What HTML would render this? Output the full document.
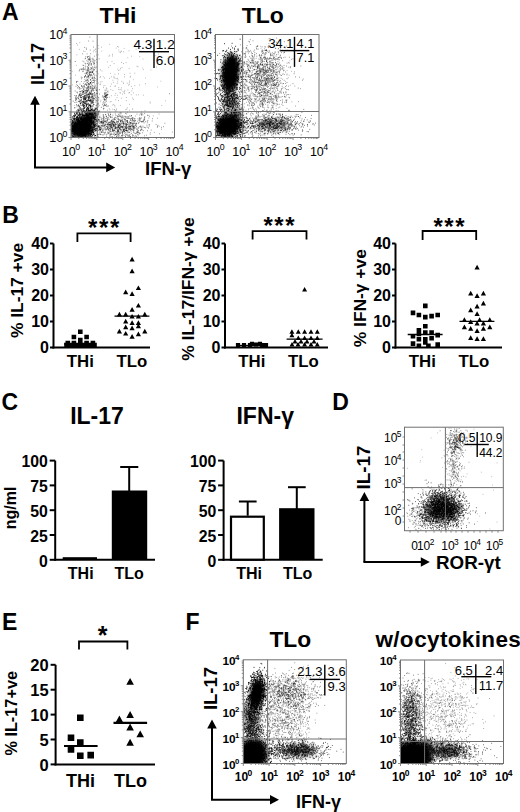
<!DOCTYPE html>
<html><head><meta charset="utf-8"><style>
html,body{margin:0;padding:0;background:#fff;width:520px;height:812px;overflow:hidden}
svg{display:block}
text{font-family:"Liberation Sans",sans-serif;fill:#000}
</style></head><body>
<svg width="520" height="812" viewBox="0 0 520 812">
<defs><filter id="b2_2" x="-50%" y="-50%" width="200%" height="200%"><feGaussianBlur stdDeviation="2.2"/></filter><filter id="b2_5" x="-50%" y="-50%" width="200%" height="200%"><feGaussianBlur stdDeviation="2.5"/></filter><filter id="b3" x="-50%" y="-50%" width="200%" height="200%"><feGaussianBlur stdDeviation="3"/></filter><filter id="b3_5" x="-50%" y="-50%" width="200%" height="200%"><feGaussianBlur stdDeviation="3.5"/></filter></defs>
<text x="2" y="20.3" font-size="23" font-weight="bold" text-anchor="start" >A</text>
<text x="2.3" y="222.8" font-size="23" font-weight="bold" text-anchor="start" >B</text>
<text x="1.5" y="409.8" font-size="23" font-weight="bold" text-anchor="start" >C</text>
<text x="332.2" y="409.6" font-size="23" font-weight="bold" text-anchor="start" >D</text>
<text x="2" y="629.6" font-size="23" font-weight="bold" text-anchor="start" >E</text>
<text x="185.5" y="629.6" font-size="23" font-weight="bold" text-anchor="start" >F</text>
<text x="118" y="23.2" font-size="23" font-weight="bold" text-anchor="middle" transform="translate(118 23.2) scale(1 0.93) translate(-118 -23.2)">THi</text>
<text x="262.8" y="23.2" font-size="23" font-weight="bold" text-anchor="middle" transform="translate(262.8 23.2) scale(1 0.93) translate(-262.8 -23.2)">TLo</text>
<clipPath id="c1"><rect x="71" y="34.5" width="103.5" height="103.0"/></clipPath><g clip-path="url(#c1)">
<ellipse cx="81" cy="129" rx="12" ry="10" fill="#000" opacity="1" filter="url(#b2_2)"/>
<ellipse cx="87" cy="121" rx="12" ry="6.5" fill="#000" opacity="0.9" filter="url(#b2_5)" transform="rotate(-45 87 121)"/>
<path d="M133.3 79.7h0m-23.6-24.5h0m11.9 43h0m38.7-55.9h0m-30.8 67.9h0m15.9-32.1h0m-9.3-28.9h0m-16.1 20.7h0m-16.8 6.8h0m-4.7 6.3h0m58-16h0m-6.3 36.1h0m-26.1-54.7h0m-7 35.2h0m41.2-29.5h0m9.6-12.8h0m-7 39.9h0m8.8 12.7h0m-7.9 11.6h0m-6-49.9h0m-25.2 20.7h0m-22.9 29.8h0m11.1-56.1h0m-2.7-1.9h0m-6.8 60.6h0m9.2-61.7h0m-11.1 44.5h0m-2.6 9.3h0m23-43h0m-24.5 28h0m39.8-26.8h0m-33.4-14.6h0m0.7 29h0m-12.1-27.8h0m52.6 24.3h0m16.9-11.5h0m-24.6-7h0m-3.4 5.2h0m-23.4 54.4h0m-18.7-19.7h0m22.2 1.4h0m21-41.7h0m-25.9 55.9h0m53-57.2h0m-24.7 20h0m-26.3 28h0m-10.1-8.8h0m-5.1-37.7h0m-3-2.8h0m70.6 45.2h0m-3.9 7.2h0m-64.6-0.6h0m20.3-49.2h0m32.8-4.6h0m-31.1 44.9h0m20.6 3.9h0m13.9-8.2h0m-60.1-10h0m25.9 5.3h0m19.6-14.1h0" stroke="#000" stroke-width="1.0" stroke-linecap="round" opacity="0.3" fill="none"/>
<path d="M126.1 62.6h0m1.1 20.6h0m-21 22h0m3.7 4.7h0m11.5-47.5h0m4.4 47.2h0m11.2-43.4h0m-28.3 1.1h0m24 30.7h0m-19.8-7.6h0m16.6 2.1h0m-3.2 8.1h0m-45.9-9h0m40.9 21.1h0m-11-26.3h0m14.6 3.9h0m4.6 14h0m-28.8-2.6h0m21.8-7.6h0m-9.2-11.7h0m-7.2 12.9h0m18.5-20.7h0m25.5-25.6h0m-35 46.4h0m5.2 10.2h0m0.3-12.6h0m-9.8-3.4h0m8-0.1h0m-20 9.1h0m5.2 4.8h0m-11.9-23.1h0m31.9 11.8h0m-9.1-17.9h0m6.2-22.7h0m-10.9 14h0m-9.9 16.5h0m26 15.5h0m-13.5 11.8h0m-4.8-17h0m23.8-1.4h0m-16.8-4.4h0m-29.4-17.8h0m27.3 11.5h0m4.5-1.9h0m-23.5 31.7h0m20.9-4.5h0m-20.7-25h0m-5.2 16.1h0m45.9-10.9h0m-37.8 13.1h0m29.8 10.3h0m-12.9-32.9h0m5.2-24.3h0m-4.3 26.1h0m0.9 21.8h0m7.8-48h0m9 36.9h0m-3.2-5.9h0m-11.8-36.3h0m-5.1 9.5h0m16.3 29.2h0m-13.5 0.6h0m-3.2-24.4h0m6.5 12.4h0m-10.9 36.4h0m-17.6-38.8h0m5.5 28.8h0m32.4-10.2h0m-23-4.5h0m29.9-12.3h0m10.6 10.5h0m-25.3 36.1h0m-6.2-42.1h0m6.2 12h0m-8.5-12.9h0m-0.3 18.9h0m13.4-3.9h0m7.6 27.6h0m-10.5-38.1h0m3.3 43.2h0m-15.8-27.2h0m11.3-29h0m-0.2-15.7h0m10.8 42.1h0m-27.7 14.7h0m-3.5-24.9h0m31.4-28.3h0m-2.4-5.4h0m-10.6 49.8h0m11.6-27.4h0m20.1 28.9h0m-47.6-6.5h0m-2.5-18.2h0m15.8 16h0m3-5.7h0m10.1 5.3h0m-26.9-22h0m7.4 7.4h0m28.6-11.6h0m-8.9 1.8h0m-33 29h0m21.9-17.7h0m3.3 8h0m12 11.5h0m6.4-14.4h0m-39.2-15.2h0m5.8 22.8h0m32.3 2.2h0m-7.3-8.4h0m-10 3.5h0m0.7-22.3h0m-16.7 44.6h0m19-18.6h0m-22.3-11.9h0m-6 7.5h0m31.2 18.6h0m-14.4-2.7h0m5.9-34.6h0m10.7 10.6h0m-31.3-26.2h0m19.6 27.1h0m9.7 50.6h0m-17.3-30.8h0m-2.8-39.9h0m1.7-5.7h0m-4.4 21.8h0m9.5-14.4h0m-3 38h0m-7.2-5.5h0m8.6-41.7h0m27 67.9h0m-3.2-27.4h0m-6.1-17.7h0m-29.5 6.9h0m-10.1 22.8h0m38.6-22.5h0m-5.8-0.8h0m-7.3-5h0m8.5-1.7h0m8.7 15.9h0m-9.6-29.3h0m-43.6 44h0m23.5-19.9h0m10.2 16.8h0m4.1-35.3h0m-17.5 7.5h0m1-29.4h0m-17.9 52.7h0m34.2-4.7h0m-6.4-11.2h0m-18-32.1h0m-16.7 32.5h0m19.2-32.7h0m-7.3 42.6h0m-7.9 7.3h0m7-23.9h0m-12-2.5h0m8 33.8h0m2.4-18.5h0m5.9 13.4h0m-15-49h0m15 4h0m-15.3-15.4h0m8 33.3h0m-7.7 30.1h0m-1.6-45.5h0m1 4h0m18.2 39.2h0m-19.4-43.1h0m-2.4 23.5h0m14.5 7.1h0m-3.6-41h0m-4.5 56h0m1.2-13.9h0m9.2 4.7h0m-4.2-31.9h0m7.3-4.1h0m1.8 21.3h0m-15.1-33.8h0m4.6 12.4h0m-6.4-16.8h0m-3.2 60.4h0m22.1-14.7h0m-16.6-48h0m12.9 27.3h0m1.1 3.5h0m-8.8-21.9h0m4.6 19.4h0m-17.5 0.3h0m24.6-16.3h0" stroke="#000" stroke-width="1.0" stroke-linecap="round" opacity="0.35" fill="none"/>
<path d="M129.5 126.2h0m11.8-11h0m16.2 3h0m-7.8 6.3h0m-10.2-9.5h0m-17.4 4h0m-14-5.8h0m10.1 16.4h0m-20-2.9h0m43-12.5h0m7.5 14.1h0m-8.7 5.2h0m-4.6-17.5h0m-2.3 5.7h0m-14.7 8.6h0m-21.1-0.6h0m0.4-9.3h0m2.8 1.8h0m11.2 5.7h0m12 1.3h0m-15.1-14.5h0m2.1 11.2h0m19.4 8.7h0m-24.9-1.6h0m45.1-0.4h0m-50.2-4.8h0m0.2 6.7h0m6-12.4h0m12.6-7.9h0m8.1 11.7h0m-21.2-11.5h0m-6 5.5h0m53.4-4h0m-25.6 8.6h0m-5 9.4h0m-3.2-13.8h0m39.7-6.1h0m-15.2 13.1h0m-7.9-2.7h0m-12.9-6.6h0m11.5 3.3h0m3 8.9h0m-2-4.8h0m-33.9-2.6h0m22.3-3.4h0m-3.6 2.3h0m14.1 7.3h0m7.6-1h0m-42.5 5h0m44.9-15.6h0m10.1 15.1h0m-46.4-18.4h0m-7 18.2h0m-0.9-1.2h0m23.6-7.8h0m-8.4 5.1h0m43.6-2h0m-34.4-2.4h0m5.9 0.9h0m-13.6 4.6h0" stroke="#000" stroke-width="1.0" stroke-linecap="round" opacity="0.4" fill="none"/>
<path d="M89.0 83.2h0m-0.6-13.8h0m-0.3 19.6h0m3.6-21.2h0m3.3 31.6h0m-5.9-36.7h0m4 17.8h0m-2.5-0.8h0m-2.5 6.7h0m0.6-45.4h0m1.1 43.5h0m0.8-1.5h0m-1.6-24.5h0m3 28.5h0m-5.6-2.6h0m3.8-34.3h0m1.8 11h0m-2.1-24h0m4.7 32.8h0m-3.3-0.9h0m-5.8 6.7h0m-0.6 3.6h0m8.4-8.9h0m-9.5 18.3h0m1.2-15.3h0m5.1 1.5h0m-6.8 8.5h0m3.1-9.9h0m8.4 13.6h0m-6.4-16.5h0m6.5 4.5h0m-11.3-7.7h0m5.6 5.6h0m-0.3-9h0m-0.5-7.5h0m2.7 8.6h0m-4.9 15.2h0m0.2-2.5h0m6.1 0.8h0m-5 1h0m-0.9-9.5h0m1.7-2.1h0m-3-1h0m11 0.1h0m-2.8-3.2h0m-4.5 10h0m-3.4 1.5h0m8.2 5.3h0m-8.3-4.5h0m6.1-1.3h0m-5-2h0m1.2 14h0m8.7-27.5h0m-4.8 25h0m-6.6-21.2h0m2.4 5.6h0m0.5-7.2h0m-6.7 20h0m7.7 18.7h0m-1.3-43.6h0m0.2 27.3h0m0.2-24.6h0m3.8 18.6h0m-2.2-5.6h0m-1.6 3.1h0m0.6-10.6h0m-1.5 1.6h0m3.3 5.3h0m5.7-0.1h0m-4.6 3.5h0m-10 3.6h0m8.3-3.3h0m0.9-7.9h0m-0.2 29.7h0m-7.6-36.2h0m7.3 11.4h0m-5.2-13.8h0m-1.4 6.8h0m4.8-5.6h0m5.6 0.3h0m-4.2 31.7h0m4.6-28.8h0m-3.2 8h0m-0.8 15.9h0m-2.7-16.9h0m7.6 15.9h0m-7.9-9.3h0m3.3-2.2h0m-4.2-25.2h0m3.2 11.1h0m0.6 33.5h0m4.8 8.2h0m-9.1-29.9h0m-6.1 11.9h0m14.9 4.5h0m-3-5.7h0m-1.8 11.5h0m-2.3-27.1h0m-5.1 4.3h0m11.3 7.9h0m-8.2 13h0m8.8-36.3h0m-11 36.6h0m6.6-33.9h0m1.1 13.4h0m-4.8 21h0m-1.8-45.9h0m9.3 14.2h0m-7.8 19.3h0m6.7-9.4h0m-2.9 5.7h0m6.5 10.7h0m-7.9-1.2h0m4.2-14.7h0m-0.1-5.3h0m3-17.5h0m-14.1 20.2h0m7.1 15h0m2-30.7h0m3.4 15.5h0m-3 3.8h0m1.6-0.4h0m-6.4-24.5h0m7.3 14.5h0m-3.3-1.3h0m-1.7 7h0m5.9 24.8h0m-11.7-24.3h0m9.4 9.5h0m-2.8-18.9h0m4.5 31.3h0m-6.8-18.5h0m2.9 21.2h0m3.7-19.1h0m-2.7 19.1h0m-3.3-36.4h0m-4.2 29h0m4.9 13.2h0m10.7-40.3h0m-11.9 14.3h0m2.3-1.1h0m0.4-7.9h0m0.9 8.2h0m3.1-2.8h0m-6 21.2h0m10.1-17h0m-12.3 7.1h0m8.2 5.9h0m-3.3-6.7h0m-2-4.2h0m-1.8 11.5h0m4.7-22.6h0m-3 0.3h0m-0.2 19.9h0m0.3-7.8h0m-6.8-8.2h0m3.5 14.9h0m-0.1-14h0m5.6 5.9h0m-2.9 24.8h0m7.3-22.2h0m-5-2.6h0m3.4 14.9h0m0.8-13.1h0m-4.6-21.5h0m-6.8 35.2h0m4.3-19.1h0m5.3 26h0m-2-11.4h0m-0.7-28.8h0m-1.9 22.6h0m6.1-2.4h0m-8.7-19.9h0m7.9 24.2h0m1.5 13.7h0m-8.7-12.4h0m3.8-26.6h0m7 18.5h0m-1.9 4.8h0m-12.8-10.7h0m11.3-9.8h0m-5.4 16.9h0m0 22.1h0m-2.9-7.7h0m2.6-11.3h0m-6.6-2.9h0m12.9-12.9h0m0.2 54.4h0m-7.2-36.2h0m2.4 2.2h0m4.4-6.7h0m-10.6 13.4h0m5.6-32.1h0m3.7 13.4h0m-13.2-2.6h0m13 6h0m-0.9 5.4h0m-7-5h0m9.3-2.5h0m-1.3-1.6h0m2.4 12.7h0m-2.1-25.7h0m-5.1 29.5h0m5.3-20h0m1.8-2.8h0m-4.6 16.9h0m-4.7-19h0m1.8 6.7h0m-2.7 14.3h0m3.9-8.4h0m0.1-8.7h0m4.4-0.1h0m-9.6 3.4h0m4.6 0.8h0m-8.8-1h0m9.1 5.1h0m6.2-12.7h0m-8.7 39.2h0m5.6-7.8h0m-2.3-11.2h0m2 8.2h0m-1.1-28.4h0m4.5 4.1h0m-10 10.1h0m-1-8.6h0m13.4-6.6h0m0 17.5h0m-4.4 14.6h0m-0.1-16.9h0m-4.1 3.8h0m-1.4-20.7h0m-4.2-6.8h0m11.9 27.6h0m-2.3 1.3h0m-8 4.3h0m5.1-27.7h0m1.2 2.7h0m-2.7 25.5h0m7.1-26.8h0m-8.9 15.9h0m0.9 3.5h0m2.4-5.4h0m3.2-3.2h0m-2.7 30h0m4.1-19h0m-3.6 0.5h0m0.4 0h0m-6.8 8.8h0m11.4-23.9h0m-6.6 18.3h0m1.1 0.9h0m1.4-23h0m-0.7-4.2h0m3.6 16.2h0m-10 5.6h0m5.9 4.4h0m2.4 9.8h0m4.6-14.7h0m-12.8-12.1h0m0.8 18.6h0m2.3-30h0m5.6-16.5h0m-3.7 33.4h0m1.1 7.9h0m-3.1-7.9h0m-1.5-17.9h0m3.2 9.1h0m-8.8 3.3h0m7.6-5.4h0m9.6 15.3h0m-10.2-15.7h0m6.4-16.2h0m-1.7 40.1h0m-2.5-14h0m-7.3 4.5h0m7.2 14.4h0m-2.2-38.2h0m5.8 4.3h0m-2.9 11.2h0m0.5 32.6h0m-3.1-32.2h0m-0.5 15.1h0m2-6.2h0m-2.8-4.8h0m10.9 9.7h0m-6.3-4h0m6.7-7.7h0m-6.2 29.5h0m0.5-32.9h0m-1.5 0.7h0m1.2-5.8h0m-1.2 41.5h0m-4.9-20.5h0m-1.6 7.3h0m10.4-41.5h0m-11.1 15h0m-7 21h0m12.2-15.2h0m-4.4-1.6h0m5.7 28h0m19.8 18.7h0m-6 6.2h0m0 0.2h0m-0.9 1.3h0m16.6 8.1h0m-11-7.1h0m6.1 0.4h0m7 5.6h0m0.4-4.4h0m-23.8 0.6h0m-0.1-12.6h0m4.5 16.9h0m24.1-1.7h0m21.2 1.2h0m-27.8-15h0m19.3 4.4h0m5.2 2.7h0m-17.3 8.2h0m-23.6-0.1h0m17.6-14.5h0m-23.2 13.9h0m26-5.3h0m3.2 5h0m3.5 6.4h0m-7.3-14.3h0m10 6.5h0m-7.4 5.5h0m8.3-10.5h0m-35.1-1.6h0m28.1 8.2h0m-23.8-8.5h0m27.4 4.8h0m-19.1-5.7h0m29.7 8.6h0m-14.5-1.1h0m-23.4-5.8h0m12.1-5.3h0m11.8 6.6h0m-13 9.8h0m2.9 1.9h0m-2-8.2h0m-4.7-1.2h0m6.6-10.6h0m-0.3 6.2h0m-8 5h0m9.4-0.8h0m14.7-16.9h0m-4.7 7.9h0m-22.8 4.5h0m-3.6 1.4h0m3.9 9.2h0m16.5-4.3h0m-29.2-11.6h0m20.1-1.1h0m-15.5 10.7h0m27.3 0.8h0m9.3 0.1h0m-7.3 0.2h0m19.7 8.3h0m-31.6-4.7h0m10.9-12.7h0m-13 12.7h0m12.6-6.9h0m7.6 4.2h0m-22.4-11.2h0m20.9 13.2h0m-35.8-7.6h0m17.2-2.9h0m5.5-0.9h0m5.9 10h0m10 4.6h0m-5.6-6.5h0m18.3-1.3h0m-35.3 0.7h0m-0.9 3.3h0m6.6 4.5h0m6.3-10h0m-10.9-0.3h0m16.1 8.9h0m-6.7-11.2h0m-27.7-5.2h0m10.9 7.2h0m4.6 13.1h0m-2.1-18.6h0m-1.2 0.6h0m-28.2 8.6h0m43.5 0.5h0m-37.3-0.7h0m3.4 5.1h0m13.8-2.1h0m13.7-18.6h0m-13.3 14.9h0m30.2-2.1h0m-28.5-3.4h0m9.8 4.4h0m-8.3-6.1h0m36.2-0.7h0m-34.4 1h0m10.4 2.6h0m23.1 5.5h0m-34.7 3h0m17.7-0.6h0m-20-6h0m32.6 0.2h0m-23.1 7.8h0m31.5-4h0m-1.8-1.3h0m-17.3 1.2h0m-7.8 3.9h0m11-0.6h0m-5.8-3.8h0m5.6 2.1h0m8.6 1h0m-46.9-7.4h0m48.4 5.5h0m-14.9 2h0m23.4-8.8h0m-28.1 3.8h0m1.9 1.2h0m-37.6-2.5h0m42.5 6.7h0m-27-3.8h0m30.4-2.7h0m-25 10h0m4.4-4h0m-0.2-5.4h0m17.9 3.9h0m-17.1-6.3h0m-14.4 3.5h0m28.3 3.6h0m-1.2 6.9h0m-40.7-23.6h0m26.9 19.8h0m2.9-15.3h0m17.3 19.8h0m-6.2-13.9h0m15.9 12.8h0m-44.7-12.3h0m48.5-1.8h0m-18.9 7.7h0m-10.5-12.2h0m22 1.2h0m-24.3 15.9h0m-21-18.9h0m46.7 9.6h0m-38.9 3.8h0m4.7-3.3h0m19.8 4.2h0m-18.4-5.4h0m-9.5 0.7h0m30.3 5.4h0m-3-9.8h0m11.4 6h0m15.6-6.2h0m-49.4 5.1h0m0.4-5.9h0m26.5-6.2h0m-11.8 11.1h0m0.9-5.1h0m-21.5 5.6h0m44.3-3.8h0m-56.4-11h0m60.8 16.9h0m-8.2 3.7h0m-16.1 1.4h0m7.3-11.2h0m10.5-0.3h0m0.2 0h0m-32.1 0.1h0m16.5 4.7h0m6.3 3.4h0m22-13.4h0m-24.3 15.2h0m-16.4-3.8h0m12.9 3.1h0m0.6-7.3h0m-26.9-4.2h0m27 14.2h0m4.4-6.4h0m-26.4 3.4h0m-1-3.2h0m10.2-8.8h0m-8.4 4h0m17 14.8h0m1.1-19.4h0m-8 13.9h0m7.4-3.1h0m-28.3-5.8h0m-11.3-1.3h0m36.8 4.4h0m0.9-0.1h0m12-4.1h0m-7.3 7.3h0m4.8 1.2h0m1.1-8.4h0m15.5-6.3h0m-10.4 10.9h0m-11.2-9.4h0m13.1 19h0m-20.1-11.5h0m-5.9 4.8h0m0.2-2.1h0m11.6 0.3h0m-7.8-5.3h0m-0.5 13.2h0m4.8-15.3h0m11.2 5.9h0m-15.8 2.6h0m8.8-4.5h0m7.9-1.5h0m-8.5-2.3h0m-13 5.1h0m20.1-3.8h0m18.6 14.9h0m-23.4-15.3h0m-17.3 8.3h0m25.8 7.6h0m-10.9-22h0m5.4 17.2h0m-9.2-8.3h0m3.7-3.2h0m13.1 5.9h0m-1.7-3.2h0m-15.2 6.1h0m-1.9-0.9h0m26.5-1.3h0m-17.2-7h0m12.1 3.4h0m-33.5 3.8h0m30.9-5.9h0m-24.3 8h0m-9.7-3.1h0m-9.9 5.2h0m46-3.8h0m-3.8 2h0m11.5-17.3h0m-34.4 21.9h0m11.4-6h0m19.6-0.5h0m-45.3-6.7h0m25 1h0m22.5 8.9h0m-48.7-8.6h0m32.7 9.4h0m-0.7-7.4h0m-21.5 1.8h0m24.8-1.4h0m-14.2-1.6h0m-8.3 5h0m23.7 7.9h0m-32.5-5.7h0m27.7-6.3h0m29.1-5h0m-38.3 7.8h0m3.4 2.6h0m6.1 1.5h0m-12-5.6h0m22-1.6h0m-15.8 4h0m-23.1-7.5h0m36.1-1h0m-15.8 6.7h0m15.4 11.3h0m-26.7-18.5h0m-0.8 8.5h0m19.1-11.2h0m-4.9 10.3h0m-9.8 1.9h0m26.4 1.9h0m-4.8 2.8h0m-13.2-5.4h0m18.2 3.6h0m-13.5-6h0m-16.7-6.6h0m3.3 6.7h0m6.3 1.2h0m5.7-0.7h0m16.9 2.6h0m-6.4 0.9h0m-10.8-9.7h0m-6 2.3h0m11 3.8h0m-13.3-2.3h0m-3.1 6h0m50-2.6h0m-48.8-11.3h0m32.2 10.9h0m-28-3.5h0m25.6 8h0m-32.5-1.3h0m38.1-9.5h0m-18.4 16.6h0m4.7-9.6h0m10.1-0.4h0m-16 6.8h0m-10-2.7h0m3.9-9.2h0m-14.2-1.5h0m22.1 4.2h0m10.1 9.2h0m-35.3 1.6h0m15-6h0m23.5-8.5h0m25.4 3.1h0m-44.7 4.9h0m-1.3 2.9h0m4.1-14.9h0m-1.3 19.5h0m0.4-12.3h0m-12.6 1.3h0m35.1-11.1h0m-29.1 1.4h0m8.8 16.6h0m7.9-5.8h0m-7.6-6.7h0m17.4-5.5h0m-5 0.5h0m-24.2 14.5h0m7.9-15.8h0m-15.5 16.2h0m-9.7-16.3h0m42 21.7h0m-13.2-18.1h0m-0.4 1.5h0m3.4 0.6h0m15.6-3.5h0m-5.1 13.9h0m-5.6-3.7h0m0.7 1.8h0m-24.8-3.5h0m11.4 2.2h0m-1.4 4.5h0m-3.5-0.1h0m0.6-16.9h0m12.1 7.7h0m-34.1 13.2h0m21.1 1.7h0m22.1-12.4h0m-18.4 10.9h0m-15.5-11.5h0m16.3 4.6h0m-0.2-1.7h0m-5.5-4.5h0m3.3 6.8h0m-7.5-3.7h0m20.5 8.1h0m-21-2.4h0m9.6 3h0m-1.5-23.8h0m-11.8 16.5h0m22.9 10.2h0m-6.8-6.1h0m-17.6-7.7h0m15.2 4.1h0m11.4 0.1h0m1.4-10.6h0m-31.2 14.1h0m17.9-6.9h0m-1.4 13.9h0m-11.1-9h0m32.9-4.8h0m-9.5 5.7h0m-17.5-6h0m0.1 5.1h0m25.1-1.3h0m-30.1 2.9h0m24.6-13.1h0m0.8 2.1h0m11.9 2.1h0m-46.2 11.1h0m22.1-3h0m14.5-2.4h0m-17.7 6.1h0m0.4-7.8h0m-4.9-4.3h0m23.1 7.7h0m-17-5.6h0m-7.9-9.8h0m7.9 19.9h0m-4-9.9h0m-15.5 7.9h0m17.2-1.8h0m4.5-12.7h0m0.5 16.2h0m1.9 1.7h0m9.2-15.3h0m-10.6-1.6h0m-12.6 12.2h0m28.7 2.5h0m-21.4-4.1h0m-17.7 9.3h0m9.5-15.9h0m33.7 8.9h0m-31.6-5.2h0m-6.5-8h0m-29.8 1.3h0m44.6 17.4h0m-8.9-9.8h0m13.3 2.6h0m25.1-12.8h0m-13.9 12.5h0m-31.5-6.5h0m-2.9-0.4h0m19.2 6.1h0m-11.8-20.6h0m42.8 9.9h0m-37 20.5h0m3.1-12.5h0m-7.7 3.1h0m8.6-6.3h0m-16.8 2.3h0m-10.6-3.9h0m47.3 12.8h0m-25.7-5.8h0m20-2.9h0m-21.5-1h0m29.7 11.8h0m-1.3-2.3h0m-8.9-6.8h0m2 3.1h0m-5.5 0.1h0m47.1 3.7h0m-59.2-7.7h0m20.7 2.1h0m-13.1-5.2h0m9 4.8h0m-5.4 3.7h0m-2.4 5.7h0m-33.5-3.8h0m36.4-12.5h0m-24.4 8.1h0m33-2.4h0m-23.4 2.7h0m29.4-8.4h0m-33.3-3.3h0m-8.5 18.5h0m20.5-8.2h0m-11.8-9.7h0m-5 5.9h0m12.7 3.1h0m-23.8-4.3h0m39.3 5.4h0m-26.5-1.3h0m11.5-2.8h0m-10-1.4h0m18-4.1h0m-9.4 4.1h0m17.1 1.8h0m-22.3-0.8h0m24.5-4.6h0m-45.3 1.6h0m43.1 3.7h0m-13.3 8.9h0m1.5-0.4h0m19.6 1.6h0m-40.6 2.3h0m33.4-8.9h0m16.5-3.5h0m10.6 2.6h0m-23.4-5.4h0m-8.3 5.2h0m-27.1 3h0m22.8-10.7h0m-25.4 8h0m65.1 1.8h0m-0.2 1.9h0m-55.3-8.4h0m1.4-0.6h0m35.9 1.2h0m-9.6 5.2h0m-27.1 9.6h0m5.4-4.7h0m23.9-8.3h0m-23.5 7h0m15.7-3.9h0m-2.6 9.9h0m6.7-11.9h0m-11.5 2.2h0m28.2-1.7h0m-13.9-6h0m-30.3 6.9h0m2.9 6.4h0m15.2 0.4h0m12.2-9.1h0m-34.3 1.7h0m-14.5 0.4h0m17.2-8h0m37.1 3.6h0m-30.3-7.1h0m-10 16.6h0m24.9-11.3h0m-29.8-6.4h0m14.5 20.9h0m20.9-13.3h0m-4.1 7.6h0m3.5 1.1h0m10.5 0.9h0m-21.6-3.2h0m2.8-0.3h0m-2-2.2h0m-22 10.5h0m25.8-13.5h0m23.4 5.7h0m-48.4-12.9h0m10.3 1.6h0m-7.6 3.6h0m11.2 4.3h0m5.7 12.7h0m7.8-11.9h0m-3.2 6.7h0m-33.5-10.3h0m23.7 5.3h0m-9-0.9h0m-12.1 8.9h0m38.3-7.2h0m-25.7-2.8h0m-9.4 2.2h0m16.5 0.3h0m1.4-1.4h0m-9.4 9.6h0m14.2-4.2h0m1.3-3.4h0m-9.6-3.2h0m7.7-0.5h0m16.1 8.6h0m-24.6-9.7h0m26.1 13.7h0m-29.4-15.2h0m21.4 9.4h0m-15.2-6.8h0m-21.7-2.3h0m12.5 9.2h0m9-2.8h0m0.5-2.5h0m32.9-8.4h0m-0.2 2.8h0m-26.3 15.2h0m-0.7-15.7h0m-6.7-1.8h0m11.3 9.6h0m22.1-9h0m-29.8 0.3h0m13-6h0m-9.2 4h0m10.6 11.3h0m-19.3 4.7h0m23.3-6.5h0m-10.7-5h0m-1.9 0.3h0m-8.2 8.5h0m-6.8-4.6h0m18.7-1.1h0m2.3-0.5h0m-3.8 12.4h0m-8.1-13h0m-8.2-0.3h0m-0.6-0.7h0m5.4 4.5h0m31.6 6.6h0m-6.8 2.8h0m-25.9-0.4h0m-6.9-5.3h0m14.6 1.5h0m15.3 4.1h0m15.2-8.2h0m-27.7-6.1h0m-12 6.7h0m-23.7-5.8h0m45.8-2.1h0m-35.8 2.8h0m21 4.8h0m-5-1.9h0m4.4 5.8h0m-1.6-5.9h0m4.6 1.4h0m26.8-16.1h0m-27.8 13.9h0m18.7 8.9h0m-41.2-6.1h0m17 6.7h0m-4.5-10.4h0m36.9-3.8h0m-29.1-2.4h0m0 11.1h0m26.8-7.3h0m-29.5 3.1h0m0.9 5.7h0m7.7-16.4h0m-14.1 7.1h0m20.5-0.3h0m4 12.8h0m12.9-15.1h0m-18.8 1.4h0m-28.7 7.2h0m-11.5-4.2h0m20.3-8.2h0m8.4 9.9h0m14 3.8h0m-36-9.7h0m41.9 2h0m-17.9 14h0m2.8-0.7h0m-35.7-7.2h0m38.9-1.9h0m4.7-6.8h0m-21.9 3.9h0m33.3-3.1h0m-11.5 11.9h0m-8.6-0.1h0m6.2 4.7h0m-13.7-5.7h0m25.9 6.9h0m-32.1-14.9h0m23.7-3.6h0m-30.1 6.1h0m17.4 2.9h0m8.1 4.4h0m14.9 1.2h0m-47.4-10.6h0m42.1-1.7h0m-20.6 1.8h0m25.1 10.3h0m-12-9.6h0m1.6-2.4h0m-35.8-1.2h0m49.3-0.1h0m-11.6-2h0m2.6-1.5h0m-15.4 18.9h0m11.5-7.1h0m-0.9-3h0m-17.1 4.1h0m9.9 4.2h0m19-0.8h0m-18.9-2.3h0m-18-1.7h0m-16.2 7.8h0m60.1-14h0m-34.6 2.8h0m2.7-3h0m-3.7 3.3h0m3.7-2.9h0m28.2 0h0m-30.5 2.9h0m10.9 8h0m-8.2-13.9h0m18.9 1.9h0m-15.4 9.6h0m25.8 0.3h0m-3.6-12.8h0m0.6 0.3h0m-37.3 8h0m-13.8-8.7h0m27.1 5.1h0m10.1 4.1h0m1-4.4h0m-1.6-5.9h0m-3.1 15.1h0m-4.4-2.3h0m-12.1 5.5h0m-6.9-8.9h0m-2.1 2.2h0m12.9-3.4h0m18.8 4.8h0m-18.3-14.6h0m-22 9.3h0m15-8.2h0m-6.8 0.2h0m16.7 14.4h0m-9.9-11.4h0m3.7 5.4h0m10.7-8h0m-18.5 11.5h0m14.4 4.2h0m12.2-6.9h0m-28.6 1.1h0m3.9-0.4h0m38.3 6.8h0m-8.6-4.4h0m-20.4 0h0m28.9-10.2h0m-17.4 8.1h0m6 1.4h0m-2.4 4.8h0m-4.7-5.1h0m28.2-1.4h0m-19.1 2.8h0m-9.7 0.7h0m-17.5-5.9h0m8.1 9.4h0m2.5-6.8h0m18.1 3h0m-21-14.6h0m5.1 12.1h0m4.6-1.9h0m-4.8 9.8h0m-9.3-8.1h0m4.8-3.1h0m7.2 0.9h0m12.6 2.9h0m-4.2-13.3h0m4.7 8.8h0m-0.7 0.1h0m-22.6 2.8h0m1.9-3.3h0m17.5-0.3h0m6.8-0.3h0m-32.1 10.8h0m17.7 1h0m-12.6-5.9h0m18.6-0.9h0m-7-1.9h0m-6.1 5h0m20.1 0.5h0m-3.2-9h0m-0.6 3.1h0m-10.1 0.4h0m10.2 10.7h0m5.4-7.5h0m-43.6-0.8h0m10.3-9.1h0m24.9 9.5h0m-24.1-5.3h0m46.8-4.3h0m-19.3-2.2h0m-13.9 18.7h0m-20.1-8.9h0m19.5 7.3h0m4.9 4h0m25.6-9.1h0m-23.9-4.5h0m1.4-0.7h0m-8.1 1.5h0m-0.9 10.2h0m24.2-11.1h0m-18.4 4.7h0m2.2-6.6h0m-26.7 7.6h0m19.2-6.9h0m-37.2 2.8h0m30.9 8.8h0m6.7-6.9h0m16.2-3.1h0m3.9 1.8h0m-29.4-0.7h0m36.5 5.3h0m-46.1-14.6h0m14.5 15.6h0m-1.4-11.8h0m23.1 4.3h0m-10.1-2.1h0m-9.1 13h0m-5.6-10.3h0m15.5 2.7h0m-13.8 3.9h0m-6.4-1.7h0m10.2 0.7h0m7.1 3.9h0m32.1-12.6h0m-23.6 2.1h0m-15.4 7.3h0m20.4-12.3h0m-7.8 6.7h0m7.2 2.1h0m0 2.6h0m-52.8-14.7h0m14.4 14.6h0m22.9-13.2h0m-20.1 6.9h0m26.4-0.8h0m17.5 5.9h0m-8.6 6.6h0m-46.2-1.6h0m24.3-12h0m9.9 6.3h0m11.3 1.9h0m-23.7-23.4h0m8.4 12h0m-16.1 3.9h0m36 7.2h0m-10.5-1.5h0m1.7-5.2h0m-16.4-1.4h0m11.2 11.6h0m-34.8-13.3h0m22.7 5.1h0m25.6 1.7h0m-6.9 3.1h0m-6.8-2.1h0m-1.2-9.1h0m-21.5 12.9h0m20.1-6h0m20.1-3.8h0m-36.9-1.1h0m25.7-1.5h0m-2.5 2.7h0m0.2 13h0m-11.8-24.5h0m15.7 9.2h0m-2.3-2.3h0m-29.1 3.4h0m27.8 10.5h0m-18-6.7h0m8.4 4.2h0m46.5-1.3h0m-38.5 0.4h0m-17.1-8.2h0m23.1 12.9h0m-17.3-7.9h0m4.6-2.1h0m21.4 11.7h0m-29-6.3h0m3.1-5.3h0m-2.7 3.5h0m-0.8-8h0m4.6 11h0m-2.9-7.2h0m28.8-7.4h0m-18 13.2h0m-2.6-0.8h0m37 1.1h0m-46.2 9.1h0m-8.9-18h0m9.9 12.7h0m7-3.5h0m-9.2-2.7h0m1-2.1h0m11 8.2h0m8.6-0.6h0m-10.1-7.1h0m-4.4 1.1h0m2.5 6.9h0m-16.1 3.6h0m31.5-7.8h0m-24.9 2.4h0m14.9 0.4h0m-32.7-9.1h0m38.8 1.7h0m-0.3 5.3h0m-14.8-7.8h0m-5.4 8.3h0m23.2-9.3h0m-31 9.4h0m31.8 0.1h0m-0.6-8.5h0m-21.1 0.7h0m-15.2 8.2h0m9.6-2.4h0m19.4 4.1h0m-21.9 1.8h0m29.1 4.2h0m-10-1.9h0m-18.2-17.5h0m21.4-0.6h0m1.6 14.1h0m22.6 3.5h0m-38.4-0.1h0m20.7-15.2h0m0.5 3.9h0m-3.7-4.2h0m-19 13h0m5.5-8.6h0m-8-3.5h0m4.5 7.9h0m3-3h0m35.9 5.7h0m-46.9-3.9h0m21.9 8.8h0m-16.7-8.6h0m14.7 2.7h0m35.1 4.7h0m-42.5 0h0m11 0.5h0m-10.7-6.9h0m10.7 4.1h0m-4-4.3h0m-19.4 5.5h0m15.2 2.4h0m-13.1-18.4h0m49.6 7.9h0m-47.5 8.5h0m33.9-11.8h0m-22.6-8.4h0m-16.1 13.1h0m-8.6 3.9h0m16.7-2.6h0m11.6-3.7h0m19.5-1.7h0m-66.9 7.3h0m49.1 1.4h0m0.4-2.4h0m-12.7-1.2h0m1-7.8h0m-8.8 10.6h0m24.2 5.2h0m5.9-1.6h0m-22.8-4.5h0m7-5.4h0m1.5-3.4h0m-1.3 8.4h0m-13.8-31.6h0m0.3-1.5h0m-1.6-0.8h0m0.7-0.7h0m-1.2 5.3h0m0.4-5.7h0m-1.1 12.7h0m3.6-8.7h0m-1.9-7.2h0m1.1-0.2h0m0.4 9h0m0.6-4.8h0m-1.6 1.5h0m0.1 3.6h0m-1 5.2h0m0.8-8.8h0m2.1-0.8h0m-0.6-0.5h0m-2.1 2.3h0m-1.4 5h0m4-4.5h0m-2.1 8.3h0m0.8-8.9h0m1.9-2.4h0m-2.6 2.8h0m2.6-6h0m-1.4 13.2h0m-0.6-8.9h0m-1 7.1h0m-0.2-10h0m-0.8 5.5h0m0.9 1.7h0m-0.4-0.6h0m1.3 1.8h0m-3.5-4.1h0m1.1 0.5h0m3.1 3.9h0m-2.2-2h0m1.7-5.2h0m-0.9 11.3h0m0.7-8.2h0m0.1-4.8h0m0.2 2.7h0m0.1-6.9h0m-1.4 17.4h0m-1.8-2.5h0m0.9 2.7h0m1-1.5h0m-0.1-7.7h0m1.8 1.8h0m0.6-3.2h0m0.2-0.5h0m-4.7 10h0m2.5-11.3h0m-0.2 2.5h0m-0.8 0.7h0m2.2-0.6h0m-2.1 4.2h0m2.3-4.7h0m-0.8 2h0" stroke="#000" stroke-width="1.0" stroke-linecap="round" opacity="0.5" fill="none"/>
<path d="M86.5 110.3h0m0.1-9.1h0m5.8 1.1h0m-11.8 1.4h0m2.4 7.8h0m14.6-17.9h0m-5.6 3.9h0m-15.6 7.1h0m16.4 8.4h0m-3.9-18.5h0m4.8 5.7h0m-5.5 4.1h0m-5.4 0.5h0m3.9-15.6h0m3.5-0.6h0m-7.3 15.2h0m-0.8 2h0m-2.2-4.8h0m11.6-4.3h0m-7.8 1.6h0m-3.3-2.2h0m3.9-2.9h0m6 11.8h0m-3.9-0.5h0m8.2-9.4h0m4.7-1.1h0m-13 11.9h0m-4.9-5.7h0m3.6 1.2h0m11.7-7.8h0m-14.3 3h0m-1-1.6h0m-0.8 12.8h0m6.2-1.1h0m4.3-16.5h0m-2.6 15.8h0m-4.7-6.5h0m2.7-9.2h0m-2.7 14.4h0m4.6-0.5h0m-7.6-8h0m11.5-6.8h0m-6.2 1.5h0m1.4 16.6h0m7.1-15h0m-7.9-7h0m2.5 9.9h0m10.1-5.7h0m-18.4 5.3h0m11.1-6h0m0 6.3h0m-0.9-0.8h0m-10.1 8.3h0m4.9-3.8h0m2.5 14.5h0m9.9-10.4h0m-5.8-6.6h0m3.6-6.3h0m-16.2 17.9h0m8.6-1.3h0m0.7-1.5h0m5.5-6.8h0m-8.8 4.3h0m8.9-15.7h0m-6.1 12.7h0m-0.5-5.6h0m0.9 13.5h0m-6.5 7.4h0m7.4-9.7h0m1.4 4.2h0m-10.7-9.2h0m12.2-5.9h0m-16.8 4.5h0m0.9-6.9h0m4.6-1h0m2.7 8.3h0m-7-6.6h0m10-10.4h0m-0.7 31.5h0m0.9-12.9h0m3.1 0.1h0m-2.1 11h0m-12.7-12.9h0m9.2 3.8h0m1.2 1.4h0m2.3-20.8h0m-8.2 13.9h0m-1.1-1.7h0m12.8-7.2h0m-11.1 14.2h0m2.9-1.9h0m12.3 4.9h0m-12.3-4.2h0m4.4-1.2h0m-7.7 3.5h0m14.5-9.8h0m-14 11.2h0m9.2-4.8h0m-10 3h0m1.4-17.7h0m1.9 19.6h0m6.3-1h0m1 7.7h0m-10.7-20.7h0m12.6 11.8h0m-7.9-7.3h0m0.7 3.7h0m-3-7.2h0m3.5 6h0m-4-0.3h0m7 22.5h0m-10.5-22.2h0m-3.1 2.2h0m14.8 6.3h0m-4.2-11h0m4.9 10.5h0m-14.8-9.7h0m8.4-0.7h0m-2.4 15.7h0m7.4-6.5h0m-5.7 3.4h0m2.5-12.6h0m-9.3 9.6h0m4-17.2h0m10 4.8h0m-4.8 12.8h0m-10.9-8.6h0m9.9 14.7h0m1.6-6.9h0m5.4-2.9h0m-3.1-9.1h0m-3.8 4.7h0m-0.9 9.9h0m7-7.3h0m-3.4-3.5h0m0.8-6.7h0m-1.4 14.1h0m-3.9-12.3h0m-2.1 18.4h0m-6.5-15h0m8.8 10.8h0m5.6-11.5h0m-1.4-7h0m-5 4.3h0m6.4 4.7h0m8.4-0.4h0m-10.9 4h0m11.9-0.4h0m-21.2-14.6h0m12.1 19.6h0m-5.2-2.4h0m7.4 9.9h0m-10.4-13h0m-1.6 6.4h0m5.6-12.7h0m5.5 10.5h0m-5 0.5h0m-10.7-13.2h0m10.2 7.9h0m9.8 13.7h0m-2.9-13.6h0m-9.5 2.6h0m-0.9-15.4h0m-2.3 8.2h0m18.3 6.6h0m-12.4-1.7h0m-3.1 10.6h0m7.3 2.2h0m-8.7-18.7h0m15.4-3.1h0m-10.6 13.2h0m-1.9-14.4h0m2.2 18h0m2.9-10.5h0m8.6 13h0m-6.8-9.3h0m2.2 0.7h0m-7.3-5.7h0m5.8 10.6h0m-2.9 3h0m-5.5-6.5h0m5.7-7.4h0m-3.3 4.3h0m3.9-2.5h0m-11.6-15.4h0m10.7 29.2h0m9.7-3.8h0m-15.8-16.1h0m9.8 11.1h0m-8.7-4.8h0m3.7-6.1h0m2.4 22.7h0m-5.1-17.8h0m-2.3 12.6h0m1.1-14.1h0m2.7 3.6h0m1.3 5.2h0m-3.7-13.4h0m1.3 0.8h0m-1.3 16.6h0m0.7-5.4h0m3.8-5.2h0m-2.9 14.8h0m3.4-13.7h0m-1.1-2.8h0m1.7 3.6h0m2.2 1.3h0m-4.7 13.5h0m-1.4-9.6h0m-2.5 11.8h0m-1.8-18h0m3.6 1.3h0m-5.5-3.1h0m11.4 4.5h0m2.3-3.7h0m-6.5 13.2h0m-0.7-8.2h0m6.3-3.2h0m-10 3.2h0m7-7.6h0m-5 12.8h0m14.8-9.1h0m0.3 7.9h0m-14.5-7.7h0m-1.4 11.5h0m12.7-14h0m-12.3 11.5h0m4.5-16h0m-2.9 8.8h0m3.3 3.8h0m0 7.4h0m-7.4-13.1h0m2.9 1h0m6.9 9.8h0m-0.3-9.2h0m-7.1-0.2h0m17.9 8.3h0m-12.5-19.8h0m-3 10.3h0m-8.7 18.2h0m1.3-14.5h0m17-4.3h0m-3.3 16.8h0m-5.4-19.2h0m5 6.8h0m-8.4 0.8h0m-0.7 2.9h0m7 9h0m-11.2-27.7h0m6 10.3h0m6.8 5.5h0m-14.7-6.8h0m15.6-10h0m-4.6 6h0m-2.5 11.5h0m11.5-2.4h0m-12.8-4.3h0m4.1 4.6h0m-4.8 0.3h0m5.3-3.4h0m-7.4 2.7h0m4.3-4.6h0m-1.7 1.2h0m0.3 5.7h0m6.1-10.4h0m3.4 8.3h0m-4.8-3.5h0m3-6h0m-4.6-2.8h0m5.7 12.9h0m-1.3-10.8h0m-4-0.3h0m-7.9 18.7h0m14.7 1.3h0m-4.1-17.3h0m-10.3 0.9h0m10.5 6.6h0m-1.7-5.9h0m-9.4 12h0m7.2-8.8h0m-2.5 5.2h0m-2-0.7h0m-1.1 6.9h0m-1.4-7.7h0m9 4.3h0m-8.6-3.8h0m-1.3 3.4h0m5.9-1.5h0m0.7 3.6h0m7.3-16.8h0m-2.5 26.9h0m3.2-24h0m-17.1 5h0m7.6-7.1h0m10 10.8h0m-3.3-8.4h0m1.8 3.7h0m-13.8 8.2h0m5.5-3.9h0m1.6-4h0m7.7 8.2h0m-8.7-6.9h0m1.9 1.5h0m7.4-11.5h0m-2.1 14h0m-4.3 7h0m-7.2-10.9h0m11.6-6.3h0m-12.6 2h0m8.9 16.5h0m5.9-15.7h0m-2.7 1h0m-7 11.5h0m9.2-5.3h0m-0.4 2.6h0m-4.9-6h0m-1.5 1.5h0m-2.3 4.2h0m5.9-5.2h0m-7.7-5.7h0m2.6-0.5h0m0.2-3.6h0m2.5 3.9h0m-2.8 6h0m-0.6 7.3h0m8.6-21.7h0m-6.2 8.5h0m-7.2 12.4h0m17.6-16.8h0m-13.5 14.6h0m3.2-12.8h0m3.4 2h0m0 11.9h0m-11.5-8.9h0m-2.2 16.4h0m13.9-7.6h0m-2.4-1.5h0m6.8-16h0m-1.1 9.4h0m-5.2 3.1h0m-0.7 16.8h0m-7.3-2.5h0m5.3-13.4h0m3.1-12.4h0m-7.9 6.6h0m5 0.3h0m-2 9.9h0m8.5 1.1h0m-8.5-8.2h0m4.5-0.9h0m-4.1 5.5h0m2.9-7.8h0m9 9.7h0m-15.4 3.5h0m3.6-22.5h0m-3.2 24.1h0m-4.4-12h0m9.6 5h0m-7.4-15.2h0m5.4 20.3h0m0.5-9.8h0m-5.1-6.9h0m6.8 9.3h0m-2.7 5.1h0m0.2-8.7h0m13.8 7h0m-16.5-6.9h0m5.9-0.5h0m-4.6-9.2h0m-0.2 16.5h0m7.2-6.2h0m-7-4.3h0m-3.7 6.2h0m0.7-5h0m7.2 16.8h0m-4-10h0m8.9 8.1h0m5-16.7h0m-6.5-10.6h0m3.3 15.9h0m-7-1.4h0m2.9 3.6h0m-12.1-12.8h0m-2.6 14.6h0m14.9 7.7h0m-4.7-13.1h0m-1.3 13.2h0m-5.2-12.2h0m-1.9 1.7h0m4.2-4.7h0m11.5-7h0m-15.8-5.7h0m3.2 6.8h0m-2.7 8.4h0m6.3 8.1h0m-1.5-19.7h0m11.8 2.4h0m-14.1-0.8h0m10.6 12.2h0m-4.2 6.3h0m-9.2-3.9h0m16-8.8h0m-0.8 9.3h0m-9-15.8h0m10.8 24.2h0m-3.6-22.9h0m-13.7-6.6h0m10 10.9h0m7.1 6.6h0m0.4-0.7h0m-5.6-9.1h0m1.4 11.2h0m-1.4-2h0m-7.8 4.9h0m8.9-7.2h0m-7.9 15.5h0m-2.9-6.9h0m13.8 3.8h0m-19.3-7.4h0m9 1.9h0" stroke="#000" stroke-width="1.0" stroke-linecap="round" opacity="0.6" fill="none"/>
<path d="M89.3 117.2h0m-3.1 7.4h0m-8.3-7.2h0m12 2.8h0m-1.4-5h0m-3.4 2.8h0m1.4-2.7h0m1-2.4h0m4-3.3h0m-5.3 4.9h0m-5.2 1.4h0m5.1 7.9h0m-7.3-0.1h0m16.9-14.7h0m-9.6 10h0m-12.1-0.4h0m16.2-0.5h0m-0.2-0.5h0m-5 2.1h0m5.2-13.9h0m-1.5 4.7h0m-5.1 14h0m2.3-0.6h0m8.5-10.4h0m-10 5.5h0m8.6-0.9h0m-0.3-17.9h0m-8.4 15.1h0m5.6 12.7h0m1.8-6.2h0m-6.9-6.7h0m5-2.1h0m4.5-3h0m-12.4 11.9h0m8.5-15.4h0m1.9 7.6h0m0.3-1.4h0m-8.8 2.5h0m1.2 3.5h0m6.8-0.1h0m1.1 3.6h0m-6.9-8.5h0m1.5-1.3h0m-0.6-2.9h0m-6.1 14.9h0m5.7-10.3h0m2.8-2h0m14.5-3.7h0m-9.9 2h0m-5.1 6.1h0m-4.4-5.5h0m2.5-6.6h0m-8.5 14h0m9.2 3.9h0m-4.1-4.4h0m-5.9-1.2h0m4.3 11h0m3.9-13.4h0m6.7 0.4h0m-11.5 4.6h0m14.5-1.7h0m-6.3 4h0m7.1-6.5h0m-6.1 4h0m-1-6.9h0m-1.7 3.3h0m-5.6 7.6h0m1.3-8.1h0m10.8 2.9h0m-5.2-5.3h0m-3.3 12.3h0m2.6-0.5h0m-1.3-4.2h0m-0.1-1.5h0m6.8-4.1h0m-4.7 11.4h0m3.8-11.8h0m-11.5 4.8h0m0-0.7h0m9.3-4.8h0m-4.1 5.2h0m-1.9-6.1h0m5.3 2h0m-5.5 5.1h0m-1 9.4h0m6.8-10.7h0m-3.3 2.8h0m-2.9-10h0m9.7 12.5h0m-4.2-5.7h0m5-0.1h0m-10.4-6.8h0m9.1 6.3h0m-6.7-7h0m0.1 4.5h0m0.6-0.6h0m6.4-1.4h0m-12.6 4.3h0m4.7 2.7h0m-3.3 0.1h0m9.1-6.3h0m-4.9 11.9h0m11.5-21.8h0m-14.7 15.6h0m5-11.6h0m2.3 5.4h0m3-2h0m-9.2 5.9h0m4.9-3h0m-11.6-0.1h0m9.2 0h0m8.4-5.9h0m0.1 1h0m-5.2 4.3h0m0.9 5.1h0m-5.3 1.5h0m5.3-13.1h0m-2.7 13.9h0m3.2-4.1h0m-1.3 3.5h0m-3.7-3.8h0m-7.7 5.9h0m14.1-1.2h0m1.2 3.3h0m-10.1-3.3h0m6.6-10.4h0m-3.2 9.7h0m5.2-4.6h0m4.7-6.4h0m-6.6-2.6h0m-6.2 14.5h0m4.7-2.1h0m0.7 1.3h0m-4.7-0.7h0m-2.6 1.6h0m12.2-4.8h0m-4-8.5h0m-6.5 11.4h0m0.7-4.1h0m2.8-2.5h0m8 6.6h0m-4.4-0.9h0m-7.7-3.1h0m1.4 13.3h0m4.2-28h0m-6.2 19h0m-0.5-0.8h0m8.1-5.8h0m-4.3-4.6h0m5.8 15.1h0m-12.2-9.2h0m5.5 4.7h0m-7 9.3h0m11-16.2h0m-2.7 4.7h0m-4-3h0m4.3 7.2h0m4.8-5.8h0m-6.4 7.1h0m10.2-5.3h0m-5-2.8h0m-1.3 5.1h0m-4.8-13.7h0m0.2 15.5h0m2.6-12.7h0m-10.9 8.4h0m18.4-3.3h0m0.3 12.7h0m3.4-15h0m-9.9 3.8h0m0.5-4.5h0m0.5 0.3h0m1.5 1.9h0m3.2 6.1h0m-3.6-5.6h0m-6.4 2.6h0m2.8 8.2h0m-2.3-11.5h0m6.6-3.3h0m3.1 2.8h0m-3 2.2h0m-8.5 6.2h0m0.2-4.8h0m2.8-4.5h0m-5.4 8.3h0m2.1 2.7h0m7.6-7.7h0m-1.4 5.7h0m5.9-1.2h0m-8.5 0.9h0m-1.5-3.1h0m4.3 3h0m-6.8-4h0m12.5-5.2h0m-3.2 7.1h0m3.4-2.9h0m-10.9 4.3h0m7.9-6.6h0m5.2 3.4h0m-14.2 5.5h0m-1.1-2.9h0m5.3 0h0m-1.6-7h0m0.9 4.7h0m-1.9 5.1h0m-3.9 1.4h0m12.2-0.4h0m-6.7-6h0m1.9-6.6h0m5.5 14.9h0m0.7-12h0m-6.5-3.9h0m2.3 2.1h0m-1.6 4.5h0m-1.2-1.5h0m-15.2 3.4h0m7.8 8.1h0m-1-10.5h0m13.9-2.8h0m-13 4.9h0m9.8-3.3h0m-8.1 8.6h0m3.1 6.6h0m1.6-10.2h0m-6.8-1.2h0m3.4-2.4h0m-1.7 11.4h0m0.1-12.2h0m6.1 0.5h0m-8-1h0m-0.2-3.2h0m6.6 15.3h0m-2.5-14.8h0m-0.4 10.5h0m6.6-8.3h0m-0.8 6.5h0m-1.3-12.3h0m0.5 14.7h0m-3-11h0m-2.9 18.6h0m3.9-11.2h0m1.7 3.3h0m7.5-4.8h0m-14.9 4.6h0m9-8.4h0m2.3 9.2h0m-8.9-9.8h0m14.3-1h0m-7.6 6.4h0m0.4-3.5h0m0.3-1.1h0m7.4 7.6h0m-18.9-10.5h0m16.8 1.2h0m-9.3 9.4h0m-2.2 5.2h0m-3.7 1.9h0m11.5-18.4h0m-0.8 6.6h0m-11.9 6.9h0m15.7-13.2h0m2.5-2.5h0m-11.9 10.3h0m-7.4-5h0m13.6 8.9h0m-10.5-3.9h0m7.8 5.2h0m2-12.9h0m3.6 7.5h0m-7.6-2h0m1.6-4.7h0m2.6 7.4h0m7.3-5.9h0m-11.4-0.4h0m4 1.6h0m5.2-4.8h0m-9.9 5.8h0m2.4 4.1h0m-6.7 1.7h0m-3.8-2.5h0m9.8-5.7h0m-1 7.6h0m-4-0.9h0m1.4-3.4h0m3.5 8.8h0m4-7.5h0m-11.2 4.3h0m12.9-5.3h0m-8.5 6.1h0m10.9-9.1h0m-11.1 2.8h0m-5.7 7.7h0m8.5-6.9h0m1.4 3.7h0m-0.2-11.4h0m-1.2 7.6h0m-1.4-1.2h0m7.1 3h0m-9.2-0.2h0m4.4-9.5h0m1.5 5.7h0m-5.3 7.3h0m2.8-2.2h0m1.4-5.1h0m0.1 2.1h0m-5-7.7h0m4.8 11.4h0m1.8 1h0m-6.6-3.2h0m-1.6-5.6h0m11.3-7.7h0m-13.6 5.3h0m5.6 3.3h0m5.6 1.2h0m1-4.9h0m-4.6 5.9h0m-1.4-1.7h0m3.9 7.8h0m-3.2-12.1h0m1.5 7.1h0m-4 7.7h0m0.7-2.2h0m4.6-11.4h0m3.3 6.5h0m-6.1 4.3h0m11.2-7.5h0m-21.9-1.2h0m6.5 2.8h0m8.3-5.8h0m-0.9-3.8h0m-4.8 14.3h0m3.4 7.2h0m-2.8-5.1h0m8.9-1.3h0m1.7-12.6h0m-5.1 8.9h0m-0.7 3.7h0m-11.4-0.4h0m3 3.3h0m12.4-11.6h0m-8.8 5.5h0m6.8-7.3h0m-7.3 9.7h0m-6.3 4.3h0m7-8.2h0m4.9 11h0m4.4-12.2h0m-6.7-6h0m-2.1 8h0m3.1 2.8h0" stroke="#000" stroke-width="1.0" stroke-linecap="round" opacity="0.9" fill="none"/>
<path d="M81.1 127.5h0m3.8-5.4h0m-6.2 8h0m-0.8-4.7h0m9.8 6.5h0m-10-6.4h0m-2.3-0.5h0m9.8 1.3h0m4.5-0.2h0m-11.9 0.8h0m3.3-4h0m0 5.3h0m13.2-2.6h0m5.5 1.7h0m-8.9-8.4h0m-7.4 10.8h0m-0.5 5.2h0m-4.5-19.6h0m5.4 7.3h0m1.8 1.2h0m-0.6-4.6h0m0.8 15.8h0m0.4-7h0m9.8-2.3h0m-10.9 5.1h0m-7.5-4.7h0m3.2 2.7h0m0.4-4.4h0m17.6 2.1h0m-13.8-10.4h0m-10.7 18.1h0m8.2-14.6h0m9.1 10.8h0m-14.4 4.5h0m1.7-15.8h0m6.9 9.8h0m1.4-2.9h0m-2.1 5.6h0m-12-6.4h0m9.4 1.8h0m-5.4 0.1h0m-5.7-7.4h0m17.8 11.7h0m0.2-6.3h0m-0.9 2.9h0m-10.3 1.5h0m-0.2-9.6h0m4 13.8h0m-2.5-12.1h0m10 8.4h0m-4.1 5.5h0m-2.3-5.2h0m4.1-6.9h0m-7.7 11.4h0m-1.5-16.9h0m5.6 4.3h0m-8.1 7.5h0m-3.3-3.6h0m7.8-0.9h0m-6.2 9.2h0m20.2-5h0m-15.1-8.5h0m-2.6 7.7h0m4.9-9h0m0.5 9h0m-4.5-9.7h0m6.4 7.4h0m-5.6-1.8h0m0.1 5h0m1.6-14.9h0m7.8 14.9h0m-5.1-4.3h0m0.6 4.3h0m1.1-6.8h0m-3.3 4.8h0m7.9 4.6h0m-5-10.8h0m-2.7 7.4h0m4.3 0.5h0m-0.8 5.9h0m5.1-3.8h0m-18.2-7.2h0m2.8 7.1h0m8.4-7.9h0m-10.5 2h0m10.7-2.1h0m-2.3 4.5h0m-6.5-11.9h0m-0.5 20.7h0m7.6-10.5h0m-1.5 1.4h0m9.1 5.6h0m-3.4-4.9h0m-0.2-2h0m-5.1 5.1h0m9.2 0.2h0m-2.4-2.7h0m0.3 5.7h0m11.8-8.3h0m-9.3-3.9h0m2 0.9h0m-3.1 12.8h0m-5.9-9.8h0m0.4-7.4h0m3.1 11.8h0m-3.1 2.7h0m-5.2-15.1h0m-6 5.3h0m21.1-7.2h0m-9.6 11.8h0m12.7-8.4h0m-19.2 12.2h0m2-11h0m7.5 9.4h0m-7.6 4.7h0m9 1.3h0m1.5-10.4h0m-16.9-2.8h0m12.7-4.7h0m14.5 11h0m-8.3-8.2h0m-6.2 14.6h0m4.3-7.5h0m-5.3 6.9h0m-2.1-5.2h0m1.6-7.7h0m-2.9 4.4h0m2.8-5.3h0m5.6 12.1h0m-9.2-1.4h0m4 1.3h0m-5-12.3h0m-4.2-2.3h0m10.9 0.4h0m5.2 7.4h0m2.7-1.3h0m-7.7-0.1h0m-14.1 6.7h0m8.8-17h0m0.8 17.8h0m-5.7-2.2h0m12.6 0.2h0m-13.9-11.9h0m9 17.3h0m-1.3-12.8h0m4.4 4.1h0m-11.6-13.3h0m2.3 16.7h0m0.3-7.8h0m10.1 5.3h0m-12.2-5.4h0m2.4 9.5h0m12.6 3.1h0m-16.4-1.3h0m9.2-10.4h0m-2.2 3.6h0m1.3-5h0m5.1 4h0m-14 0.3h0m13.4-7.3h0m0.1 3.8h0m-0.9 6.3h0m7.4 0.5h0m-16.2-12.9h0m5.6 6.7h0m9.4 7h0m-3.3-3.7h0m-16.1-4.9h0m15.7 4h0m-7 2.1h0m6.4 3.6h0m-9.3-8.5h0m12.7 9.5h0m-13.3-12.6h0m7.2 10.1h0m-1-4.2h0m13.2-4.7h0m-13.8 1h0m11.8 2.2h0m-12 3.7h0m-8.4 4.6h0m25.5-3.4h0m-22.6-9.4h0m0.7 7.1h0m3.3-10.9h0m13.7 12.4h0m-16.3 2.1h0m5 1.7h0m1.8-3.8h0m-13.4-0.3h0m5.7-2.6h0m7.9 1.8h0m-0.9-2.7h0m-7.2-5.5h0m-3.2 6.9h0m3 3.2h0m17.7 6.2h0m-16.5-11.8h0m4.5-0.8h0m-6.8-3.5h0m7.4 1h0m9.3 3.5h0m-15.1 3.9h0m3.4 2.5h0m-0.3-12.7h0m-4.9 11.5h0m9.1-11.4h0m-8.7 2h0m7.5-1.3h0m-3.1 14.7h0m-1.7-1.3h0m11.8-11.1h0m-15.7 1.4h0m2.7 5h0m-6.4 1.1h0m4.6 4.8h0m21.9-6.3h0m-0.6 7.4h0m-12.2-18.7h0m-2.1 7.2h0m5.6 11.1h0m-5.7-9.6h0m16.5 4.1h0m-13.2-4.1h0m-1.9-2.1h0m-2.3 3.9h0m-4.9-2h0m3.1 1.8h0m-1-1.3h0m-0.6 3.3h0m-0.6 1.6h0m-0.7 4h0m-1.7-14.2h0m2.2 9.6h0m0.7-7.5h0m9.6 3h0m0.1 3.1h0m1.4-2.4h0m-5.1-3.7h0m-5.5 4h0m3.3 4.5h0m-6.4 0.4h0m-4.7-6.6h0m10.5 8.4h0m3.4-4.6h0m-0.9 5.7h0m7.1-5.5h0m-15.9 2.1h0m1.3 0.5h0m0.6-1h0m-0.1-17h0m10.1 11.3h0m6.8 4.2h0m-21.9 1.2h0m1.5-11.9h0m-0.4 9.1h0m9.5 2.2h0m0.7 1.8h0m6.8-6.3h0m-2.5 4.1h0m-14.6 3.2h0m7.5 1.5h0m12.1-0.2h0m-14.4-6.7h0m2.1 6.9h0m2.2-11.6h0m11.7 3.4h0m-16.5-5h0m1 2h0m14.3 13.2h0m-13-16.1h0m-9.1 12.8h0m10.5 1.7h0m2.9-7h0m3.7 1.8h0m-10.2-7.3h0m4.5-10.6h0m-6.8 8.7h0m11.8 15.1h0m-9.6-9.9h0m14.5 4.7h0m-0.3-2h0m-13.6 5.8h0m8-16h0m9 4.9h0m-8.8 5.8h0m-10.1-2.4h0m12-6.2h0m-6.6-7.1h0m-5.8-0.5h0m1.1 16.8h0m-1-4.5h0m8.3 5.8h0m5.2 5.1h0m-12.3-1h0m10.5-7h0m-10.7-4h0m-2 9.4h0m2.5-3.4h0m-2.5-7.5h0m12 6h0m-13 9.9h0m-2.7-9.8h0m10.8-10.5h0m-1.9 18.3h0m6.6-20h0m3.2 3.8h0m-9.9 7.4h0m-6.9 8.9h0m7.9-5.3h0m12-2.6h0m-13.9 0.8h0m-5-12.9h0m-2.8 11.5h0m15.1 4h0m-13.6-7.5h0m11.6 13.9h0m1.6-4.4h0m6.3-13.7h0m-6.8 7.1h0m2.4-2.6h0m12.2-1.3h0m-22.6 9h0m13.9-8.3h0m0.3 0h0m1.3 3.7h0m-4.9-12.3h0m-17.6 10.9h0m17.2 2.8h0m-7 0.6h0m-2 3.6h0m6.7-1.4h0m-1.2-6.7h0m-10.5-15.7h0m19 19.8h0m-8.6 2.5h0m-0.9-5.1h0m-1.5-0.6h0m1.8 0.4h0m-9.7-0.6h0m0.4-8.7h0m10.3 9.1h0m1.1 3.9h0m2.7-9.9h0m-13.1 1.1h0m1.4 1.9h0m-3.1-5.2h0m14.8 2.5h0m-8.7 5.9h0m-2.6 8.5h0m2.2-2.3h0m-8.3 4.7h0m17.8-8.4h0m-10.1-11h0m6 10.9h0m5 3.4h0m-2.5 0.1h0m-6.9-0.7h0m-5 1.9h0m-0.4-7.7h0m12.2 5.2h0m-6.3-2.9h0m-1.3 0.3h0m4.8-3h0m-6.5 2.6h0m14.6-5.3h0m-10.7 5.4h0m0.1-1.4h0m16.5-13.9h0m-19.4 7.1h0m1.8 5.9h0m2.4 0.7h0m-1.7 7.2h0m-3.3-11.1h0m-3.8 11h0m7-17.4h0m3.1 8h0m-0.2 5.3h0m6.1 6.2h0m1.6-1.6h0m0.5-5.4h0m-11.2 9.3h0m0.5-18.9h0m0.7 10.1h0m-7.1 0.5h0m6.7 2.1h0m5.9-6.5h0m-13 5.2h0m8-6.6h0m-4.5-9.7h0m14.6 21.1h0m-8.6-10.7h0m-4.4 9.1h0m10 3.9h0m-13.2-19.9h0m0.5 7h0m8.7 6.5h0m-4.6-3.9h0m-6.9 0.1h0m4.9 6.9h0m-2.2-7.9h0m4-3.9h0m-0.1 14.7h0m11.9-13.3h0m-22 7.9h0m2.5 4.7h0m5.8-8.1h0m-5.3-11.5h0m2.6 12.1h0m2.8 3.6h0m8.2-13h0m-8.5 14.3h0m7.6-0.3h0m6.8-6.6h0m-9.8 0.6h0m12.1-5.5h0m-13.3 3.3h0m12.6-10h0m-14.6 5.4h0m-4.9 4.5h0m6.6 3.9h0m-3.1-5.8h0m6.2 9.3h0m-8.2-3.5h0m9.2-9.2h0m-11.4 12.2h0m17-0.2h0m-3.2-3.1h0m-14.9 2.3h0m20.5 0.6h0m-3-0.7h0m-13.3 3.8h0m5.7-10h0m-8.6 3.3h0m-1.3-4.8h0m5.5 2.7h0m-5.7-4.6h0m25.4 14.2h0m-10.1-16.4h0m-5.9 1.8h0m1.8 5.6h0m-4.6-15.9h0m10.8 21.4h0m-5.9-4.2h0m-4.5 5h0m-2.3-15.7h0m12.9 7.9h0m2.9 7.4h0m-15.3 4.2h0m-1.6-25.9h0m-0.2 16.5h0m-5.5 0.6h0m9.6-3.6h0m-2.4 3.5h0m3.9 0.6h0m-6.1-0.9h0m3.3 7.5h0m1.1-1.4h0m-3.1 2h0m8.1-8.3h0m-3.9 2.9h0m10.3-7.4h0m-9.2 2.5h0m-12.5 6.7h0m1.8-8.4h0m1.6 1.3h0m11.5 3.9h0m-7.6 0h0m-0.9-2.7h0m0.9-3.7h0m-0.1 1.9h0m11.1 11h0m-5.5-10.8h0m12.3 7h0m-14.4-14.1h0m1.7 4.6h0m11 2.9h0m-12.4-11.8h0m7.5 10.8h0m1.3 7.6h0m-10.8-3h0m1.6-4.2h0m-0.7 2.2h0m4.8-2h0m-2 3.6h0m-2.5-2.6h0m9.2-6.1h0m-18.6 8.5h0m10.9 6.7h0m3.2-0.9h0m2.4 1.8h0m-13.9-6.7h0m26.8-6.1h0m-21.8 7.8h0m-0.5 1h0m7.6-4.3h0m-12.3-1.2h0m11.9 7.3h0m-2.5-12.7h0m-1.4 7h0m5.4 5.2h0m-11-9.5h0m11.3-2.3h0m1.8 15.4h0m-17.8-14.5h0m8.6-1.7h0m17.4 1.1h0m-18.2 11.4h0m5.7 5h0m1.4-10.3h0m-14.3 3.7h0m0.7 1.5h0m1.3 2.2h0m19.5-7.8h0m-5-0.1h0m-4.6 5.1h0m-1.4 4.7h0m5.4-11.2h0m-4.2 2.7h0m6.1-15.5h0m-10.9 21.7h0m3.9-1.7h0m-0.9-11.2h0m-3.6 12.8h0m23.8-17.9h0m-23.7 16.7h0m6.6-6.9h0m1.2 5.9h0m1.7-14.6h0m0.4 8.9h0m-5.2 2.6h0m0.3-6.4h0m0.4 10.5h0m10.6 3.9h0m-21.6-5.2h0m10.9 4.2h0m5.1-15.3h0m-1.8 10.9h0m3.6-10.9h0m-12.7 13.7h0m3.2-5.7h0m4.4-1.5h0m-3.1-2.6h0m-10.5 6.2h0m11.4 2.5h0m-2-4.4h0m-10.1 8.8h0m11.2-2.4h0m-8.6-2h0m7.6-2.8h0m-7.7-5.4h0m3.9 13.3h0m9.5-2.7h0m-9-7.2h0m-4 0h0m15 0.5h0m-7.2 2.5h0m-4.7-10.6h0m-5.4 14h0m14.2-10.7h0m-5.9 11.4h0m-6.3-6.6h0m12.5-5.3h0m-7.1-0.2h0m-3.6 6.7h0m0.2-2.4h0m10.4 2.9h0m0.1 0.7h0m-8.5 2h0m14.6-9.6h0m-12.8 4.8h0m-1.8 0.4h0m-3.2 1.6h0m7 2.8h0m0.6-13.5h0m4.2 2.9h0m5.6-4.5h0m-1.1 14.5h0m-3.8-1.6h0m1.2 3.9h0m-5.1-4.6h0m-3.3-11.8h0m10.3-1.9h0m-12.6-0.2h0m1.3 18.9h0m-5.2-8.8h0m-1.2 3.6h0m6.3-2h0m9.8 9.2h0m-4.3-12.3h0m0.8 6.4h0m1.7-8h0m2.8 3.9h0m0.8 8.4h0m-1-0.5h0m3.9-7.2h0m-9.3-6h0m1.9 8.1h0m3.4-10.7h0m-12.9 6.9h0m17 10.9h0m-1.9-4h0m4-3.4h0m-18.4 6.1h0m14.5-5h0m-4.3-2.7h0m-4.1-3.1h0m8.5 5.4h0m-7.1-0.8h0m-7.4 5.8h0m3.9-3.8h0m5.3 0.6h0m3.2-0.9h0m0.2-1.7h0m-9.8 0.3h0m10.7-0.5h0m-10.9-5.2h0m-1.8 2.8h0m6 7.9h0m1.8-9.6h0m-4.3 0.3h0m3.6-1.4h0m-9.9 7.1h0m8.1 2.3h0m2.8-12.6h0m0.2 0.2h0m-9.6-0.4h0m6.2 14.7h0m-5-3.4h0m22.1-7.9h0m-24.9 2.6h0m1.6 5.5h0m18.8-7.2h0m-12.5-4.6h0m7.1 1.1h0m0.4 3.7h0m-4.2-4.6h0m-6 3.2h0m-1.9-0.6h0m5.8 6.9h0m-2.6 6.1h0m-5-6.6h0m2.1-6.7h0m16.2 8.8h0m-13.8-5.6h0m-6.5 3.7h0m2.7-6.4h0m2.9 2.8h0m9.8-3.2h0m-9.5-0.5h0m9.4 10.6h0m-0.7 4.9h0m-5.5-13.6h0m-3.2 12.7h0m-1.5-1.7h0m-5.4-8.6h0m11.7 5h0m0.6-14.5h0m4.3 16.7h0m-1.8-12h0m2.2 4h0m-17.1 3.4h0m-2.1-6.1h0m13.8 4.6h0m-6.8-4.9h0m0 4.2h0m3.7 2.4h0m1.1-4.4h0m-7 7.1h0m3.7-6.6h0m5.6 2.6h0m-11-2.7h0m11.9 5h0m-5.8-3.8h0m2.1-1.4h0m-8.2 6.7h0m9.9-3.4h0m-4.1-10.5h0m5.4-6.7h0m0 13.1h0m-10.9-4.5h0m14.6 3.3h0m-7.3-0.5h0m2.6 0.4h0m-7 12.7h0m-3.2-12.6h0m12.6-4.8h0m-12.3 13.3h0m12.6-4.5h0m3.4 10.2h0m-12.4-14.8h0m6.5-3.9h0m-12.8 11.5h0m17.7-4.8h0m-2.5 6.7h0m-13.4-1.7h0m8.2-13.5h0m8.7 15.7h0m-0.9-8.2h0m-1 6.5h0m-4.9 4.8h0m4.4-4.6h0m-8.4-0.2h0m7-10.8h0m-11.6 14.2h0m3-5.7h0m1.6 0.8h0m12.7 5.9h0m-10.6-12.7h0m14.2 6.8h0m-10.3 0.5h0m0.6-8.9h0m2.9 2.7h0m-6.1 3h0m2.3-4.9h0m-9.1 2.2h0m3.1-4.6h0m10.4 8h0m-13 1.5h0m12.3-2.8h0m-6 5.6h0m-1.7-5.4h0m-2.8-3.9h0m0.3 10.7h0m13.7-10h0m-6-4.6h0m6.2 6.7h0m-12.4-2.7h0m-4.8-9.3h0m8.8 21.2h0m-9.3-7.1h0m14.1-0.1h0m2 9.1h0m1.9-6.3h0m-17.6-11.4h0m13.8 11.1h0m-15-1.9h0m15.1 4.8h0m-8.1 1.7h0m-2.9-9.3h0m4.1 5.2h0m5.7-11.6h0m-3.1 12.9h0m-5.9-5.5h0m5.9 3.5h0m-3.6-6.4h0m-1 0.9h0m-7.4-3.4h0m4.5 4.2h0m-2.6 4.2h0m2.6 4.1h0m7.1-7.5h0m-14.5 9.2h0m21.8-1.5h0m-2.8-10.5h0m-1.2 1.9h0m-2.9-18.1h0m-12.7 21.5h0m19.3-3.1h0m-18.6 2.7h0m3.4-16.8h0m-4.3 16.8h0m6.2 0.1h0m7.6-9.2h0m-13.5 2.1h0m11 0.7h0m-7.9 4.4h0m-5.2-1.2h0m5.6 1.7h0m4.2 3.4h0m-8.3 2.3h0m1.9 3.6h0m0.5-2.8h0m9.1 2.7h0m-1.7-3.1h0m-10.7-0.5h0m4.2-4.4h0m6.3 3.6h0m3.7-7.6h0m-12.6 1.6h0m1.5 2.4h0m13.3 8.6h0m-14.4-22h0m10.8 18.6h0m-2.2-11.6h0m-0.4 9.1h0m9.8-1.3h0m-5.2-2.6h0m-13.1 1.4h0m15.4-5.5h0m-13.5 7.6h0m4.1-0.3h0m-3.1-14.4h0m22.9 2.9h0m1.4 15.1h0m-6.5-13.2h0m-1.6 8.5h0m-11.6 1.7h0m-9.4-7.4h0m2.2 3.8h0m18.5 5.7h0m-1-3.9h0m-3.1 3.7h0m-11.7-6.5h0m5.1-2.6h0m4.8 0.2h0m-8.2-1.8h0m1.8 9.2h0m-0.5-4h0m-5.6 2.7h0m6 3.5h0m3.3-10.2h0m-10.6 0.3h0m7-3.9h0m5.6 10.4h0m-2.4-6.3h0m-3.7 4h0m-3.1-1.7h0m6.7 2.9h0m-0.7 7.5h0m-0.6-9.4h0m-6.8 1.3h0m-2.3-6h0m14 8.8h0m2.6-9.5h0m-2.9 14h0m-7.4-4.2h0m-4.9 1.6h0m-0.9-15.6h0m1.3 18.1h0m0.8-2.6h0m1.8-14.2h0m6.2 10.5h0m-5.3 4.1h0m2.1-0.3h0m-4.4-1.9h0m-1.7 1.7h0m17.3 2.9h0m-17.9-15.2h0m4.1 9.6h0m3.6-14.7h0m10 6.7h0m-4.9 10.3h0m-5.2-5.5h0m-0.7 8h0m2-7.8h0m-2.1 10.7h0m8-9h0m-7.1-7.4h0m0.4 2.3h0m-0.7 1.2h0m-8.1-4.6h0m14.7 10.3h0m1.4 0.8h0m-3.7-2.9h0m-0.5-0.6h0m-10.7-1.2h0m5.4-3h0m6.3 7.2h0m-2.3 5.7h0m-4.6-1.2h0m9-4.8h0m-2.1-1.9h0m-9-7.1h0m3.5 7.3h0m1.9-3.2h0m-2.6-3.4h0m4.8 4.2h0m-3.7 3.6h0m10.9-4.9h0m-12 6.7h0m7.8-7.2h0m0.5 9.1h0m-15 3.9h0m21-5h0m-9.9-5.6h0m-7.2-8h0m5.9-3.6h0m-7.6 9.5h0m13.2 9.7h0m-13.1-7.1h0m4.8-12.5h0m-5.3 13.1h0m1.1-8.2h0m3.9 7.2h0m-6.8-9h0m2-0.5h0m12.1 16.6h0m-8.7-21.1h0m8.1 17.6h0m-4 2.8h0m-5-10.4h0m14.6 0.9h0m-15.5-8.8h0m6.7 12.1h0m-10.8 5.5h0m6.9-18.2h0m5.2 21.2h0m1.4-9.8h0m3.7 4.3h0" stroke="#000" stroke-width="1.0" stroke-linecap="round" opacity="1" fill="none"/>
</g>
<clipPath id="c2"><rect x="215.5" y="34.5" width="103.5" height="103.0"/></clipPath><g clip-path="url(#c2)">
<ellipse cx="230.5" cy="73" rx="8.5" ry="19" fill="#000" opacity="1" filter="url(#b2_2)" transform="rotate(6 230.5 73)"/>
<ellipse cx="228" cy="126" rx="13" ry="11" fill="#000" opacity="1" filter="url(#b2_5)" transform="rotate(-30 228 126)"/>
<ellipse cx="236" cy="114" rx="6" ry="5" fill="#000" opacity="0.6" filter="url(#b2_5)"/>
<ellipse cx="274" cy="125" rx="14" ry="4.5" fill="#000" opacity="0.45" filter="url(#b3)"/>
<ellipse cx="230" cy="101" rx="6" ry="9" fill="#000" opacity="0.55" filter="url(#b3)"/>
<path d="M252.2 83.7h0m24.9-3.8h0m-11.9-5.7h0m4.4-14.3h0m12.9 19.4h0m-38.7 29.7h0m29-42.2h0m-29.5-18.8h0m40.4 5h0m-32.8 23.9h0m-3.4 9.1h0m-1.2-13.5h0m30.7 26.6h0m-28.7-7.9h0m11.2-18.6h0m26.3 20.6h0m-22.2-40.1h0m5.1 38.4h0m1.9-34.4h0m7.1 44.3h0m-15.7-4.4h0m15.5-38h0m-31.2 39.1h0m21.7-6h0m21.5-29.1h0m-26.2-12.2h0m3.3 9.4h0m-14.5 38.8h0m-4.5-37.4h0m8.6-14.4h0m11.7 57.6h0m-18.4-43.2h0m20.4 39.5h0m-10.8-7.3h0m17.5 5h0m-0.5-32.9h0m-21.3 29.9h0m21.8-36.8h0m-30.6-11h0m32.7 34.8h0m-10.7 3.8h0m-8-31.1h0m29.1 19.8h0m-33.2-2h0m-7 3h0m33.8 23.8h0m-10-33.7h0m2.6-1h0m-19.8 0.1h0m-4.3 15h0m0-5.5h0m-2.7-24.4h0m11.9-4.3h0m19.9 10.6h0m-34 20.1h0m33.6 29.9h0m-22-38.1h0m29.2 5.1h0m0.2 15.7h0m-19.1-21.2h0m-4.7 16.8h0m0.7 5.8h0m2.6-7.3h0m-18.6-21.5h0m33.2 3.8h0m-6.1 24.1h0m4.7-19.5h0m-36.7 0.2h0m42.3 10.6h0m-42.4-27.3h0m24.9 28.3h0m-18.3-30.9h0m16.2-1.6h0m24.1 44.6h0m-12.8-13.9h0m-13.7-2.2h0m18.8-4.2h0m-9.7 1.7h0m7.8-28.7h0m-8.9 51h0m12-40.6h0m-36.7 22h0m43.8 5.6h0m-29.2 6.9h0m-13.3-40.6h0m25.4 55.7h0m12.3-56.4h0m0.4 50.4h0m-15.7-47.8h0m-3.1 4.2h0m22.4 3.2h0m-42.5 36.8h0m33.7-28.6h0m-33.1-18.1h0m26.1 41.8h0m-28.3-28.9h0m18.5-15.3h0m3.1 37.3h0m-6.4-37.5h0m18.3 23.6h0m-6.4 1.7h0m-21.3-18.2h0m40 15.9h0m-12.7-4.9h0m-16 5h0m19.3 28.4h0m-22.3-33.8h0m14.3-11.1h0m-3.7 34.6h0m-4.9-7.4h0m-2.7-9.6h0m-16.8-15.8h0m6.4 24.9h0m5.2-35.4h0m-12.3 25.7h0m24.5-14.1h0m-6.6 12.5h0m-3.4-1.8h0m23.3 5.2h0m-17 15.7h0m4.4-25.2h0m9.6-8.9h0m-18.1 35.9h0m-10.1-24.4h0m-6.3 31.7h0m13.8-9.4h0m-11.1-12.4h0m9.7 31h0m29-37.2h0m-10.1-3.9h0m-20.7 34.6h0m20.3-4.1h0m-19.5-22.9h0m-6.8 27.3h0m18.6 1.1h0m-17.3-11.5h0m10.8-26.2h0m-16.3-16.1h0m9.2 20.6h0m-5.9-17.5h0m12.1 42.9h0m30.4 7h0m-13.8-52.8h0m3.4 40.3h0m-32.9-19h0m29.6-12.3h0m-11.1 27.9h0m21.2-8.2h0m-30.7 19.1h0m-3.1-27.2h0" stroke="#000" stroke-width="1.0" stroke-linecap="round" opacity="0.35" fill="none"/>
<path d="M254.2 101.0h0m15.9-1.6h0m-5.6-7.9h0m5.5 7.8h0m-7.8 4.1h0m-8.5-17.5h0m22.3 17.3h0m-23.6-0.6h0m-10.2 1.5h0m35.6 0.2h0m-16.9-2.2h0m25.1-10h0m-24.2 8.4h0m27.2-3.2h0m-23 1.3h0m-4.9 2.8h0m-1.3 3.9h0m6.7-9.8h0m-3.1 9.5h0m14-16.4h0m-19.9-2.7h0m11.2 13.5h0m6.2-4h0m-24.1 1.4h0m0.5 16h0m35.4-10.7h0m-8.3-18h0m-42.6 4.5h0m25.9 16.2h0m-13.9-17.3h0m16.1 12.5h0m5.4-3.5h0m6.1 0.2h0m-14.7-7h0m21.9 13.1h0m-19.4 8h0m-0.2-10.4h0m-34.1-12.2h0m21.9 12.5h0m13.6 0.6h0m-2.2-8.8h0m10.9 7.6h0m-13.9-1.7h0m-4-11.8h0m29.2 9.6h0m-38.1-10.4h0m7.6-3.3h0m-6.1 23h0m40.6-10.9h0m-28.5-2h0m18.6 3.8h0m6.2-1.9h0m-18.7-3.8h0m-3.9 7.4h0m33.5 8h0m-21.9-17.2h0m-25.4-0.8h0m14.5 16h0m-2.7-19.1h0m-2.8 15.9h0m5.4 1.5h0m1.4-5.4h0m0.9-1.5h0m-28.7-1.1h0m26.3 16.1h0m10.9 2h0m-27.5-2.3h0m8.9-10.9h0m-21.5 0.5h0m43.1 0.5h0m-29.8-15.3h0m24.2 13.9h0m-0.6 13.4h0m6.3 8.5h0m-16.3-31.1h0m7.3 11.1h0m-5.2-0.1h0m-14.3 11.8h0m14.2-13.3h0m-14.5 0.4h0m-3.2-11.8h0m24 2.5h0m-18.2 17.9h0m-1.3-12.1h0m16.6 5.2h0m3.8-10.6h0m-16.8 13h0m3.4-21.1h0m-5.9 0.9h0m-28.1 2.3h0m46.3 26.5h0m-18-13.8h0m2.4-11.3h0m15.1 18.6h0m17.5-17.2h0m-14.5-0.8h0m4.9 9.8h0m-4.7-10.6h0m-22.2 13h0m-5.7-0.7h0m31.4-14.4h0m-23.8 33h0m18.8-14.9h0m1.1-9.5h0m-29.7 13.6h0m15.1-16.2h0m15.1 7.3h0m0.5 1.6h0m-11.5-5.6h0m-14.2 4.1h0m26.1 14.8h0m-32.1-24.9h0m25.3 2.3h0m-12.1 18.5h0m-0.7-28.3h0m18.5 19.4h0m-21.8-9.9h0m22.7-1.5h0m-11.1 18h0m-0.4-5.3h0m29.3 9.4h0m-22.9-17.3h0m-25.4 4.8h0m24.3 16.2h0m13.6-10.2h0m-23.9-11.9h0m6.8 11.4h0m-2.7-8h0m-8.2 9.4h0m13.5-20.7h0m-14.1-3.8h0m21.3-0.4h0m-26.2 16.7h0m26.5 10.1h0m-8.9-13h0m5.6 8.2h0m-12.3-3.5h0m25-8.7h0m-25.1 1.7h0m-11.7 4.9h0m10.1-13.8h0m-21.3 30h0m1.6-2h0m50.4-10.7h0m-9.6-15.4h0m-17.3 1.5h0m-13.7 5.5h0m6.6-5.4h0m19.9 9.9h0m-6.8-7.2h0m15.5 3.7h0m-20.8 0.4h0m0.5 4.7h0m7.2 4.7h0m-17.7-2.6h0m16.2 4.3h0m0.2-12.2h0m0.9 2.1h0m0.8-2.7h0m-25.8 4.7h0m14.3-7.1h0m3.6-11h0m12.6 20.9h0m-43.1 19h0m23.6-10.5h0m2.5-11.4h0m-25.8-9.1h0m26.3 21.8h0m-3.4-22.6h0m7.9 20.4h0m-8.1-0.6h0m-6.1-12.9h0m38.7 9.2h0m-16.1-18h0m2.9 13.4h0m-11.4 7.3h0m-15.5-1.2h0m37.1 0.5h0m-17-15.4h0m-11.2-2.3h0m30 5.7h0m-7.7-1.1h0m-28.1 8.6h0m6.5-1.4h0m27-9.8h0m-10.2-7.2h0m-14.5 8.9h0m6.1 14.8h0m-1.2-12.7h0m-6.8 12.5h0m-1.4-2.1h0m27.9-5.9h0m-10.5-0.3h0m-5.4-8h0m21.9 5.9h0m-34.5 11.4h0m11-9.9h0m-9.7 22.3h0m2.3-40.3h0m29.3 41.9h0m-37.2-18.2h0m15.1 2.5h0m10.4-0.7h0m12.5-14h0m-16.8 21.5h0m-24.4-18.4h0m17.3 11.7h0m18.3-21.1h0m-39.8 21.5h0m-3.3-0.9h0m25.3 3.3h0m3.3 7.3h0m6.3-7.4h0m-17.6-5.4h0m17.6 1.3h0m-8-10.6h0m-15.1 11.5h0m33-1.9h0m-19.3-10h0m-11.6 13.5h0m24.3-17.8h0m-27.3 22.2h0m7.3-17.6h0m10.9-7.1h0m19.4 17.3h0m-21.5 0.4h0m-7.8-21.5h0m-18.6 23.6h0m9.4-9.4h0m2.2 1.7h0m-11.4 19.8h0m21.6-13.5h0m12.8 12.3h0m-12.3-19.3h0m-2.3-16.3h0m20.4 6h0m-43.6 6.3h0m33.5 0.1h0m17.3 4.4h0m-21.3 1.8h0m4.4-2.4h0m13.9 9.1h0m1.6-8.8h0m-26.3 3.9h0m13 7.6h0m-13.2-28.6h0m5.4 22h0m13.6 2.2h0m-30.1-7.9h0m18.9-26.5h0m-10.1 29.4h0m-1.2-9.3h0m46.1-0.8h0m-43.3 0.5h0m18.8 21.4h0m13.4-12.8h0m-41.1-1.8h0m12.2 20.9h0m-2.4-9.2h0m-4.7-14.1h0m-3.9 2.3h0m25.5 0.3h0m-3.6 6.2h0m-38.4 0h0m23.6 15.6h0m16.8-8.9h0m-9.2-24.6h0m10 4.3h0m-0.1-8.9h0m8.3 8.3h0m-22.5 4.6h0m-2.9 3.9h0m-13.2-9.2h0m31.8 10.8h0m-7.8-20.3h0m-26.4 13.2h0m4.8 11.1h0m24.7-10.4h0m5.5 8.7h0m-12.7-13.1h0m-14.6 11.3h0m17.2-0.7h0m-12.4-3.5h0m-12.8 2.3h0m20.8-5.3h0m-4.9 5.6h0m5.6 8.1h0m10.9-19.6h0m-26.2-9h0m15.3 30.4h0m16.2 0.6h0m-4.3-21.7h0m-14.6 15.9h0m-22.7-18.1h0m27 8.6h0m-17-10.7h0m39.1 4h0m-9.4 13.8h0m9.6-4.3h0m-24.8 7.9h0m-19.2 12h0m16.3-30.1h0m-1.8 4.1h0m-5 19.2h0m19.8-7.1h0m-1.8 0.1h0m-13.2 15.5h0m1.7-23.2h0m-0.1 19.3h0m20.8-28.5h0m-8.5 25.8h0m7.1-19.8h0m-18.8 3.1h0m-3.8 1.1h0m23.7-1.1h0m-22.7 9.2h0m3.5-15.4h0m14.9 15.8h0m-35.2-15.8h0m25.8 7.4h0m-9.8-12.4h0m7.1 23.9h0m-18-6.9h0m-5.6-1.2h0m22 2.1h0m-11-0.1h0m16.8-9.9h0m-10.1 23.1h0m7.3-15h0m30.8-12.2h0m-34.2 0.8h0m-10.3 14.3h0m2.7 6.6h0m9.2-31.6h0m9.3 33.6h0m5.2-27.2h0m-6.1 14.3h0m2.2 5.4h0m-20.5-17.3h0m-17.1 7.7h0m16.4-8.4h0m16.1 11.1h0m-19.1-6.1h0m-2.1 8.4h0m14.4 3.5h0m7.1-2.5h0m-3.4 0.4h0m-6.6-15.7h0m-1 6.9h0m4.9 4.9h0m-12.6 10.6h0m14.4-16.6h0m13.2 12.1h0m-15.9-5.1h0m26 12.2h0m-12.9-4.1h0m2 1.5h0m-2.8-9.6h0m-21.4 8.5h0m14.4 8.5h0m-5.8-22.6h0m-3.9-5.2h0m11 9.7h0m9.5 9.5h0m-16.9-8.6h0m0 16.2h0m-3.5-22.3h0m-21.6 8.3h0m32.7 9.1h0m-5.4 7.1h0m10.8-29.4h0m-37.8 26.5h0m16.2-9.6h0m13.2-5h0m1.4-10.4h0m2.5 4.1h0m3.6 4h0m-7.2 5.6h0m-26.2-0.8h0m-11.3 1.6h0m21.5 1.4h0m6.3 13.9h0m17.7-13.3h0m-4.4-10.5h0m-9-8.7h0m28.7 2.4h0m-54.7 6.7h0m25.8-2.5h0m5.3 1.3h0m8.2 9.8h0m-29-5.1h0m15.9 8h0m7.4-2.1h0m6.7-16.9h0m-44.2 20.5h0m39.6-13h0m-15.9 10.3h0m35-13.5h0m-41.5 8.8h0m-3.4 11.2h0m15.7-10h0m-3.9 0.3h0m43.2 1.7h0m-11.7-1.9h0m-6.2 0.7h0m-17-9.3h0m2.4-8.8h0m-32.9 15.9h0m13.3-8.2h0m22.3 9.2h0m-14.3 5.3h0m11.1-3.9h0m11.4-3.4h0m-2.3-14.9h0m-12.5 13h0m13.4 0.5h0m-21-1.5h0m8 8.9h0m6.2-5.4h0m-16.7-10.8h0m5.7 19.1h0m6.1-5.3h0m0.5 8.2h0m-22 3.3h0m-16.5-10h0m22.9 6.4h0m14.3-9.8h0m-4 9.4h0m12.9-14h0m-20.7-1.3h0m27.8 3.9h0m-10.4 4.5h0m7.5 7.1h0m5.4-15.5h0m-34.4-4.2h0m17.2 26.9h0m8.8-31.4h0m3.2 9.6h0m0.1-5.6h0m26.7-9.4h0m-40.5 20h0m4.6 3.3h0m-25.5 2.4h0m12.7-1.3h0m23.7-7.6h0m-5.3 2.7h0m-11.6-2.8h0m-18.1 26.7h0m31.7-22.7h0m1-2.3h0m-19.1-7h0m-24.7 3.6h0m8 15.1h0m20.1-16.6h0m-15.5-1.9h0m23.3 9.4h0m-1-16.1h0m-9.4 10.4h0m-13.4-2.1h0m17.9 9.9h0m-7.8 8.2h0m19.4-19.2h0m1 6.1h0m-15.2-3.3h0m14.1 2.2h0m-8.9-2.9h0m-10.7 3.2h0m-9.7 10.7h0m33.7-13.8h0m-30.1-5.1h0m-1.9 10.5h0m17.4-5.3h0m-0.1-12.9h0m-17.4 18.2h0m34.1-1.4h0m-10.5 0.9h0m-20.7-8.6h0m12.8 5.9h0m-13.7 9.1h0m25.8-5.8h0m2.3-14.6h0m-20.7 5.5h0m7.3-4h0m-2.5 8.6h0m-2.5-1.6h0m9.9-0.4h0m-3.5 15.4h0m-13.3-12.4h0m3.2 14.2h0m2.1-19.5h0m3 9.9h0m6.7-7.2h0m-25 1.7h0m24.7 0.9h0m0.1-6.5h0m2 5h0m-2.6 6.1h0m-28.4 5.4h0m31.2-15.5h0m5.4 9.9h0" stroke="#000" stroke-width="1.0" stroke-linecap="round" opacity="0.45" fill="none"/>
<path d="M263.8 88.4h0m-2.2-11h0m3.5-13.9h0m13.1-9.4h0m-3.9 26.3h0m21.2-3.5h0m-23.3 1.3h0m-6.6 7.2h0m-7.6-18.2h0m-5.6-13.7h0m-2.7 18.3h0m12.4-6.8h0m13.6 9.6h0m-16.5 10.1h0m6-7.4h0m-10.4-24.6h0m8.9 14.6h0m-12.8-4.5h0m23.5 13.7h0m9 16.5h0m-25.2-27.3h0m15.2 15.3h0m-17.8-16.6h0m11.5 15.1h0m6.4-10.9h0m1.6-16.8h0m-20.8 22.2h0m-5.8-4.2h0m6.8 7h0m6.5 1.3h0m-4.3-0.7h0m0.6-12.8h0m8.5 6.1h0m7.2 3.7h0m-17.5 13h0m41.9 0.7h0m-64.2-20h0m38.8 11h0m3.9 17.6h0m-27.9-8.7h0m-5.8-34.8h0m14.6 18.1h0m18.9-16.7h0m-11.1-4.2h0m3.3 28.8h0m-5.9-9.4h0m4.9-10.9h0m-0.4 11h0m10.5 4.2h0m-15.2-9.1h0m-8.3-0.2h0m-7.5 9.8h0m13 8.2h0m-13-18.2h0m26.3 40.8h0m-42.9-37.2h0m29-12.6h0m1.4 16.4h0m13.7 15.7h0m8.4-27h0m-28.8 1h0m-2 4.2h0m3.2 19h0m-1-3.4h0m14.2 26.2h0m-13-34.4h0m17.5 8.6h0m-21-6.6h0m33.7 11.3h0m-29.4-15h0m13.7-9.7h0m-6.1 10.9h0m3.5-3.5h0m17.9-12.1h0m-16.1 11.6h0m-2.4-18.8h0m0.4 28.5h0m-28.4-15.9h0m5.5 3.8h0m20.6 22.6h0m1.3-4.9h0m-2.1-9.9h0m20.2-3.8h0m-32.5 32.6h0m10.1-7.7h0m-12-38.6h0m10.8 28.2h0m6.5-20.6h0m-15.5-12.1h0m13.7 2.5h0m2 9.2h0m6-17.1h0m-23.5 35.4h0m14.3-8.3h0m23 8.6h0m-32.3-3.1h0m0.6 11.4h0m-5.7-23.9h0m23.4 9.2h0m-15 0.7h0m13.4-18h0m-11.6 11.6h0m-2.3 8.4h0m1.2-7.6h0m9.8 9.5h0m-9-26.1h0m24.8-12.9h0m-34.4 40.2h0m10.7-0.3h0m8.7-5.7h0m-0.1-25.2h0m-24.4 6.4h0m20.8 14.5h0m-23 15.6h0m23.3-15.4h0m-29.7-8.8h0m39.9-6.9h0m-23.5-0.5h0m-4.1 13.9h0m-2-22h0m31.7 16.3h0m-15 16.1h0m6.9-21.4h0m-12.9 11.8h0m-7.2 1.7h0m14.7 13.8h0m-4.3-11.8h0m-9.9 4.6h0m17.1-2.2h0m8.2-28.2h0m-23.4 12.2h0m12.7 14.1h0m1.4 5.1h0m5.3 0.1h0m-2.4-12h0m3.5-8.9h0m-5.8 5.5h0m-7.3 7.2h0m2.7 8.9h0m7.6 10.1h0m1.9-26.4h0m-20.9 24.9h0m3.2-1.4h0m13.1-11.6h0m15.2 40.6h0m-12.8-31.4h0m-22.9-5h0m18.6 1.3h0m0.5-10.5h0m8.5-5.7h0m-20.5 17h0m20.3 2h0m-20.5-33.1h0m0.6 3.8h0m17.5 15.1h0m2.7-10.7h0m-0.4-13.8h0m6.3 3.5h0m-20.8 6.9h0m-13.5 18h0m25.1 4.3h0m-7.5-3.2h0m-1.2-4h0m6 7.2h0m-6.9 9.2h0m-1.5-16.1h0m-5.3 6.7h0m9.6-16.5h0m-17.9 0.2h0m-1.1 13.4h0m32.1-16.1h0m-19.9 8.1h0m7.8-14.8h0m-4 2.6h0m-2.5 15.6h0m15.5 0h0m-13.4 13h0m-7.4-5.9h0m-17.8-9h0m28 9.2h0m13 6.2h0m-18.2-2.3h0m1.5-18.2h0m10.9 29.5h0m4-25.9h0m-9.5 16.5h0m-15.4-44.1h0m15.5 7.4h0m-11 3.1h0m9 21.3h0m-18.2-16.4h0m20.7 9.7h0m15.2-12.1h0m-6.5 27.7h0m-19.3-5.2h0m5.9 8.4h0m5.7-21h0m9.1 24.3h0m-27-16.2h0m12.8-11h0m32.5 12.3h0m-25.4 8.6h0m12.3-22.2h0m-12.8 25.4h0m-6.2-32.1h0m-4.4 16.5h0m-5.1 27h0m-7.4-9.8h0m21.2-12.3h0m7.2-19.5h0m-16.4 35h0m13.1-22.3h0m5.7 12h0m-12.4-20.5h0m-20.1 18.5h0m21.9-17.8h0m-27-1.3h0m45.5-4.6h0m-21.6 16.2h0m-2.5-11.4h0m1.7 27h0m-27.7-8.6h0m38.1-4.7h0m-36.1-10.5h0m37.4 10.2h0m-11.3-10.7h0m-10 33h0m0.7-52.2h0m10.4 58.6h0m8.3-44.2h0m-7.7 40.4h0m-1.7-5.6h0m6.1-19.8h0m-9.4 3.3h0m13.3 4h0m-29.8-0.4h0m28.4-1.6h0m6.3-6.6h0m-0.9 5.3h0m-23.6-13h0m26.5-1.4h0m-8.1 15.6h0m13.5-23.3h0m-15 6h0m-9.1 14.8h0m7.6-25.9h0m-6.7 30h0m-10.7-14.3h0m8.3 33.8h0m23.1-10.2h0m-35-14.2h0m-0.6 1h0m9.4 26.3h0m8.5-29.2h0m-9.5 3.9h0m5.6-3.2h0m19.9-3.5h0m-25.4-0.8h0m-6.1 9.7h0m8.4-2.2h0m25.6 9.7h0m-18.3-5.9h0m9.2-8.6h0m-8.8 3.6h0m-10.6 6.2h0m-1.6-19.4h0m14.5 8h0m-5.4 8.2h0m3.7 2.5h0m14.8 12.7h0m-32.1-25.4h0m-0.5 6.9h0m6-15.2h0m36.6 10.3h0m-46 4h0m1.2-19.7h0m31.4 19.6h0m0.2 0.7h0m-21.1 7.8h0m14.1 14.3h0m-3.8-15.7h0m-12.6-4h0m4.1-13.3h0m10.1-2.4h0m7.2 24.9h0m-25.7-4.3h0m12.5-5.4h0m6.3-3.2h0m7.8 1.6h0m2.1 22.1h0m-22-8.1h0m-17.5-6.6h0m31.1-9.5h0m9.9-7.5h0m-25.7 18.7h0m-3.3 1.4h0m-26.8-32h0m46 7.3h0m-10.5 21.5h0m-0.1-10.3h0m7.7 11.6h0m6.5-9.8h0m4.1 6.7h0m-9.9 3.9h0m-3.3-1.8h0m-3.4-19.5h0m-0.7 3.8h0m2.4 0h0m15.4-12.7h0m-3.3 28.2h0m3.2-12.6h0m-10.5 10.7h0m-13.5-8.4h0m-10.3 15.5h0m26.9-30.7h0m-2.8 12.9h0m0.9-8.3h0m-6.8 18h0m10.4-12.9h0m-20.2-1.2h0m12.7-5.9h0m15.7 8.3h0m-20 14.4h0m12.9-15h0m-8 5.7h0m-2.2 18.7h0m-14.9-14.8h0m5.2-11.4h0m9.6 34.9h0m0.2-45h0m4.8 19.1h0m-7.8-10.1h0m9-9.9h0m-0.6-4.4h0m-16.8 6.1h0m37 13.5h0m-10.5-18.7h0m6.8-0.7h0m-38.7 23h0m32.1-6.2h0m-13.3 17.6h0m11.2 1.7h0m-7.9-6.5h0m-4.1-12.5h0m-24.2-20.1h0m17.4 22.6h0m-0.9 17.3h0m0.1 4.5h0m18.1-17.9h0m-8.4 4.3h0m-9.1-0.6h0m-4.5-9h0m-3.1 11.3h0m25.2-24.7h0m-6 16.3h0m-12.7 3.4h0m8.8-3h0m-18.3-5.7h0m12.3 11.7h0m2-3.9h0m-4.6-7.6h0m-5.4 35.5h0m35.5 1.2h0m-30.2 9.6h0m24.2-29.4h0m-6 11.6h0m-24.2-15.3h0m13.3-1.7h0m-1.8-14h0m18.7 13.7h0m-9.5 9.7h0m-19.3-24h0m24.3 9.2h0m-30.1 11.9h0m17.9 2h0m-0.1 1.8h0m-4.8 3.2h0m10.3-10.3h0m-6.1-5.3h0m-6.8-3.6h0m17.2-11.9h0m-14.5 13h0m9 24.3h0m-13.7-8.1h0m-6.8-20.4h0m11.7 6.5h0m-16-4.1h0m29.1 16.4h0m-8-10h0m-3.9-5.3h0m11.6-7.4h0m-28.9 1.3h0m38.3-6.1h0m-11.5-19.2h0m-2 25.9h0m-19.6 12.4h0m25.2-12.4h0m-11.6-17.6h0m2.7 12.1h0m14.5 15h0m-29.5-3.7h0m7.2-4h0m8.8 13.5h0m11.3-1.1h0m-12 0.7h0m-3.2 2.6h0m-9.1-4h0m26.1 2.2h0m-5.6 5.3h0m-15.5-17.6h0m-2.7 13.2h0m3.5 3.1h0m0.2-8.3h0m-3.1-14.3h0m21.2 2.2h0m-23.2 2.5h0m-5.1-13.2h0m38.2-7.1h0m-25.1 30.1h0m-1.2 8.4h0m-7.9-12.5h0m13.6 11.9h0m-14.4-10.8h0m27.8 18.7h0m-9.5-23h0m-10.5 17.6h0m-14.2-30.4h0m19.8 11.6h0m9.7 17.5h0m-1.7-18.5h0m-31.7-14.8h0m22 24.3h0m20.1 7.4h0m-20.8-15.2h0m4.3-16.7h0m-9.1 30.9h0m3.1-24.3h0m11.9 29.6h0m-35.4-32h0m10.1 10.5h0m6.1 3.7h0m-8.3 25.9h0m-0.2-38.3h0m19.6 22.7h0m5.6-14.4h0m-2.5 12.8h0m-0.4 13.4h0m6.4-38.3h0m0.6 23.6h0m-1-9.6h0m-6.6-9.1h0m-4.6-5.2h0m-15.7 19.5h0m7.5-14h0m7.1 0h0m-12.2 32h0m28.3-4.2h0m-4.4-26.7h0m-0.6 19.5h0m1.8-11.3h0m-13.5 7.7h0m1.2-20.8h0m22.1 32.6h0m-24.7-7.1h0m12.9-15h0m-31.3 20.8h0m9.9-9.6h0m18.5-0.3h0m-19.2 17.5h0m11.4-42.9h0m5.7 59h0m9.7-34.5h0m-2.1 17.6h0m-3.5-18.1h0m-41.6 10.6h0m26.5-11.7h0m15.1 11.9h0m5-11.3h0m-11.8-2.3h0m9-16.3h0m-4.2 12h0m0.4-1.9h0m-13.9 30h0m11.1-15.5h0m-1.7-8.6h0m8.6-13.3h0m-8.9-2h0m-9.4 10h0m10.3 7.2h0m-4.4-3h0m-5.8 2.4h0m-10.5-19.9h0m26.2 12.8h0m22.6-15.2h0m-30.2 18.8h0m-4 8.8h0m17.7-2.7h0m-16.4-3.5h0m13.4 5h0m-1.3-9.7h0m-20.8 45.6h0m-10-22h0m14.6-42.2h0m1.4 25.7h0m5.2-5.2h0m-18.1 7h0m21.3-15.4h0m20.2 13.6h0m-28.7-10.4h0m12.1-1.9h0m19-5.4h0m-16 5.5h0m-4.4-19.1h0m-16.6 18.8h0m20-7.5h0m-11.8 16.7h0m1.5 10.9h0m-10.6-3h0m19.4 0.5h0m14.3 17h0m-39.1-16.7h0m16.1-19.9h0m-3.7 5.4h0m8.1 5.5h0m-12.8-7.7h0m0.8 24.2h0m14.7-15.2h0m-21.2-7.9h0m11.1 2h0m24.9-1.2h0m-18-7.1h0m-8.7 10h0m6 17.7h0m-6.2-18.9h0m29.4-1.2h0m-4 2h0m-15.5-3.1h0m5.1-9.1h0m-38 7.1h0m24.3 10.4h0m-1.3 6.3h0m45.5 0.6h0m-38.5-9.4h0m2.3-20.6h0m-22.2 34h0m37.8-15.4h0m-36.1 4.3h0m13.5 5h0m2.3 0.4h0m21.3-9.2h0m-16.6-4.2h0m-22.8 8.7h0m43.5-23.6h0m-27.9 28.6h0m0.8 2h0m-5.2-17h0m-9.5 7.1h0m36.9-4.3h0m-25.8 8.2h0m1.3 8h0m11.4-43.9h0m-10.8 23.2h0m14.1-9.3h0m-8.7 13.4h0m-2.6-8.5h0m11.3 34.2h0m-1.1-21.1h0m-11.7-2h0m-9.8 34.3h0m12.2-40.5h0m16.2-4.8h0m-19.4 16.9h0m-5.6 13.7h0m20.2-17.5h0m-15.2-21.8h0m2.8 20.8h0m1.4-2.2h0m17.6 0.9h0m-13.9 15.7h0m0.9 12.2h0m7.2-39.3h0m1.7 27.6h0m-36.5-14.3h0m27.4 9.7h0m5.8 0.6h0m-2-10.5h0m-21.7-5.4h0m22.6 2.4h0m21.5-8.4h0m-2.6 7.8h0m-9.3 25.3h0m-7.5-16.8h0m3.1 20.5h0m-12-38.4h0m-5.8 25.1h0m4.3-16.5h0m-3.3 2.9h0m-21.9 9.3h0m25.7-8.8h0m7 19h0m-20.4-12.6h0m11.3 9.7h0m4.8-24.4h0m-17.6-0.7h0m11.6-3h0m12.3 15.5h0m0.2 18.3h0m18.7-31.8h0m-31.2 21.6h0m4.3-30.7h0m2.2 30h0m4.8-2.9h0m-29.1-27h0m20.4 8.2h0m-4.6 28.5h0m18-22.7h0m-10.9 28.9h0m-4.6-28.3h0m-6.4 4.4h0m-13 13.4h0m22.7 6.8h0m-6.8-16h0m6.4-6.2h0m23.3 11.4h0m-30.6 3.7h0m-5.8-14.5h0m20.1 13.6h0m-5.7-28.1h0m15.1 11.4h0m-29.9 14.7h0m8.1 1h0m-21.6 3.4h0m20.3-8h0m2.8-8.2h0m-2.4-1.4h0m16.1-2.1h0m-19.5-7.7h0m-1.4 11.7h0m28.9 7.3h0m-6.6-2.8h0m-8.5-22.4h0m9.5 9.1h0m-16.5 20.7h0m-2.1-2.5h0m11.1-2.3h0m32.4-9.3h0m-50.6 2.4h0m29.9-17.3h0m-19.8 7.8h0m-7 7.6h0m-3.8 4.2h0m12.7-1h0m6.7 9.5h0m-2.1-28.6h0m4.3 23.2h0m5.9 24.5h0m-22.3-20.5h0m-8.8-0.9h0m21.7 4h0m-0.7-8.5h0m-4.1-8.6h0m-1.2-1.5h0m-11.4-17.8h0m22.9 39h0m-21.1-20.5h0m-3 19.4h0m45-8.7h0m-31.9 7.4h0m-3.6 10.6h0m17.1-6.2h0m-9.6 6.7h0m-4.5-12.1h0m1.2-18.5h0m-20.5 3.4h0m14.3-11.4h0m-5.9 8.9h0m3.9 21.8h0m44.8-7.1h0m-26.3 6.2h0m19.9 0.2h0m-17.6-9.6h0m-10.1 23.1h0m-5.7-22.8h0m24.3-6.6h0m-42.1 14h0m15.8-18.8h0m12.9 9.2h0m-37.2 26h0m37.1-15.3h0m-18.7-17.5h0m22.1 12.8h0m-19.6 5.4h0m21.3 2.1h0m-26.5-20.2h0m31.1-7.8h0m-1.6-5.4h0m-7.1 26.7h0m-0.6-2h0m-35.4-2.3h0m1-17.9h0m41.6 5h0m-32.9 22.6h0m12-22.2h0m8.5-4.6h0m-4.2 11.6h0m-4.9 8.2h0m20.2-39.2h0m-31.8 45.1h0m9.9-28.4h0m2.6 16.5h0m19.8 7.1h0m-19.4-10.6h0m-11.3 13.4h0m39.4 10.8h0m-35.9-28.9h0m1.5 25.7h0m5.4 7.3h0m0.2-9h0m10.8-15h0m-24.5-6.9h0m33.3-1.2h0m-4.9 11.8h0m7.9-3.6h0m-13.9-6.1h0m2.5 20.5h0m-14.4-24.1h0m24.3 35.2h0m-0.5-11.5h0m-30.7-34.4h0m23.9 1.4h0m-14.6 24.9h0m-8.5-7.8h0m36.4 4.2h0m-33.8-7.4h0m19.4 8.2h0m7.1 7.3h0m-29.8-37h0m21.1 28.9h0m6.4-16.7h0m-9.6 13.1h0m-13.2 14h0m8.3 4.9h0m18.6-5h0m-36.4-14.9h0m36.4-12.3h0m-29.4 17.5h0m13 10.5h0m-4.8-8.9h0m11.9-12h0m-32.3 10.9h0m35.3 13h0m-10.4-18.6h0m10.7-2.5h0m3.6-25.2h0m-1.4 34.5h0m-13.4-20.9h0m-10.1 19.5h0m-6 23.7h0m2.8-23.3h0m4-0.7h0m18.8 3.2h0m-0.4 15.2h0m-14-45.1h0m0.3 14.7h0m-0.1-6.9h0m4.3 12.6h0m3.4 29.9h0m-12.6-40.3h0m-7.7 28h0m18.2-21.4h0m2.2 1.5h0m3.8-14.2h0m-48.7 1.1h0m45.6 27.4h0m-4.8-17.1h0m10.2 7.4h0m-12.9-5.1h0m14.2-5.8h0m-13.5 13.2h0m20.3 4.4h0m-26.6-20.7h0m11.3 0.2h0m1.3 21.6h0m-11.7-20.3h0m3.6 20.8h0m8.8 4.1h0m10.3-14.1h0m-6-0.3h0m2 9.1h0m11.6-7.4h0m-8.1-22.2h0m-15.4 27.2h0m10.5-11.5h0m-15.9 16.3h0m55.5-26h0m-54.1 23.6h0m14.7-0.2h0m-15.1 4.3h0m-4 17h0m29.6-21h0m-22.1-11.6h0m-14.6-2.7h0m36.1-8.8h0m-4.3 24.7h0m-8 2h0m1.7-7.7h0m-12.5-27.9h0m3.7 36.3h0m-10.4-31.9h0m17.7 20.3h0m20.2-8.3h0m-16.5 0.2h0m-17.5 21.8h0m15.6-4.6h0m-5.4-20.8h0m15.6 10.5h0m-28.5 13h0m19.2-13h0m-0.1-11.3h0m-22.6 28.5h0m17.8-16.4h0m-3.7-19.8h0m-14.7-1.1h0m21.2 32.4h0m-4-17.6h0m3.3-18.5h0m-15.2 35.1h0m0.5-20.6h0m25.2 25.1h0m-5.4-4h0m-11-7.1h0m-5.1-0.6h0m6.9 7.2h0m-19.9-2h0m16.9-14.2h0m9.8-4h0m-23.3 7.2h0m19.1-6.8h0m4.3 22.9h0m-19.2-2.5h0m4-18.9h0m1.1 10.3h0m8.1-19.2h0m1.5-0.9h0m-2.4 19.8h0m1.5-6.4h0m-22.3 33.2h0m25.8-20.3h0m-11.4-33.5h0m9 32.9h0m-23.5 3.1h0m21.6-4.1h0m1.4 32.6h0m-11.8-36.8h0m10.9-5.2h0m11.3 4.3h0m-8.4 2.9h0m-7.5 4.6h0m-28.2-9.8h0m37.8-14.7h0m3.3 24.9h0m10.4-0.2h0m-52.6-34.2h0m46 43.9h0m-6.6-20.5h0m8.8 12.2h0m-14.1-31.3h0m10 12.3h0m-13.6 25.6h0m-5.1-0.9h0m7-14.9h0m-11.3-16h0m26.3 3.1h0m-7 3.2h0m-12.8 2.4h0m5.1-10.2h0m-3.2 14h0m-4.2-22.5h0m-9.8 48.6h0m19.8-16h0m4.2-0.4h0m-4.2-7h0m-0.4 4.6h0m6.3-2.9h0m-6.2-11.9h0m-17.2 15.8h0m26.5-9.9h0m3.7-17.1h0m-22.7 21.8h0m10-11.3h0m-10.1 25.6h0m5.2 2.6h0m-1.8-24.3h0m1.6 20.7h0m-23.1-8.1h0m13.8 0.2h0m10 2.9h0m12.8-0.8h0m-5.6 1.5h0m-9.8 2.3h0m14.6 0.8h0m-15.9 8.6h0m3.7-3.3h0m-1.3-25.4h0m2.3 17.6h0m5.7-35.6h0m-27.8 14.5h0m2.5 38.4h0m30.1-20.3h0m-8.4 6.4h0m-1.5-16.4h0m-7.7-10.4h0m20.7 7.7h0m-4.6 15.8h0m-1.7-26.8h0m-19.2 33.7h0m26.2-6.2h0m8.2-10.5h0m-31.1-6.3h0m12.8 21.8h0m-2.2-28.3h0m-14 1.8h0m10.3 20.2h0m8-12.4h0m-15.9 10h0m9.3-17.4h0m-4-2.4h0m7.5 24.5h0m-0.1 1.3h0m3.4-23h0m10 10.1h0m-14.5 11h0m-12.7-8.1h0m13.9-15h0m-27.8 10.8h0m34.2-4.8h0m6.2 4.3h0m-1.3 10.9h0m-10.2-14.2h0m-0.5 11h0m-18.4-9.6h0m-3.9-5.2h0m22.4 19.6h0m-9.7 0h0m-12.5 7.8h0m31.5-25.7h0m-14.2-14.7h0m-9.6 38.7h0m4-17.3h0m23-14.3h0m-28.9 1.1h0m20.6 27h0m2.2-12.9h0m-8.5 10.8h0m17.7 13.5h0m-12.5-35.3h0m-22.8 3.8h0m23.9 8.7h0m15.8-10.7h0m-11.5 32.2h0m-0.1-35.3h0m-7.7 12.3h0m-18.9-31h0m18.5 29.2h0m-1.2 2.3h0m-14.2-13.1h0m-5.2-11.4h0m21 14.3h0m-7.8-3.2h0m14.2 12.6h0m-24.1-0.9h0m21.3 0.4h0m8.1-5.5h0m-13.7 18.8h0m2.1-1.7h0m-10.4-19.8h0m-5.4 7.2h0m-9.3 16.4h0m24.3-12.2h0m-2.3-27.9h0m4.5 41.7h0m4.3-30.3h0m-1 10.9h0m3.2-10.7h0m-6.1 5.4h0m5.7 2.1h0m5.6 17.1h0m-5.4-20.7h0m-3.4 45.6h0m-22.6-65.9h0m28.6 29.6h0m-13.3 1.8h0m2.3-8.1h0m-5.2-13.1h0m11.6 51.1h0m-18-27.2h0m-5.6 10.5h0m35.7-3.1h0m-16-1.3h0m-21.7-22.8h0" stroke="#000" stroke-width="1.0" stroke-linecap="round" opacity="0.5" fill="none"/>
<path d="M277.4 130.8h0m20-2.2h0m-26 1h0m3.6-7.4h0m6.8-2.5h0m-24.3 5.6h0m24.4 2.2h0m-24-2.7h0m-9.1 3h0m7.4-11.8h0m9.5 4.1h0m25.6 2.9h0m-44.4 1.3h0m-6.5 7.5h0m18.3-6.2h0m-11.8 4.6h0m35-2.6h0m-36 0.2h0m28.7-2.5h0m-34.5 3.3h0m33.5 4.6h0m7.5-12.1h0m-3.3 2.6h0m29.3 7.8h0m-3.7-4.4h0m-3.6-9.3h0m-36.4 8.3h0m4-2.4h0m15.4-3.6h0m-35.7 0.5h0m16.7 8h0m3.4-2.7h0m4.7-20.6h0m-32 7h0m29.2 12.2h0m-0.6 4.7h0m-25.2 1.3h0m57.9-9.6h0m0.7-8.5h0m-18.9 6.8h0m-1.7 5.6h0m-30.3 7.2h0m34.3-2.9h0m0.1 0.2h0m-15.3-0.1h0m-20.5-10.2h0m58.9 12.7h0m-31.1-7.6h0m-12.2-4.4h0m7.2-1.7h0m-37.4 9.9h0m45.9-0.5h0m-16 2h0m0.4-7.9h0m-20.6 4.9h0m19.1 1.3h0m25.1-7.9h0m-16.4 7.1h0m-9-5.7h0m7.1 5.4h0m-8.4-0.3h0m16 3.3h0m-17.6 6.3h0m-17-14.3h0m23.2-1.7h0m34.4 15h0m8.5-12.4h0m-47.7 1.6h0m16.8-2.1h0m-4.3 6.5h0m15.3-0.2h0m-21.8 2.8h0m-48-13h0m57.3 8.7h0m-7.6-3.3h0m17.3-0.4h0m-32 8.8h0m9.1 1.8h0m-8.3-16.1h0m8.7 7.5h0m5.4 0h0m-5.9-6.8h0m-0.8 5.7h0m-4.4 6.3h0m16.4-12.3h0m19.6 4.8h0m-16.6-8.9h0m-32.1 3.9h0m38.8 8h0m-7.3 2.9h0m-24.4 1.9h0m27-2.7h0m-13.3-4.1h0m-30.9 0.2h0m34.2-1.7h0m-35.6 2.8h0m35.1-0.4h0m-1.9-1.5h0m-3 0.5h0m0 1.4h0m10.6 8.2h0m-2-18.8h0m-14.7 14.5h0m4-2.5h0m-3.6 7.7h0m26.2-15.8h0m-34.7 4.5h0m17-6h0m-15.2 9h0m50.2-1.7h0m-17.5-0.2h0m-32.6-0.4h0m29.7-0.2h0m4.1 0.4h0m-47.7-2.2h0m33.6 10.2h0m3.7 2.9h0m-7.6-3.8h0m-14.9-3.7h0m0.1 0.7h0m23.7-2.4h0m-1.5 2h0m-5.6-2.7h0m-11.7 4h0m-19.4-11.3h0m8.7 0.9h0m25 2.4h0m15.2 7.6h0m-28.5-8.7h0m31.3 4h0m-32.1 6.5h0m25.3-2h0m17.2-1h0m-24.8-2.7h0m-7.2 0.1h0m2.6-2h0m22.6 11.1h0m-7.2-14.4h0m-34.5 6.5h0m6.7-8.9h0m14.9 8.2h0m6.9-0.9h0m-5.5-4.9h0m12.5 8h0m8.1-12.9h0m-25.7 7.6h0m2.8-7.6h0m15.5 13.5h0m-29.5-0.9h0m21.4 3.3h0m-24.1 1h0m10-10.6h0m-22.3 6.4h0m26.3-1.5h0m-10.6-2h0m-7.9 5h0m43.2-7.1h0m-37.3-0.4h0m21.3 4.5h0m7.9-5.7h0m-6.8-0.1h0m-5.9 6.8h0m19.4 1.6h0m-22.6-5.8h0m17.8 5.3h0m-31.7-7.9h0m-10.4 1.2h0m32.5 2.3h0m-0.1 3h0m12.1-2.4h0m-26-3.4h0m-3.2-0.7h0m-2 13.4h0m-13.6-11h0m0.4 0h0m-12.6-10h0m31.7 10.6h0m2.4-4.2h0m-18.5 3.3h0m20.4 0.1h0m-8.1 4.5h0m19.8-8.5h0m-5.9 3.3h0m8.9 0.8h0m-1.4 3.8h0m-52.3-1h0m51.2-7.4h0m-7.1 0.8h0m14.6 9.4h0m17.2-1.6h0m-24.5-9.5h0m-31.5 9.2h0m17.2-2.1h0m18.8-1.4h0m-6.9-0.5h0m-16.7-10.7h0m24 11.1h0m6.9 5.5h0m-21.6 0.5h0m9.7-7.3h0m6.5 10.4h0m2.9-5.1h0m-18.8 0.3h0m-15.1 7h0m-12.4-16.3h0m49.1-1h0m-12 4.4h0m-25-6.4h0m-0.5 11.3h0m-22.1-6h0m32.2 14.3h0m-5.4-12.7h0m19.3 9.3h0m-0.6-2.8h0m7.9-2.8h0m-3.7-3.1h0m-34 2h0m32.9 3.6h0m1.9-2.6h0m-40-3.3h0m38.6 4.7h0m-24.1 1.9h0m8.6-4.6h0m-25.5-0.6h0m17.8-3.1h0m7.3-0.6h0m6.6 10.9h0m23.2 0.1h0m-19-6.5h0m15.4 2.9h0m-18.5-12.2h0m-25.4 14h0m19.9-9h0m33.8 6.1h0m-61.5-2.8h0m23.8 1.7h0m24.2-2.4h0m-59.5 3.8h0m36.5-6.8h0m14.7-2.3h0m-8.5 11.9h0m-13.7 2.7h0m27.2-7.6h0m-4.2 6.9h0m-19.3-8.5h0m31.7 7.2h0m-46.3-7.3h0m5.5-2.2h0m15.2 5.8h0m-4.4-0.9h0m7.4-0.6h0m-18.4 3.9h0m24.5 0.4h0m-20.6-6h0m29.1 6.2h0m10.3-12h0m-41.8 1.8h0m27.9 11.9h0m6.2-2.1h0m-52.6-6.9h0m59.6 1.8h0m-50.9 5.4h0m11.6-2.6h0m13.1-8.7h0m11.6-0.3h0m-4.1 15.9h0m2.1-6.1h0m-0.5 3.9h0m-15.7-1.3h0m-2.1-3.4h0m35-4.3h0m-48.9 4.9h0m7.9-7.1h0m33.3 7.9h0m-27.5-2.9h0m9.3-4.9h0m-13.6-2.4h0m18.9 4.1h0m-23.7-1.4h0m0.1 0.7h0m15.7 5.7h0m-20.5 8h0m9.5-14.1h0m-13.1 15.7h0m28.3-6.2h0m-10.3-6.6h0m8.5 4.4h0m26.4-12.7h0m-32 6.5h0m26.1 4.2h0m-3.4-14.4h0m-5.1 11.8h0m-1.4-7.5h0m-31.3 5.8h0m23.1 7.6h0m18.8-11.3h0m-54.2-1.3h0m30.6-2.7h0m11.3 10h0m4.4-4.6h0m-0.6 9.7h0m-5.1-14.1h0m-31.6 12.7h0m3.6-3.5h0m22.4-3h0m-1.7 1.3h0m4.7-1.1h0m17.1 5.3h0m-24.7-3h0m27.5 4.1h0m-43.7 3.5h0m-9.8-8.5h0m48.2-6h0m16.1 8.6h0m-70.8 2.6h0m41.8 6.2h0m-14.4-5.1h0m38-2.1h0m-31.4-2.8h0m-6.7 1.8h0m25.3 4.2h0m-20-2.2h0m7-7.9h0m-7 8.3h0m13.4-13.5h0m-12.6 6.2h0m6.6 7.6h0m7.9-5.5h0m-32.3 11.6h0m13.1-13.4h0m9.9-0.6h0m-4.2 0.6h0m14.3 7.6h0m-14.9-3.4h0m26.4-8.7h0m-23.7 18.5h0m-4-11.8h0m-13.4-1.1h0m-8.1-1.8h0m25.6 2.6h0m-17.7 2.6h0m21-5.3h0m5-0.2h0m-5.8 8.6h0m-19.4-1.7h0m-5.5-6.4h0m25.4-0.6h0m2 13.8h0m18.5-10.3h0m-20.7-2h0m7.7 4.7h0m-28.8-5.5h0m8.7-3.3h0m-6.1 9.3h0m6.8 1.8h0m-19.2 0h0m38.9-4h0m-11.1-6h0m1.4 3.6h0m40.1 3.3h0m-28.3-9.3h0m-27.9 0.6h0m43.9 7.1h0m-24.2-6.2h0m-12.2 9.6h0m42-2.1h0m2.6-3.6h0m-47.2 7.4h0m22.3 1.6h0m10.6-5.4h0m-18.4 2.9h0m18.2-4.4h0m-21.9 10.1h0m-16.8-15.4h0m22.1 16.7h0m-9.7-4.4h0m-9.7-5.7h0m2.5 7.4h0m1-16.3h0m35.2 0.9h0m-25.1 15h0m0.7-0.1h0m-39.4-6.2h0m56-8h0m-34.9 9.6h0m2.6 9.1h0m7.2-6.7h0m3 3.6h0m7.6-13.3h0m-21.2 13h0m35.8-10.4h0m-31.1 4.9h0m-7.8 0.8h0m36.8-7.7h0m-27 3.3h0m9.2 4.7h0m-9.9 7.1h0m39.8-12.7h0m-32-5.4h0m4.2 5.8h0m11.5-2.2h0m-8.6-0.7h0m0.8 8.5h0m-2.3-9.4h0m3.2 4.4h0m-7.2-3.9h0m-17.1-5.5h0m17.5 18.2h0m6-6.2h0m-47.3 0.8h0m20.5-7.8h0m17.7 4.8h0m22.5 1.3h0m-8.9-2.4h0m3.3-5.6h0m-25.1 8.4h0m-13.8-3.5h0m30 0.4h0m-7.9-0.2h0m13.2-2.3h0m-8.9 3.5h0m-2.6 0.7h0m-8.1 5.5h0m-1.5-1.2h0m-9.5 4.3h0m-12.1-13.7h0m14.5-1.1h0m12.6-0.2h0m44.5 11.6h0m-57.3 3.4h0m56.1-10.7h0m-49.1 1h0m33.9-2.8h0m16.8 0.7h0m-39.9-7.9h0m-7.2 8.8h0m-4.8-6.9h0m27.7 14h0m2.1-12.3h0m19.1 3.2h0m-45.5 11.7h0m11.1-7.6h0m-17.9-1.2h0m-12.4 1h0m12.4 6.1h0m5.9-7h0m38.9 0.8h0m-17 0.9h0m-17.5 8.7h0m19.9-15h0m-12.8 5.3h0m2.5 8.4h0m12.8-3h0m-14.7-10.5h0m-17.8 0.1h0m3.2 8.9h0m-18.2-2.3h0m21.8 4.5h0m20.4-3.5h0m-45.8-3.3h0m52.2 10.5h0m-32.5-11.9h0m36 11.9h0m-23.8-10.1h0m-0.6-3.5h0m6.5 8.1h0m-18.4-2h0m11-4h0m-2.9-7.7h0m5.2 7.4h0m-9.3-0.5h0m6.6-0.8h0m-14.6 1.7h0m11 5h0m13.9-8.8h0m-9.8 2.1h0m-2.1 12.9h0m16.4-15.8h0m-20.7 6.8h0m-20.7 0.2h0m23.7-0.4h0m20.6 1h0m-2.4-4.6h0m-21.9 4h0m31.5-3.5h0m-38.9 1.7h0m24 6.1h0m-3.3-5.2h0m-13.2 0.1h0m26.1 5.5h0m-7.4-2.5h0m-19.1-0.4h0m21.6-4.7h0m-9.5 5.4h0m4.1 0.3h0m-10.7 2.6h0m5.2-11.1h0m14.8 8.6h0m-17.8-14.8h0m14.3 10.4h0m-6.1 5.4h0m-17.3-15.9h0m34.1 17.3h0m-1.9-5.3h0m-18.5-3.5h0m-19.7 13.1h0m8-11.3h0m-13.4-2.1h0m17 3.7h0m16.2-10.5h0m8.5 4.8h0m-50.3 8.6h0m74.6-3.1h0m-63.3 1.1h0m7 6.4h0m8.5-5.9h0m-8.8-2.8h0m28.4-5.3h0m-19.4 1.3h0m-14.8-4.9h0m51.6 4.9h0m-36.4 7.7h0m5.5 6.3h0m16.8-14.5h0m-36.3 7.9h0m24.7 1.3h0m11.3-9.4h0m-20.9 9.4h0m21.3-1.2h0m-6.9-4.6h0m-16.9-5.8h0m-1 8.1h0m40.7-2.5h0m-55.8 4.7h0m-0.2-5.4h0m30.6 9.6h0m-10.7-6.7h0m-9.9-3.3h0m26.6 3.6h0m-11-0.8h0m-14.4 7.9h0m12-10.2h0m31.3 4h0m-15.4 6.7h0m-1.9-2.1h0m26.3-14.2h0m-34.1 10.7h0m-35.5-1.9h0m54 4.1h0m-31.2 2.2h0m0.9-13.1h0m21.7 12.6h0m-11-6.5h0m-15.4-4h0m-3.1 4.5h0m33.5 2.1h0m-23.6 0h0m16-1.3h0m-7.6 3h0m-29.4-10.7h0m19.1 7.5h0m28.5 1.7h0m-25.9-5h0m9.6 3.8h0m17.1-0.2h0m-16.5-1.6h0m8.8 6.4h0m-25.9-4.9h0m21 7.3h0m-13.3-9.7h0m-1.6-0.6h0m-3.9 2.3h0m14.4 9.2h0m-25.8-9.2h0m25.7 4h0m-22.9-6.2h0m10.3 8.5h0m20.6-3h0m-16.6-11.8h0m-24.1 7h0m17.6 5.5h0m0.3-3.1h0m39.2 4.8h0m-19.7-15.2h0m6.1 9.4h0m-34.7-2h0m21.2 3.5h0m-10-3.1h0m14-5.2h0m-22.1 2.9h0m20.3 1h0m-18.1 7.8h0m10.4-7h0m-7.4 6.6h0m21.9-10.7h0m-13.6 13.8h0m16.1 0.6h0m-22.5-1.2h0m25.3-10.9h0m-9.6 2.9h0m-23.2 5.3h0m32.3-18.1h0m15.4 9.6h0m-32.7 15.4h0m22.8-1.2h0m-35.6-6.9h0m5.5-10h0m1.5 10.4h0m27.2 7.6h0m-25.2-13.5h0m18.1 10.5h0m-15.7-3.6h0m8.8-9.8h0m-33 6.1h0m43.1-7.6h0m-20.2 13.7h0m4.7-3.2h0m12.2 2.8h0m-24.2-4.2h0m5-6.9h0m7.7-6.6h0m15.5 21.9h0m-16.7 2.1h0m-16.9-12.3h0m35.6 5.3h0m-11.8-13.9h0m-8.4 14.1h0m8.8-6.4h0m-14.9-3.8h0m-12.4 1.8h0m18.9 2.9h0m9.4-0.4h0m-30.4 2.2h0m18.2-3.2h0m13.2 6.4h0m-34.7-6.5h0m32.6-2.6h0m-10 1.7h0m-29.9 0.3h0m15.5 10.8h0m32.9-12.7h0m-22.5 2.6h0m5.5-4.1h0m-10.5 8h0m3.1-6.8h0m19.2 0.1h0m-14.8 8.2h0m10.2-2.6h0m-6.5-7.4h0m-9.1 4.6h0m-9.6 3.7h0m42.4-3.5h0m-4.1 1.3h0m-11.2-0.4h0m8.3 0.7h0m-42.5-11h0m29.2 11.8h0m-5.3-3.9h0m-23.1 6.1h0m21.4-14h0m-7.1 10.1h0m19.5 4.2h0m21.7-4.1h0m-31.6-6.7h0m-27.9 8.4h0m30.4 5.5h0m-20.7-5.2h0m14.5 7.7h0m-14.3-7.3h0m36.2 2.6h0m-12.2-4.9h0m3.5-6.8h0m1.3 8.5h0m-20.8 2.2h0m15.6 4.2h0m12.8-8.5h0m-28 2.8h0m-9.6-0.2h0m-20 5.5h0m71.1-10.8h0m-15.9 2.7h0m-22-2.8h0m5.5 0.3h0m21.5 0.6h0m-14.9 6h0m-23.5-0.3h0m17.9-6.9h0m-4.6 6.6h0m-8-0.7h0m2.2-0.5h0m19-4.4h0m-12 9.6h0m11.6-16.9h0m-15.9 8.3h0m5.5 2h0m29.9 1h0m-30.3 0.4h0m3.7 1.1h0m-3.8-6.7h0m36.2-3h0m-12.1 11.2h0m-42.2-7.7h0m18.2 5.2h0m3-1.9h0m5.7-13.6h0m-16.2 11.7h0m7.9 3.1h0m-17.1-2.1h0m30 4.6h0m-26.4-6.9h0m39.2 3.4h0m-20.9 0.6h0m-18.9-3.7h0m14.6 1.3h0m4.9 7.8h0m-16.2-10.5h0m27.4-2.1h0m-10 8.7h0m7.4 4.6h0m-40.1-3.8h0m27.8-10.2h0m-16 5.4h0m5 3.2h0m7.6-7.5h0m-21.6-4.6h0m16.8 6.7h0m18.6 1h0m-46.1-2.5h0m33.8 5.5h0m-7.2 7.2h0m-1.6-6.2h0m16.3-8.4h0m-8.9 4.4h0m-5.5 3.8h0m-9.1-19.8h0m13.6 14.5h0m8.3 8.7h0m-11.9-7.9h0m28.8 0.9h0m18.7-3.1h0m-77.7 7.9h0m12.3 0.6h0m32.7-0.2h0m10.1-0.9h0m-9.6-5.5h0m-16.3 3.1h0m-4.2-4.2h0m16.5 9.4h0m4.4-6.4h0m-5.5 1.1h0m-7.6 3.2h0m7.4 1.3h0m-11.3-8.3h0m-3.4 2.7h0m-16.3-0.3h0m39.4 1.2h0m-3.1-3.2h0m-20 4.9h0m27.6-5.8h0m5 5.1h0m-27-3.1h0m48.7 2.7h0m-42.3 0.6h0m20-5.1h0m-7.8 3.7h0m-14.9-7.5h0m10.3 11.3h0m-33.7-5h0m30.8-1h0m-43 10.1h0m33.8-13.5h0m-27.2 8.5h0m14.5-2.4h0m10.1 4.4h0m10-2.6h0m8.7-4.7h0m9.6 9.8h0m3.3-13.3h0m0.4 11.8h0m-48.7-4.5h0m38.9 9.9h0m-23.7-11.2h0m2 1.1h0m13.8 3.1h0m-20.3 0.8h0m-3.5 0.8h0m24.4-11.2h0m-9.8 9.7h0m-13.4-0.4h0m16.5-3.1h0m-5.3-0.3h0m-13.8 12.1h0m26.3-13.9h0m1.3-6.1h0m-14 8.2h0m15 6.7h0m-5.4-3.2h0m-21.8-0.7h0m48.5 3.7h0m-26.3-9.7h0m7.4 2.6h0m-25.1 2.8h0m27.7-4.9h0m5.4 12.6h0m-24.2-3.1h0m-4.8 4.3h0m1.4-9.4h0m12.9-0.4h0m-23.5-5.2h0m26.8 12.3h0m-9.3-10.3h0m18.7 2.9h0m-22.8 3.2h0m-5.8-6.9h0m3.1 3.8h0m4.9-5.3h0m-10.4 0.9h0m32.9 5.1h0m-33.5-10.2h0m57.1 7.6h0m-35.4 9.4h0m7.3-11.6h0m-25.3-4.6h0m-3.4 9h0m-2.3 4.8h0m3.9 0h0m12.8-2.9h0m-8.1 7.8h0m16.8-16.6h0m-39.9 2.3h0m48.6-3.1h0m-42 2.6h0m9 1.5h0m-19.8 1.9h0m38.6 0.6h0m26.4 7.2h0m-48.4-5.5h0m-4.6-7.5h0m6.7-5.7h0m13.1 16.5h0m7.8-3.1h0m-3.1 4.5h0m24.6-6.4h0m-24.4-1.1h0m8.9-1.2h0m-3.9 1h0m-16.7-0.1h0m27.8-2.8h0m-14.6 6h0m-30.8 7.6h0m20.1-10.4h0m-9.9-4.9h0m1.5 10.4h0m12.2-9.1h0m-0.8 6.2h0m26.5-6.6h0m-32.2 7.8h0m-10.2-3.5h0m29 5.5h0m-23-17.4h0m-24 8.9h0m69.6-11.1h0m-33.9 15.5h0m-17.7 11.7h0m8.9-12h0m10 2.4h0m-6.8-8.6h0m8.3 11.8h0m-19.8-6.9h0m16.5-0.2h0m5.3-4.5h0m-0.8-0.1h0m-15.6 10.6h0m-7.1-13.4h0m21.4 13.7h0m8.3-4.8h0m-12.1 6.1h0m15.8-7.3h0m-24.8 0.2h0m-0.5-0.2h0m14.2 3.5h0m-3.9-8.8h0m-5.2 15.7h0m21.6-10.8h0m-26.3 6.5h0m1.6-6.8h0m20.8-1h0m-19.5 7h0m38.2-13h0m-32.4 13.1h0m20.5-2.2h0m-0.7-4.5h0m-22.3 5.1h0m-3.8-3h0m-9.7-2.7h0m24.5 2.4h0m-0.4-9.8h0m-4.4 2.3h0m21.3 3.9h0m-12.7 3.7h0" stroke="#000" stroke-width="1.0" stroke-linecap="round" opacity="0.6" fill="none"/>
<path d="M231.4 112.7h0m1.6-15.5h0m9.9 13.1h0m-5.2-12h0m-3.8-2.3h0m-6.5 6.4h0m6.6 5.6h0m-4.7-11h0m-0.4 2.3h0m6.7 7.6h0m-3.2-7.7h0m-5.4-5.8h0m-3.4 7.2h0m2-12.8h0m6.9 6.2h0m-1.9 9.5h0m3.5 7.7h0m-15.7-12.3h0m0.6 0.3h0m10.5 10.1h0m6.5 0.2h0m-17.4-11.8h0m14.2 4.4h0m-4.6-15.3h0m14.5 25.7h0m-14.8-8.7h0m1.1 19.4h0m2-16.5h0m-2.5-1.5h0m5.8-12.6h0m5 11h0m-8.4 1.1h0m1.6-5.1h0m-10.3-2.5h0m-6-1.7h0m21.1 0.9h0m-6 4.9h0m1.3-10h0m-5.2 15h0m0.9-12.6h0m2.5-1.8h0m4.3 11.5h0m-3.6-18.9h0m-3.6 9.4h0m8.2 10h0m-1.2-1.1h0m0.2-12h0m-7.4 1.8h0m-3.2-6.4h0m7.3 10.3h0m-5.2 7h0m0.9-5h0m-4-6.9h0m14.9 21h0m-9.7-16.5h0m-1.2 26.9h0m8.1-12h0m-9.9-17h0m2.5 11.7h0m6.2-7.4h0m-2.5 4.8h0m-4.8-6.9h0m9.3-8.3h0m-6.2 13.3h0m-2.9-2.8h0m2.8 8.2h0m14.1 11.2h0m-11.7-18.3h0m4-1.2h0m-10.4 7.2h0m14.5-8.6h0m-10.9 1.8h0m8.6-7.4h0m-2.7 14.8h0m-8.8-6.1h0m10-5.5h0m-9.8 11.1h0m-3.7 2.4h0m3.4-10.3h0m11.8 0.1h0m1.1 7.7h0m-14.9 1.9h0m9.1-11.9h0m-1.7 2.5h0m-8.3 3.9h0m7.4-7h0m-0.1 14.7h0m0.4-27.6h0m6.4 25.6h0m-15.3-3.9h0m-2.1 4.2h0m3.9-8.2h0m6.5 2.3h0m2.1 5.5h0m4.9-0.2h0m-17.7-6.2h0m6.8 7.7h0m13.8-20.3h0m-17.5 0.6h0m-6.6 5.3h0m16.5 10.7h0m1.7-10.4h0m-7.4 9.8h0m0.5-5.2h0m4.2 12.2h0m-2.9-9.6h0m-1 4.2h0m-2.4-1.7h0m1.7 1.4h0m-6.7-12.2h0m-1.6-3.7h0m12.6 7.7h0m2.9 3.5h0m6.4 8.3h0m-7.6-4.7h0m-7.2-11.1h0m6.7 9.9h0m-7.4 0.8h0m16.7-4.2h0m-11.6-9h0m6.9 3h0m-13.4 11.6h0m4.5 3h0m-2.4-4.3h0m1.8-11h0m10.1-11.6h0m-5.5 13.1h0m-11.7 1.1h0m16.4 9.4h0m-8.3-1.6h0m-11-6.6h0m7.3 7.7h0m10.4 7.3h0m-11.7-1.9h0m9.9-13.7h0m-10.5 4.7h0m7.5 1h0m-0.7-10.4h0m-3.3 5.8h0m-2.7 3.8h0m10.1-1.7h0m7.9 4.3h0m-14.2-6.1h0m3.7-6.5h0m0.4 8.6h0m-3.4-7.5h0m3.5 6h0m-5.7-7.6h0m2.6-3.6h0m4.4 13.4h0m0.6 1.4h0m-18 0.9h0m14.4 3.4h0m5.9-4.8h0m-6.8-20.3h0m2.5 15.6h0m-0.8-0.4h0m-2.3 4.1h0m0.2-1.7h0m6.5 13.3h0m-1.9-17.6h0m-1.6 12.2h0m-3.6-10.2h0m-2.6-4.3h0m11.1 11.1h0m-15.1-12.7h0m6.2 31.8h0m2.2-16h0m-2.3-12.2h0m-1.3 11h0m-5.7 3.9h0m1.6-20.3h0m11.7 13.5h0m-10.2-2.1h0m12.3 1.4h0m-7.2 1h0m-4.9-4.4h0m10-5.1h0m-11.1 13.5h0m1.7-26.1h0m-1.9 22.5h0m0.9 7.7h0m-2.6-11.9h0m16.6 0.1h0m-2.2-4.3h0m-10.4 18.2h0m10.6-8.4h0m-9 0h0m1.3-14.7h0m-10.9 6.7h0m13.5 10.3h0m-1 12.3h0m-5.3-14.3h0m3.2-8.1h0m6.9-0.9h0m-9.2 5h0m-0.4-9.8h0m-6.1-3.6h0m25.8 0.7h0m-12.5 15.6h0m0.6-3.3h0m-13.1-0.1h0m9.4-6.2h0m3 3.1h0m-10.9 5.8h0m0.3 9.4h0m8.1-5.1h0m14.9-7.9h0m-16.7-6.3h0m8.8 4.3h0m-2.8 6.2h0m2-8h0m-3.3-2.3h0m-9.3 8h0m-6.5 7.5h0m15.5-7.8h0m-1.2 0.2h0m0.4 3.6h0m-0.3 7.8h0m-6-15h0m9.7 4.4h0m1.9 7.8h0m-11.2 0h0m7.6-15.8h0m-3.3 2.5h0m-3.7-6.1h0m-1.5 11.8h0m-6.2-3.3h0m12 21.9h0m-6.6-12.3h0m4-15.3h0m-0.7 2.5h0m-1.2-0.9h0m6.9-11.2h0m7.8 6.6h0m-6 14.7h0m-12-0.5h0m-3.8-0.2h0m11 2.7h0m4.8 6.8h0m3.3-9.3h0m-4.8 2.8h0m-11.9-8.4h0m15.9-0.3h0m-8.1 7.2h0m-0.3-9.2h0m-8 9h0m12.9-10.8h0m-7.2-0.4h0m-1.9 18.1h0m-1.9-7.8h0m13-1.1h0m-11.8-16.2h0m1.7 7.1h0m3 11.7h0m8.7-10.3h0m-9.7 9.3h0m-5.1-9.4h0m1.6 3.6h0m10.9 5.4h0m-7.7-2.8h0m-7.4-11h0m7.9 6.5h0m6.6 14.6h0m-3.4-6.5h0m-3.1-4.9h0m11.5-4.4h0m-5.4-3h0m-6.7 9.6h0m0.9 6h0m6.2-14.6h0m5.2-0.2h0m-4.2-6.7h0m6 20.8h0m-7.9-9.8h0m-5-10.1h0m3.9 16.1h0m-12.4-14.3h0m16.5 7.4h0m-10.7 4.6h0m2.2-1.8h0m5.3-6.7h0m-6.5-1h0m2.6 8.2h0m0.1 3.7h0m4.6-3.4h0m-12.4-0.8h0m2.9-8h0m8.9 13.8h0m-5.8-4.6h0m6.4-1.1h0m-0.9 1.1h0m1.8 0.7h0m-3.5-1.2h0m-3.9-13.4h0m2.9 11.1h0m4.5-14.5h0m-17.1 29h0m4.1-15.6h0m2.9 15.5h0m1.9-10.5h0m-3-7.9h0m3.4 9.2h0m4-8.7h0m3.3 21.2h0m-0.4-16.9h0m5.9 14.1h0m-7.9-6.3h0m4 12.9h0m-9.4-23.5h0m9.9 1.5h0m-9.9 10.2h0m5.6 0.3h0m-2 6.2h0m2.4-9.4h0m0.7-10h0m9.8-18.7h0m-15.3 13.5h0m1.4 0.8h0m-7 15.1h0m12.6-5.4h0m3.6 2.7h0m-2.8 1h0m-11-9h0m-4.9-5.6h0m14.3 15.4h0m-11.4-20.2h0m8.7-2h0m-1.6 20.1h0m-5.5 11.2h0m2.1-4.4h0m10.3-7.8h0m-9.1-8.1h0m4.5-0.4h0m-2.2 1.7h0m9 11.4h0m-9.7-4h0m-0.5-11.4h0m4.1 20.7h0m-0.9-8.3h0m0.4 4.6h0m0.6 8.5h0m-0.4-7.8h0m4.8-5.9h0m0.2 2.8h0m-7.1 13.3h0m-0.9-26.6h0m4.2 9.7h0m2.4-13.9h0m-12.7 8h0m15.5 0h0m-20.1 10.8h0m14.5-15h0m-13 17.5h0m-0.1-8.4h0m9.6-7.9h0m11.3 5.1h0m-18 8.9h0m5.4-7h0m2.7-3.7h0m7.7 11.6h0m-16.6-15.9h0m20.1 4.5h0m-6.4-12.8h0m-13.3 17.6h0m13.7 6h0m-10.8-3.4h0m-8-10.8h0m10.4 13h0m-5.6-18h0m2.1 3.4h0m4.8 0.9h0m-7.9 3.1h0m18.9-7.6h0m-3.3 0.9h0m-5.6 5.7h0m17.5 2.5h0m-21.5-3.1h0m1.3 6.3h0m11.1 8.7h0m-12.4-1h0m2.6-8.4h0m-4.5-4.7h0m3.3-3.9h0m11.4 8.2h0m-1.2 1.9h0m-5.5 10.3h0m-7.5-9.4h0m-2.4-0.7h0m13.8-3.3h0m-16.5 1.1h0m6.6-3.2h0m4.9 6.7h0m-10.8-7.3h0m4.7 5.7h0m1.3-1.4h0m7.4 9.5h0m-10.2 12.1h0m3.9-30.2h0m3.1 6.9h0m9-6.6h0m1.5 16.9h0m-12.4-12.5h0m-6 9.9h0m11.5-8.2h0m0.1-5.4h0m-8.3 3.3h0m13.8-3.3h0m-15.9-12.3h0m13 22.6h0m-3.8-12.3h0m5.7 11.2h0m-5.1-4.4h0m-8 0.1h0m9.9 3.5h0m-20.5-11.1h0m11.5 17.3h0m9.2-11.5h0m-14.9 4.2h0m3.1 1.8h0m4.1-12.6h0m-5.8 11.2h0m6.5 12.2h0m4.6-3.3h0m-3.5-13.3h0m-15.2-2.4h0m8.1-3.5h0m1.7 7.5h0m1.9-2.9h0m6.2-3.4h0m-11.9 19.5h0m3-34.7h0m17.1 13.5h0m-15.8 11.8h0m0.8-0.5h0m-0.9-14.2h0m0.5 5h0m4.1-5.8h0m5.2 10.3h0m-4.8 10.9h0m8 5.2h0m-8.9-13.4h0m6.8 7.8h0m-15.3-16.2h0m4.8-1h0m6 19.2h0m1.8-9.6h0m4.7 1.4h0m-14.3-19.1h0m10.5 17.5h0" stroke="#000" stroke-width="1.0" stroke-linecap="round" opacity="0.8" fill="none"/>
<path d="M226.2 74.7h0m-3.4-0.8h0m6.3-9.9h0m3.5 10.2h0m-6.5 0.5h0m15.5-4.8h0m-24.7 8.8h0m17.2-13.2h0m-8.3-5.2h0m3.8 27.8h0m5-1h0m-4.2-22.1h0m-4.4 0h0m-0.5 5.3h0m7 27.9h0m2.2-34.7h0m-3.8 14.8h0m8.7-22.9h0m-9.7 16.8h0m-3.8 11.5h0m4.2-6.2h0m-3.1-22.4h0m5 27.9h0m0.7-10.8h0m-2.7 4.8h0m4.6-4.8h0m-0.9 8.1h0m-13.1 4.7h0m10.6-2.3h0m0.1 5.3h0m1.7-4.2h0m-13-7.8h0m12.8-11.9h0m4.1 13.7h0m-10.3 14.8h0m1.5-13.9h0m10.4-20.7h0m-8.9 12.1h0m-6.6 17.5h0m9.7-0.4h0m3.3-17.7h0m-7.8 6.5h0m3.8-9.9h0m0.8 14.3h0m-3.8-3.1h0m13.3-15.2h0m-19.9 25.6h0m4.1-6.8h0m9.2 8.4h0m-1.9-14.1h0m-6.8-9.7h0m7.1-6.2h0m-14.5 29.7h0m7.7-23.7h0m2.4 0.1h0m3.1 23.6h0m-6 4.6h0m6.9-16.3h0m-2.6-8.7h0m-2.2 22.4h0m-6.8-20.7h0m12.6-5.2h0m-0.4 20.5h0m-8.3 3.7h0m8.5-7.7h0m-4.4-6.5h0m2.7 8.4h0m8.6 2.1h0m-8.4-13.7h0m-1.6 3.4h0m1.3-5.5h0m-5.5 0.1h0m-9.6 18.5h0m13.6-33.2h0m-5 9.1h0m-4.9 22h0m8.2-25.3h0m7.1 23.6h0m-1.8-21.7h0m-7.8 22.5h0m1.9 4.4h0m-3.1-22.6h0m2.2 6.3h0m4.5-1.3h0m-5.9 8.3h0m-2.8-15.2h0m5.5 17.7h0m-5.3-18.5h0m-4.2 5.1h0m5.3 4.5h0m1.9-0.4h0m8.9 5.2h0m-3.1-16.3h0m-6.7 18h0m5.1-2h0m0.1-7.5h0m-1.8 11.8h0m4.1-27.3h0m2.7 7.2h0m-2 0.2h0m-0.2 2.4h0m-15.4 8.4h0m7.4 7h0m8.9 2.7h0m-0.4-15.2h0m-1.8-11.2h0m-0.7 8h0m5.1 13.7h0m-11.9-16.3h0m13.1 17.1h0m-3.2-3.9h0m-9.9 1.4h0m-2.1-7.4h0m16.7-30.5h0m-11.7 44.6h0m-4.9-7.6h0m15.1-11.9h0m-9.6 4.8h0m8.2 20.2h0m-4.1-24.3h0m-4.3 2.4h0m3.4-4h0m8.7-2.2h0m-10.8 1.9h0m7.9-13.9h0m-11.3 32.3h0m4.9 9.6h0m-1.3-0.1h0m7-21.1h0m-4.1 14.5h0m-0.1-2.7h0m-0.5 1.2h0m-2.4-16.1h0m-2.2 11h0m4.2 26h0m5.6-39.6h0m-4.7 21.3h0m-7.9-18h0m7.7 5h0m-5.1 12.1h0m4.7 3.2h0m-2.3-12.5h0m0.2 10.8h0m5.9-19.4h0m-14.8 13.9h0m11.6-14.9h0m-2.1-12.9h0m-6.5 3.7h0m-0.7 13h0m-0.9 3.7h0m8.7 6.6h0m-3.7 3.8h0m-11.3-9.9h0m8.6-11.3h0m4 2h0m-1.9-6.7h0m3.4 24h0m1.4-16.3h0m0.9 18.5h0m-0.9-11.5h0m4.4-5.9h0m-12.5 13.8h0m11.3-4.6h0m-11.3-3h0m17.2-9h0m-6.8 5.4h0m-0.7-0.3h0m5.9 19h0m-11.3-14.9h0m3.5-1.6h0m-0.1-7.1h0m-1.1 3.8h0m-0.2-18.6h0m-0.7 30.1h0m-4.4-7.8h0m3.8-4.6h0m-3.4-12.5h0m7.1 19.8h0m2.2-3h0m-8.5 7.6h0m12.1-15.8h0m-11 25.8h0m6-6.9h0m-2.1-20h0m-6 9.4h0m4.5-0.3h0m6.2 7.6h0m-11.2-2.5h0m9.2-11.6h0m-11.9 4.8h0m3.5 18.1h0m-3.4 13.8h0m11.2-37.5h0m-3.9 2.9h0m4.2 12.6h0m0.7-30.2h0m-6.8 31.8h0m15.1-8.4h0m-13.4-4h0m2.9-7.5h0m-0.6 17.3h0m2.5-11h0m-10.3-1h0m6.2-2.9h0m-1.1 17.3h0m-4.5 4.7h0m10.6-14h0m-13.5 11h0m10.2-10.2h0m-4.7 6h0m-3.8-19.3h0m1.8 7.6h0m2 3.7h0m4.2-9.8h0m4.1 21.2h0m-2.6 8.2h0m-1.6-37.7h0m-1.6 19.3h0m7.4-9h0m-3 3.2h0m-6.9-0.6h0m10.3 5.7h0m-8.8 4.3h0m3 6h0m-11.5-2.5h0m10.1-9.1h0m3.6 4.8h0m-2.5 8.8h0m-7.7 5.2h0m7.6-23.5h0m0.5 19.5h0m-1.6-7h0m4.5-10.2h0m2.7-3h0m-13.7 15.5h0m12.1-21.5h0m-2.3 6.2h0m-7.4-3.5h0m1.3 2.7h0m7.3 23.9h0m-4-2.3h0m1.7 3.2h0m-10.1-15.5h0m6.9-4.8h0m-1 16h0m3.8-9.4h0m0.9 7.9h0m-0.4-11.4h0m1.9 7.7h0m-5.2-5.5h0m-3.6-3h0m5.4 10.3h0m-9-4.1h0m6.2-17.3h0m1.9 11.7h0m1.1 0.5h0m1.1 13.2h0m5.3-4.4h0m-15.3-24.5h0m12.7 4.8h0m-7 20.7h0m8.5-9.3h0m-2.6 2.3h0m0.6-20.7h0m1.6 26.2h0m-10.9-12h0m4.7-0.6h0m9.2-3.4h0m-3.8 17.1h0m2.2-24.8h0m-7.6 23.9h0m-0.7-19.6h0m-9.1 20.9h0m16.6 5.9h0m-4.5-13.2h0m9.5-3.6h0m-9.2-13.3h0m6 8.8h0m0 13.1h0m-12.6-3.5h0m6.3 12.5h0m0.2-40h0m-0.4 23.6h0m6.2 10.7h0m-10.7-5.2h0m1.3-3.6h0m-4.2 10.9h0m2.1-4.3h0m11.4-30.8h0m-4.8 16.9h0m-13.4 13.4h0m9.9-6.5h0m-2.2 11.1h0m-5.7-3.3h0m8.1-22.6h0m-5.6 10.5h0m10 8.6h0m4.4 0.7h0m-5.4-0.7h0m-1 3.2h0m5.8-11.6h0m-10.3-11.1h0m4 21.9h0m0.4-22.7h0m-3.8 9.2h0m5.3 18h0m-3.9-12h0m7.3-1.7h0m-3.5 11.2h0m-0.4-13.4h0m-3.1 2.7h0m3.9 7.8h0m-1.5 11.1h0m-5.2-15.1h0m10.5-8h0m-6.2 13.7h0m1.8-8.1h0m1.2 5h0m2.9-14.7h0m-4.1 11.7h0m-9.1 0.5h0m4.7-7.1h0m-0.2 0.7h0m2.1 11.2h0m7-9h0m-13.3 17.1h0m1.4-19.1h0m10.7 9.1h0m-8.8 6.6h0m-0.4-5.9h0m0.4-17.6h0m3.6 0.2h0m-0.4 7.3h0m-0.2 7.5h0m9.1-20.7h0m-12 21.9h0m-2.8 7.1h0m-1.3-9.4h0m13.3 1.5h0m5.1 1.7h0m-10.3-11.9h0m3.8 26.1h0m-3.9-10.5h0m-0.5 12.6h0m5.9-24.8h0m-8.2-5.2h0m-1.6 7.5h0m11.4-10.7h0m-15 14.4h0m-3.5 2.5h0m9.6-0.8h0m3.8 17.9h0m-4-23.6h0m2.8 6.3h0m-5-19.9h0m1.7-3.3h0m-2.8 11h0m-3-4.5h0m2.5 14.5h0m0 3.6h0m10.8-27.8h0m-2.6 19.2h0m-11.9 15.6h0m4.4-1.7h0m2.6-7.5h0m2.2 18h0m-0.6-21.8h0m-12.7-3.8h0m8.8 8.2h0m-0.3 0.7h0m6-4.7h0m-9.6 7h0m4-19.1h0m0.2 14.3h0m4.5 2h0m1.4-2.3h0m-2.9-10h0m-2.8 5.4h0m7.5 4.2h0m-8.4 12.9h0m1.8-25.1h0m10.1 13.9h0m-9.1-10.3h0m9 9.7h0m-14 21.1h0m3.6-21.5h0m0.9-2.8h0m6.2-9h0m-11.2-2.1h0m16.5 15.1h0m-13.8 5.4h0m1.6-0.6h0m8-14h0m-3.2 11.5h0m-0.2 9.7h0m0.3 2h0m-6.1-21.6h0m9.7-10.5h0m-6.4 27.1h0m0.7-12.3h0m5.2 2.5h0m-3.3-14h0m-1.3 0.9h0m2.2 13.7h0m-5.2 2.5h0m8.5-1.1h0m-5.5 4.3h0m0-12.7h0m8.3-9.7h0m-6.4 22h0m-11.1-15.6h0m7.3 10.2h0m-2.3-3.1h0m-5 3.6h0m11.4-10.1h0m-8.1 24.7h0m6.1-33.5h0m-6 23h0m4-11.3h0m-5.4 11.9h0m10-12.9h0m2 5.6h0m-7.8 3.1h0m-5-4.6h0m4.2-5h0m7.7 26.1h0m-0.8-20h0m-8.3-10.3h0m2.7 18.1h0m6.3-1.7h0m-2.2 3.7h0m-5.7-7.4h0m-0.5-21.5h0m-1.2 8.6h0m8.1 6h0m0-1h0m-10.5 3.3h0m6.3-18.6h0m3.6 30.1h0m-4.8-17.3h0m-3-8.9h0m9.3 12h0m2.3-4.3h0m-8.1 12.2h0m-1.8-7.7h0m17.3-7.4h0m-20.4 17.8h0m4.1 0h0m-9.5-9.4h0m18.3-6.9h0m-8.1 3.8h0m1.7 23.8h0m-6.3-21.7h0m7.9-2.7h0m-4.6 19.4h0m-1-1.7h0m-4.6-3.4h0m10.8-14.9h0m-10 1.5h0m5.6-14.6h0m9.7 16.7h0m-6.3-2.5h0m-6.6 13.1h0m8.4 2.9h0m-4.9-6.5h0m7-10.8h0m-7.4 3.4h0m-1.9 6.8h0m4.7-6h0m-9.6 1h0m8.4-2.9h0m-3.1 10.3h0m-0.8-7.9h0m9.2 5.7h0m-10.7-7.4h0m6.2 10.2h0m-1-0.9h0m-5.6 4.7h0m2.3 3.5h0m0.4-14.6h0m0.8-13.6h0m8.5 14.7h0m-8.7 11.2h0m7.3-22.9h0m-6.3 13.1h0m5.2-12.4h0m-5.5 23.8h0m-0.1-14.3h0m10.7 2.9h0m-10.1 6.9h0m6.9-9h0m-10.6 17.9h0m6.4-11.2h0m-2.3-5.2h0m6.8-17.4h0m-13.2-5.5h0m4.6 18.5h0m6.6 10.9h0m-7.9 1.2h0m0.6 5h0m0.4-12.8h0m-1.3 3.9h0m2.8 8.8h0m5-9.9h0m-10 4h0m12.1 4.7h0m-9.2-34.1h0m0.6 23.2h0m5.9-6.3h0m-3.4 14.3h0m1.1-9.2h0m-3.6 15.8h0m6.5-21.4h0m-4.9-2.8h0m-2.6 11.7h0m7.2-8.7h0m-7.8-4.4h0m10.2 3.2h0m-8.7 23.9h0m5.1-16h0m1.7 3.7h0m-0.5-9.8h0m4.9-0.6h0m-9.5-19.6h0m-9.4 25.4h0m14 5.1h0m1-17.9h0m-3.4 7h0m-4.3 4.6h0m10.9 8.8h0m-8.1-2.5h0m-3.5-8.8h0m8.1 16.1h0m0.6-34.5h0m-8.3 12.7h0m1 8.8h0m4.6-17.6h0m-1.5 31.3h0m-4.5 12.5h0m-6.2-11h0m17.2-22.6h0m-5.7 8.7h0m-6.4 3h0m8.6-17.2h0m-5 16h0m4.3-5.6h0m0.5 9.1h0m-3 24.6h0m4.9-17.9h0m-10.7-20.9h0m8.4 34.5h0m-3.4-0.6h0m1.7-25.4h0m-4.3-8.3h0m-0.4 6.6h0m1.8 5.7h0m5.9 11h0m1.9-5.6h0m-13.1 1.6h0m-3.5 15.9h0m9-35.3h0m5.7 12.7h0m3.3 6.2h0m3.8-27.3h0m-8.7 15.9h0m-3.8 1.3h0m1.9-1.5h0m2.5 10.5h0m-1.7-7.4h0m4-16.9h0m0.5 17.5h0m-5.4-17.4h0m3.2-4.2h0m-6 9.9h0m2.7 11.6h0m-0.2 6.9h0m11.3-3.8h0m-13.6-3.9h0m4 6.3h0m-2-3.2h0m-1.4-10.3h0m1.7 0.5h0m7.9-0.7h0m-12.5 11.9h0m-1.6-24.5h0m9.4 7h0m-6 26h0m-0.1-5.4h0m6.1 1.1h0m-3.1-0.7h0m2.4-6.5h0m-1.8-0.6h0m-0.5-6.9h0m12.2 21.6h0m-18.7-24.1h0m-3.2-4.9h0m3.3 12.2h0m9.2 15.7h0m-0.1-9.3h0m1.6-10.5h0m-5.2 14.2h0m0.9 0.9h0m1.7-10.3h0m-4.8-3.8h0m8.1 4.4h0m-1.4-1.4h0m1.4-2.9h0m-4.7-13.4h0m-9.3 17.6h0m11.6-6.3h0m-12-9.4h0m5.1 9.1h0m0 11.7h0m1.2-4.8h0m3.6 4.4h0m-2.7-0.2h0m3.5-14.3h0m-4.3-13h0m10.2 12.8h0m-0.7 2.8h0m-3.3 5.1h0m3.4-9.2h0m-10.4 5.2h0m-8.8-14.1h0m13.7 7.1h0m8 6.5h0m-8.4 21.9h0m6.5-2.8h0m-3.5 8.2h0m-6.9-18.3h0m5.5 11.7h0m-0.5-12.8h0m4.8-10h0m-12.1-3.9h0m2.2 6h0m-6.7 8.2h0m14.5-1.5h0m-3.8-6.7h0m-3.1 4.8h0m0.3 16.6h0m1.5-24h0m-2.1 11.7h0m12.4 5.1h0m3-20.9h0m-12.7 16.6h0m3.5-17.3h0m-1.4 2.4h0m4.5 7.5h0m-5.3-5.7h0m-1.3 23.7h0m0.8-37.2h0m-3.5 27.3h0m1.1 0.2h0m2.3 0.4h0m9-19.2h0m-9.6 11.7h0m10.6-4.8h0m-10.3 15.8h0m-3.5 1.8h0m-4-10.1h0m0.4-24.7h0m6.9 14.7h0m-2.6 1.8h0m0.7-3.1h0m3.3-4.4h0m-4.1 9.9h0m-3.3 29.5h0m20.4-3.2h0m-14.5-19.7h0m5.7 9.6h0m-7.4 3.3h0m10.7 0.3h0m-3.9-22.5h0m0.2-20.5h0m-4.4 37.8h0m1-6.6h0m-6.2 5.3h0m6.9-26.6h0m-3.7 11.8h0m1.3 12.8h0m-2.1 5.8h0m-1.5-17.6h0m7.9 0.1h0m-6 13.5h0m-4.3-17.7h0m10.1-2.1h0m5.4 19.7h0m-8.4-11.7h0m2.9 13.8h0m-10.4 4.8h0m7.6-21.7h0m-8.4-10.4h0m8.6 23h0m-1.5-19.8h0m-7 26.1h0m13.4-1.4h0m-0.6-12.8h0m-2.1-2.7h0m-8.6 3h0m1.3-3.1h0m13.3 4.3h0m1.7 7.8h0m-19.2-5.5h0m6.1 0.7h0m3.4-14.7h0m-2.5 17h0m2.5-11.7h0m-4 29.4h0m-3.8-36h0m6.5 13.1h0m2.1 13.1h0m-2.8-13.8h0m14.4-0.2h0m-10 10h0m-10-39.4h0m10.6 31.5h0m-3.7 10.8h0m-6-20.1h0m2.9 0h0m3.3 11.9h0m5.1 19.8h0m-7.4-32h0m3 7.2h0m-8.8-5h0m-1.1 20.7h0m4.7-28.5h0m6.5 23.5h0m-13.2 10.8h0m18.4-32.8h0m-13.1 22.2h0m-2.7-13.7h0m11.1-11.2h0m-0.4 17.1h0m3.9-11.8h0m-8.6 13.7h0m8.3-7.3h0m-7.5-6.6h0m-2.7 5.6h0m-10.8 9h0m14.8-3.8h0m5.8-20.1h0m0.3 23.8h0m-3.9-3.7h0m3.9 9.9h0m-6.3-8.7h0m5.7-16.3h0m-3.2 17.5h0m-8.1 2.4h0m7.6 0.3h0m-1.2-26.7h0m-3.6 15.4h0m6.9 0.4h0m-0.1 17.5h0m-5.4-14.1h0m-1.9 7.9h0m4.6-12.9h0m-3.5 16.5h0m7.5 6h0m-6.8-11.2h0m3.9 5.2h0m-2.6-19.3h0m-1.2 20.4h0m1.9-21.2h0m-7.9 22h0m7.6-26.3h0m-3.8 23.7h0m14-16.8h0m-6.4 3.7h0m-2.8-10.4h0m4.2-1.8h0m-6.1-6.5h0m0.6 23.6h0m3 3.3h0m-4.7 3.7h0m-5.7-0.1h0m4.5-14.8h0m-2.8 12.9h0m6-6.9h0m-1.6-5.8h0m-2.5 10.1h0m-1.7-14h0m2.4 19.9h0m9.2-5.7h0m-4.1 1.5h0m-5.9 13.1h0m-1.6-28h0m9.3 14.2h0m-4.5-6.7h0m0.8 9.3h0m5.4-13.7h0m-9.1 13.6h0m14-4.1h0m-9.3-0.8h0m-7.5-2.1h0m7.3 7.8h0m1.8-1.3h0m-5.6-4.8h0m-5.7-7.3h0m10.2-4.2h0m-4.2 12.4h0m-4 4.5h0m5.1-22.6h0m-3.3 15.3h0m9.9-21.8h0m-9.2 24.7h0m3.6 3h0m0.5-7.8h0m0.7 11.8h0m-1.6 2.1h0m6.8-20.8h0m-19.2 15.2h0m18-4.7h0m-10-9.5h0m6.7 8.5h0m8.1 10.7h0m-12-2.7h0m3.3-5.4h0m4 2.4h0m-8.2 8.6h0m4.8-15.9h0m-5.4 6.9h0m7.3-2.3h0m-3-3h0m1.1-20.4h0m-8.4 24.2h0m7.8 5.8h0m-1.1-22h0m7.1 19.5h0m-5.9-9.5h0m-1.5-11.7h0m-7.8 15.6h0m16.9 17.1h0m-7.1-10.6h0m-2 3.5h0m4.4-20.3h0m-10.3 8.1h0m0.8-13.8h0m1.6 20h0m9.7 5h0m-4.7-13.4h0m1.9-3h0m-1.1 12.8h0m-7.6-4.2h0m12.7-9.8h0m-12.7 11.8h0m5.7-3.8h0m3.8-4.2h0m-2.9 12.2h0m-3-14.6h0m5.2-2.4h0m-3 6.2h0m4.4-8.5h0m-5.2-1.2h0m-5.2 15.3h0m5.9 3.9h0m7.5-30.6h0m-12.1 12.1h0m16.3 0.5h0m-16.8-11.5h0m2.3 36.1h0m1.1-25.1h0m0.4 0.1h0m14.3 7h0m-22.3-2.2h0m2.6 21h0m8.5-4.7h0m-7.9-2.3h0m6.4 7.4h0m-0.5-26.5h0m-0.4 28.2h0m4.4-28.6h0m-2 10.2h0m1.5 7.5h0m-1.4-13.8h0m-6.2-1.3h0m0.9 20.3h0m-3.4-12.5h0m11.8-4.2h0m-5.9 16.7h0m1.1 0.4h0m-0.5-7.8h0m-0.9-5.2h0m-4-3.1h0m2.7 6.8h0m4.2-9h0m-6.5 12.6h0m-0.3-0.9h0m6-9.7h0m-4.4 11.4h0m1.6-26.7h0m-3.3 24.8h0m3.6 6.7h0m3 3.2h0m-11.5-12.4h0m9.1-2.9h0m2.7-10.4h0m-1.8 4.9h0m5.4 1.8h0m-9.4-4.7h0m3.5-3.9h0m6.8 15.2h0m3.9-17.4h0m-12.2 5.9h0m4.3-7.9h0m3.3 18h0m-10.7-3.5h0m2.8 7.8h0m3.7-13.3h0m-0.7 9.1h0m-0.9-2.4h0m1.2-12.4h0m-0.4-5.3h0m-4.8 13h0m0.4 11.7h0m-1.2 15.1h0m5.1 1.2h0m-1-21.2h0m0.8-16h0m2 15.5h0m-8-20.1h0m9.8-5.7h0m-1.9 30.9h0m-2.5-9.8h0m11.7 8.4h0m-9.3-19.5h0m-6.9 22.4h0m3.4 4.1h0m7.1 15h0m-4.7-35.6h0m-1.9 4.7h0m7.5 8.6h0m-7.9 4.5h0m10.1-10.5h0m-16.7-4.2h0m2.4 27.5h0m7-28.8h0m0.4-2.4h0m-2.4 20.1h0m-1.4-6.5h0m8.5-9.3h0m-6.7 4.1h0m4.4 11.8h0m-9.4-24.1h0m3.5 20.7h0m-8.5 14.6h0m11.9-22.2h0m-2.4-10.9h0m7.3 12.3h0m-13.4-3.6h0m1.3 7.4h0m9.6-9.9h0m-6.6 12h0m-6.4 5.3h0m12.5-4h0m-5.6-9.7h0m-3.6 12.8h0m-6.8 4.4h0m21.1-24.2h0m-8.6 14.6h0m2.6 12.1h0m4.1-14.4h0m-0.4-10.2h0m-2.3 21.5h0m-0.2-22.7h0m-9.7-0.2h0m8.6 12.4h0m-7.8 2.9h0m-8-7.3h0m8.3 10.8h0m1.8-13.4h0m2 8.4h0m0-19.4h0m7.7 27.5h0m-13.3-17.2h0m0.8 15.9h0m6.6-17.5h0m8.4-8.3h0m-5.1 1h0m-5 15.7h0m8 8h0m-15.3-21.6h0m9.3 10.6h0m-0.7 0.6h0m4.2 1.8h0m0.4-17.1h0m-9.7 4.3h0m13.1-2.2h0m-3.6 21.6h0m-6.9-1.6h0m0.2-3.6h0m2.6-8.2h0m2.5 6.5h0m-8.3-6.6h0m-1.8 8.1h0m1.5 15.4h0m-1.9-30h0m0.4 1.3h0m3.3-13.9h0m3.3 25.1h0m5.2 4.2h0m2.5 0.9h0m3.6-12.9h0m-7.9 7.8h0m-5.9-1.3h0m5.9 9.2h0m-0.6-8.7h0m-5.6-5.1h0m13.1 3.5h0m-16.3 0.8h0m7.9 12.1h0m-5.2 2.7h0m3.1 15h0m-11-11.2h0m12.4-19.1h0m7.2-9h0m-1.8 7.3h0m-3.2 8.2h0m-5.4-2.4h0m10.5-18.9h0m-1.4 23.6h0m-3-5.1h0m-8.3-11.6h0m-1.9 22.8h0m11.5-10.2h0m-11.7-6.3h0m7.9-6.2h0m-0.8 9.5h0m-2.8 1.9h0m1.1 7h0m-1.7 5h0m11-23.7h0m-8.3 16.7h0m7.1-18.6h0m-9.5-4.4h0m6 21.6h0m-11.1-1.8h0m7.1-7.3h0m-5.3-14.2h0m0.1 16.3h0m6.9-16.7h0m5.4 1.6h0m-12.2 18.7h0m5 3.9h0m15.8-1.3h0m-0.7-25.8h0m-8.6 7.3h0m-10.9 17.2h0m0.2-9.4h0m2.7-0.1h0m0-8.6h0m12-1.1h0m-9.2 18.1h0m-6.6 13.5h0m11.9-6.3h0m-8.7-18.9h0m0.1-3.3h0m-4.6 17.1h0m13.2-10h0m-1.3 9.8h0m-1.4-10.2h0m6.2-5.8h0m-11 15.5h0m3.1-3.2h0m2 0.7h0m-0.1-16.9h0m-8.8 13.8h0m4.1-17.3h0m0.9 19.3h0m2.1-31.7h0m4.4 36.9h0m-10.3-10.9h0m4.2 10.2h0m-1 13.1h0m-1-6.8h0m8.5-17.9h0m-8.7-10.9h0m13.5 14.4h0m-15.8 25.5h0m9.6-26h0m-5.8 2.6h0m-4.2-11.8h0m9.2 11.5h0m-8.2 10h0m3.6-23.2h0m-4.4 18.5h0m4.3-10.8h0m-2.5 1.4h0m16.4 10.4h0m-12.9-13.6h0m1.8 2.1h0m3.7 13h0m-6 2.3h0m-1.7 11.6h0m-5-26.5h0m5.4 16.7h0m-7.1-8.8h0m12.8-1.6h0m1.3-5.1h0m-13.5 26.6h0m19.4-35.3h0m-19.6 74.8h0m6.4-9.2h0m-2.9-8.2h0m1 8.1h0m2.4-1.6h0m0-6.3h0m-1 17.6h0m1 0h0m6.2-2.3h0m-11.8-7.7h0m-4.2-6.3h0m9.9 8.7h0m3.9 0.4h0m-0.2-1.8h0m7.3 0.3h0m-8.3-4.3h0m-0.4 1.2h0m1.7 2.8h0m-10.4-2h0m-2.5 2.8h0m18.6-9.6h0m-9.2 7h0m-8.2 7.2h0m0.3-1.2h0m4.7-1.3h0m8-0.7h0m-6.1-10.6h0m5.3 2.5h0m-4.1 1.9h0m-3.2-1.3h0m16.8-0.7h0m-10.2 5.8h0m4.6-5.5h0m-8.3 13.5h0m-5.7-10h0m-0.7 7.6h0m-0.5-12.6h0m11.5 10.4h0m-8.3-11.1h0m4.3 8.2h0m1.8-5.9h0m-10.7 14.6h0m20.6-18.5h0m-12.4 6.5h0m8 9.2h0m-12.7 2.3h0m3.6-12h0m-3.9-1.6h0m14.8 1.1h0m-4.3 2.4h0m1.8-8.4h0m-17.9 14h0m12.1-12.1h0m4.4 9.4h0m-15.2 0.6h0m1.6 3.6h0m6.5-11h0m-1.5-2.6h0m0.6 11h0m3.5-7.1h0m-4.9 6.1h0m2.5 5.5h0m2.1-8.7h0m0.5 1.3h0m-0.3-3.5h0m-2.9 2.5h0m8.3-2.5h0m-13.4-4.6h0m24.3 13.6h0m-29.4 0.4h0m19.1-12.7h0m-5.6 12.9h0m-12.2-6.2h0m6.1 0.8h0m10.5 5.1h0m5.7-9.2h0m-23 7.8h0m15.7-0.6h0m-11.9-3.2h0m5.9-17.1h0m-2.2 20.2h0m3.4-2.4h0m9.8-6.8h0m-22 4.8h0m10.8-6.1h0m2.9-0.2h0m2.4 12.5h0m-15.4-13.7h0m18.1-2.6h0m-11 0.9h0m15.5 12.3h0m-8.8-18h0m11.2 14.2h0m-20.1-0.9h0m8.1 4h0m5 7.9h0m-8.1-17.2h0m-1 6.3h0m-3.5 3.4h0m-3.1 2.6h0m-0.8-17.2h0m23.2-7.3h0m-10.2 19.1h0m-2.9-2.6h0m3.1-8.9h0m0.1 10.2h0m-3.1-0.9h0m7.1-3.1h0m-1.6-8.9h0m-13 10.8h0m4.8-2.9h0m3.2-0.4h0m-11.3 8.2h0m1.1-4.9h0m3.4 2.2h0m4.4 1.8h0m3.9-9.4h0m1.9 11.5h0m0.3-4.5h0m11-2h0m-9.6 11.7h0m-18.6-7h0m6.6-9.5h0m1.2-4.8h0m1.2 12.8h0m-1.5 2.8h0m4.6-0.1h0m-7.9-7.3h0m6.9 3.9h0m-4.3-6.2h0m-5.7 16.1h0m23.4-15.1h0m0.8 0.3h0m-12 9.9h0m3.8-12.7h0m-11.7 10.8h0m0.4-3.1h0m3.9 0.8h0m15.3-0.2h0m-15.2-20.1h0m-1.8 25.6h0m24.1-4.5h0m-20.4 2.9h0m-4.8 1.4h0m5.5-8.9h0m3.3 9.5h0m-6.1 0.2h0m5.5-9.1h0m15.6 8.7h0m-10.3-2.7h0m-5.3-8.6h0m-9.6 6.2h0m5.3 9.7h0m-10.1-13.3h0m8.6 1h0m1.5 10.1h0m3.3-5.7h0m-3.2 1h0m-1.7 0.1h0m5.8-3h0m-1.6-11.3h0m-5 18.5h0m1.4-10.5h0m12.8-8.2h0m2.1 10.2h0m-14.6-12.2h0m3.6 6.9h0m8.9 3.7h0m-18.7 10.2h0m15.6-5.9h0m-13-0.3h0m4-2.8h0m-2.7 3.6h0m11.4-5.9h0m-5 0.2h0m-5.6 9.6h0m-7.7-22.3h0m-0.9 8.4h0m20.6 0.7h0m-7.5-0.3h0m1.9 4.9h0m4.2-6.2h0m-6.7 9.4h0m-10.9 8.7h0m5.7-8.6h0m16 0.7h0m-8-8.8h0m2.9 10.3h0m-14.9 5.1h0m3.2-6h0m2.7 0.5h0m22.9 2.3h0m-20.1-4.4h0m17 3.8h0m-14-10.3h0m-10.4 3.2h0m11.8 13.4h0m12-0.4h0m-23.3-7.5h0m1.1-8.1h0m-2.2-10.2h0m16.7 25.7h0m0.7-7h0m-8.7-7.3h0m-3.7 7.7h0m9.4-10h0m-15 15.7h0m13.8-8.8h0m-10.3 6h0m3.8-1.3h0m-2.3-7.6h0m6.8-1.3h0m-5.7 7.1h0m21-10.8h0m-13.5 14.5h0m-0.9-5.6h0m0.6-1.6h0m-14.9-12.2h0m2.1 18.4h0m4.9-5.1h0m-1.1 2.6h0m5.7-11.4h0m11.1 9.7h0m-13.8-12.8h0m5.1 12.7h0m8 3.9h0m3.1-16.2h0m-10.4 8.3h0m-2.5 0.9h0m4.6-3.2h0m-11.4-4.8h0m0.3 4.3h0m4.9 0.8h0m1.4 11.4h0m0.7-9.7h0m0.7 12.2h0m-10.7-15.8h0m17.3 1.4h0m-4.9 7.4h0m0.9-3.8h0m-14.9 4.3h0m11.9 6.2h0m-1.4-11.8h0m4.9 3.2h0m-4.7-1h0m-5.3 7.2h0m17.1-9.5h0m-12.5 6h0m2.8 7.7h0m5.8-15.7h0m-14.2 8.9h0m4.9 0.3h0m6.5-5.3h0m7.9 3.5h0m-6.6-3.3h0m-7.1-4.1h0m-11.1-4.4h0m8.8 4.4h0m-1.8 10.9h0m4.9-14.2h0m-5.8 10.8h0m10.1-5.9h0m-17.8 0.2h0m3.4 3h0m6 3.3h0m3.1 1.8h0m-2.2-2.8h0m-6.4-8.1h0m14.6 5.9h0m-3.4-2h0m-12.6 3.7h0m10.7-12h0m1.8 10.8h0m-3.6-2.2h0m1.1 6.5h0m-4.4 3.4h0m2.4-7.5h0m-6.3 0h0m3.6-16.9h0m-2.2 20.5h0m-4.4-5h0m9.1-4.7h0m7.1 6.8h0m-5.2 6h0m0-22.6h0m-2.2 23.1h0m12.3-1.7h0m-11.5-17.8h0m-4.7 0.6h0m15.7 6.7h0m-1.7 11h0m-2-11h0m-15.8 5.3h0m22.9 4.9h0m-14.5-21h0m4 13h0m-7.8 11.2h0m7.8-15.7h0m-0.2-3.8h0m-3.4 3.6h0m10.3 9h0m-1.5-1.7h0m11.9-6.4h0m-19.7 9.1h0m0.4-2.6h0m1.6 3.6h0m-3.6-3.7h0m-3.2 4.2h0m5.1-11h0m0.4 10.2h0m4 3.9h0m5.7-9.7h0m-2 11.6h0m-16.2-8.9h0m2.3 2.8h0m-2.9-3.5h0m-4 9.7h0m26.6-11.9h0m-15.8 4.4h0m0.7 4.5h0m12.7-2.5h0m-1.8-2.8h0m-2.1-12.3h0m-15.6 4.5h0m11 3.4h0m5.3-11.5h0m-12.1 11.4h0m-6.7 12.2h0m15.9-9.7h0m-15.5 1.8h0m16.2-4.4h0m0.1-11.9h0m-8.7 9.8h0m9.6 4.4h0m-0.2 4.2h0m-9.8-16.6h0m5.9 17.5h0m-4.6 4.3h0m-1.1-11.2h0m4.1 1.4h0m-8.3-0.4h0m2 1.5h0m-0.6-6.9h0m-0.7 12.3h0m3.2 4.8h0m-4.1-6.3h0m9.9 1.4h0m4.3 0.6h0m7.6-4.9h0m-2.8-11.8h0m-19.3 11.1h0m12.2-10.7h0m-3 17.2h0m-0.5-0.3h0m-3-2.7h0m15.5-3.3h0m-8.8 1.7h0m-0.3 2.1h0m-16.5-2.2h0m12.4-10.4h0m3.2 1.3h0m1.9 11.3h0m-2.5 5.9h0m-5.5-12.8h0m12.2 8.4h0m-12.5-4.2h0m4.9-4.6h0m-10.2 5h0m2.9-13.8h0m8.5 10.7h0m-14.1 1.8h0m-0.6 2.7h0m16-4.4h0m1.6-9.5h0m4.9 8.4h0m-5.3-8.9h0m-16 1.1h0m10.6 14.3h0m-13.5-3.9h0m22.2-11.6h0m-13.8 7.6h0m-5.9-6.2h0m14 9.2h0m0.8-1.4h0m1.2-4.5h0m-11 5.2h0m-0.6-3.6h0m11.1 9.8h0m-6.7-17h0m4 7.6h0m-3.4 8.3h0m-11.1 1.9h0m5.2-6.1h0m8.4 3.2h0m-6.2 5.1h0m13.8-14h0m-15.7 5.6h0m11.6-9.6h0m-4.9 10.9h0m-4.9 9.2h0m9.9-6.4h0m-1.4-0.5h0m-7.6 6.1h0m5.1-9.7h0m-1.4-6.8h0m-0.5-2.6h0m-1.4 5.4h0m6.2-2.1h0m0.7 10h0m-13.7 3.2h0m21.3-10.3h0m2.8 1h0m-11.9 5.1h0m0.3 7.6h0m5.1-17.3h0m-21 16.8h0m1.3-15.9h0m8.9 8.5h0m3.7-2.8h0m13.3 0.7h0m-15 9.3h0m-10.6-15.5h0m12.7 4.5h0m-0.1 2.4h0m3.6-10h0m-13.3 18.7h0m24.8-2.9h0m-21.8-11.2h0m4.4 7.9h0m-1.6-12.5h0m-6.4 5.3h0m12.8 8.2h0m-7.1-3.9h0m2.1 4.1h0m-4.7-13.4h0m8.7 9.9h0m0.2 3.5h0m-9.4-11.5h0m-2.2 5.2h0m20-3.6h0m-6.5 6.6h0m-5.1 1.2h0m-2.8 0.5h0m8.2-13.3h0m-12.2 15.1h0m-2.3-11.1h0m10.5 5.8h0m9 9.3h0m-4.3-3.9h0m-9.6-12.4h0m4.8 14h0m-10.5-8h0m4.5 6.3h0m4.8-1.9h0m5.9 2.4h0m10.4-8.6h0m-13.4-5.7h0m-3.4 5.7h0m-7.8-1.2h0m7.6 12.2h0m-1.7-6.1h0m9.8-12.6h0m-3.1 14.1h0m-13.3-10.7h0m1.4 1.1h0m8.1 0h0m-14 5.8h0m8.3 5.2h0m0.8-4.2h0m2.8 1.3h0m1.9 1.5h0m1.4-6.1h0m1.4 13.4h0m2.3-7.7h0m-1.5-7.6h0m1.3 7.7h0m-13.9-3.9h0m11.8 6.8h0m10.5-13.6h0m-25.9-1.2h0m12.2 11.6h0m-4.2-3.6h0m0.5-2h0m-2.6-1.6h0m-2.7 3.1h0m11.1-11.3h0m2 6.1h0m-10.4 7.5h0m5-3.6h0m1.5 3.6h0m0.9 8h0m-3.4-7.9h0m11.1-2h0m-17.8-11.2h0m11.1 15.5h0m-7.9-7.5h0m9.8-15.2h0m2.3 22.1h0m-3.8-2.7h0m-2.7 5.7h0m-6.2-2.2h0m7.4 3.7h0m-0.2-3.4h0m-8.9-9.3h0m4.5 3.5h0m-6.6 4.5h0m6.8-5.9h0m-7.2 6.9h0m22.3-3.9h0m-12.8 5.2h0m-5.8 3.9h0m-1.1-6.8h0m5.7-5.2h0m6.3 10.3h0m-11-7.6h0m7 7.5h0m11.1 3.7h0m-14.3-14.8h0m8.5 9.7h0m-14.3-5.8h0m-1.3-6.8h0m10.4 8.1h0m-1.8-11.8h0m7 12.7h0m-13.1 5h0m22.2 1h0m-19.5-11.9h0m-1.1 5.6h0m0.7 2.7h0m8.6-2.1h0m-8.4 2.7h0m14.3-3.2h0m-6.5 4.7h0m-9.3 2.6h0m9.8-8h0m-10.4-6.6h0m15.6 11.3h0m-4.7 0.3h0m-2.1-10.9h0m13.3 9.2h0m-17.9 1.7h0m-5.1-15.1h0m0.6 10h0m14.8-10h0m-7.1 6.4h0m-12.8-5.2h0m7.8 18.3h0m-3.5-3.7h0m-1.4-15.8h0m3.9 10.2h0m16 2h0m-3.8-4.5h0m-3.5 4.1h0m1-0.1h0m-6.7 0.3h0m-2-13.3h0m10.6 3.8h0m-12.6 12.9h0m-2.5-10h0m-0.4 9.7h0m6.1-18.6h0m16.9 1.9h0m-22.2 7.1h0m4 4.2h0m7.8-7.2h0m-11-0.8h0m5.3 3.5h0m15.5 7.8h0m-15.7-1.9h0m-1.1 3.1h0m3-9h0m-7 9.3h0m3.2-7.8h0m-1.7-4.1h0m0.1 8.2h0m4.6-9.7h0m-2.1 6.2h0m-6.6 3.8h0m15.7-3.1h0m1 5.4h0m0.8-4h0m-9.6-2.9h0m15.2 3.1h0m-12.5-6.8h0m4.8 8.9h0m5.5 1.8h0m-11.8-5h0m-0.6-11.9h0m-4.1 19h0m12.6-5.5h0m-6.6 3.2h0m1.4-0.8h0m-0.2 5.5h0m-3.6-19.3h0m5.5 15.6h0m-13.1 0.1h0m15.2-6.7h0m-0.7 1.3h0m-15.2-0.6h0m6.2-1.4h0m14.9 3.2h0m-14 9.3h0m14-16.4h0m-8.1 11.1h0m0.2 0.2h0m5.4-2.3h0m-18.7 2.5h0m4.9 0.6h0m17.8 0.3h0m-23 2.6h0m16.5-22.5h0m2 19.5h0m-7.5-25.3h0m-7.5 10.4h0m8.7 10.5h0m-2.5-3.4h0m4.8-0.3h0m-10.3 9.8h0m7.2-5.6h0m5.5-13.6h0m-6.9 14.8h0m10.3-9.4h0m-16 11.4h0m7 5.1h0m-3.7-14.1h0m5.2 6.3h0m-2.7-6.7h0m4.6-6h0m-10.7 20.4h0m8.9-13.3h0m-5 8h0m-5.3-3.2h0m11-13.8h0m1.7 3.8h0m-2.2 14.3h0m3.6 1.9h0m0.4-9.7h0m-10.2 4.8h0m4.6 4h0m-7.6-8.5h0m-3.2-4h0m2.2 12.6h0m7-11.9h0m-1.2 2.3h0m-9-0.9h0m12 11.5h0m2-8.9h0m-6.7-5.2h0m3.3 0.7h0m1.1 9h0m1.6 1h0m-1.3-5.7h0m-4.3 9.6h0m4.1-6.5h0m14.8 5.2h0m-2.3-0.6h0m-11.9-6.2h0m13.1 1.3h0m-9.9-8.5h0m1.1 7.8h0m-15.5 4.5h0m15.4-0.6h0m-5.7-7.2h0m8.6-2.9h0m1.4 5.6h0m-13.2-14.1h0m9.2 8.4h0m-11.6 1.3h0m11.1-2.7h0m-15.4 7.6h0m16.7-1h0m-0.2 2.7h0m0.9-2.9h0m-16.8 4.8h0m14.9 0.8h0m-9.7-2h0m-3-0.8h0m10.3-2h0m-0.6 3.9h0m-11.7-21.2h0m10.1 11.2h0m6.7 8.4h0m2.2-6h0m-5.8 3.4h0m-3.2-0.9h0m-0.6 3h0m11.2-18.9h0m-19 21h0m13.5-7.3h0m5.9 9.1h0m-0.4-19.2h0m-6.5 18.5h0m-1 1.8h0m0.4-16.9h0m-15.7 10.7h0m23.1-2.1h0m-17.1 2.7h0m14.7-6.6h0m12.2 7.8h0m-15.9-13.2h0m-5.9 9.3h0m1.6 2.7h0m-4.5-12.1h0m1.3 5.8h0m-1.9 8.4h0m2.4-6h0m1.6-0.3h0m0.7 3.5h0m-1.4 0.4h0m-0.1-4.5h0m5-1.2h0m-4.4-11.3h0m-4.2 9.1h0m6.4 4.2h0m-4.3 5.6h0m-3.7-10h0m9.1 13.9h0m3.4-9.7h0m-17.3 4.8h0m6.7-5.8h0m10.5-0.8h0m-16.4-9.3h0m12.6-1.7h0m-6.7 22.1h0m8.3-14.9h0m7.9-3.3h0m-9.8 3h0m-2.9 12h0m1.1-6.6h0m-5.7 0.2h0m3.9 7h0m3-10.9h0m-4.8 12.1h0m1.5-1.5h0m-9.9-7.7h0m13.7-7.7h0m-3.4 15.5h0m6-0.5h0m-0.8-1.6h0m-6.4-2.5h0m3.3 1.7h0m-12.7 4.6h0m9.5-18.8h0m0.2 12.2h0m5.9-7.8h0m-10-1.8h0m12.8 13.3h0m-1.3 0.3h0m-4.1-7.2h0m6.5-0.9h0m-10 4.9h0m9.1-5.1h0m-7.3-0.5h0m2.2 3.3h0m-1.6 3.8h0m-6.1-4.5h0m16.1 3.5h0m-9.8 3.4h0m3.4 1.3h0m0.8-3h0m20.7-2.6h0m-33.1 4.4h0m11.6-2.9h0m-4.4-1.1h0m-5.2-0.1h0m2.6-8.1h0m-6.1 4.4h0m15.9 10.4h0m-8.6-10.6h0m3.1 1.6h0m14.6-3.7h0m-19 10.5h0m-2.7-2.5h0m7.8 0.9h0m5.7-3.6h0m-5.1 2.8h0m2.1-0.3h0m-8.7-8.3h0m15.5 4.5h0m3.7 1.4h0m-21.2-1.3h0m12.9-9.5h0m-8.1 17.7h0m-6.1-4.7h0m4.3-12.3h0m-7 8.5h0m1.3 3.4h0m14.9-3.7h0m-5.7 3.2h0m1.1 2.7h0m7.2-4h0m-6.2 11.4h0m-7.6-13.4h0m6.5-7.6h0m18 8.3h0m-24.6 12h0m2.2-0.6h0m21.2-13h0m-17.2 11.1h0m6.8-7.5h0m-7.5 8.6h0m-1.2-7.7h0m1.8 7.7h0m2.3-13.6h0m-2.2 14.3h0m6.7-11.8h0m-8.7 9h0m8.1-4.8h0m-7-13.6h0m0.6 14.9h0m-9.7-8.2h0m3.8-2.3h0m1.2 5.6h0m3.5-3.1h0m5.6 12.6h0m-11.1-6.8h0m19.6-1.6h0m-10.9-0.8h0m-13.7 4.4h0m12.8-9h0m-0.7 7.1h0m-1.9 5.1h0m10 1.3h0m-5.6-4h0m-15.4-4.7h0m16.4-0.5h0m18.6 7.6h0m-14-10.7h0m2.3-1.7h0m-9.3 7.2h0m-9.8-7.2h0m1.3 6h0m4.3-0.5h0m-1 9.7h0m11.6-13.3h0m-16.3 5.9h0m19.7-10h0m-16.2 7.8h0m8.6 1.4h0m-4.4-5.2h0m-2.7 9.4h0m2.8-4.4h0m-2.3 3.8h0m24.1-2.3h0m-19.8-11.1h0m1.5 13h0m10.8 2.2h0m-2.1-7.7h0m-22.2-4.8h0m12 4.2h0m3.5-3.4h0m-3.7 4h0m-3-2.3h0m5.1 4.6h0m4.8 4.9h0m-12.8-25.1h0m6.5 13h0m8.7 11h0m-17.6-9h0m-5.8-10.7h0m12.4 4.5h0m6.3 9h0m-5.1-3.9h0m11.8 3h0m-0.7 2h0m-13.8-0.1h0m-1.2-10.3h0m-2.1 5.5h0m10.9 11.1h0m-1.5-9.6h0m0.4-5.3h0m-11.7 16h0m11.6-6.5h0m-10.9 4.5h0m0.8-3h0m-1.1-0.8h0m19.8-0.5h0m-14.7 9.5h0m-3.1-11.5h0m6.6 5h0m-4.7-13.2h0m7.9-5h0m-5.5 13.7h0m2 2.1h0m2.6-13.9h0m-6.6 15.7h0m-7 3.9h0m9.2-9.7h0m-11.2 6.1h0m5.3 0.7h0m11.6-5.3h0m-3.5-3h0m-3.4 2.9h0m0.4-15h0m7.2 1.6h0m-16.8 12.6h0m5.3 11h0m14.1-6.7h0m-8.3-2.3h0m-8.8-0.8h0m0.4 9.1h0m7-17.1h0m3.4 18.5h0m-4.1-13.1h0m2.1 11.6h0m3-6.6h0m-9.3-11.2h0m1.6 1.2h0m0.1 16.5h0m2.9 1.6h0m2.1-8.1h0m-6-1.8h0m6.9-2.2h0m7.2 3.5h0m-7.8 1.4h0m-7.5-11.2h0m5.8 9.6h0m-11 7h0m11.9-5.1h0m13.4 2.2h0m-14 4.2h0m7.5-16.6h0m-8.1 10.9h0m-7.6-2.6h0m4 5h0m-5.4-8.2h0m9.9 1.3h0m-2.8 1.8h0m10.7 10h0m-8.6-10.9h0m-1.2 10h0m5.7-9.2h0m-3.9 6.7h0m0.9-16.9h0m1.6-0.1h0m9.1 19h0m-3.5-10.4h0m-12 7h0m14.3-5.3h0m-3.5 0.3h0m-9.6-3.6h0m7.1 6.7h0m-14.8 1.9h0m13.2-8.9h0m-3.3-1.4h0m14.7 0.8h0m-21.2-4.3h0m14.4 4h0m-11.3 3.2h0m-0.1 10.2h0m8.7-9.3h0m-9.3 3.5h0m-8.1 2h0m6.2-0.2h0m-0.4-8.9h0m5 5.3h0m1.4 7.2h0m1.1-5.4h0m-0.8 1.4h0m-7.9-7.2h0m-3.1 7.7h0m32.3-7.6h0m-24.3 1.8h0m-5.6 3.1h0m0.1 3.4h0m16.9-4.9h0m-11.6-3.8h0m-1.9 2.9h0m-0.4 3.8h0m7.6-10.9h0m-7.3 9.5h0m15.1 5.6h0m-8.1-13.9h0m3.3 14.4h0m-6.4-3.9h0m10.6-4.2h0m-0.7-10.4h0m-3 2.1h0m-15.1 10.2h0m4.9-2.7h0m1.3-2.4h0m4.3 2.8h0m-8 6.7h0m-2.3-11.4h0m13.5 2h0m-10.4 7.6h0m1.3-10.3h0m2.6-3.8h0m2 3h0m-2.6 4.9h0m-4.7-2.9h0m6.4 5.3h0m16.6-6.8h0m-4.4 5.4h0m-15.2-2.4h0m10.9 0h0m-4.5 4.8h0m6.1 1.2h0m3.6 7.2h0m-9.8-19.9h0m-6.1 13.4h0m11.2 4.1h0m-0.5-13.6h0m-7 7.1h0m-4.6-8h0m-3.9 6.5h0m-2.5 5.3h0m15-2.6h0m0.4-5h0m-10.9 4.5h0m10-2.6h0m-7.2 2.6h0m-1.2-4.8h0m13.8 6.5h0m-14.2-3.5h0m6.4-0.8h0m-8.7-6.2h0m8.2 4.6h0m-4.3 1.5h0m-2.2-4.8h0m12.6 8.2h0m-7.8 4.2h0m0.2-9.4h0m3.2 2.7h0m-6.9-5.9h0m6.7 6.2h0m-4.2-9.3h0m8.9 16.3h0m1-21.1h0m-7.6 6.7h0m12.3 12.7h0m-23.6-17.4h0m5.2 9.9h0m-3.5 8.7h0m-3-6.9h0m15.5-2.6h0m4.2 6.4h0m-17.4-14.9h0m3.2-5.5h0m-5.2 6.5h0m12.9 5.5h0m-3.2 7h0m15.5-1h0m-10.3-8.9h0m-11.4 10.6h0m3.4 3.1h0m3.6-10.6h0m0.3-2.9h0m-4.2 1.6h0m11.6 14h0m-1.4-16.2h0m-12.7 4.2h0m11.8-0.1h0m-10.9 5.2h0m4.4 6.9h0m-8.1-8.1h0m11.4-14.7h0m-9.6 23.9h0m13-10.7h0m-6.5-8.5h0m-2 14.7h0m4.4-11.2h0m11.8 2.5h0m-14.8 13.6h0m6.1-5.9h0m5.1-4.5h0m-12.2-16.4h0m16.2 22.7h0m-3.1-11.6h0m-16.6 6.8h0m5.5 4.4h0m15.3-11.6h0m-21.9 7.1h0m1.9-0.7h0m6.4 3.5h0m-2.3-8.3h0m-0.3 4.6h0m9.6-16.5h0m-1 23.5h0m-16.3-5h0m9-3.5h0m15.1 9.2h0m-23.7-6.8h0m21.7 8.1h0m-15.2-5h0m15.5-5.8h0m-4.6-0.1h0m-8.3 9.8h0m-4.1-17.1h0m-6.3 9.7h0m17.7 7.1h0m-9.8-6.8h0m-2.9-0.9h0m3.7-7.2h0m12.4 9.3h0m4.5-8.3h0m-11.8 7.2h0m-13.3-0.9h0m6.7 8.5h0m12.9-8.4h0" stroke="#000" stroke-width="1.0" stroke-linecap="round" opacity="1" fill="none"/>
</g>
<rect x="71" y="34.5" width="103.5" height="103.0" fill="none" stroke="#707070" stroke-width="1"/>
<line x1="97.2" y1="34.5" x2="97.2" y2="137.5" stroke="#707070" stroke-width="1"/>
<line x1="71" y1="112" x2="174.5" y2="112" stroke="#707070" stroke-width="1"/>
<rect x="215.5" y="34.5" width="103.5" height="103.0" fill="none" stroke="#707070" stroke-width="1"/>
<line x1="242.6" y1="34.5" x2="242.6" y2="137.5" stroke="#707070" stroke-width="1"/>
<line x1="215.5" y1="111.5" x2="319" y2="111.5" stroke="#707070" stroke-width="1"/>
<path d="M71.0 137.5v2.5M71 137.5h-2.5M78.8 137.5v1.5M71 129.7h-1.5M83.3 137.5v1.5M71 125.2h-1.5M86.6 137.5v1.5M71 122.0h-1.5M89.1 137.5v1.5M71 119.5h-1.5M91.1 137.5v1.5M71 117.5h-1.5M92.9 137.5v1.5M71 115.7h-1.5M94.4 137.5v1.5M71 114.2h-1.5M95.7 137.5v1.5M71 112.9h-1.5M96.9 137.5v2.5M71 111.8h-2.5M104.7 137.5v1.5M71 104.0h-1.5M109.2 137.5v1.5M71 99.5h-1.5M112.5 137.5v1.5M71 96.2h-1.5M115.0 137.5v1.5M71 93.8h-1.5M117.0 137.5v1.5M71 91.7h-1.5M118.7 137.5v1.5M71 90.0h-1.5M120.2 137.5v1.5M71 88.5h-1.5M121.6 137.5v1.5M71 87.2h-1.5M122.8 137.5v2.5M71 86.0h-2.5M130.5 137.5v1.5M71 78.2h-1.5M135.1 137.5v1.5M71 73.7h-1.5M138.3 137.5v1.5M71 70.5h-1.5M140.8 137.5v1.5M71 68.0h-1.5M142.9 137.5v1.5M71 66.0h-1.5M144.6 137.5v1.5M71 64.2h-1.5M146.1 137.5v1.5M71 62.7h-1.5M147.4 137.5v1.5M71 61.4h-1.5M148.6 137.5v2.5M71 60.2h-2.5M156.4 137.5v1.5M71 52.5h-1.5M161.0 137.5v1.5M71 48.0h-1.5M164.2 137.5v1.5M71 44.7h-1.5M166.7 137.5v1.5M71 42.3h-1.5M168.8 137.5v1.5M71 40.2h-1.5M170.5 137.5v1.5M71 38.5h-1.5M172.0 137.5v1.5M71 37.0h-1.5M173.3 137.5v1.5M71 35.7h-1.5" stroke="#707070" stroke-width="0.8" fill="none"/>
<path d="M215.5 137.5v2.5M215.5 137.5h-2.5M223.3 137.5v1.5M215.5 129.7h-1.5M227.8 137.5v1.5M215.5 125.2h-1.5M231.1 137.5v1.5M215.5 122.0h-1.5M233.6 137.5v1.5M215.5 119.5h-1.5M235.6 137.5v1.5M215.5 117.5h-1.5M237.4 137.5v1.5M215.5 115.7h-1.5M238.9 137.5v1.5M215.5 114.2h-1.5M240.2 137.5v1.5M215.5 112.9h-1.5M241.4 137.5v2.5M215.5 111.8h-2.5M249.2 137.5v1.5M215.5 104.0h-1.5M253.7 137.5v1.5M215.5 99.5h-1.5M257.0 137.5v1.5M215.5 96.2h-1.5M259.5 137.5v1.5M215.5 93.8h-1.5M261.5 137.5v1.5M215.5 91.7h-1.5M263.2 137.5v1.5M215.5 90.0h-1.5M264.7 137.5v1.5M215.5 88.5h-1.5M266.1 137.5v1.5M215.5 87.2h-1.5M267.2 137.5v2.5M215.5 86.0h-2.5M275.0 137.5v1.5M215.5 78.2h-1.5M279.6 137.5v1.5M215.5 73.7h-1.5M282.8 137.5v1.5M215.5 70.5h-1.5M285.3 137.5v1.5M215.5 68.0h-1.5M287.4 137.5v1.5M215.5 66.0h-1.5M289.1 137.5v1.5M215.5 64.2h-1.5M290.6 137.5v1.5M215.5 62.7h-1.5M291.9 137.5v1.5M215.5 61.4h-1.5M293.1 137.5v2.5M215.5 60.2h-2.5M300.9 137.5v1.5M215.5 52.5h-1.5M305.5 137.5v1.5M215.5 48.0h-1.5M308.7 137.5v1.5M215.5 44.7h-1.5M311.2 137.5v1.5M215.5 42.3h-1.5M313.3 137.5v1.5M215.5 40.2h-1.5M315.0 137.5v1.5M215.5 38.5h-1.5M316.5 137.5v1.5M215.5 37.0h-1.5M317.8 137.5v1.5M215.5 35.7h-1.5" stroke="#707070" stroke-width="0.8" fill="none"/>
<text x="67.5" y="141.9" font-size="12.5" font-weight="normal" text-anchor="end">10<tspan font-size="8.8" dx="-0.6" dy="-5.2">0</tspan></text>
<text x="67.5" y="116.15" font-size="12.5" font-weight="normal" text-anchor="end">10<tspan font-size="8.8" dx="-0.6" dy="-5.2">1</tspan></text>
<text x="67.5" y="90.4" font-size="12.5" font-weight="normal" text-anchor="end">10<tspan font-size="8.8" dx="-0.6" dy="-5.2">2</tspan></text>
<text x="67.5" y="64.65" font-size="12.5" font-weight="normal" text-anchor="end">10<tspan font-size="8.8" dx="-0.6" dy="-5.2">3</tspan></text>
<text x="67.5" y="38.9" font-size="12.5" font-weight="normal" text-anchor="end">10<tspan font-size="8.8" dx="-0.6" dy="-5.2">4</tspan></text>
<text x="71.0" y="155.6" font-size="12.5" font-weight="normal" text-anchor="middle">10<tspan font-size="8.8" dx="-0.6" dy="-5.2">0</tspan></text>
<text x="96.875" y="155.6" font-size="12.5" font-weight="normal" text-anchor="middle">10<tspan font-size="8.8" dx="-0.6" dy="-5.2">1</tspan></text>
<text x="122.75" y="155.6" font-size="12.5" font-weight="normal" text-anchor="middle">10<tspan font-size="8.8" dx="-0.6" dy="-5.2">2</tspan></text>
<text x="148.625" y="155.6" font-size="12.5" font-weight="normal" text-anchor="middle">10<tspan font-size="8.8" dx="-0.6" dy="-5.2">3</tspan></text>
<text x="174.5" y="155.6" font-size="12.5" font-weight="normal" text-anchor="middle">10<tspan font-size="8.8" dx="-0.6" dy="-5.2">4</tspan></text>
<text x="212.0" y="141.9" font-size="12.5" font-weight="normal" text-anchor="end">10<tspan font-size="8.8" dx="-0.6" dy="-5.2">0</tspan></text>
<text x="212.0" y="116.15" font-size="12.5" font-weight="normal" text-anchor="end">10<tspan font-size="8.8" dx="-0.6" dy="-5.2">1</tspan></text>
<text x="212.0" y="90.4" font-size="12.5" font-weight="normal" text-anchor="end">10<tspan font-size="8.8" dx="-0.6" dy="-5.2">2</tspan></text>
<text x="212.0" y="64.65" font-size="12.5" font-weight="normal" text-anchor="end">10<tspan font-size="8.8" dx="-0.6" dy="-5.2">3</tspan></text>
<text x="212.0" y="38.9" font-size="12.5" font-weight="normal" text-anchor="end">10<tspan font-size="8.8" dx="-0.6" dy="-5.2">4</tspan></text>
<text x="215.5" y="155.6" font-size="12.5" font-weight="normal" text-anchor="middle">10<tspan font-size="8.8" dx="-0.6" dy="-5.2">0</tspan></text>
<text x="241.375" y="155.6" font-size="12.5" font-weight="normal" text-anchor="middle">10<tspan font-size="8.8" dx="-0.6" dy="-5.2">1</tspan></text>
<text x="267.25" y="155.6" font-size="12.5" font-weight="normal" text-anchor="middle">10<tspan font-size="8.8" dx="-0.6" dy="-5.2">2</tspan></text>
<text x="293.125" y="155.6" font-size="12.5" font-weight="normal" text-anchor="middle">10<tspan font-size="8.8" dx="-0.6" dy="-5.2">3</tspan></text>
<text x="319.0" y="155.6" font-size="12.5" font-weight="normal" text-anchor="middle">10<tspan font-size="8.8" dx="-0.6" dy="-5.2">4</tspan></text>
<text x="152.4" y="49.4" font-size="13.6" font-weight="normal" text-anchor="end" >4.3</text>
<text x="155.8" y="49.4" font-size="13.6" font-weight="normal" text-anchor="start" >1.2</text>
<text x="155.8" y="64.6" font-size="13.6" font-weight="normal" text-anchor="start" >6.0</text>
<line x1="139" y1="51.7" x2="169" y2="51.7" stroke="#000" stroke-width="1.4"/>
<line x1="154" y1="38.7" x2="154" y2="68" stroke="#000" stroke-width="1.4"/>
<text x="293.4" y="47.7" font-size="12.8" font-weight="normal" text-anchor="end" >34.1</text>
<text x="296.6" y="47.7" font-size="12.8" font-weight="normal" text-anchor="start" >4.1</text>
<text x="296.6" y="62" font-size="12.8" font-weight="normal" text-anchor="start" >7.1</text>
<line x1="280.2" y1="50.6" x2="309.3" y2="50.6" stroke="#000" stroke-width="1.4"/>
<line x1="294.5" y1="36.8" x2="294.5" y2="66.9" stroke="#000" stroke-width="1.4"/>
<text x="0" y="0" font-size="18" font-weight="bold" text-anchor="middle" transform="translate(44,64) rotate(-90)">IL-17</text>
<line x1="35" y1="167.4" x2="35" y2="103.8" stroke="#000" stroke-width="2"/>
<line x1="34" y1="167.4" x2="107.2" y2="167.4" stroke="#000" stroke-width="2"/>
<path d="M35 95.8L30.2 104.8L39.8 104.8Z" fill="#000"/>
<path d="M115.2 167.4L106.2 162.6L106.2 172.20000000000002Z" fill="#000"/>
<text x="145" y="175.2" font-size="18.5" font-weight="bold" text-anchor="start" >IFN-γ</text>
<line x1="53.5" y1="243.5" x2="53.5" y2="348.5" stroke="#000" stroke-width="2"/>
<line x1="52.5" y1="347.5" x2="150" y2="347.5" stroke="#000" stroke-width="2"/>
<line x1="50.0" y1="347.5" x2="53.5" y2="347.5" stroke="#000" stroke-width="2"/>
<text x="49.0" y="352.8" font-size="16" font-weight="bold" text-anchor="end" >0</text>
<line x1="50.0" y1="321.5" x2="53.5" y2="321.5" stroke="#000" stroke-width="2"/>
<text x="49.0" y="326.8" font-size="16" font-weight="bold" text-anchor="end" >10</text>
<line x1="50.0" y1="295.5" x2="53.5" y2="295.5" stroke="#000" stroke-width="2"/>
<text x="49.0" y="300.8" font-size="16" font-weight="bold" text-anchor="end" >20</text>
<line x1="50.0" y1="269.5" x2="53.5" y2="269.5" stroke="#000" stroke-width="2"/>
<text x="49.0" y="274.8" font-size="16" font-weight="bold" text-anchor="end" >30</text>
<line x1="50.0" y1="243.5" x2="53.5" y2="243.5" stroke="#000" stroke-width="2"/>
<text x="49.0" y="248.8" font-size="16" font-weight="bold" text-anchor="end" >40</text>
<text x="0" y="0" font-size="17.4" font-weight="bold" text-anchor="middle" transform="translate(23,290.5) rotate(-90)">% IL-17 +ve</text>
<text x="80.3" y="367.2" font-size="16.8" font-weight="bold" text-anchor="middle" >THi</text>
<text x="131.9" y="367.2" font-size="16.8" font-weight="bold" text-anchor="middle" >TLo</text>
<path d="M77.4 242V233.3H130.6V242" stroke="#000" stroke-width="1.8" fill="none"/>
<text x="104.5" y="235.8" font-size="24" font-weight="bold" text-anchor="middle" letter-spacing="1.6">***</text>
<line x1="225" y1="243.5" x2="225" y2="348.5" stroke="#000" stroke-width="2"/>
<line x1="224" y1="347.5" x2="328" y2="347.5" stroke="#000" stroke-width="2"/>
<line x1="221.5" y1="347.5" x2="225" y2="347.5" stroke="#000" stroke-width="2"/>
<text x="220.5" y="352.8" font-size="16" font-weight="bold" text-anchor="end" >0</text>
<line x1="221.5" y1="321.5" x2="225" y2="321.5" stroke="#000" stroke-width="2"/>
<text x="220.5" y="326.8" font-size="16" font-weight="bold" text-anchor="end" >10</text>
<line x1="221.5" y1="295.5" x2="225" y2="295.5" stroke="#000" stroke-width="2"/>
<text x="220.5" y="300.8" font-size="16" font-weight="bold" text-anchor="end" >20</text>
<line x1="221.5" y1="269.5" x2="225" y2="269.5" stroke="#000" stroke-width="2"/>
<text x="220.5" y="274.8" font-size="16" font-weight="bold" text-anchor="end" >30</text>
<line x1="221.5" y1="243.5" x2="225" y2="243.5" stroke="#000" stroke-width="2"/>
<text x="220.5" y="248.8" font-size="16" font-weight="bold" text-anchor="end" >40</text>
<text x="0" y="0" font-size="17.4" font-weight="bold" text-anchor="middle" transform="translate(193.5,289) rotate(-90)">% IL-17/IFN-γ +ve</text>
<text x="251.8" y="367.2" font-size="16.8" font-weight="bold" text-anchor="middle" >THi</text>
<text x="303.4" y="367.2" font-size="16.8" font-weight="bold" text-anchor="middle" >TLo</text>
<path d="M252.6 239.5V231.2H306.5V239.5" stroke="#000" stroke-width="1.8" fill="none"/>
<text x="279.8" y="234" font-size="24" font-weight="bold" text-anchor="middle" letter-spacing="1.6">***</text>
<line x1="395.5" y1="243.5" x2="395.5" y2="348.5" stroke="#000" stroke-width="2"/>
<line x1="394.5" y1="347.5" x2="502" y2="347.5" stroke="#000" stroke-width="2"/>
<line x1="392.0" y1="347.5" x2="395.5" y2="347.5" stroke="#000" stroke-width="2"/>
<text x="391.0" y="352.8" font-size="16" font-weight="bold" text-anchor="end" >0</text>
<line x1="392.0" y1="321.5" x2="395.5" y2="321.5" stroke="#000" stroke-width="2"/>
<text x="391.0" y="326.8" font-size="16" font-weight="bold" text-anchor="end" >10</text>
<line x1="392.0" y1="295.5" x2="395.5" y2="295.5" stroke="#000" stroke-width="2"/>
<text x="391.0" y="300.8" font-size="16" font-weight="bold" text-anchor="end" >20</text>
<line x1="392.0" y1="269.5" x2="395.5" y2="269.5" stroke="#000" stroke-width="2"/>
<text x="391.0" y="274.8" font-size="16" font-weight="bold" text-anchor="end" >30</text>
<line x1="392.0" y1="243.5" x2="395.5" y2="243.5" stroke="#000" stroke-width="2"/>
<text x="391.0" y="248.8" font-size="16" font-weight="bold" text-anchor="end" >40</text>
<text x="0" y="0" font-size="17.4" font-weight="bold" text-anchor="middle" transform="translate(366.3,298.2) rotate(-90)">% IFN-γ +ve</text>
<text x="422.3" y="367.2" font-size="16.8" font-weight="bold" text-anchor="middle" >THi</text>
<text x="473.9" y="367.2" font-size="16.8" font-weight="bold" text-anchor="middle" >TLo</text>
<path d="M422.6 240V231H476.2V240" stroke="#000" stroke-width="1.8" fill="none"/>
<text x="449.8" y="234.6" font-size="24" font-weight="bold" text-anchor="middle" letter-spacing="1.6">***</text>
<path d="M78.0 329.5h4.6v4.6h-4.6zM71.6 334.7h4.6v4.6h-4.6zM84.3 334.7h4.6v4.6h-4.6zM78.0 337.7h4.6v4.6h-4.6zM65.5 340.7h4.6v4.6h-4.6zM71.6 340.7h4.6v4.6h-4.6zM78.0 340.9h4.6v4.6h-4.6zM84.3 340.7h4.6v4.6h-4.6zM90.6 340.7h4.6v4.6h-4.6zM64.2 342.7h4.6v4.6h-4.6zM68.2 342.7h4.6v4.6h-4.6zM72.2 342.7h4.6v4.6h-4.6zM76.2 342.7h4.6v4.6h-4.6zM80.2 342.7h4.6v4.6h-4.6zM84.2 342.7h4.6v4.6h-4.6zM88.2 342.7h4.6v4.6h-4.6zM92.2 342.7h4.6v4.6h-4.6z" fill="#000"/>
<path d="M132.1 256.8l2.6 4.680000000000001h-5.2zM132.1 268.5l2.6 4.680000000000001h-5.2zM138.4 285.4l2.6 4.680000000000001h-5.2zM125.7 289.6l2.6 4.680000000000001h-5.2zM132.1 291.3l2.6 4.680000000000001h-5.2zM138.4 302.9l2.6 4.680000000000001h-5.2zM132.1 307.0l2.6 4.680000000000001h-5.2zM119.4 311.8l2.6 4.680000000000001h-5.2zM125.7 311.8l2.6 4.680000000000001h-5.2zM132.1 313.9l2.6 4.680000000000001h-5.2zM144.8 311.8l2.6 4.680000000000001h-5.2zM138.4 313.9l2.6 4.680000000000001h-5.2zM125.7 318.8l2.6 4.680000000000001h-5.2zM132.1 320.3l2.6 4.680000000000001h-5.2zM138.4 320.3l2.6 4.680000000000001h-5.2zM125.7 324.5l2.6 4.680000000000001h-5.2zM138.4 323.5l2.6 4.680000000000001h-5.2zM132.1 325.6l2.6 4.680000000000001h-5.2zM119.4 328.7l2.6 4.680000000000001h-5.2zM144.8 328.7l2.6 4.680000000000001h-5.2zM125.7 330.9l2.6 4.680000000000001h-5.2zM138.4 331.5l2.6 4.680000000000001h-5.2zM132.1 334.0l2.6 4.680000000000001h-5.2z" fill="#000"/>
<line x1="114.5" y1="316.2" x2="149.4" y2="316.2" stroke="#000" stroke-width="1.3"/>
<line x1="64" y1="344" x2="96" y2="344" stroke="#000" stroke-width="1.3"/>
<path d="M235.9 342.9h4.2v4.2h-4.2zM241.9 342.9h4.2v4.2h-4.2zM247.9 342.9h4.2v4.2h-4.2zM253.9 342.4h4.2v4.2h-4.2zM259.9 342.9h4.2v4.2h-4.2zM263.9 342.9h4.2v4.2h-4.2zM249.9 341.7h4.2v4.2h-4.2zM257.9 341.7h4.2v4.2h-4.2z" fill="#000"/>
<path d="M304.6 286.9l2.5 4.5h-5.0zM291.9 329.2l2.5 4.5h-5.0zM298.3 329.2l2.5 4.5h-5.0zM304.6 329.2l2.5 4.5h-5.0zM311.0 329.2l2.5 4.5h-5.0zM317.3 329.2l2.5 4.5h-5.0zM291.9 332.8l2.5 4.5h-5.0zM298.3 335.6l2.5 4.5h-5.0zM311.0 335.6l2.5 4.5h-5.0zM317.3 335.6l2.5 4.5h-5.0zM295.0 338.9l2.5 4.5h-5.0zM301.0 338.9l2.5 4.5h-5.0zM307.0 338.9l2.5 4.5h-5.0zM314.0 338.9l2.5 4.5h-5.0zM292.0 341.9l2.5 4.5h-5.0zM298.0 341.9l2.5 4.5h-5.0zM304.6 341.9l2.5 4.5h-5.0zM311.0 341.9l2.5 4.5h-5.0zM317.3 341.9l2.5 4.5h-5.0zM304.6 335.4l2.5 4.5h-5.0z" fill="#000"/>
<line x1="286.6" y1="339.2" x2="322.6" y2="339.2" stroke="#000" stroke-width="1.3"/>
<line x1="236" y1="345.5" x2="268" y2="345.5" stroke="#000" stroke-width="1.3"/>
<path d="M423.0 303.6h4.6v4.6h-4.6zM410.7 310.6h4.6v4.6h-4.6zM416.6 312.7h4.6v4.6h-4.6zM423.0 314.8h4.6v4.6h-4.6zM429.3 313.8h4.6v4.6h-4.6zM435.4 312.7h4.6v4.6h-4.6zM423.0 323.9h4.6v4.6h-4.6zM416.6 328.1h4.6v4.6h-4.6zM423.0 330.3h4.6v4.6h-4.6zM429.3 330.3h4.6v4.6h-4.6zM410.7 333.9h4.6v4.6h-4.6zM416.6 331.7h4.6v4.6h-4.6zM435.4 332.8h4.6v4.6h-4.6zM416.6 337.0h4.6v4.6h-4.6zM423.0 337.0h4.6v4.6h-4.6zM429.3 336.0h4.6v4.6h-4.6zM410.7 341.3h4.6v4.6h-4.6zM416.6 343.4h4.6v4.6h-4.6zM423.0 340.2h4.6v4.6h-4.6zM426.1 343.4h4.6v4.6h-4.6zM435.4 342.3h4.6v4.6h-4.6z" fill="#000"/>
<path d="M477.1 264.7l2.6 4.680000000000001h-5.2zM470.7 290.7l2.6 4.680000000000001h-5.2zM483.4 290.7l2.6 4.680000000000001h-5.2zM477.1 293.3l2.6 4.680000000000001h-5.2zM483.4 300.7l2.6 4.680000000000001h-5.2zM477.1 303.8l2.6 4.680000000000001h-5.2zM470.7 307.6l2.6 4.680000000000001h-5.2zM477.1 311.3l2.6 4.680000000000001h-5.2zM464.4 317.2l2.6 4.680000000000001h-5.2zM470.7 319.3l2.6 4.680000000000001h-5.2zM479.6 317.2l2.6 4.680000000000001h-5.2zM489.8 317.2l2.6 4.680000000000001h-5.2zM483.4 320.8l2.6 4.680000000000001h-5.2zM477.1 320.8l2.6 4.680000000000001h-5.2zM464.4 324.6l2.6 4.680000000000001h-5.2zM470.7 326.1l2.6 4.680000000000001h-5.2zM483.4 326.1l2.6 4.680000000000001h-5.2zM489.8 324.6l2.6 4.680000000000001h-5.2zM477.1 328.2l2.6 4.680000000000001h-5.2zM470.7 335.2l2.6 4.680000000000001h-5.2zM477.1 336.2l2.6 4.680000000000001h-5.2zM483.4 336.2l2.6 4.680000000000001h-5.2z" fill="#000"/>
<line x1="407.7" y1="334.5" x2="442.6" y2="334.5" stroke="#000" stroke-width="1.3"/>
<line x1="459.5" y1="321.3" x2="494.4" y2="321.3" stroke="#000" stroke-width="1.3"/>
<line x1="55.2" y1="460.59999999999997" x2="55.2" y2="560.8" stroke="#000" stroke-width="2"/>
<line x1="54.2" y1="559.8" x2="155" y2="559.8" stroke="#000" stroke-width="2"/>
<line x1="49.7" y1="559.8" x2="55.2" y2="559.8" stroke="#000" stroke-width="2"/>
<text x="47.900000000000006" y="566.5" font-size="15.8" font-weight="bold" text-anchor="end" >0</text>
<line x1="49.7" y1="535.0" x2="55.2" y2="535.0" stroke="#000" stroke-width="2"/>
<text x="47.900000000000006" y="541.7" font-size="15.8" font-weight="bold" text-anchor="end" >25</text>
<line x1="49.7" y1="510.19999999999993" x2="55.2" y2="510.19999999999993" stroke="#000" stroke-width="2"/>
<text x="47.900000000000006" y="516.9" font-size="15.8" font-weight="bold" text-anchor="end" >50</text>
<line x1="49.7" y1="485.4" x2="55.2" y2="485.4" stroke="#000" stroke-width="2"/>
<text x="47.900000000000006" y="492.09999999999997" font-size="15.8" font-weight="bold" text-anchor="end" >75</text>
<line x1="49.7" y1="460.59999999999997" x2="55.2" y2="460.59999999999997" stroke="#000" stroke-width="2"/>
<text x="47.900000000000006" y="467.29999999999995" font-size="15.8" font-weight="bold" text-anchor="end" >100</text>
<text x="80.7" y="579.4" font-size="16" font-weight="bold" text-anchor="middle" >THi</text>
<text x="129.2" y="579.4" font-size="16" font-weight="bold" text-anchor="middle" >TLo</text>
<text x="97" y="424.3" font-size="23" font-weight="bold" text-anchor="middle" >IL-17</text>
<line x1="223.6" y1="460.59999999999997" x2="223.6" y2="560.8" stroke="#000" stroke-width="2"/>
<line x1="222.6" y1="559.8" x2="322.7" y2="559.8" stroke="#000" stroke-width="2"/>
<line x1="218.1" y1="559.8" x2="223.6" y2="559.8" stroke="#000" stroke-width="2"/>
<text x="216.29999999999998" y="566.5" font-size="15.8" font-weight="bold" text-anchor="end" >0</text>
<line x1="218.1" y1="535.0" x2="223.6" y2="535.0" stroke="#000" stroke-width="2"/>
<text x="216.29999999999998" y="541.7" font-size="15.8" font-weight="bold" text-anchor="end" >25</text>
<line x1="218.1" y1="510.19999999999993" x2="223.6" y2="510.19999999999993" stroke="#000" stroke-width="2"/>
<text x="216.29999999999998" y="516.9" font-size="15.8" font-weight="bold" text-anchor="end" >50</text>
<line x1="218.1" y1="485.4" x2="223.6" y2="485.4" stroke="#000" stroke-width="2"/>
<text x="216.29999999999998" y="492.09999999999997" font-size="15.8" font-weight="bold" text-anchor="end" >75</text>
<line x1="218.1" y1="460.59999999999997" x2="223.6" y2="460.59999999999997" stroke="#000" stroke-width="2"/>
<text x="216.29999999999998" y="467.29999999999995" font-size="15.8" font-weight="bold" text-anchor="end" >100</text>
<text x="249.1" y="579.4" font-size="16" font-weight="bold" text-anchor="middle" >THi</text>
<text x="297.6" y="579.4" font-size="16" font-weight="bold" text-anchor="middle" >TLo</text>
<text x="265.2" y="424.3" font-size="23" font-weight="bold" text-anchor="middle" >IFN-γ</text>
<text x="0" y="0" font-size="16" font-weight="bold" text-anchor="middle" transform="translate(16,508) rotate(-90)">ng/ml</text>
<rect x="62.7" y="557.2" width="34.3" height="2.6" fill="#000" stroke="none" stroke-width="0"/>
<rect x="111.8" y="490.5" width="35.4" height="69.3" fill="#000" stroke="none" stroke-width="0"/>
<line x1="129.2" y1="467" x2="129.2" y2="491" stroke="#000" stroke-width="2"/>
<line x1="120.2" y1="467" x2="138.3" y2="467" stroke="#000" stroke-width="2"/>
<rect x="231" y="516.7" width="32.8" height="43" fill="#fff" stroke="#000" stroke-width="2.2"/>
<line x1="247.7" y1="501.5" x2="247.7" y2="515.7" stroke="#000" stroke-width="2"/>
<line x1="238.9" y1="501.5" x2="256.6" y2="501.5" stroke="#000" stroke-width="2"/>
<rect x="279.1" y="508.2" width="35.4" height="51.6" fill="#000" stroke="none" stroke-width="0"/>
<line x1="296.8" y1="487.2" x2="296.8" y2="509" stroke="#000" stroke-width="2"/>
<line x1="288" y1="487.2" x2="305.7" y2="487.2" stroke="#000" stroke-width="2"/>
<clipPath id="c3"><rect x="404.5" y="427.2" width="98.80000000000001" height="103.50000000000006"/></clipPath><g clip-path="url(#c3)">
<ellipse cx="442" cy="508" rx="13" ry="10" fill="#000" opacity="0.45" filter="url(#b3)" transform="rotate(-20 442 508)"/>
<path d="M426.7 499.0h0m4.4-61h0m-22.9 62.1h0m14.5-43h0m74.4 5.8h0m-19.9 58.8h0m-69.5-34h0m35-20.4h0m42.2-17.7h0m7.6 35.5h0m-55-52.2h0m0.9 55.2h0m18.9-21.2h0m-28.5 43.8h0m45.2-81.5h0m9 65.1h0m-58.5 27.3h0m30.5-41h0m-46.5 38.6h0m11.6-57h0m69.8 66.8h0m7.1-6.9h0m-29.9-48.2h0m3.9-27.2h0m-28.8 79.4h0m-25.7 3.5h0m5.3-79.9h0m16 67.1h0m8.9-72.4h0m21.3-6.6h0m-20.8 84.7h0m2.9-76.1h0m0.5 58.8h0m-25.7-24.9h0m-17.4-12h0m84.2 8.4h0m-16 34.6h0m-9.7-34.4h0m-32.5 39.1h0m19.5-81.9h0m26.7 82h0m-2.4-2.4h0m-25.4-22.8h0m15.2-52.7h0m-46.4 22.4h0m29.8 22.1h0m43.1 7.4h0m-24.6-55.1h0m12.3 37.2h0m-31.5-36.3h0" stroke="#000" stroke-width="1.0" stroke-linecap="round" opacity="0.3" fill="none"/>
<path d="M453.6 449.5h0m-1.9 16.7h0m8.5-1.1h0m-10.6-2.4h0m-4.7-6.2h0m11.6 21.2h0m-9.2-3.5h0m3.8-13.2h0m0.6-6.9h0m5.1-4.2h0m-1.2 26.7h0m-3.7-24.8h0m3.6 23.1h0m1.1 2.3h0m-1-1.2h0m-3.2-7.5h0m0.8-2.4h0m2.3-3.6h0m-6.9-3.7h0m6.4 9h0m-4.3 16.5h0m6.8-17.9h0m-1 7.3h0m2.9-8.4h0m2.9-9.9h0m-7.8 12.7h0m-1.3 4.6h0m-0.2-8.2h0m3.4-12.3h0m-4 8.2h0m-1.9 4.7h0m6.7-3.8h0m-8.9-21.2h0m5 37.6h0m-7.3-15.8h0m7 7.1h0m-1.1-15.4h0m3.6 0.9h0m0.6 27h0m6.3-15.8h0m-4.5 0.7h0m3.5 2.6h0m-12.7-20.5h0m13.1 18h0m-9-4.4h0m-0.6 12.4h0m2.2-2.2h0m-5.2 2.9h0m8-8h0m-9.6-15.9h0m11.3-2.8h0m-3.7 2.2h0m-9-2.8h0m17.5 28.4h0m-4.9 4.6h0m-3.8-15.5h0m4.1 0.1h0m-3.9-3.6h0m-4 2.9h0m-4.1-10.3h0m11.1 22h0m-4.4-8.3h0m-6.8 11.7h0m10.2-32.5h0m2.5 15.2h0m-9.9 7.9h0m6-11.3h0m-6.2 5.2h0m7.7 9.6h0m-6.1-2.4h0m-2.3-7.9h0m2.2 12.8h0m-1.3-29.1h0m5.9 24.8h0m-10.4 4.6h0m6.7-18.5h0m0-2.1h0m2.1 8.7h0m6 5.9h0m1.5-4h0m-11.6-5.3h0m4.1 5h0m-3.6-5.8h0m7.1 17.8h0m-1.6-16.3h0m-0.3-13.1h0m3.3 38.1h0m-0.3-6.2h0m-1.5-23h0m-9.8 2.5h0m4.9 7.5h0m16.7-5.8h0m-17.3 15.5h0m7-8.5h0m-14.6-18.9h0m8.3 5.5h0m2.1-7.4h0m-0.3 15.1h0m-3.7-15.3h0m0.9 8.1h0m-7.3-0.9h0m10.1 19.6h0m10.5-8.1h0m-7.8-23.2h0m-6 31.6h0m2.2-0.2h0m5.5-2h0m-10.7-10h0m-0.7-8.1h0m9 11.7h0m-2.1-4.7h0m2.4 10.4h0m5.6-4.2h0m-13.1-33.2h0m8.5 43.2h0m-3.4-7.1h0m-6.8-18.6h0m1.6 14.4h0m1.6-7.3h0m2.9 4.2h0m-5.3 16.2h0m10.9-10.3h0m-13.4 6.9h0m8-24.6h0m5.4 27.1h0m-0.4-21h0m-5.7 28h0m3.3-21.5h0m-10.4 1.5h0m6.5 6.6h0m8.2-16.4h0m-1.8 12.4h0m-4.7-1.2h0m5 1.1h0m-11-7h0m12.7 20.3h0m-6.6-8.1h0m-0.7 0.7h0m0.2-2.6h0m2.3-14.8h0m5.5-6.8h0m-4.8 8.1h0m3.6 23.1h0m-2.1-35.3h0m-5.5 17.3h0m1.3-2.1h0m3.6 18.8h0m-4.5-24.7h0m-0.1 0.1h0m0.6 10.3h0m-3.6 0.4h0m-2.2-5.1h0m5.8-9h0m-6.3-3.5h0m2.7 9.4h0m9.7 0.1h0m-5.7 7.8h0m1.3 2.9h0m-7.7-4.9h0m3.7 6.4h0m0.1 11.9h0m2.4-4.1h0m4.5-19h0m-12.2 12.5h0m4.8-25.9h0m4.8 19.2h0m3 11.6h0m-8.6 2.7h0m6.8 5.5h0m-3.8-11.8h0m-0.8-2.1h0m-1.3-17.9h0m0.8 0h0m0.8 23.3h0m0.3-16.1h0m0.7 11.5h0m-1.5 4.7h0m2.1-4.4h0m3-27.4h0m-2.6 27.5h0m2.2-2.2h0m-2.7-6h0m0 6.3h0m10.2-1.8h0m-14-9.8h0m3.7 24.9h0m-2.2-27.4h0m4.6-11.3h0m-2.3 33.5h0m1.1-2h0m-2.7 3.2h0m5.7-35.2h0m-5.3 25.4h0m-6.8-0.6h0m8.9-1.5h0m2.3 8h0m-3.9-12.9h0m7.8 23h0m-7.6-21.2h0m-5.5-8.5h0m9.3 19.3h0m-3.5-14.1h0m-1.4 0.2h0m-1.7-2h0m-4.3-4.6h0m13.2 9.6h0m-7.6-4.5h0m2.4 11.7h0m-1.8-22.8h0m1.6 33.8h0m-2.2-12.9h0m3.2 8.2h0m2.2-3.8h0m-7.3 6.4h0m1.1-20.7h0m3.9 5.7h0m1.9-3.7h0m-12.5 1.2h0m2.4 6.2h0m2.2 4.4h0m7.4 5.7h0m4.1-15.7h0m-1.1-5.3h0m2.1 18.6h0m-4.3 2.9h0m-4.3-26.9h0m-6.7 9h0m12 10.4h0m-5.8-5.4h0m8.6 13h0m-9.2-14.7h0m7.5-11.7h0m-5.5 6.8h0m1.2 16.1h0m-0.4 6.9h0m6.2-34.7h0m-14.6 19.8h0m6.3-3.6h0m-10.7-6.9h0m16.5 17.3h0" stroke="#000" stroke-width="1.0" stroke-linecap="round" opacity="0.4" fill="none"/>
<path d="M421.8 513.7h0m-10.6-0.1h0m27.9 10.2h0m-0.2-0.6h0m-15.7-4.8h0m2 3h0m-11.3-11.4h0m21.4 6h0m-9 1.6h0m2.1-0.9h0m7.4 2.5h0m-1.9-3.5h0m-27-2.9h0m10.3 12.4h0m10.9-4.8h0m-4.8 3.3h0m-1-5.4h0m-12.4-2.8h0m28 12h0m-7.8-11.1h0m-8.4-2.7h0m3.5 0.4h0m-4.9 7.8h0m13.2-9.3h0m-4.7 1.4h0m-1 11.7h0m-9.9-8.5h0m19.6-2.4h0m-15.1 2.7h0m-1.7-4.2h0m12.7-1.2h0m1.4 12h0m5.1-12.7h0m-13.3 7.8h0m10.5-1.7h0m-19.8-3.4h0m5.3 7.5h0m0.6-7.6h0m18.2 3h0m-28.5-1.9h0m2.5 5.5h0m11.9 8h0m-1.6-13.6h0m7.3-1.2h0m-5 2.9h0m-3-1.8h0m-2.9 5.6h0m3-11h0m-5.5 6h0m15.3 5.6h0m-7.1-1.8h0m2.4-9h0m-2.4 8.2h0m6.6-2h0m-10.3-2.1h0m-1.4 7h0m-0.2-9h0m-0.6 4.1h0m17.3-6.3h0m-2.6 3.1h0m-5.7 14.4h0m-6.7-2.1h0m-5.6 2.7h0m2.9-18.1h0m-7.4 1.2h0m10.8 11.3h0m1 2.5h0m23-14.4h0m-6.1 5.5h0m-30.2 0.3h0m24.6 6.5h0m-0.8-6.4h0m0.5-6.7h0m4.5 12.4h0m-20.4-5.4h0m20.3-1.5h0m-13.6 0.5h0m13.7-2.1h0m-12.8 7.1h0m-1.9-6.9h0m-9.1 1.2h0m7.6 4.4h0m5.2 2.6h0m2.2-1.9h0m9.9 7.7h0m-26.5-3.4h0m14.4-9.1h0m-4.5 3.1h0m7.1-9.4h0m-1.2-5.1h0m4.9 7.5h0m-11.2 8h0m-7.2 1.6h0m-0.2-9.8h0m3.6 0.5h0m3.2 7.6h0m-4.1-9.6h0m-3.9 8.6h0m2.9-11.6h0m7.5 3.1h0m2.5 11.3h0m-17.4 2.7h0m20.1-8.9h0m-13.3-3.2h0m6.7-8.4h0m-5.3 6.7h0m-12 17.4h0m13.3-11h0m-1.6 8.7h0m7.4-3.8h0m10.4-9.5h0m-13.9 8.2h0m-12.5-3.8h0m5.7-4h0m20.4 0.8h0m-24 8.8h0m12.3-1.6h0m-6.3-1.3h0m8.1 2.6h0m-0.3 2.2h0m2.4-2.7h0m-11.5-12.5h0m-6.3 11.9h0m14.7-3.1h0m-4.5-0.8h0m13.3 4h0m-3.2-5.2h0m6.6-0.2h0m-15.5-10.3h0m-2.8 20.3h0m9.7-10.9h0m-0.4 10.6h0m-20.3-5.3h0m15.1 6.2h0m18.6 1.9h0m-12.9-15.3h0m-18.2-2.1h0m7.5 8.2h0m16.7-10.5h0m-26.6 6.2h0m25.9 15.6h0m-8.6-9.8h0m11.9 2.1h0m-4.1-11.2h0m23.3 3.2h0m-32.2 4.8h0m9.8-1.8h0m-20.7 11.9h0m-1.3-6.3h0m10.1-7.6h0m4.5-12.4h0m-13.5 14h0m12.8-7.7h0m3.4 4.4h0m-0.4 2.7h0m3.7-6.1h0m-20.3 17h0m29.4-10.7h0m-12.1-1.8h0m-5.5 8.9h0m-7.6-8.2h0m15.1 12.7h0m-11.6-7.4h0m20.7-4h0m5.6-0.4h0m-24.5-7.9h0m-7.8 1.9h0m12.1-0.2h0m8.7 9.9h0m-9.3-3.4h0m-8.5 11.7h0m-3.1-7.3h0m0.2-1.7h0m-1.4 3.1h0m15-1.5h0m7.5-7.8h0m-0.5 7h0m-6.1 2.4h0m-9.9 1.5h0m2.5-1h0m-9.7-11.6h0m9.4 5.3h0m-6.9-4.4h0m5.8 2.2h0m-3.3 9h0m5.6-11.5h0m-6-4.6h0m13 17.3h0m-8.7-9.5h0m12.8 1.3h0m-3.8-5.8h0m-19.4 2.3h0m21.8 6h0m-5-6.8h0m-11.9 1.3h0m15 0.3h0m-5.5-4.3h0m9.6 6.5h0m-15.3-0.7h0m7.8 6.3h0m-8.2-7.1h0m15 3.3h0m0.7 5.3h0m-6.2-7.8h0m-16.2 8.9h0m16.8-4.4h0m-23-6.3h0m16 10.8h0m-0.9-7.1h0m1.9 1.4h0m6.1 2.9h0m0.8-9.9h0m-23.5 4.6h0m18.2 0.7h0m5.2 7.2h0m-16.3-3.7h0m0.7 6h0m-0.6-9h0m5-2.9h0m9.6 7.9h0m-4 3.8h0m10.9 2.8h0m-16.9-14.1h0m11.3-1.4h0m-10 16.3h0m-8.3-17.2h0m-3.1-2.5h0m13 8.5h0m-0.2-4.4h0m8.7 0.1h0m-8.9 12.5h0m3.5-7h0m2.9 0.5h0m28.3 5.6h0m-1.8-12.1h0m-11 10.8h0m-3.8-6h0m-3.8-7.1h0m-10.6 5.4h0m6.7 3.5h0m8.6-8.1h0m-18.1 9.8h0m-2.4-0.7h0m20.2-12.2h0m-17.5 8.5h0m27.5 3.1h0m-23.1 6.5h0m4.8-3.7h0m-9.2 4.1h0m7.2-9.4h0" stroke="#000" stroke-width="1.0" stroke-linecap="round" opacity="0.45" fill="none"/>
<path d="M450.2 433.5h0m6.8 5.5h0m-10.8 3.8h0m3.4-1.4h0m11.6 12.4h0m-7.7-11.5h0m1.7 0.5h0m2.6-5.9h0m-1.6 18.1h0m-4.6-10.8h0m-2.8-6.4h0m-2-3.2h0m10.4 6.5h0m-0.9-5.7h0m2.2 12.3h0m3.9-0.9h0m-2.6-7.3h0m-13.3-2.2h0m8.1 6.6h0m-1.8-6.9h0m1.2 6.2h0m0.6 9.9h0m-4.7-8.2h0m4.9-12.7h0m-4.1 6.5h0m2.9 12.8h0m4.3-13.1h0m-6 9.9h0m-1.7-15.8h0m4.4-4.4h0m6.2 9h0m5.5 1h0m-7.8 0.2h0m-3.4 9.6h0m0.2-8h0m-0.3-0.7h0m2.2 5.6h0m0.8 7.8h0m-1.4-8.1h0m-4.6-10.6h0m1.1 10.8h0m6.7-8.8h0m-2.9-7h0m-5.9 23.7h0m3.4-10.1h0m8.1 0.3h0m-3 6h0m-9.5-5.8h0m4.2 5h0m-0.7-12.1h0m-3.1-5.4h0m9.9 4.5h0m-1.9 0.2h0m-4.2 16.8h0m1.7-5.4h0m0.4-14.7h0m5 17.4h0m-5.6-10.5h0m1.2 2.9h0m4.9-9.2h0m-6.3 9.9h0m-7.1-3.7h0m5.9 4h0m-2.8-7h0m6.2 11.2h0m1-7h0m-10.8 2.9h0m1.4-1h0m2-11.2h0m11.2 9.5h0m-7.7-10.4h0m-1.3 1.9h0m-2.7 6h0m-5.1-4h0m14.7 11h0m-7.9-2.1h0m4.2 3.8h0m-4.7 6.5h0m4.1-11.3h0m-0.9 8.1h0m1.9-15h0m8.9-4.4h0m-16.4 10.2h0m16.2-2.5h0m-14.6 9.4h0m-0.2-0.5h0m8-9.7h0m4 5.7h0m-7.2 3.7h0m-2.4-3.9h0m2.8-1.9h0m1.2 4.5h0m-4.4 5.4h0m5.5-11.5h0m-6.4-5.3h0m3.9 12.5h0m-2.2-6.1h0m8.4 12.3h0m-11.2-9.2h0m12.5 0.7h0m-7.1-4h0m7.3-2.7h0m-7.1 4.5h0m-3.6 7.5h0m3.5-10.5h0m3.3 1.8h0m0.2 0.5h0m-8.1 2.4h0m5.3-2.4h0m-1.5 3h0m-3.1 8.8h0m7.4-12.2h0m-1.6-0.6h0m-2.2-5.9h0m-5.2 5.7h0m12.8 5.7h0m-5.2 1.7h0m0.4-1.9h0m-6.4 4.1h0m1.9-3.1h0m-0.3 3.2h0m-4.2-5.8h0m7 3.2h0m-3.3 0.2h0m3.1-17.2h0m-6.9 10.4h0m9.8-8.2h0m0.2 8.7h0m5.5 1h0m-4.3-6.6h0m-6.7 13.7h0m5-8.5h0m0.8 9.9h0m-4.3-1.8h0m-1.2 3.9h0m6-18.7h0m-5.4-2.7h0m-0.4 11.7h0m2.6 4.7h0m7-3.5h0m-9.5 2.2h0m4 2.3h0m0.7-13.4h0m-5.5 6.6h0m-0.9-1.6h0m2.6 5.6h0m0.9-14.3h0m-9.3 7.5h0m1.4 10.4h0m4.8-8.9h0m-1.8-3.1h0m6.2 16.2h0m2.9-1.6h0m-5.3-11.9h0m0.9 0.2h0m3.7-4.9h0m-0.6 5.8h0m-8.5 9.9h0m3.2-14.7h0m5.9 3h0m3.4 13.5h0m-7.3-22.2h0m1.1 6h0m2.8 1.6h0m-5.7-0.7h0m7.6 17.5h0m-7.3-7.7h0m-5.6 0.1h0m2.8 5.8h0m0.4-6.6h0m-1.8 0.4h0m14.8-6.8h0m-14.4-12.1h0m3.9 19.8h0m-0.2-12.3h0m9.9-0.9h0m-2.4 2.1h0m-22.2-6h0m19 11.7h0m-5.2-1.7h0m0.5 10.7h0m5.2-16.8h0m-2.7 12.2h0m-4.2-2.9h0m2 10.1h0m6.8-8.2h0m-1.9-11.2h0m-7.1 7.4h0m1.9 8.9h0m0.5-15.4h0m4.1 0.7h0m-3.5 10.5h0m-3.3-3.2h0m11.4 13.2h0m-2.8-11.5h0m-8.9 1.9h0m2.3-2.4h0m3.9 2.9h0m-9.6 2.8h0m7.8-13.9h0m0.1 7.1h0m-1.8 4.2h0m7.7 2.4h0m-6 5.6h0m7.5-23h0m-6.7 14.2h0m-7.2-5.3h0m17-4.7h0m-11.6 8.3h0m7.5-1.8h0m-5.2-2.9h0m-7.5-5.5h0m6.3 7.7h0m-0.9-5.3h0m7.3 4.9h0m-3.3 5.3h0m-9.5-7.1h0m-2.2 2.4h0m12.6-1.5h0m0.2 0.9h0m-10-7.6h0m16.7-3.8h0m-7.2 16.2h0m-4.8-0.2h0m-4.6 0.3h0m-1.5-5.1h0m5.1-3.8h0m-4.4 1.1h0m5.7-1.4h0m2.2 5.8h0m2-0.8h0m-6.5 8.1h0m4.8-9.2h0m-9-14h0m12.7 9h0m-5 4.1h0m-1.4 4.1h0m-0.4 1.3h0m-1.8-7h0m2.3 3.5h0m-0.4-8.5h0m2.9 13h0m-8.7-4.1h0m7.4-8.6h0m8.6 15.3h0m-11 6.2h0m3.1-15.4h0m-4.4 0.9h0m6.1-13.4h0m-2.8 9.3h0m-1.4 5.3h0m-7.4-4.2h0m9.3 0.2h0m-2.8-4.3h0m0.2 5h0m2.5 7.5h0m3.2 0h0m-4.3 2.2h0m4.7-0.4h0m-2.2-16.8h0m-2 5.8h0m-5 1.4h0m6.8 16.3h0m2.1-12.1h0m-1.1-5.5h0m1.7-4.7h0m-6.3 10.7h0m-4.5 0.2h0m6.7 14.5h0m-4.5-23.6h0m6 4.1h0m9.5 4.3h0m-16 4.2h0m6.1-0.4h0m-0.1-9.9h0m1.1 4.4h0m2.3-11.3h0m-0.4 18.6h0m-5.6-12.2h0m-4-6.3h0" stroke="#000" stroke-width="1.0" stroke-linecap="round" opacity="0.5" fill="none"/>
<path d="M458.0 524.1h0m-14.3-7.9h0m12.9 9.8h0m0.2-5.8h0m-14.3-2.1h0m1.9-3.8h0m3.8-6.7h0m3 3.8h0m-4.4 2.2h0m14.4 11.8h0m-8.2-16.6h0m-3.7 2.5h0m-2.2 7h0m1.7-1.6h0m1.3-3.1h0m5.7-5.4h0m-11 3.3h0m3.9 3.8h0m6.4-7.2h0m5.8 5h0m-17.7 9h0m12.4-10.1h0m-3.4-6.5h0m-6.5 8.9h0m3 4.9h0m1.4-1.2h0m-4.9 1.1h0m13.2 7.3h0m-1.8-6.6h0m-1.8-4.7h0m-6.5-2.1h0m5.6 9.3h0m2.5-6.3h0m0.6-11.5h0m-3.4 11.9h0m-9-3.2h0m-5 1.8h0m19.6 0.3h0m0.3 0.2h0m-12.9 6.4h0m21.1-2.9h0m-16.1-3h0m-0.7-4h0m-2.1 4.5h0m2 1h0m9-8.1h0m-1.9 5.2h0m3.9-1.3h0m-10.8 3.1h0m-6.5-7.2h0m2.8-2.4h0m-8.2 15.5h0m16.2-4h0m-7.9-7.8h0m7.7 10h0m-6.1-25.7h0m1.5 24.3h0m9.5-18.1h0m-8.4 16.6h0m7.1-9.1h0m-6.1-7.1h0m7.5 9.8h0m0.8-4h0m-16.2 3h0m9.3 5.9h0m-1.7-1.2h0m-8.5 1.1h0m-3.5-14.6h0m-4.7 14.3h0m30.9 9.8h0m-2.8-9.9h0m-5.5-2.2h0m-11.2 13.8h0m4.8-1.4h0m-13.7-17.1h0m7.7 2.3h0m8 7.7h0m5.1-5.8h0m-2.9 6.3h0m-3.3 1.4h0m-2.4-5.7h0m-3.1-1h0m2.2 12.6h0m6.3-13.8h0m-7.2-2.4h0m-1.3-8.5h0m3.2 3.9h0m0.8 13.9h0m2.1-7.8h0m-4.9-1.7h0m-3.8-2.6h0m-4.2 0.4h0m8.5 9.8h0m6 2.9h0m-5.1-15.5h0m7.6 17.3h0m3.5-5h0m-8.8 0.1h0m4.8-6.2h0m-0.5 12.4h0m1.6 2.3h0m-10.5-8.3h0m7.1-10.5h0m-1.6 8.1h0m-4.4-4.3h0m-3.9 8.7h0m5.4-9.9h0m3-11.4h0m-10.8 12.2h0m5.7 2.1h0m-0.2 3.7h0m-2.7-10.3h0m1.1 13.1h0m12.5-5.2h0m-7-0.6h0m0.1-5.4h0m-5.3-3.3h0m10.1 5.8h0m-0.8-1.5h0m-2.5-3.5h0m0.3 8.5h0m1-1.7h0m-7.9 0.8h0m13.4-8h0m-15.3 14.7h0m6.1-6.4h0m-0.3-4.4h0m0.4 13.1h0m-0.3 2.8h0m-0.7-8.4h0m-9.5-3.7h0m-0.1-6.7h0m10.5 0.7h0m-2.4 12.3h0m2.3-0.2h0m10.7 9.4h0m-5.7-16.1h0m-0.5-4.2h0m-11.6 13h0m14.3-16.6h0m-15.3 12.6h0m11 0.8h0m-16 5.3h0m17-6.3h0m-0.9 2h0m4.3 3.4h0m-13.6 2.6h0m8.5 1.1h0m-0.2-12.2h0m-11.3 12.7h0m7.3-14.3h0m10.5 1.2h0m-15.6-3h0m1.7 1.1h0m-0.3 11.7h0m1.4-10.8h0m3.5 6h0m8.7-2.1h0m2.1-1.1h0m-13.7-13.3h0m3.2 14.7h0m-6.6-4.9h0m11.2-0.2h0m-7.4 11.1h0m7.6-5.9h0m13.2 1.4h0m-20.9-2.5h0m3.5-1.2h0m1.4-7.1h0m-9.2 15.8h0m6.7-11h0m-3-0.7h0m3.9-1.1h0m0.4-0.8h0m6.2 0.9h0m-4.7 11.9h0m10.6-2.3h0m-18.4-1.5h0m4.2-0.6h0m9.2-8.2h0m-2.6 8h0m-4.8 2.5h0m6.4-13.5h0m-3 11.8h0m-3.8-4.1h0m-4.3-5.2h0m9.6 1h0m0.2 9.5h0m4.9 4h0m-3.5-14.4h0m-1.9 0.7h0m-1.8 3.8h0m-3.2-3.6h0m-5.2-1.5h0m6.3 4.1h0m-8.6 6.6h0m13.9-1.2h0m-9.6 0.1h0m0.4-4h0m11.1 12.9h0m4.9-11.3h0m-11.4 0.2h0m0.1-8.1h0m8.8 12.9h0m-8.2-2.3h0m8-6.6h0m-12.8 6.5h0m-0.1 5.6h0m-0.2-16.6h0m-7.9 12h0m21.7-12.6h0m-14.3 6.5h0m-3.9 3.8h0m3.7 3.7h0m2.6-6.4h0m-3.7-2h0m10.6 12.2h0m-6-10.3h0m-0.3 0.9h0m2.6 9.5h0m0.2-0.7h0m-0.6-13.4h0m-3.4 3.9h0m0.4-3.2h0m-2 0.2h0m9.3 3.7h0m-10.7 1.6h0m3.5-1.1h0m-0.1-7.4h0m8.5-0.6h0m-5.7 5.4h0m1.6-1.4h0m-0.8-5.1h0m-1.5 6.3h0m-3.5-4.1h0m3.1 2.8h0m0.9 4.5h0m-0.3 2.9h0m6.1-8.6h0m0.8 5.3h0m-10.5-3h0m3.3-2.6h0m7.4 6.2h0m-7.3-2.4h0m3.5-0.8h0m0.3 8.3h0m-11.4-3.1h0m5.1-8.4h0m-2.5 3.8h0m13.1-5.7h0m-6.1 8h0m-4.4-0.7h0m1.5-0.7h0m-1.9 0.6h0m-5.2-4.2h0m4.1 1h0m12.1-4.2h0m-21.9 6h0m13.5-6.4h0m3.5 10h0m-11.2-4.9h0m12.9 11.9h0m-10.1-4.4h0m-2.3-7.7h0m13.2 12.7h0m-4.6-20.5h0m0.8 5h0m-3.4 5.4h0m7.2-2.4h0m-10.2-0.6h0m15-0.1h0m-7.4-6.5h0m-8.5 5h0m2.2 14h0m8.9 0.4h0m-6.2-13.2h0m-1.5-5.9h0m-1.5 16.9h0m-7.7-2.5h0m17.7-8.4h0m1.6-1h0m-16.2-0.1h0m4.6 13.5h0m12.3-10.8h0m-19.5 2.2h0m11 13.8h0m-1.1-14.7h0m0.8 0h0m6 3.2h0m-20.8-0.7h0m11.6-3h0m3.4-2.8h0m-3.8-2.5h0m-1.7 15.8h0m2-4h0m0.8-13.1h0m8.8 4.4h0m-5.6 5.9h0m-6.9 0.7h0m8-5.3h0" stroke="#000" stroke-width="1.0" stroke-linecap="round" opacity="0.6" fill="none"/>
<path d="M452.6 497.3h0m-4.9 2.6h0m10.4 5.4h0m-18.2 8.8h0m-3.1 7.2h0m-5.6-14.8h0m14.3-5.4h0m-19.6 16.5h0m12.8-13.3h0m-6.1 0.5h0m9.6-2.8h0m-16.2 1.9h0m17.3 10.9h0m-3.5-4.2h0m4.5-7.7h0m-6.1-4.4h0m8.7 13.8h0m7.5-4.9h0m-6.9-2.4h0m-10.8 13.7h0m11.2 5.2h0m-19.9-5.1h0m25.3-9.6h0m2.4-6.4h0m-12.6 6.1h0m-4-9.8h0m1.2 4.1h0m-10.2 11.5h0m0.9-4.6h0m32.1 4h0m-28.3-5.4h0m2.9-5.1h0m8 10.2h0m9.1 5.6h0m-13.5-14.9h0m25.2-3.6h0m-47.9-1h0m4.6-4.9h0m34.4-5.9h0m-18.5 37.9h0m8.9-27.9h0m3.7 8.7h0m-8.2-4.6h0m-7.5-8.2h0m22.6-4.1h0m7 21.8h0m-19.9-9.7h0m-11.2 7h0m21.3-2.1h0m-15.5-13.5h0m0.1 21.1h0m13.7-4.3h0m15 1.7h0m-25.7-0.9h0m-12.9-6.2h0m8.1-3.1h0m25.6 12h0m-4.5-12.9h0m-3.8 21.2h0m-10.8-17.3h0m24.4-0.2h0m-18.3 0.7h0m15.9-5h0m-42.4 10.6h0m29-0.9h0m-13.8-5.4h0m-8 8.4h0m26.4-6.9h0m-32.5 12.4h0m22.3 3.9h0m-31.1-17.4h0m18.5 2.4h0m-6.7 2.8h0m9.7-26h0m25.1 7.2h0m-25.2 21.3h0m-24.1 2.7h0m22.7 5.3h0m17.8-2.9h0m-10.8-12.9h0m1.6 17h0m-6.1-15.6h0m-26.7 1.6h0m28.3 2.5h0m2.8-6.2h0m-3.3-12.6h0m-0.2 2.9h0m-5.1 21.3h0m5.3-5.2h0m22.6 12.4h0m-23.5-22.1h0m-7.5-2.8h0m20 13.5h0m-28.6 1.7h0m15.5-14.2h0m-2.8 13h0m7.1 3.3h0m0.8 0.3h0m7.1-9.5h0m-20.9 7.6h0m14.9-13.5h0m-1-2.9h0m-9.8 13h0m3-5.1h0m-8.8-4.3h0m17.7 0.8h0m-7.6-3.3h0m-2.4-1.8h0m0.3 5.2h0m7.1 15.5h0m7.4-4.1h0m6.9-8.1h0m-5.6 11.2h0m-4.3-13.3h0m-2.3-4.3h0m-9.6 16.1h0m5.1-9.6h0m-7.9 15h0m9.8-23h0m-2.4 11.3h0m7-4h0m-16.4 4.4h0m23.5 0.8h0m-2.5-11.5h0m-24.3 13.4h0m11.9 4.3h0m-22.4-4.2h0m17.1-14.5h0m-4.5 22.6h0m-4.4-12.5h0m8.6-1.7h0m16.4-5.9h0m-14.9 6.8h0m7.7-13.7h0m11.6 15.7h0m-46.5-4.2h0m28.1-4.4h0m5.9 22.8h0m-3.8-12.3h0m-0.7 2.8h0m9.7 3.7h0m-5.9-14.8h0m7.2 5.7h0m-16.6 12.9h0m-0.7-9.6h0m-3.4-5.9h0m-2.4 12.1h0m18-8.6h0m-10.6 2.1h0m10.8 10.3h0m-12.3-8h0m14.5-19h0m-8.9 3.3h0m1.7 2.8h0m6.7 12.5h0m10.5-5.2h0m1.4-8h0m5.8 3.6h0m-21.8-4.3h0m-3.2 0.4h0m5 1.7h0m11.7 11.2h0m-0.6-9.1h0m-20.1 7.8h0m14.7-6.9h0m-21.4 4.1h0m16.8 0.8h0m-4.9-0.9h0m-7.8-1.8h0m4.6 7.4h0m16.7 5.5h0m-20.1-15.6h0m11.1 3h0m-13.2-4.5h0m10.3 11.3h0m33 9.9h0m-43.5-4.3h0m13.5-14.9h0m-5.2-9.3h0m-11 22.8h0m40.1-10.5h0m-33.8 1.3h0m19.4-0.5h0m-4.8 12h0m-16.7-26.7h0m12.9 33.2h0m-13.3-18.5h0m29.6-7.9h0m-31.6-1h0m6.8 4.2h0m7.6-8.4h0m-20 25.7h0m11.7-18.5h0m10.3 11.6h0m-12.4-3.9h0m-1.4-17.6h0m10.3 6.5h0m-3.3 1.4h0m10.6 10.9h0m-33.6-3.9h0m22.2 1.5h0m5.9-1.3h0m4.4-5.8h0m4.3 23.5h0m-10.8-29.8h0m17.5-10.1h0m-13.6 20.9h0m2-4.3h0m-17 2.3h0m24.4 8.2h0m-8.2 13.5h0m-8.1-31.5h0m6.6 2.3h0m-6.4 20.1h0m-9.1 1.4h0m3.1-20.5h0m1.6 23.3h0m14.7-22.1h0m-1.8 12.5h0m8.2 11.6h0m-18.9-1.6h0m15-4.4h0m-24.7-20.2h0m10.9 13.6h0m-13.1 8.8h0m30.1-12.7h0m-6.4 13.6h0m-9-12.5h0m-20.2-13.4h0m17.1 18.1h0m7.3 0.8h0m6.9 3.4h0m-4.9 0.3h0m-11.3-3.8h0m-9.5-3.2h0m6.7 6.1h0m21.8-16.1h0m7.1 3.8h0m-27.5 11.8h0m16.3-12.6h0m-6.6 13.4h0m-6.5 5.7h0m16.5-23.2h0m-4.7 0.3h0m-14.7-2.7h0m5.5-8.8h0m2.2 14.3h0m7.7 18.1h0m-1.9-10.9h0m-12.4 12.8h0m-6.7-27.7h0m2.8 8.3h0m38.7 8.3h0m-17.8-4.7h0m-20.3 8.4h0m16-15.8h0m-22.7 13.7h0m1.8-5.9h0m3.5-4.6h0m14.8 13.9h0m3.7-6h0m-6.2-8.7h0m-1.1 24.3h0m0.3-22.9h0m-5.8 1.7h0m19.1 4.8h0m-11.6-3.1h0m-6.8 4.5h0m-0.7-0.5h0m-15.2-7.2h0m24.9 7.2h0m-11 0.2h0m2.5-7.3h0m2.6-6.3h0m-5.2 20.6h0m8.2-20.9h0m-15.2 15.6h0m-1.9-32.1h0m15.9 24.9h0m8 7.6h0m18.9-5.8h0m-41.4-2.5h0m-6.1 5.6h0m28.3-7.6h0m-8.2 3.1h0m-25.6 18.3h0m44.8-5.5h0m-20.8-22h0m-2.2 10.4h0m12.5 10.2h0m-3.6-5.6h0m-12.4 2.1h0m21.7-4h0m-21.8-16.1h0m15.2 5.8h0m-19.3-0.6h0m13.9 23.5h0m-2-13.9h0m-11.9 19.5h0m10.4-17.3h0m-1.6-9h0m10.3 19.5h0m-8.9-23.4h0m10.2 6.8h0m-5.2 5.4h0m11.4 0h0m-0.9-3.9h0m1.3 3.4h0m-26.3 1.3h0m16.3-18.4h0m19.3 17h0m-51.5 7.6h0m21-21.4h0m8.9 11.7h0m-9.7 3.7h0m4.2-16.3h0m-3.7 8.5h0m11.3 10.8h0m10.3-1.5h0m-30.7-5.8h0m15.6 12.5h0m2.9-10.5h0m1.9 4.9h0m-13.9 2h0m0.7-6.4h0m13.7 7h0m-11.9-5.6h0m18.7 2.9h0m-14.4-8.5h0m-3.4 3.9h0m2-17.4h0m-9 18.2h0m15.2 5.4h0m1.3-6.4h0m-5.2 17.7h0m-27.8-18h0m19.4-12.8h0m16.8 13.1h0m5.8 10.4h0m-21.5 4.9h0m7.6-23.7h0m-0.4 24.4h0m16.6-13h0m-10 2.7h0m-7.9 2.2h0m-15.2 7.4h0m39.9-4.9h0m-19.9-25.5h0m2 13.5h0m-16.4-2.5h0m-6.2 3.2h0m20.4 6.1h0m3.1 2.2h0m1 9.6h0m-8.4 0.2h0m-0.7-31.4h0m-1.2 18.8h0m3.7-14.2h0m3.7 3.3h0m-10.8 16.6h0m-8.2-11.1h0m16.5-14.1h0m-3.8 14h0m19.8 2.7h0m-35.2-3.6h0m6.5 9.2h0m16.7-4.6h0m-5.6 2.9h0m1.4-22.7h0m16 10.5h0m-17.1-3.9h0m-17.6 10.1h0m28.9 4.3h0m-2.3-4.5h0m-12.5-6.9h0m-20.1 6.2h0m31-2.4h0m-15.2-0.3h0m7.3-1h0m1.6 10.3h0m3.6-13h0m5.8 14.1h0m-11.3 1.9h0m-7.3 1.1h0m12.1-11.2h0m-2.9-2.3h0m-3.1 3h0m25-8.6h0m-32.2 15h0m18.8-2.5h0m5.5 14.4h0m-32.6-3.6h0m17.6-6h0m-1.1-2h0m-6.5-4h0m13.8-7.5h0m-14.8 8.8h0m3.6-15.6h0m-1.2 9.3h0m-1.3 9.2h0m9.1-29.3h0m-15.7 10.5h0m12 14.1h0m10.9 6.7h0m-16.1-6.2h0m6.1-0.6h0m-6.8-5.8h0m6.2 14.1h0m5.2-10h0m-13.7-2.3h0m0.1 6.4h0m15.3-0.8h0m0.1-14.4h0m-12 11.9h0m15.1 3.2h0m-24.9 1h0m18.3-0.3h0m-3.9-1.3h0m15.5-2.4h0m-2.2 0.4h0m-24.7 3.5h0m7.4-7.2h0m11.1 0.5h0m-18.7-0.2h0m-3.5 15h0m20.5-6.4h0m0.4 0.6h0m9.6-17.2h0m-19.6 2.3h0m23.5 15h0m-12.2-18.3h0m12.5 18.8h0m-21.4-9.3h0m-6.9-0.1h0m4.3 10.9h0m16.3-21.4h0m-0.6 12.2h0m-22-25.5h0m4.8 39.1h0m0.9-7.5h0m30.6-3.8h0m-26.9-8.8h0m18.4 9h0m-24 4.2h0m13-3.5h0m1.4 1.4h0m-6.2-4.6h0m15.2 18.7h0m0.1-39h0m-16.3 29.2h0m8.9-24.8h0m8.7-1.6h0m-12.5 20h0m10.9-13.2h0m-13.2 7.8h0m10.8 8.6h0m-8.5-4.8h0m-2.7-5.5h0m-19.7 14.5h0m3.9-11.5h0m12.1 7.2h0m-3.6-14h0m8.5 24.7h0m-6.9-7.9h0m12.9-19h0m-5.2 10.1h0m-12.5-6.4h0m16.8 5.7h0m6.5-5.7h0m-30.1 16.7h0m11.7-3.2h0m0.1-9.5h0m26.8-9.1h0m-20.1 1.8h0m-11.7 4.8h0m24.8 5.1h0m-28.5-6.4h0m38.4 0h0m-22.9 4.7h0m-12 7.1h0m4.4-10.8h0m9.2 15.2h0m-6.6-7.9h0m7-10.2h0m0.3 10.5h0m-0.3-4.6h0m-6 4.8h0m9.4-7.2h0m-21.1 6.3h0m28.5-17.8h0m-23.2 21.4h0m13.5-2.7h0m-10 1.5h0m6.1 8.9h0m-0.1-1.3h0m-4.9-12.1h0m0.1-2.1h0m20-15.6h0m-4.2 30.9h0m9.6-7.5h0m-18.7 1h0m-7-11.8h0m5.2-6.4h0m-3.3 11.5h0m-15.7-3.6h0m15 13.6h0m9.1-13.9h0m-13.7 5.8h0m-8.5 3.1h0m26.5-4.6h0m-13.9 9.8h0m14-0.9h0m-16.7-25.1h0m-6.2 15.5h0m4.5 7.1h0m-1.5-0.6h0m8.7 3.2h0m20.1-0.7h0m-29.8-16.2h0m16.4 4.5h0m8.8 8.9h0m-4.9-26.9h0m-15.9 21.2h0m5.3 7.1h0m17.5-5.4h0m-24.7-5.3h0m8.1 1.7h0m-1.7 13.7h0m2.2-9h0m8.6-0.9h0m-21.4 14.7h0m22.9-14.9h0m-3.6 3.8h0m-14.1-13.4h0m6.6-4.7h0m13.6 30.2h0m-6.6-15.3h0m-1-3h0m14.8 14.3h0m-11.7-18.5h0m-17.3 25.5h0m-1.5-23.8h0m5.8 6.9h0m16.5-1.6h0m-7.7-4.4h0m0.1 3.8h0m5.1-2.9h0m1.5-0.6h0m-22-8h0m8.1 22.7h0m1.9-8.2h0m-17.8-21.7h0m27.4 17.4h0m-10.2-4.1h0m-9.1 8.1h0m25.1-6h0m-20.7 1.6h0m11.4-2.3h0m9-10.4h0m-8.4 17.6h0m-18.9-2.1h0m18.1-3.1h0m-10.3 1.5h0m4.4 2.7h0m-14.2 6.4h0m26.4-7.7h0m-20.1 0.9h0m-13-3.7h0m26.5 9.8h0m-6.2-6.8h0m11.5-11.7h0m2.5 18.4h0m-10.7-10.2h0m0.1-6.5h0m-1.7 1.5h0m-7.4-5.7h0m6.4 12.7h0m-8.4-11.3h0m14.7 11.8h0m-10-4.6h0m2.1 0h0m9.4 2.1h0m-7-2.5h0m-5.3-11h0m17.6 12.7h0m-1.5 14.5h0m-17.4-7.5h0m2.3 1.8h0m-5.5-2.7h0m16 0.5h0m-0.7 15.3h0m1.1-23.7h0m7.3-1.5h0m-22.6-4.6h0m2.7 13.5h0m2.7-7.6h0m6.2-10.3h0m-15.8 26.8h0m33.4-4.1h0m-26.7-10.5h0m16.8 3.8h0m-13.6-1.6h0m-8.2-9.5h0m20.3 25.5h0m-15.4-21.5h0m24.4 14.1h0m-35.2-5.2h0m17.3-6.2h0m14.1 15.3h0m-2.2-13.3h0m4.5 10.9h0m-24.6-16h0m4.6-5.6h0m0 1.3h0m11.5 11.5h0m-0.2-0.6h0m-12.9-5h0m3.7 0.7h0m8.5 17.3h0m-21.6-3.5h0m5.5-23.9h0m19.4 22.6h0m-14.1-6.4h0m-4.4-11.3h0m11.5 25.6h0m-22.2-13h0m20.2-3.2h0m-0.6-3h0m-1.8-20.8h0m-3 20.6h0m2.7 4.8h0m6.2-6.6h0m5.1 2.9h0m-24.5-1.3h0m18.9-11.9h0m-11.8 12.2h0m25.6 1.2h0m-29 6.8h0m13.3-16.2h0m7 12h0m-8.9 8.2h0m-3.4-14.5h0m7.6 8.8h0m-7.1 0.7h0m18.9-4.4h0m-13.3 1.2h0m9.2 11.5h0m-2.7-6.7h0m-21.5 0h0m29.9-3.3h0m-9.3-5.3h0m-15.9 8.6h0m19.9 1.6h0m-13-9.7h0m0.1 7.6h0m10.3-9.3h0m-5.7-2.4h0m7.8 1.3h0m-13.4 17.7h0m7-19.1h0m6.3 0.3h0m0.3-4.7h0m-27.4 5.8h0m2.4 10.2h0m6.1-5.7h0m-1.3 9.6h0m1 7.1h0m41.1-12.8h0m-51.5 2.2h0m23.7-1.5h0m-20.2 1.9h0m19.9-25.5h0m3.7 25.7h0m0.7-21.4h0m-15.3 4.3h0m8 9.4h0m-3.3 1.3h0m-3.6 12.5h0m7.4-11.9h0m-2.5 14.1h0m-2.6-29.7h0m-7.5 28.4h0m11.4-9h0m3 2.7h0m-10.8 2.5h0m-4.7-5.5h0m13 0h0m5.3-3.3h0m8.1-4.8h0m-21.6 7.3h0m-4.4-9.3h0m11.8 5.1h0m7.4-9.5h0m-20.7 20.2h0m24.3-10.1h0m-37-13.5h0m31 10.9h0m-9.1-19.6h0m4.3 20.6h0m9.6 2.8h0m-6.8-5h0m-21.8 8.3h0m13.6-12h0m-3.3-3h0m6.4 6h0m-9.7 0.2h0m17.7 7.6h0m-18.5-23.3h0m3.1 16.9h0m14.4-2h0m-0.7 3.2h0m-3.5-10h0m-5.8 15.8h0m2.8 10.5h0m4.5 7.7h0m2.5-8.4h0m12.5-9.5h0m-8-8h0m-19.4-14.1h0m14.9 10.5h0m4.9 5.4h0m-7.2-12.6h0m-0.7 14.5h0m6.2-14.9h0m-12.2 22.7h0m-3.5-5.7h0m-9.5 1.5h0m35.2 1.2h0m-20.7 2.9h0m18.4-10.9h0m-2.7 3.3h0m-21 3.9h0m4-9.2h0m8.4 8.7h0m-5.9-4.6h0m-9.8 11.7h0m0.1-2h0m6.9 9.7h0m3.6-8.9h0m3.2-7.8h0m-12.5-8.9h0m-11.3-6.3h0m8.3-10.6h0m26.8 22.1h0m-14.6 0.5h0m5.5 7.8h0m-16.8-10.1h0m15.8 4.3h0m-17.5 6.3h0m17.3-1.9h0m5.4 0.7h0m13.1-16h0m-46.7 19.6h0m20.9-6.5h0m-3.1 5.1h0m12.5-16.4h0m-10.3 15.6h0m21.3-9.1h0m-21.8-2.9h0m8.6 2.9h0m-21-0.1h0m6.4-3.1h0m9.6 3.1h0m-0.3-7h0m2.4 9.2h0m-3.8 15.8h0m5.6-13.2h0m-10.7-5.8h0m24.1 11.7h0m-3.6 1.7h0m-7.5-2.3h0m-4.1 0.3h0m-1.4-17.8h0m0.8 9.4h0m0-10.9h0m-10.3 19.3h0m25.2-3.4h0m-19.6 3.3h0m21.3-13.7h0m-27.6 4h0m6.1-16h0m10.1 14.5h0m-11 7.3h0m13.8-3.6h0m-6 5.4h0m-3.8 13.1h0m-2-18.5h0m-19.3-10.3h0m35.8 8.2h0m-11.6 5h0m-6.9-10.4h0m9.5-0.3h0m-9.7-6h0m0.4 24.7h0m-7.2-6.2h0m4.8-4.9h0m9.3-1.8h0m-8.1 4.2h0m-4.9 4.3h0m26.6-4.5h0m-14.5-5.7h0m-4.4 4.9h0m-11 4.9h0m6 5.5h0m19.9-7.4h0m-6.5-8.5h0m-21.8 11h0m7.7-2.2h0m19.4 3.2h0m-6-8.1h0m-11.7 19.6h0m8.3-17.1h0m-4.7-9.7h0m4.4 5h0m-2.7 10h0m-3 0h0m13.7-7.8h0m-22.6 11.8h0m-2.7-13.7h0m13.1-2.8h0m-12 11.5h0m25.1-9.5h0m-11.3-1.7h0m4.8 10h0m-4.1 6.6h0m9.4-1.1h0m-5.5-10.7h0m6.8 9.2h0m-8.9-12h0m2.7 18h0m-5.4-10h0m10.2 4h0m-24.5 8h0m24.3-21.2h0m-7.8 12h0m20.9-5.8h0m-18.6 1.1h0m-14.7-12.1h0m19.8 12.6h0m-22.5 6h0m7.1-0.5h0m-6.2-9.2h0m13.9 7.4h0m29.7-4.2h0m-25.2-2.9h0m-3.7 7.6h0m-8.3-11.5h0m3.3 16.6h0m6.3-16.1h0m3.5 4.1h0m-4.1-1.1h0m-12.6-9h0m19.8-1.5h0m-17.3-0.6h0m-14.1 18.1h0m10.1-15.1h0m10.6 15.2h0m13.1-19.6h0m-40.7 14.1h0m30.7-4.7h0m-17.3 15.8h0m17.8-5.3h0m-2.3-12.1h0m-7.1 2.7h0m7.2 6.9h0m-11.3 7.4h0m-3.1-4.9h0m13.2-16h0m-9.9 13.4h0m31.5-15.3h0m-28.5 2.6h0m8.6 15.4h0m2.6 0.8h0m-10.1-3.2h0m2.6-2.7h0m0.9 11h0m17.1-0.8h0m-7.5-12.4h0m-17.2 5.8h0m-7.4-4.4h0m12.4 3.6h0m6.1-4.5h0m8.4 8.3h0m-8.5-13.3h0m-16.1 14.1h0m7-16.3h0m15.5 21.3h0m-14.2-12.8h0m-3.9-0.1h0m12.7-9.2h0m-12.4-0.2h0m31.3 15.7h0m-4 5.7h0m-24.6-18h0m-4.7 7.3h0m21.3 8.4h0m8.3-11.8h0m-26.6 0.4h0m-3.2 1.3h0m10.7 7.5h0m4 0.2h0m-6.8-13.5h0m4.2 13.8h0m-4.8 8.4h0m-6.1-14.5h0m-4.8 1.3h0m20.9 2.9h0m-6.7-10.8h0m-2.9 13h0m3.2-1h0m3.5-10.3h0m-2.6-1.7h0m-8.8-6.9h0m21.2 1.3h0m-18.9 8.6h0m11.3-17.3h0m-13.3 5.8h0m10.3 2.6h0m1.6 23.9h0m-25.5-18.8h0m15.7 6.6h0m1.2-0.3h0m-6.5 1.4h0m16.1 3.5h0m-8.2-6.2h0m16.1 5.2h0m-29.9 2.2h0m40-18.4h0m-17.8 18.5h0m-20.8-15.4h0m14.6-0.7h0m2.4 0.9h0m2 0.4h0m4.3 3.6h0m-1.7 0.4h0m4.5 9.6h0m-4.2 1.8h0m-4.3-18.3h0m-0.3 22.8h0m5-10.9h0m-9.6-3.8h0m-2.7 5.2h0m7.3-5.2h0m9.4-2.8h0m-8-0.9h0m10 24.3h0m-3.4-7.9h0m-14.2-22.9h0m23.7-1h0m3.1-13.3h0m-3.1 14.9h0m-14.2 13.4h0m-5.7 2.3h0m5.1-23.6h0m6.9 16.5h0m-17.5 5.1h0m3.4 4.2h0m-15.1 0.2h0m13.3-9h0m1.7-13.3h0m17.1 21.1h0m-3.9 0.3h0m-17.7-1.7h0m15.1-4.6h0m1.1 2.6h0m-13.5-7.6h0m2.2 8.7h0m6.7-7.2h0m-7.7 15.8h0m10.6-5.9h0m8.4-17h0m-17.3 3.8h0m-2.7 13.2h0m9-11.9h0m-3.3 6.1h0m-20-0.8h0m-2.6 7.5h0m17.7-12.4h0m-2-6.1h0m0 4.6h0m10.1 6.4h0m-8.8 5.9h0m15.6-17.7h0m-16.9 6.4h0m5.5-0.8h0m9.3-10.8h0m-9.5 16.6h0m5-3.4h0m-21.6 1.3h0m25.8 12h0m-8 2.1h0m8.1-10h0m4.1-5.1h0m6.1 1.4h0m-25.5-9.4h0m-0.4-1.7h0m-0.3 18.4h0m7.1 2.1h0m-3.9-3.5h0m7.3-4.8h0m8.5 4h0m-10-14.6h0m5.5 17.7h0m4-9.3h0m-17.7-8.9h0m4.2 13.7h0m9.9-8.5h0m-15.7 11.2h0m8.2-2.2h0m-1 0.9h0m-12.3 1.5h0m18.5-11.8h0m5.3 10h0m-42.1-10h0m39.7 0.5h0m-22.7 15.2h0m26.1-17.6h0m-5.6 5.3h0m10.6-4h0m-31.5 9.6h0m20.3-7.9h0m-19.7-7.4h0m23.7 25.8h0m-14.8-6.5h0m3.8-6.1h0m-6.5-16.2h0m1.7 14.8h0m7.8 3.9h0m13.8-6.3h0m8.4 7.1h0m-24.8 1h0m-7.2-22.2h0m5.7 22.3h0m-1.9-8.4h0m1.8 5.9h0m17.3 6.2h0m-10.3-4.7h0m4.5 9.4h0m-5.8-19.9h0m1.1 26.2h0m9.5-23.4h0m-19.1 3.9h0m22.5 13.3h0m-13.6-21.5h0m-8.4 11.7h0m5.7 7.3h0m10.8-3.1h0m-11.8-4.6h0m7.4-7.4h0m-4.5 17h0m4.5-13h0m5.7 3.9h0m-9.2-0.2h0m1.5-7.3h0m5.4 13.9h0m-10.8 0.7h0m-3.1-6.1h0m-5.8-5.1h0m5.4-5.2h0m-7 0.3h0m4.2 17.7h0m14-10.1h0m-9.8-5h0m8.1 3.4h0m-1.6-2.2h0m-4 4.5h0m-9.9-1.4h0m-7.5-16.1h0m31.3 3.4h0m-14.2 14.6h0m4.9 5.2h0m-9.4-22.1h0m-14.8 20.1h0m29.5-3.5h0m2.4 0.6h0m-3.2-8.3h0m-25.6 4.9h0m18.2 6.2h0m15.5-1.4h0m-22.2-0.5h0m5.8-14.3h0m-0.3 16.3h0m13 5.4h0m-11.5-16.1h0m-8.4 10.9h0m-21.9-24.7h0m30.7 11h0m-2.9 9.2h0m-0.1-4h0m-7.8 14.8h0m-6.1-27.9h0m22.5-3.5h0m-12.5 2.2h0m-10.8 22.4h0m15.5 4.5h0m-13.6-12.6h0m15.2 18.4h0m11.4-21.7h0m-13.9 8.3h0m-11.8-6.9h0m10.1 6.8h0m-0.3-14.4h0m-8.7 18.3h0m17 8.7h0m-20.5-12.5h0m25.3-18.2h0m0.1 17.6h0m-9.8 0.1h0m4.2-9.9h0m-9.5 1.2h0m-1.3-4.5h0m-4.4-5.2h0m-1.6 23.7h0m2.4-19h0m27.4 15.9h0m-16.5-3.9h0m-15.5 8.1h0m17.8-15.4h0m-11.8-4.3h0m3.1 24.9h0m11.2-16.9h0m10.3 15h0m-23.9-2.2h0m-1.3-14.4h0m2.2-0.4h0m12.6 5.2h0m4.4 4.8h0m-5.7 2.6h0m-20.2-0.2h0m27.7-6h0m-4.3 12.4h0m-21.8-11h0m-5.2 16.3h0m27.5-16.1h0m-26-7.6h0m12.5 13.2h0m19.4-6.2h0m-19.5-18.4h0m7.7 12.3h0m-2 8h0m-10.3 11.7h0m20.1-3.8h0m-12-25.7h0m5.5 15.5h0m5.2-5.1h0m0.3-15.1h0m12.6 18.1h0m-27.3-10.2h0m-2.4 19.7h0m1-8.8h0m8 13.6h0m19.6-12.4h0m-11.9 6h0m-12-8.7h0m23.9 22h0m-23.8-23.4h0m12.2 2.3h0m-1.1-9.2h0m4.1 19.7h0m-8.8-20.1h0m-16.3 16.7h0m15.3-2.3h0m-0.6 7.2h0m-5.9-11.1h0m8.4-0.6h0m-6.3-6.4h0m10.3 6.8h0m-3.5 5.3h0m-2.7-1.2h0m-29.8-8.6h0m36.7 8.7h0m-13.2 0.3h0m5.8-1.7h0m-2.2-17.1h0m15.2 23.7h0m-10.5-12.4h0m-14 11.1h0m12.4-29.6h0m-13.5 27.5h0m21.5-7.8h0m-24.5 15h0m20.6-10.2h0m5.3 4.1h0m10.8-9h0m-22.3 15.4h0m7.6-11.7h0m-7.8-5.3h0m-4.5 4.2h0m49.2 4.5h0m-44.4-17h0m-8.3 5.8h0m4.1 13h0m21 4.9h0m-12.6-4.5h0m-2.9-15.3h0m-14.2 4.7h0m-6.9-3.1h0m15.1 10.7h0m10.7-6.2h0m14-12.8h0m-20.7 10.1h0m-25.8-5.4h0m29.1 10.8h0m14-2.2h0m-16.4 2h0m7.7 3.9h0m4.7-27.3h0m-20.5 19.1h0m19.2 4.7h0m-23.3 0.3h0m8.4 16.4h0m13.1-14.1h0m-13.6 9.8h0m3.8-9.9h0m-7 2.5h0m5.7-12h0m14.4 7.1h0m-19.8-11.4h0m-19 10.2h0m39.5 0.5h0m-31.2-13.4h0m4.8-8.2h0m9.1 33.3h0m-8 1.4h0m11.2-24.8h0m6.6 20.1h0m-16.8-15.2h0m25.9 8h0m2.9-14.2h0m-33.9 20.2h0m30.4-19.5h0m-16.3 5.8h0m5.7 6.4h0m-7.6 9.2h0m16.8-19.5h0m-17.6 15.3h0m4.9 2.7h0m7.3-25.4h0m-15.8 14.4h0m10.7 11.9h0m-14.5-20.2h0m19.2 6.4h0m-10-1.7h0m0-4h0m5 18.5h0m-1.7 4.4h0m34-7.5h0m-37.2-2.6h0m-7.4 2.7h0m11-15.6h0m-17.1 11.2h0m13.7 14.3h0m10.7-24.4h0m-11.6 8.4h0m2.7-8.2h0m23 17.4h0m-30.2-17.5h0m5.2 7.6h0m-16.1 19.7h0m16.2-19.3h0m-13.3-2.1h0m8.8-3.8h0m-7 11.5h0m5.6 13.5h0m0.1-23.7h0m-2.5 5.8h0m8.5 3.8h0m7.1-2.7h0m-6.1-2.9h0m9 17.3h0m-8.5-17.2h0m-22.4-6.4h0m38.6 5.7h0m-25.1 10.9h0m22.8-11.7h0m-14.8-7.7h0m-3.9 0.3h0m1.1 17.5h0m21.8 5.2h0m-28.7-14h0m30.7-4.8h0m-31.9 4.9h0m22 7.2h0m-13.2 1.2h0m9.5-9.2h0m-17.1 12.8h0m22.9-17.7h0m2.5 4.4h0m0.3 16.7h0m1-16.3h0m-10.9 0.6h0m20.1 4.6h0m-13.9-4.2h0m0.8-2.2h0m-39.1 4.3h0m21.7-3.9h0m1.8 0.1h0m-10.8 16.3h0m10.8-14.5h0m0.3 11.8h0m16.2-0.6h0m-1.9-23h0m2.5 7.2h0m-5.7 6.9h0m2.1 0.6h0m-0.4 1.4h0m-8.6-2.5h0m-11.2-6.3h0m7.5 26.7h0m15.5-27.5h0m-9.4 10h0m3.7-10.6h0m-2.7 7h0m-8.6-17.2h0m15.8 26.9h0m-12.6-12.3h0m17.7 23.6h0m-3-20.3h0m3.1 5.1h0m-22.2-11.6h0m16.6-1.2h0m-8.4 4.4h0m6.2 0.4h0m3.2 7.8h0m-7.4-1.4h0m0.9-11.6h0m-12.7 29.6h0m13.6-21.8h0m14.5-1.2h0m-31.3-18.2h0m29.1 24.9h0m-18.4 9h0m24.3-24.1h0m-22.6 18.6h0m1.2-10.3h0m-7.8 5.9h0m15.7-14.5h0m11 7.7h0m-18.3 3.4h0m-15 1.4h0m21.8-3.1h0m-8.3-0.3h0m-9.8 2h0m6.5 1.2h0m8.3-4.5h0m3.8 5.3h0m-26.6 13.8h0m-9.4-22.9h0m13.6 11.5h0m4.7-5.8h0m-26.3-7.6h0m36.1 0.5h0m19.6 7.8h0m-29.2 7.4h0m10.6-4.2h0m-11.1 9.3h0m11.1-11.2h0m3.3-3.3h0m-2.4-15.3h0m-1.2 32.2h0m7.2-3h0m-9.4-1h0m-9.8-13.7h0m0.6-9.1h0m14.3 22.1h0m-16.4-13.6h0m14.7 3.1h0m-17.2-8.4h0m-3.6 2.9h0m18.6-3.2h0m-7.4 2.6h0m3.2 0.9h0m-16.8 1.4h0m19.6-7.8h0m1.6 8.7h0m-8.3 13.6h0m3.6-9.6h0m-18.9 9.7h0m15.5-4.1h0m16.4-8.2h0m-20.6 22.6h0m2.2-17.8h0m20.6-1.6h0m-13.7-15h0m-11.9-1.2h0m14.8 26.1h0m-0.7 0h0m4.8-7.4h0m-15-6.1h0m22.7-11.3h0m-28.8 3.8h0m16.7 5.7h0m17.3-0.7h0m-18.4-3.7h0m-2.9 16h0m-8.8-5.4h0m-8.1-0.4h0m16.6 4.6h0m3.6-22.4h0m0.5 18.8h0m11.4-7.4h0m-15.6-2.6h0m-4.9 3.5h0m9.1 5.2h0m-4.6-6.1h0m-2.2 11.1h0m-5.3-4.4h0m26.5-3.5h0m-16.7 3h0m11-7.6h0m-14.1 1.1h0m-7.2 18.6h0m1.4-15.5h0m17.9 15.6h0m-11.8-20.1h0m-5.5-3.3h0m18.9 20.2h0m-16.9-17.9h0m6.3 1.5h0m21.5-14.5h0m-27.1 19.6h0m2-8.3h0m17.5 15h0m-19.8-3.7h0m14.2-11.2h0m-11 9.5h0m5.9 6.5h0m0.1-14.7h0m7.7 8.8h0m-14-5.5h0m9.8 16.1h0m9.6-24.1h0m-9.8 18.3h0m-5-16.9h0m0-0.9h0m-0.4 8.1h0m2.7-15.6h0m15.1 2.5h0m-22.7 23.7h0m16.9-4.6h0m4.1-17.5h0m6.2 2.1h0m-30.8 12.2h0m0.7 14.4h0m3.7-13.9h0m12.4-5.7h0m7.1 9h0m-20.6 7.4h0m5.7 7.8h0m-9.2-18.9h0m8.5-0.2h0m4.5 7.7h0m3.5-20.4h0m-17.1 27.6h0m-2.3-9.5h0m23.3-5.1h0m-11.6-5.3h0m7.5-3.6h0m-4.1 13.2h0m-16.1-4.6h0m29.2 16.5h0m-31.3-28.1h0m16.5 9.7h0m-6.1-3.7h0m9.1-13.9h0m-0.5 24h0m1.9-11.2h0m-12.3 4.8h0m9 0.8h0m-15.5-2.8h0m0.9 3.1h0m28-1.2h0m-23.5 0.7h0m23.1 9.1h0m-11.5-18.3h0m-6.9 2.6h0m8.9 0h0m11 21.7h0m-20.6-10.1h0m3 18.3h0m0.6-19.9h0m1.3-2.9h0m-2.2 13.4h0m-7.4-8h0m10.4 3h0m-11-4.7h0m11.1-9.1h0m7.2 10.9h0m1.5-13.4h0m-18 7.3h0m18.7 14.2h0m6.8-6h0m-20.5-12.3h0m6.4 5.3h0m-4.1 10h0m2.8 1.1h0m-5.2-5.6h0m0.1-24.8h0m-7.3 17.5h0m17.3-0.9h0m-12.9-1.7h0m13.2-4.4h0m-3.3 22.5h0m-16.3-9h0m3.9 3h0m7.5-4.6h0m-16.6 7.4h0m23.4-21.8h0m-15.6 30.2h0m19.6-34.3h0m-14.5 11.2h0m14.1 3.7h0m-8.7 8h0m-2.9 0.2h0m3.6-21.4h0m-7.9 11.4h0m-4.5-4.8h0m0.1 4.3h0m-6.7-2.6h0m12.5 9.4h0m-5.9 2.3h0m6.2-8.1h0m24.3-4.4h0m-16.2 2.9h0m-12.8-3.7h0m-12.2-2.9h0m16.8 8.3h0m-12 5.9h0m1.5-10h0m-1.4 6.9h0m15.9-0.7h0m7.2 5.9h0m5.4-20.6h0m-23.5 8.6h0m3 0.4h0m-9.4 4.6h0m20.5 7.4h0m-16.1-11.4h0m18.5 16.8h0m-26.7-4.3h0m-2 7.3h0m22.8-4.6h0m9-5.9h0m-20.4-5.8h0m-8.2 20.1h0m24.6-26.6h0m-0.4 14.5h0m-18.6 2.7h0m8.9 5.3h0m8.4-18.8h0m-2.1 15.8h0m-9.6-8.1h0m7.5 14.8h0m13-21.1h0m-18.6-0.2h0m12.6 5.8h0m5.9-1.8h0m-3.3 6.6h0m-6.1 1.1h0m11.2-3.2h0m-16.5-10.5h0m-14.2-2.6h0m21.4 20.3h0m9.1-16.9h0m-9.7 7.7h0m15.2-4.2h0m-8.3 8h0m-29.1-13.4h0m25.6 8.7h0m-12.3 11.2h0m0.6-22.1h0m6.4 6.8h0m6.9-2.3h0m-16.1-2.7h0m4.2 4.6h0m-0.9 3.7h0m4.1 3.3h0m-14.2-0.9h0m3.3 6.3h0m11-23.4h0m6.3 34.6h0m-4.3-28.6h0m7 7.3h0m3.7-1h0m-10.5 18.2h0m-6.3-25.7h0m15.9 14h0m-14.8 5.8h0m-10.9-11.6h0m2.3 7.3h0m14.2-21.3h0m8 20.2h0m2 2.2h0m-14.6-4.6h0m-21.1 14.2h0m30.1-25.5h0m5 14.5h0m-8.2-4.3h0m-2.9-15.4h0m-2 8.5h0m4.3-10h0m-16.4 28.2h0m21.4-4.5h0m-0.8-18h0m-25.5 6.5h0m10.4 5.2h0m-1.8-5.6h0m13.6 4h0m-11.4-1.4h0m9-8.1h0m1.4 9.8h0m3.7-6.6h0m-22.3 2.1h0m-7.5 8.7h0m32.4-28.8h0m-1.7 23.8h0m-9 3h0m-4.7-14.4h0m0.2 26.1h0m8.1-11.1h0m6-1h0m-22-1.9h0m28.7 7.5h0m-16-24.6h0m4.6-7.2h0m-6.4 16.7h0m4.9-1.4h0m10 9.6h0m1.7-6.9h0m-13.3 5.5h0m10.4-2.7h0m7.9 2.8h0m-4 3.1h0m-10.6-12.2h0m-9.6-1.5h0m-11.4 30.7h0m-15.4-7.2h0m34.7-21.4h0m4.1 10.6h0m-29.1 0.8h0m15.4-19.5h0m18.3 12.9h0m-13-6.9h0m-2.6 11.3h0m-11.1 11.3h0m13.4-22.5h0m10.8-4.3h0m-28.7 26.6h0m22.1-11.6h0m10.6-3.7h0m-18.7-8.1h0m-9 5.2h0m4.7 19.4h0m30.2-16.4h0m-28.3 4.6h0m4.8 4h0m-1.2-17.7h0m29.8 13.1h0m-21.4 13.4h0m5.3-23.1h0m-7.7 17h0m-13.9-1.4h0m1.8-18.5h0m-3 14.1h0m28-6.9h0m-6.5-0.1h0m-18.3 0.8h0m20.3 2.5h0m-15.4-6.1h0m2.2 16.4h0m0.1-20.6h0m5.1 8.4h0m16.3 3.3h0m-6.3 5.6h0m-16.6-8.8h0m4.3 2.2h0m-8 5.1h0m4.5-4.1h0m13.6 6.6h0m-7.1 3.5h0m2.5-9.2h0m1.5-7.7h0m10.1-13.3h0m-22.8 6.4h0m-8.6 15.6h0m16.5-5.3h0m-8.6 7.7h0m4.3-3.9h0m7.4-8.8h0m-7.4 14.2h0m3.3-0.4h0m-8.4-5.7h0m0.6-4.6h0m-4.4-1.1h0m36.1 3.7h0m-14.9 6.3h0m3.3-3.1h0m-17.8-7.6h0m2.7 10.3h0m8.4-1.1h0m-21.1-6.9h0m5.3-12.5h0m23 18.2h0m9.3-8.1h0m-1.4 14h0m5.7 7.5h0m-32.2-11.2h0m6.1 0.5h0m-7.7-7.1h0m6.7 8.7h0m0.9-6.9h0m19.5-9.9h0m-26.5 17.9h0m9.2-15.7h0m9.1-0.6h0m-7.6-0.6h0m3.4 14.5h0m1.4 4.8h0m-3.2-6h0m-1.6-16.9h0m-12.6 7h0m13.5-5.3h0m-30.8 20.1h0m15.4-3.1h0m-4.7-6.9h0m12.5 18.6h0m14-23.1h0m-17.1-1.8h0m-2.9 7.5h0m14.1-4.6h0m-13.7 14.2h0m-2.1-14.4h0m-2.7 9h0m8.9 1.1h0m0.6 13.3h0m-0.9-7.9h0m-1.1-20.6h0m-3.8 4.9h0m24.1 11.1h0m-8.9-12.1h0m11-5h0m-5.5 8.4h0m-1.7-3.9h0m-17.6 11.7h0m13.5-10.2h0m-2.8-3.1h0m-6.1-12.7h0m10.1 23.4h0m4.2-13.4h0m4 21.7h0m-12.4-9.1h0m14.6 3.8h0m-26.5-5h0m0.8-15.1h0m11 10.5h0m-7.2 0.5h0m13.3 5.5h0m-20.2-10.5h0m14.3 1.6h0m0.7 10.3h0m-14 9.4h0m0-6.2h0m-2 4.9h0m6.8-1.4h0m-3.7-9.7h0m-9.9-3.2h0m13.2 9.7h0m14-6.6h0m-7 9.1h0m8.3-12.7h0m-0.6 8.6h0m-4.7-4.6h0m-19-0.5h0m20.4-0.5h0m-13.4-16h0m18.7 28.1h0m-16.6-4.9h0m-11.6-5.9h0m-1.5 7.3h0m20.3-5.8h0m-1.9 5.5h0m16.2-17h0m-29.5 2.7h0m11.1 21.4h0m14.2-13.3h0m-2.9-11.2h0m-8.6 12h0m-10.4-14.4h0m0 6h0m4 5.8h0m32 6.2h0m-48.8-6.4h0m28.1 1.9h0m-9.4 4.8h0m-2.3 2.6h0m15.3-35.5h0m-0.4 29.6h0m-16.9-11h0m-21.8 9.1h0m35.1 1.3h0m-5-3.7h0m2.5 9.8h0m-22.5-9.5h0m17-2.8h0m12.9 1.8h0m-9.4 1.4h0m-4.9-8.2h0m14.4 6.2h0m-7.3-0.8h0m-8.6 3.4h0m-6.6 1.6h0m20.5-18.1h0m-21.2 10.3h0m6.2 10h0m-12.5 5.7h0m6.8-17.8h0m4.4 9.1h0m11.3-0.8h0m-6.4 3.7h0m-7.3-4h0m11.7 6.4h0m7.3 2.8h0m-13.7-15.2h0m9.1 7.8h0m1.1 7.4h0m3.4 0h0m-11.5-14.3h0m-1.2 14.3h0m0.7-21.3h0m1.3 6.7h0m11.2-6.7h0m2.2 9.2h0m-20 5.3h0m-7.9 13.7h0m16.3-18.5h0m10.5 14.4h0m-13.8-4.5h0m-9.9-17.3h0m11 8.2h0m21.4-10.2h0m-1.4 11.9h0m-21.1-12.9h0m3.8 23.8h0m0.1-6.6h0m0.5 1.7h0m-3.1 4h0m20.8-8.9h0m-21.9 6.6h0m9.1-9.4h0m-6.6 11.8h0m9.4-24.8h0m12.2 29.3h0m-30.8-9.7h0m-8.6-4.5h0m19.6-6.4h0m10.7 10.7h0m-6.3-4.7h0m-0.7 5.8h0m-8.8 1.2h0m25-2.1h0m-9.8-8.3h0m-27.4 10.7h0m6.3 1.1h0m-19.3-4.7h0m17.2-6.3h0m15.4-7.4h0m1.1 2.3h0m-25.2 14.7h0m34.6 4.4h0m-27.6-9h0m15.1 4.7h0m0.3-17.1h0m-6.6 24.2h0m0.5-5h0m-7.4-23.9h0m7.5 14.5h0m-4 8.3h0m16.9-24.9h0m-7.6 18.9h0m6.2 7.5h0m2.4 9.3h0m-14.3-17.8h0m0.2 19.2h0m22-24.6h0m-19.6 3.3h0m-5.6 4.6h0m13.6-13.7h0m-7.9 12.1h0m13.8-5.2h0m-24.1 1.4h0m2.1-2.9h0m20.9 14.4h0m-2.5-11.5h0m-2.4 1.8h0m29.4 0.4h0m-46.1 5.4h0m7.8 7.9h0m-6.2-13h0m22.8-8.5h0m-18.9 6.9h0m-2.8-1h0m12.8 10.6h0m-4-10.1h0m6.6 4.5h0m-24.3-9.2h0m7.9 7.1h0m15.8 2.1h0m-5.1-8.5h0m8.2 8.1h0m0.9-2.6h0m-22.5-12h0m26.5-3.2h0m-23.8 10.3h0m1.7 16.8h0m29.2-8.8h0m-44.4-6.4h0m25.1 7.7h0m-18.6 0.8h0m13.1-14.4h0m-9.5 27.4h0m26.2-18.5h0m-13 6.7h0m1.1-11h0m-8.7 2.5h0m4.7-12.5h0m7 24.2h0m7.1-4.9h0m-11.5-7.3h0m6.4 18.5h0m-4.6-25.8h0m-4.4-4.4h0m-5.9 12.3h0m25.4 8.3h0m-29.5-7.9h0m12.3 3.2h0m2.9-13.6h0m-4.4 5.7h0m11.8 13.1h0m-14.9-5.5h0m9.2-22.2h0m-5.2 13.3h0m-10.2 16.6h0m13.9-4.6h0m-8.1-3.2h0m-11.3 1h0m22.5-3.5h0m11.9-1.7h0m-22.3-4.5h0m15.9 11.2h0m-19.3 9.6h0m8.2-22h0m10.7 11h0m-23.7 8.3h0m14.1-14.7h0m-7.4-5.5h0m17 9.3h0m-19.7-4.3h0m3.2 7.4h0m12.1 3.7h0m-36.7 0.4h0m20.2 4.2h0m23.4-12.7h0m-22.8 17h0m7.3-18.2h0m2.5 3.9h0m-14.3-9.2h0m12-3.6h0m3.8 18.3h0m-1.6-2.2h0m-2.1 1.7h0m19.2-3.9h0m-19.6 1.8h0m-9.6 6.1h0m12.6-7.1h0m-1.6-4.1h0m5.7-4.9h0m13.4 6h0m-17.4 1.9h0m24 18h0m-27.7-19.6h0m12.4-9.2h0m-17.9 13.7h0m-0.4 9.3h0m-6.6-17.5h0m27.4 7.4h0m-5 6.8h0m-21.6-8.5h0m2.2-1.9h0m-2.9 4.8h0m18.3-1.3h0m-6-1.4h0m11.5 3.7h0m-4.1-8.6h0m-12-0.7h0m25.9-7.1h0m-21 17.4h0m-12.3 6.6h0m24-10.9h0m-2.8 1.9h0m-15.1-7h0m14.9-8.8h0m16 9.3h0m-6.7-12.4h0m-17.6 19.5h0m3.8 5.2h0m-1-29.9h0m-6.4 26h0m1.1 0.1h0m10.8 4.8h0m-1.3-3.9h0m-20.5-9.4h0m11.1 6.2h0m6.4 6.3h0m11.1-12.2h0m-4.4-0.8h0m-12.8 3.1h0m0.3 8.1h0m4.9-17.9h0m10.6 10.7h0m-6.4-3h0m-4.6-5.3h0m-21.7 9.4h0m18.3 6.8h0m2.3-6.3h0m-6.7 7.7h0m1.9 3.5h0m9.5-17.4h0m-2.3-1.9h0m3.8 6.3h0m-7-8.6h0m3 1.2h0m2 15.4h0m-5.1-15.6h0m1.4 6.6h0m-5.9-9.3h0m12.9 11.1h0m-1.8-12.5h0m-6.8 6.9h0m5.6 16.3h0m-11.2-4.8h0m5.2 14h0m6.3-8.3h0m-4.4-23.4h0m-17.1 9.5h0m6.2-4.4h0m20.1 2.6h0m-0.8-2.2h0m-17.1 12.2h0m19.1-1.3h0m-11.6-4.3h0m9.7 7.2h0m-8-33.2h0m28.6 30.1h0m-42.2-13.7h0m31.6-8.6h0m-10.6 21.2h0m-14.5 4.3h0m10.4-8.5h0m-7 9.2h0m8.3-18.5h0m-8.8 17.3h0m24.7-9.7h0m-16.9-10h0m4.7 7.1h0m-23.9 15.4h0m1.7-3.3h0m25.6-14.1h0m1 3.6h0m-19.2 20.7h0m19.3-5.3h0m0.9-14.5h0m-24.9-16.1h0m9.9 9h0m15.8 3.9h0m-21.4 3.5h0m-1.1-3.2h0m1 4.9h0m8 2h0m-9.5 0.7h0m7.4-16.6h0m-11.4-1.7h0m4.3 25.1h0m14.7-11.9h0m-4 6.7h0m3.3-12.1h0m-3.4 12.2h0m-6.6-3.3h0m5.7-6.2h0m-6.6 5.9h0m-5.5 9h0m12-7.4h0m1.9-3.1h0m11.1 3.3h0m-29.6-8.9h0m33.4-7h0m-10.6 16.9h0m-14.3-6.9h0m6.4-17.3h0m1 19.5h0m-18.2-0.2h0m28.6-12.5h0m-22.7 29h0m6.5-7.5h0m-1.1 6.6h0m1.2-33.7h0m13.9 20.7h0m-0.2 2h0m-6.7-7.8h0m-14.1-7h0m28.4 4.2h0m-25.1-1.6h0m-1.4 1.1h0m0.7 1.1h0m23.7 9.8h0m-3 9.2h0m-16-13.2h0m-4.8 15.9h0m15.4-7.7h0m-8.8-5.9h0m5 3.4h0m-19.6 4.3h0m29.8-3.9h0m-27.1-7.4h0m19 3.4h0m-13.2 6.6h0m6.3-17.3h0m9.9 23.3h0m7.1-11.4h0m-14.1-3.9h0m-11.4-0.5h0m23.3 2.2h0m-22-1.5h0m14.3 5.7h0m5.7-1.4h0m-3.4-1.1h0m-1.6 1.1h0m-19.7 5.2h0m27.1-6.1h0m-27.4-2h0m20.4-5.9h0m-20.2-19.3h0m24.4 18.3h0m8.4 1.5h0m-20.3 3.6h0m0.9-2.2h0m12.5 3.4h0m-6.1 3.9h0m10.5-9.9h0m-34.1 16.1h0m35.9-17h0m-39.7 0.1h0m20.3 6.5h0m2.5 5.3h0m11.3 12.2h0m5.2-29.2h0m-4 22.4h0m-12.4-11.9h0m-14.8-1.2h0m11.4 4h0m1.9-8h0m-4.6 14.6h0m17.1-28.7h0m-15.1 23.4h0m-6.1-13.8h0m15.2 1.7h0m2.7 12.8h0m-13.9-5.6h0m-7.7 1.1h0m14.6 1.1h0m10.9-4.2h0m-27.9 5.9h0m28.3-8.7h0m13.8 2.3h0m-17.6-16.6h0m-15.7 30.9h0m17.6-1.7h0m-22.4-12.1h0m18.2 5.6h0m-4.4-8.4h0m-1.6 5.2h0m12.8-3.5h0m-35.4 12.9h0m31.5-31.8h0m0.5 33.2h0m-13-15.1h0m16.7 3.7h0m-14 13.6h0m-2.2 2h0m0.4-31.7h0m-13.9 20h0m24.7 6.7h0m-14-8.5h0m-0.6-3h0m-10.8 14.2h0m13.2-13.6h0m-0.1-2h0m6.8 3.4h0m-8.2 3.8h0m17.2-19.5h0m-0.7 17.7h0m-17.4-10.1h0m-0.6 12.4h0m0.4-6.9h0m9.1 9.2h0m-9.8-5.7h0m11 4.9h0m-10.1 2.4h0m30.4-2.3h0m-4.3-9.4h0m-8.9 11h0m-4.6-5.2h0m-12.6 0.4h0m-10.2 1.7h0m34.3 6.1h0m-8.1-6.9h0m-26.5-8.9h0m15.5 9.8h0m21.8 0h0m-31 12.6h0m20.4-13.3h0m-14.3 1.8h0m15.5-7.4h0m-16.6 2.1h0m1.1-1h0m8.5-4.8h0m13.8 3h0m-22.9-0.5h0m10.9 13.4h0m-16.6-14.8h0m22.9 4h0m-12.4-3.1h0m9.9 14.1h0m5.4-6.6h0m-27.4 3.7h0m12.9 0.4h0m-21.4 4h0m13.9-14.3h0m24.7 7.8h0m-18.6-20.8h0m-6.8 14.7h0m22.2-0.4h0m-16.9 0.8h0m-0.6-4.7h0m-13.7 5.3h0m31.1-8.4h0m-25.3 4.8h0m2.3 9.6h0m12.5 1.3h0m-12.8-13.4h0m8.4-2.2h0m14.5 13.3h0m-16.5-5.8h0m-6.2 1.3h0m-12.5-4.6h0m40.5-3.5h0m-19.9 4.4h0m14.9 4.5h0m-12.8 3.1h0m-6.1-7.5h0m-1.6 2.8h0m-7.9 5.1h0m18.7-11.6h0m1.3 17.9h0m-18.3-13.2h0m6.1 13.4h0m11.2-6.6h0m-10.3 2.4h0m-4 1.1h0m24.3-25.9h0m-7.3 25.5h0m-28.1-27.5h0m39.8 18.2h0m-17.9 11.8h0m-4.1-17.4h0m-2.2 14.7h0m-5.5-9.7h0m8.3 8.8h0m3-11.4h0m10.5 10.3h0m-27.7 5h0m14.4-21.7h0m-3.4-1h0m7 11.1h0m6.1 8.3h0m-18.3-17.5h0m9.4 26.8h0m5.5-25.7h0m-9.4 24.1h0m6.2-13.2h0m-9.6 10h0m9.7-16.6h0m8.2 9.4h0m1.3-2.1h0m-3.3 5h0m-9.2-7h0m23.6 0.7h0m-30.2 11.5h0m9.1-17.4h0m-4.5 17.3h0m-1.8-24.1h0m-8.5 20.8h0m1.5-12.1h0m9 7.4h0m11.2 4.6h0m-19.2 4.9h0m8.9 5.9h0m-6.1-14.7h0m9.3-19h0m18.9 19.5h0m-24.1-5.3h0m-0.2 2.2h0m7.5-3.6h0m-4.9-8.1h0m-12 19.7h0m33.9-11.7h0m-8.3 9.7h0m-26.5 4.7h0m18.9-2h0m-7.2-17.4h0m-0.1 10.5h0m-0.6-10.6h0m5.6 1.4h0m18.1 3.9h0m-27.4-14.1h0m17.1 15.3h0m-6.2 13.8h0m5.3 3.9h0m-13.1-33h0m0.4 1.2h0m6.7 3h0m-20.8 18h0m25.3-6h0m14.3 1.8h0m-22.5-0.3h0m2.7 10.3h0m-17.8-15.6h0m21.8-11.8h0m-0.8 12.6h0m-6.1 0h0m-4.2 3.2h0m13.2-19.6h0m-20.5 23.1h0m-7.1-14.4h0m-0.6 19.4h0m17.3-14.3h0m-0.5-1.8h0m14.6-3.5h0m-42.9 3.2h0m44.3 5.5h0m-14.6 1.7h0m-9 6.1h0m15-15.1h0m10.6 15h0m-25.9-6.5h0m18.9 5.2h0m3.1-2.7h0m-3.6-10.3h0m10 1.6h0m-23-5.7h0m-15.8 20.4h0m34.5-8.2h0m-19.2-9.8h0m0.1 2.2h0m13.6 20.3h0m-11.9-20.4h0m7.4 4.5h0m-10.6 12.9h0m4.2-11.8h0m19.2 4.7h0m-18.9-3.9h0m7.1 2.4h0m-1.2-11.6h0m14 2.7h0m-11.2 2.9h0m-17.4-11.6h0m10.1 25.5h0m-4.3-8.1h0m3.6 3.8h0m2.1-5.5h0m18.8 1.6h0m-20.6-7.6h0m-10.1-3.2h0m30.7-3.2h0m-22.3 17.2h0m18.3 4.9h0m-18.3-13.5h0m-2.4-9.3h0m8.2 21h0m6.8-1.8h0m3.2-13.4h0m-6.8-2.9h0m4.9 3.2h0m12.6-6.2h0m-39.3 13h0m10.5 2.2h0m16.3-2.8h0m-15.9-0.9h0m0.9-6.4h0m3.7-2.2h0m-4.4 5.2h0m20.6 0.3h0m4.7 7.3h0m-27.2-2.7h0m5 22.3h0m9.3-24.7h0m-25.5 2.3h0m27.6-5.7h0m-13.4 11.2h0m-1.5 1.2h0m3.3 13.5h0m-8.7-21.8h0m19.9 4.7h0m-27.4-9.2h0m27.7 9.1h0m1.5 4.6h0m-19.1 12.7h0m1.6-1.3h0m16.6-13.2h0m-7.6 0.4h0m-13.9 6.9h0m9.2-10.7h0m2.5 4.2h0m-4.9-18.2h0m28 22.4h0m-24.9-8.8h0m2.6-16.9h0m10.3 15.1h0m2.7 5.6h0m-17.8-3.1h0m-2.7-9.8h0m-0.4 14.2h0m23-5.4h0m-8.2 8.3h0m-13.6-2.3h0m10.5-7.9h0m-0.7-3.8h0m-10.8 19h0m-1.3-31.2h0m-6.3 4.4h0m12.3 9.5h0m0.1 3.2h0m12.4-10.7h0m-20 11.6h0m-5.4 6.4h0m36.9-6.6h0m-7.8-0.3h0m-17.1-6.3h0m5.4 1.1h0m-12.8 22.2h0m7.6-13.5h0m-13.7-0.5h0m10.5-7.4h0m6.8 4.5h0m-9.6-4.2h0m0.2 5.1h0m13.8 5.3h0m-8.7 2.5h0m-7.7-10.6h0m23.7-7.5h0m-12.1 6.1h0m2.7 22.5h0m-8.4-34.2h0m5.5 3.8h0m13.1 9.5h0m-20-13.3h0m3.8 25.3h0m3.4-10.8h0m11.1-10.7h0m-17.3-0.7h0m15.2 8.7h0m-2-8.8h0m-2.6 4.2h0m-9 5.8h0m8-12.3h0m-22.3 24.5h0m3.2-24.3h0m20.1-1.3h0m-22.5 11.7h0m13 12.1h0m-18.9-5.2h0m33.3 4.8h0m-10.9-3.5h0m2.3 3.8h0m-1.1-22.5h0m16 12.7h0m-29.9 5.6h0m24.3-16.9h0m-14.1 25.9h0m22.4-14.2h0m-24.7 3.5h0m8.9-12.2h0m4.9-13.6h0m-6.4 30.7h0m1.3-17h0m3.8-0.1h0m-14.7 4.9h0m12.3 4.4h0m-15.4 8.5h0m18.8-12h0m10.9-7h0m-16.4 14h0m-5.4-3.3h0m13.1-1h0m-4.5-12h0m-26.3 13.9h0m25.5 1h0m12.6-3.2h0m-36.8 7.3h0m29.8-24.2h0m2.3 20.4h0m-20 5h0m3.4 1.5h0m17.6-1.4h0m-12-11.8h0m10.3 17.5h0m14-10.5h0m-18.1-0.6h0m-9.9 9.1h0m14.8-14.3h0m-15 2.7h0m3.1 8.2h0m-9.1-7.3h0m17.1 6.2h0m-0.3-10.3h0m-9.1-2.3h0m22.7 8.4h0m-4.9 1.4h0m-6.6-10.5h0m-22.5-1.5h0m3.3 15.5h0m23.2-22.3h0m-7.8 30.5h0m-1.7 1.8h0m23.5-22h0m-30.6-16.4h0m-4.6 17.7h0m16.3 3.7h0m-26.5-1.9h0m7.4 9.9h0m20.3-12.9h0m-23.3 9.2h0m11.1 2h0m3.7-21.5h0m10.1 11h0m12.2 0.2h0m-8.2 2h0m-8.6 0.6h0m2.2 5.8h0m6-5.4h0m-9.2 2.2h0m-35.2-0.5h0m-0.2-4.9h0m23-13.4h0m-11.7 11.5h0m11.3-3.5h0m-2.7 15.6h0m25-8.9h0m-23.8-3.3h0m16.7 10h0m-13.6-13.5h0m11.8-2.5h0m11.2 17h0m-18.4-8.9h0m-7.8 11.2h0m-0.7-13.4h0m9.7 7.9h0m-7 8h0m-7.7-11.7h0m3.9-12.7h0m7 13.8h0m5.4 11.8h0m-12.6-21.3h0m-0.6 16.9h0m13.3 3.6h0m14.6-10.8h0m-20.8-11h0m7.2 17.2h0m-14.3-16.8h0m31.1 13.4h0m-24.6-10.6h0m11.4 17.3h0m5.9-25.7h0m-15.3 19.5h0m20.2-7.7h0m-10.5 12.3h0m-12.6 0.5h0m5.6-2.6h0m-11 15.2h0m6-9.2h0m8.1-10.5h0m-2.2-0.5h0m-3-17.7h0m-5.5 18.5h0m14 8.7h0m-11.6-1.2h0m-6.6-8.7h0m13.7-12.9h0m15.1 11.8h0m-18.7-8.8h0m16.5 18.2h0" stroke="#000" stroke-width="1.0" stroke-linecap="round" opacity="0.7" fill="none"/>
</g>
<rect x="404.5" y="427.2" width="98.80000000000001" height="103.50000000000006" fill="none" stroke="#707070" stroke-width="1"/>
<line x1="445.4" y1="427.2" x2="445.4" y2="530.7" stroke="#707070" stroke-width="1"/>
<line x1="404.5" y1="487.6" x2="503.3" y2="487.6" stroke="#707070" stroke-width="1"/>
<path d="M410 530.7v2M418 530.7v2M426 530.7v2M434 530.7v2M441 530.7v2M446 530.7v2M451 530.7v2M456 530.7v2M462 530.7v2M468 530.7v2M474 530.7v2M480 530.7v2M486 530.7v2M492 530.7v2M498 530.7v2M404.5 437h-2M404.5 445h-2M404.5 452h-2M404.5 460h-2M404.5 468h-2M404.5 476h-2M404.5 484h-2M404.5 492h-2M404.5 500h-2M404.5 508h-2M404.5 516h-2M404.5 522h-2" stroke="#707070" stroke-width="0.8" fill="none"/>
<text x="401.5" y="442" font-size="12" font-weight="normal" text-anchor="end">10<tspan font-size="8.4" dx="-0.6" dy="-5.0">5</tspan></text>
<text x="401.5" y="464.5" font-size="12" font-weight="normal" text-anchor="end">10<tspan font-size="8.4" dx="-0.6" dy="-5.0">4</tspan></text>
<text x="401.5" y="488.3" font-size="12" font-weight="normal" text-anchor="end">10<tspan font-size="8.4" dx="-0.6" dy="-5.0">3</tspan></text>
<text x="401.5" y="515" font-size="12" font-weight="normal" text-anchor="end">10<tspan font-size="8.4" dx="-0.6" dy="-5.0">2</tspan></text>
<text x="401.5" y="525" font-size="12" font-weight="normal" text-anchor="end" >0</text>
<text x="414.7" y="549.5" font-size="12" font-weight="normal" text-anchor="middle" >0</text>
<text x="425.6" y="549.5" font-size="12" font-weight="normal" text-anchor="middle">10<tspan font-size="8.4" dx="-0.6" dy="-5.0">2</tspan></text>
<text x="450" y="549.5" font-size="12" font-weight="normal" text-anchor="middle">10<tspan font-size="8.4" dx="-0.6" dy="-5.0">3</tspan></text>
<text x="472.2" y="549.5" font-size="12" font-weight="normal" text-anchor="middle">10<tspan font-size="8.4" dx="-0.6" dy="-5.0">4</tspan></text>
<text x="494.5" y="549.5" font-size="12" font-weight="normal" text-anchor="middle">10<tspan font-size="8.4" dx="-0.6" dy="-5.0">5</tspan></text>
<text x="475.5" y="442.3" font-size="12" font-weight="normal" text-anchor="end" >0.5</text>
<text x="479.2" y="442.3" font-size="12" font-weight="normal" text-anchor="start" >10.9</text>
<text x="479.2" y="457" font-size="12" font-weight="normal" text-anchor="start" >44.2</text>
<line x1="464.4" y1="444.5" x2="488.8" y2="444.5" stroke="#000" stroke-width="1.4"/>
<line x1="477.2" y1="432" x2="477.2" y2="457" stroke="#000" stroke-width="1.4"/>
<text x="0" y="0" font-size="18.8" font-weight="bold" text-anchor="middle" transform="translate(370.2,467.5) rotate(-90)">IL-17</text>
<line x1="364.4" y1="562" x2="364.4" y2="500" stroke="#000" stroke-width="2"/>
<line x1="363.4" y1="562" x2="421.8" y2="562" stroke="#000" stroke-width="2"/>
<path d="M364.4 492L359.59999999999997 501L369.2 501Z" fill="#000"/>
<path d="M429.8 562L420.8 557.2L420.8 566.8Z" fill="#000"/>
<text x="436" y="569" font-size="18.8" font-weight="bold" text-anchor="start" >ROR-γt</text>
<line x1="55.6" y1="664.8" x2="55.6" y2="765.4" stroke="#000" stroke-width="2"/>
<line x1="54.6" y1="764.4" x2="155" y2="764.4" stroke="#000" stroke-width="2"/>
<line x1="50.6" y1="764.4" x2="55.6" y2="764.4" stroke="#000" stroke-width="2"/>
<text x="48.6" y="770.6" font-size="16.5" font-weight="bold" text-anchor="end" >0</text>
<line x1="50.6" y1="739.5" x2="55.6" y2="739.5" stroke="#000" stroke-width="2"/>
<text x="48.6" y="745.7" font-size="16.5" font-weight="bold" text-anchor="end" >5</text>
<line x1="50.6" y1="714.6" x2="55.6" y2="714.6" stroke="#000" stroke-width="2"/>
<text x="48.6" y="720.8000000000001" font-size="16.5" font-weight="bold" text-anchor="end" >10</text>
<line x1="50.6" y1="689.6999999999999" x2="55.6" y2="689.6999999999999" stroke="#000" stroke-width="2"/>
<text x="48.6" y="695.9" font-size="16.5" font-weight="bold" text-anchor="end" >15</text>
<line x1="50.6" y1="664.8" x2="55.6" y2="664.8" stroke="#000" stroke-width="2"/>
<text x="48.6" y="671.0" font-size="16.5" font-weight="bold" text-anchor="end" >20</text>
<text x="0" y="0" font-size="16.3" font-weight="bold" text-anchor="middle" transform="translate(16.9,713.3) rotate(-90)">% IL-17+ve</text>
<text x="80.5" y="787.2" font-size="18" font-weight="bold" text-anchor="middle" >THi</text>
<text x="130.6" y="787.2" font-size="18" font-weight="bold" text-anchor="middle" >TLo</text>
<path d="M79 649.5V641.5H127.4V649.5" stroke="#000" stroke-width="1.8" fill="none"/>
<text x="102.5" y="644" font-size="25" font-weight="bold" text-anchor="middle" >*</text>
<path d="M77.0 714.4h6.6v6.6h-6.6zM67.7 734.5h6.6v6.6h-6.6zM77.0 739.3h6.6v6.6h-6.6zM67.7 746.2h6.6v6.6h-6.6zM77.0 752.5h6.6v6.6h-6.6zM87.4 751.8h6.6v6.6h-6.6z" fill="#000"/>
<path d="M130.1 677.9l3.8 6.84h-7.6zM119.4 715.6l3.8 6.84h-7.6zM130.1 711.1l3.8 6.84h-7.6zM130.1 723.6l3.8 6.84h-7.6zM140.2 730.5l3.8 6.84h-7.6zM130.1 738.8l3.8 6.84h-7.6z" fill="#000"/>
<line x1="64" y1="746" x2="97.6" y2="746" stroke="#000" stroke-width="2.1"/>
<line x1="113.5" y1="722.9" x2="147.1" y2="722.9" stroke="#000" stroke-width="2.1"/>
<text x="290.3" y="646.8" font-size="22.8" font-weight="bold" text-anchor="middle" transform="translate(290.3 646.8) scale(1 0.95) translate(-290.3 -646.8)">TLo</text>
<text x="375.5" y="647" font-size="22.5" font-weight="bold" text-anchor="start" letter-spacing="0.2">w/o</text>
<text x="414.2" y="647" font-size="22.5" font-weight="bold" text-anchor="start" letter-spacing="0.35">cytokines</text>
<clipPath id="c4"><rect x="243.3" y="659.8" width="103.0" height="103.70000000000005"/></clipPath><g clip-path="url(#c4)">
<ellipse cx="257" cy="693" rx="6.5" ry="13" fill="#000" opacity="1" filter="url(#b2_2)" transform="rotate(10 257 693)"/>
<ellipse cx="251" cy="755" rx="16" ry="15" fill="#000" opacity="1" filter="url(#b2_5)" transform="rotate(-30 251 755)"/>
<ellipse cx="256" cy="746" rx="9" ry="6" fill="#000" opacity="0.8" filter="url(#b2_5)"/>
<ellipse cx="300" cy="751" rx="15" ry="4.5" fill="#000" opacity="0.6" filter="url(#b3)"/>
<ellipse cx="251" cy="714" rx="7" ry="16" fill="#000" opacity="0.5" filter="url(#b3_5)" transform="rotate(5 251 714)"/>
<path d="M297.1 730.0h0m6.5-23.1h0m1.8-16.1h0m-32-5.9h0m34.4 36.6h0m-6.2 13.6h0m-19.4-16.1h0m-13.4 11.8h0m0.4 6.1h0m9.8-36.9h0m30.2 6.9h0m-39.2 23.1h0m14.8-37.5h0m-11.6-8.7h0m27.5 27.7h0m-18.3 0.4h0m1.2-5.6h0m14.6 27.7h0m-15.6-21.6h0m1.4-26.9h0m2.8-2.5h0m-17.4 4.6h0m38 31.1h0m-13.1-16.5h0m4.1 26.5h0m-16.4 6.3h0m-4.3-13.5h0m14.1 5h0m-4.8-41.1h0m-0.6 37.7h0m-5.5-39.6h0m19.9 49.9h0m-23.2-1.6h0m11.6-12.9h0m-3.6-18.3h0m11.6 13.5h0m-23 11.3h0m22-17.1h0m-2.1 2.3h0m-2.7 16.6h0m-3.5 2.6h0m-19.4-25.5h0m6.9 4.6h0m7.3 11.5h0m12-31.7h0m3.6-10.4h0m-13.6 50.1h0m-10-30.9h0m2.2-11.4h0m0.3 20.7h0m-6 20.5h0m11.1-37.6h0m7.4 1h0m8.1 21.9h0m-18.5 2.5h0m-9.6-15h0m35.5 26.3h0m-19.4-50.3h0m21.1 44.7h0m-25.2-19.9h0m1.3-8.1h0m-10.7 38.5h0m33.8-40.4h0m-2.5 21h0m-28.8-13.8h0m28.9 36h0m-11.7-57.5h0m6.8 52.1h0m-20.8 6.8h0m26.5-24h0m3.1-17.1h0m-30.4 32.7h0m-3.8 10.1h0m9-27.3h0m14.7-10.5h0m-28.3 18h0m34.9-30.9h0m-29.4 29.7h0m7.3-38.8h0m17.8 21.9h0m-29.5 14.9h0m8.7-8.6h0m12.3 31.3h0m0.5-36.1h0m8.3 34.5h0m-29.8-51.6h0m0 31.4h0m0.5-20.3h0m17.9 3.6h0m3-3.2h0m11.2 3.7h0m-0.7 0.3h0m-0.5-15.3h0m-29.6 22.8h0m4.1-13.4h0m32.1 14.1h0m-14.9-28.7h0m10.4 18.7h0m-8 28.9h0m-20.2-2.4h0m33.8 8.5h0m-38.6 0.4h0m29.8-8.7h0m-12.8 4.1h0m3-15.7h0m11.9 4.1h0m4.8-11.9h0m-23.9 19h0m-12.3-10.5h0m37.7 15.3h0m-23.3-40.2h0m-6.5 43.8h0m11.6 5.8h0m4.3-23.1h0m12.3-4.6h0m-23.4-10.2h0m4.2 28.4h0m-19.8-12.6h0m24.3-15.4h0m-21.7 5.8h0m20.2-7.2h0m-4.5 26.5h0m-10.4-5.2h0m13.8-15.7h0m-15.5-13.3h0m-3.8 20.7h0m-1.2-25.4h0m31.7 35.6h0m8.4-11.1h0m-22.3-11.8h0m-2.9 23.5h0m16.3 5.4h0m-22.8-12.9h0m-7.9-9.3h0m23.3-21h0m-23.3 42.2h0m37.1-41.8h0m-22.4 27.3h0m10.1 11.2h0m-16-18.4h0m22.5 10.8h0m-31.6-32.4h0m23.8 45.9h0m-8.8-44.4h0m-2.6 20.3h0m26.6-2h0m-29.3 27.1h0m22.2-53.2h0m-10.8 16.3h0m18.1 31h0m-24.6-12.5h0m3.1 11.6h0m8.8-13.4h0m6.6-32.4h0m0.7 30.4h0m-8.6-3.4h0m6.1 21h0m3.6-27.4h0m-26.3 26.9h0m12-2.3h0m8.7 5.5h0m9-39.2h0m-14-12.9h0m3.4 52.9h0m-26.7-40.9h0m29.5 14.6h0m-27.2-4.3h0m11.2-12.5h0m-12.3 1.1h0m-2.6 5.1h0m1.3 27.9h0m-1.2 9.8h0m27.9 3.4h0m-21.4-8h0m17.3-49.6h0m-3.9 28.2h0m-10.3 17.3h0m12.6 8.3h0m-3.4-19h0m-18.3 18.9h0m11.6-3.6h0m3.3-41.6h0m-15.9 16.7h0m7 32.3h0m23.9-47.1h0m2.7 15h0m-9.1 26.3h0m9-33h0m-26.8-17.1h0m30.7 22.1h0m-33.1 5.5h0m-2.9-6.2h0m2.9-14.7h0m29.7 17.5h0m-20.3-6.8h0m4.9-16.6h0m-9 51.5h0m4.2 0.8h0m-4.8-24.2h0m22.1-13.3h0m-10.9-10.1h0m4.5-1.6h0m0.4 32.5h0m13.2-37.7h0m-25.1 51.3h0m-2.7-31.4h0m19.6 5.8h0m-25.8-10.7h0m15.2 35.6h0m-6.8-16.8h0m-13.1 12.6h0m-0.1-15.6h0m38.3-25.7h0m2.5 45.9h0m-40.5-43.3h0m34.6 19.4h0m-9.2 2.1h0m-24.8-16.3h0m27.8 39.8h0m-6.7-48.7h0m-8.2 39.8h0m23.4-37.8h0m-30.4 26.4h0m21.5-0.9h0m-26.1-12.2h0m2.3 9.1h0m31.2-3.1h0m-34.2 31.8h0m34.6-22.1h0m5.2 4.8h0m-19-15.6h0m3.9 32.2h0m-17.6 2.5h0m-4.9-34.4h0m4.3 7.5h0m22.2-19.4h0m-26.1-4.7h0m-0.6 23.2h0m-2 18.6h0m22.4-12.6h0m14.4 23.5h0m-17.9-4h0m11-0.3h0m-31.5 3.9h0m28.7-24.7h0m4.4 12h0m-27.6 0.2h0m26.1-20.9h0m-7.7 32.7h0m-10.3-7.8h0m-12.4 3.2h0m39.6 6h0m-22.5-50.5h0m13 30.3h0m-20.3-26h0m15.3 28.3h0m-21.6-2.4h0m30.2-33.3h0m-14.2 28.8h0m9.2 24.4h0m-26.7-39.6h0m3 5h0m25.3 32h0m-20.4-44.4h0m20.7 41.4h0m-28.9-45h0m29.7 19.9h0m-16.4 23.1h0m-2.8-40.5h0m20.2 1.8h0m1.2 29h0m-15.8-1.9h0m6.9-13.4h0m12.4 5.6h0m-14.8 25.6h0m17.9-58.9h0m-6 29.9h0m-12.5 13.9h0m-3.3-22.3h0m-9.4 38.9h0m3.6-41.9h0m-3.3 2.7h0m7.3-20.8h0m5.1 14.1h0m2.8-2.4h0m15 19.2h0m-19.4 25h0m17.7-3.6h0m-19.1-49h0m14.1 26.8h0m-10.2-6.6h0m-3.8 27.4h0m-18.7-8.3h0m13.4-6.5h0m22.7-18.5h0m-32.6 18h0m19.6 4.3h0m17.2-37.4h0m-18.1 54.5h0m18.2-46.5h0m-37.7 19.6h0m-0.3 22h0m-3.1-15.1h0m38 4.9h0m-18.2-14.7h0m9.7-15.2h0m-22.5 46.2h0m13.3-43.7h0m6.1-1.1h0m11.9 44.3h0m-32.6-31.4h0m24.5-11.4h0m7 12.6h0m0.8 29h0m-15.8-27.3h0m11.9 28.8h0m7.1-28.6h0m-3.7 18.1h0m-18.8 1.1h0m3.4 6.4h0m-8.3-8.5h0m-6.5 6.2h0m4.5-27.3h0m2.8 17.7h0m26.7-12.3h0m-3.4-30.9h0m-4.2 23.3h0m-31 14.5h0m-2-22.6h0m11.4 4.6h0m20.4 26.9h0m-20.2-42.3h0m-1 9.8h0m17.8 10.9h0m-3.3 19.2h0m-12-33.3h0m-5.4 23h0m3.3-3.3h0m6.2-26.7h0m6.8 4.6h0m7.2 31.5h0m2.8-39.2h0m-31.8 11h0m13.6-9.9h0m-7 31.7h0m-8.4 23.1h0m16.8-16.2h0m-7.6-12.6h0m-0.5-14.6h0m20.1 42.3h0m-29.4-55.9h0m17.5 22.1h0m-13.5 19.6h0m27.8 0.1h0m-22.8-31.8h0m23.6 7.5h0m0.3 36.5h0m-11.2-12.1h0m-8.8 2.6h0m-5.7-25.5h0m18.3-12.4h0m13.5-5.6h0m-35.9 50.6h0m2.2-5.2h0m0.9-7h0m3.2-37.4h0m30.2 14.4h0m-13.3-12.7h0m-21.9 16.7h0m25 7.5h0m-17.1-20.9h0m4.2 29.4h0m-16 5.3h0m26.2-39.9h0m13.1 15.7h0m-25 1.2h0m5.9 8.6h0m18.4-6.2h0m1.4 5.7h0m-36.9-17.9h0m16.6 18h0m9.7 5.9h0m-28.9-16h0m2.9 30.3h0m0-39.4h0m22.5 47.5h0m-16.1-2.2h0m-9.9-19.8h0m39.1-3.7h0m-26.6 31h0m2.3-33.5h0m-15.5 21.9h0m14.9-32.2h0m-10 8.6h0m8.6-3.4h0m-13.3 19.9h0m1.9-42.2h0m3 31.3h0m3.9 22.3h0m-2.6-53.4h0" stroke="#000" stroke-width="1.0" stroke-linecap="round" opacity="0.4" fill="none"/>
<path d="M294.4 719.8h0m-2.8 7h0m-16.6-35.9h0m28.6 18.4h0m-25.5 10.7h0m12.8 2.3h0m-11.7 1h0m3-14.8h0m10.7 14.8h0m-14.5-6.5h0m16.8-21h0m-3.7 19.2h0m-7.1 8.2h0m15.4 12.7h0m-29.1-15.8h0m17.3 5.2h0m-8.8-17.5h0m6.1 17.7h0m4.8 8.9h0m-25-8.3h0m10.3-4.8h0m-0.5 9.6h0m-8.9-20.5h0m28.8 18.9h0m-12.9-17.1h0m14 23.1h0m14.1-32.8h0m-31.4 11.7h0m-1.7 16.8h0m5.5-3.2h0m5.4-11.5h0m14.5-6.9h0m-9.6-14.8h0m-37.3 28.2h0m19.8-3.4h0m-0.3-0.3h0m-10.9 15.5h0m20.9-8.5h0m-9.2-5.8h0m8.9 2.7h0m-7.2-36.2h0m16.5 9.9h0m-16.4 16.8h0m11.5 3.2h0m9.9 0h0m-21 17h0m2.2-25.6h0m7.3 8.6h0m-5.2-7.3h0m6.8 2.1h0m-7.9 12.2h0m-14.2 6.8h0m32.1-13h0m6.2 5.2h0m-25.4-15.1h0m12.4 2.8h0m-25.9-0.5h0m32.5 9.1h0m0.6 15.9h0m-26.5-14.2h0m-13.2 8.8h0m25.5-6.9h0m18.1 26.6h0m-19.3-54.4h0m4.5 44.9h0m-4.1-11.8h0m25.2-10.9h0m-35.4 6.5h0m17.8 4.7h0m-9.4-6h0m-10.2 2.1h0m13.6-2.6h0m-13.2-2.9h0m22.5-12.8h0m2.7 38.7h0m12.6-49.7h0m-27.7 10.3h0m10.7-11.1h0m-14.3 9h0m-8.1 2.8h0m6.6 12.4h0m-13.1-4.7h0m28.1 7.3h0m9.1-3.2h0m-31.2-15.8h0m17 12.5h0m14 21.4h0m-36.3-15.7h0m27.7-0.6h0m-7.6 2.4h0m8.8-1.6h0m14.6-9.9h0m-38.8 22.3h0m14.7-23h0m15.6 12.9h0m-8.8 0.4h0m3-19.1h0m-28.6 30h0m14.9-13.2h0m7.9 3.7h0m-20.7-0.5h0m24.4-27.2h0m2.1 12.5h0m-19.4 16.6h0m10-27.4h0m3.9 25h0m9.7-6.4h0m-11.1 8.7h0m9-19.8h0m-10.6 10.2h0m-6.2 13.4h0m-2.3-27.4h0m3.6 18.6h0m26.4 7.2h0m-19.8-10.5h0m-5.6 13.4h0m-5.1-12.2h0m-5.1-5.4h0m13.9 4.7h0m-4.1 4.4h0m27.5-4.6h0m-6.1 5.9h0m-18-3.7h0m17.4 22.8h0m-15.6-20.3h0m29.9-9.3h0m-20.7 25.9h0m-10.4-22.1h0m-11.8-7.4h0m-2 28.5h0m14.6-21h0m-14.1 4h0m32.2-3.7h0m-40.5 9.5h0m11-12.8h0m-6.2 17.7h0m3-17.7h0m19.8 7.1h0m-17.9 6.3h0m2.6 8.4h0m22.6-21.8h0m-8.8 4.2h0m-0.9 13h0m11.3-10h0m-14.1-16h0m-18.3 8.3h0m29.9 10.9h0m-15.6-3.6h0m2.9 2.5h0m18.8 14.5h0m-33.5-16h0m9.5-1.5h0m10.2 12.1h0m4.9-20.8h0m-6.8 20.7h0m-2.6 12.2h0m-17.9-29.9h0m17.2-8.5h0m-2.3-1.9h0m25.5 17h0m-20.2 3.8h0m10.1 2.2h0m-14-25.1h0m23.3 15.2h0m-39.4 13.3h0m22.4-0.8h0m5.8-4.7h0m-7.3-7.2h0m-22.8 17.5h0m-3.7-9h0m32.2-12.4h0m-21.6 17.2h0m5.9-4.8h0m-4.8 10.8h0m5.7-29.6h0m-16.9 26.9h0m40.1-8.3h0m-39.2-29.6h0m-6 20.1h0m11.3 25.8h0m11.1-25.2h0m-16.3 5h0m21.7 4.8h0m-7.7-1.1h0m18.3-20.1h0m-0.1 11.3h0m-11-7.4h0m-5.6 24.4h0m8.7-14.7h0m-30.3 0.2h0m15.7 5.6h0m21.9-7.6h0m-29.9-19.8h0m36.5 7.6h0m-3.1 5.8h0m-1.9-4.4h0m-22.7-1.9h0m17.4 2.5h0m12.6 2h0m-17.2-8.7h0m-10.3 19.4h0m3.2-6h0m10.1 14.3h0m3.2-11.2h0m-15.4 11.6h0m-19.9-2.8h0m-4.3 7.3h0m16.5-24.5h0m20.9 14.7h0m-14.9-13.2h0m9.2 22h0m-11.6-22.9h0m3.4 15.5h0m5.4-4.7h0m-17.3-5.8h0m26.5-1.2h0m-8.4 19.1h0m-6.6-22.7h0m-14.5 10.3h0m17-8h0m3.6-8.3h0m-2.7-1h0m16.2 20.7h0m-7.9-7h0m-18.7 0.7h0m-3.6 15.3h0m0.8 9.2h0m17.5-4.6h0m-21.7-35.8h0m19.1-5.5h0m-32 37.3h0m32.9-39.6h0m-16.6 41.3h0m8.5-27.7h0m10.1 4.8h0m10.8-3.2h0m-5.7-0.9h0m26.4-3.2h0m-29.6 2.3h0m-18.2 16.6h0m47.4-27.8h0m-51.6 20.3h0m38.7-14.1h0m-26.7 29.5h0m33.1-2.4h0m-16.7-36.7h0m-8.7 4.2h0m5.1 19.1h0m2.4 3.1h0m13.7 13.5h0m-35.6-26h0m-1 15.9h0m17.4-22.9h0m-5.5 10.1h0m-10.6-7.4h0m22.4 33h0m-7.3-13.2h0m-13.2 2.3h0m2.6-4.2h0m11-5.3h0m-16.1-1.4h0m-2.9 3.4h0m3.4-4.2h0m19 16.4h0m-28.5-11h0m41.2-8.2h0m-26.9 11.6h0m22.9-0.5h0m1.4 14.8h0m-12.5-7h0m-8.8-24.8h0m17.4 18.4h0m6.5-6.5h0m-20.3 1.4h0m9.6 20.2h0m-3.3-22.9h0m4.6 18.6h0m-27-13.6h0m-1.6 13.5h0m20.9-0.4h0m18-10.9h0m-20.6 6.7h0m-4.4-25.5h0m1 31.2h0m14.7-4.1h0m-19.7-25.7h0m31.5-4.3h0m-15.6-11.7h0m-6.1 24.6h0m5.3 14h0m7.1-0.5h0m-5.4-3.7h0m-10.4 1.7h0m-6.1-4.4h0m14.5-8.6h0m-15.3-5.6h0m26.8 14.5h0m-6.6-11.4h0m-24.2 0.1h0m2.8 1h0m22.6 17h0m-7.5-4.4h0m19.5-14.9h0m-29 3.6h0m11.2-2.7h0m7.3 19.1h0m-3.4-26.7h0m-23.7 18.8h0m12.8 37.9h0m-0.8-14.4h0m12-36.6h0m-23.8 2.8h0m-3.8 0.2h0m38.7 8.2h0m-30.2-3.7h0m31.7 2h0m-9.9 8.7h0m-9.3-11.5h0m-5.8 5.9h0m26.8 4.4h0m-27.2-12.8h0m9.5 23.5h0m-2.9 5.7h0m-14.9-27.2h0m16 0.9h0m-7.7-1.6h0m4.4-2h0m6.2-8.8h0m-17 33.2h0m16.8 3.1h0m24.9-14.5h0m-24.4 3.3h0m-15.2-13.1h0m40.2-9.9h0m-15.7 11.8h0m2.5-8.4h0m-18.7 13.5h0m12.3 17.3h0m-4.5-23.9h0m-20.6-1.8h0m12.6 8.6h0m-2.6 16.6h0m21 3.9h0m-33.2-37.8h0m15.1 16.2h0m3.6-13.4h0m-7.1 17.7h0m0.7 22h0m4.6-31.1h0m-20.3 5.1h0m9 6.7h0m9.2-15.9h0m-13.1-3.7h0m-11.4 5.1h0m3.1 0.1h0m31.9 7.7h0m-16.7 6.5h0m2.4-0.2h0m16.5-7.1h0m-17.7 1.6h0m8.6-3.6h0m-20.1 5.8h0m47.5-2.5h0m-35.9 9.1h0m-6.1-22.1h0m26.5 23.5h0m-11.1-7.9h0m-6.5 3.6h0m-19.2-25.9h0m3.6 34.7h0m25.7 6.2h0m-12.5 11.3h0m4.1-29.9h0m5.9-23.7h0m-10.3 7.7h0m20.2 5.8h0m-39.1-20.2h0m17.2 27.9h0m-5.3 5.9h0m-14.1-12.6h0m36.8 2.2h0m4.9 0.5h0m-7.7 7h0m-14.2 6.5h0m1.7-11.4h0m-5.4-16.8h0m-14.2 27.4h0m21.3-40.8h0m18.9 6.1h0m-21.6 46.1h0m-9.8-18.5h0m8.7 19.4h0m5.9-16h0m-0.7 9.3h0m-0.3-15.1h0m9.3 14.4h0m-2.8-1.9h0m-10.4 0h0m-20.3-12.2h0m24.6 6.8h0m11.9-20.8h0m-16.5 1.9h0m17.5-5.4h0m-22.3 11.1h0m28-17.5h0m-12.9 10h0m3.6 22.3h0m-4-12.4h0m9.3 5.1h0m-21.4 2.6h0m7.3-10.1h0m4.2 12.6h0m6.8 0.4h0m-31.5-15.1h0m18.6 25.4h0m-3.9-26.1h0m-21.5-8.1h0m35.4 18.5h0m2.3-1.5h0m-19.7 4h0m12.9-3.8h0m-10.3-2.1h0m17 11.3h0m-0.2 2.2h0m-34.8-25.3h0m40.8-13.2h0m-24.9 3.4h0m29.1 14.2h0m-19.6 1.2h0m1.2 2.2h0m-16.7-5.4h0m15.4 29.3h0m18.5-15h0m-29.9 5.6h0m28.5-15.2h0m-22 26.6h0m0-38.7h0m-1.3 1.3h0m-7.6 7.8h0m18.5 15h0m-5-0.6h0m-23.7-14.5h0m28.8 8.1h0m-8.7-22.1h0m-2.1 29.1h0m-17.9-11.9h0m17.1 14.8h0m31.9-16.2h0m-32.7 15.1h0m2.7-9.3h0" stroke="#000" stroke-width="1.0" stroke-linecap="round" opacity="0.45" fill="none"/>
<path d="M288.2 698.1h0m-2.1-8.6h0m-12 0.9h0m0.9-7.2h0m13.8 11.5h0m-7.4-18.8h0m1.2 19.5h0m-17.4-4.4h0m40.7-11.9h0m-12.4-0.3h0m-12.2 12.6h0m-4.1 18.5h0m28.2-15.9h0m-7.3 11.7h0m-12.9-28.5h0m-7.6 15.7h0m17.1-23.4h0m-15.5 7.6h0m-4.9 9.6h0m17.3 19.7h0m-6.5-18.5h0m9.6-5.2h0m0.2 15.4h0m-12-13.4h0m15.9 9.3h0m-10-1.8h0m-15.1 3.4h0m-0.1-4.3h0m-2.1 9.4h0m15.2-2.4h0m14.3-2.7h0m-14.7-21.9h0m0.9 7.9h0m7.6 22.3h0m28.9-9.2h0m-28.3-8.4h0m6.1 11.4h0m-18.3 4.8h0m-0.3-21.4h0m12.9 9.3h0m-14.8 12.3h0m7.6-7.2h0m-17.6-4.1h0m12.6 0.7h0m0.4-1.4h0m4.6-11.9h0m-3.7 10.7h0m9.1-6h0m8.4 14.6h0m-30.4-17.2h0m15.7-2.9h0m-4.5 24.1h0m19.3-4.7h0m-8 0.9h0m3.3-5h0m-1.6 15.3h0m-9.4-9.2h0m-9-8.2h0m19.8 12.9h0m-4.8-12.1h0m0.9-2.9h0m-5.7 13.6h0m-9-12.1h0m4.1-1.8h0m13 13.3h0m-0.7-18.4h0m-14.8 8.2h0m5.5 6.1h0m-6.9-7.1h0m11.2-2h0m2.1 15.3h0m16.2-7.1h0m-19.8-12.5h0m5.3 0.5h0m4-4h0m-18.3 3.8h0m7.6 1.5h0m2.8 22h0m0.3-17.8h0m-15.4 13.7h0m38.4-5.1h0m-35.4-13.8h0m14.1 10.4h0m-2.3-9.3h0m2.7 7.7h0m25 3.2h0m-64.1 2.9h0m51.6-6.3h0m-35.8-11.9h0m-1.8 14.8h0m46.8-8.9h0m-39.1 1h0m24.6 11.4h0m-0.2 19.5h0m-11.5-23.8h0m6.1-17.9h0m-38.7 26.3h0m36.1-2.2h0m20.1-3.6h0m-25.1-6.6h0m3.6 7.1h0m23.3-17.7h0m-8.8 2.8h0m-14.7-3.2h0m18 13.9h0m-3.9-1.8h0m-18.9 1.6h0m-0.2-9.3h0m9-3.7h0m2.1 24.1h0m-30.9-19.6h0m28.4 9.5h0m22.6-16.4h0m-32.4 8.6h0m4 10.5h0m5.4 3.2h0m-2.7-8.1h0m-6.8-8.3h0m25.6 13h0m-1.3-33h0m2.8 39.5h0m2.2-16.4h0m-36.9 3h0m13 9.8h0m-18.1-16.2h0m24.2 12.2h0m-16.3-11.3h0m51.2 1.2h0m-35.3-0.1h0m-24.7 9.3h0m26.2-8h0m-21.3 1h0m10.9 14h0m13.8-25.5h0m-26.1 15.3h0m22.5 1.8h0m17.2-4.9h0m-47.4 4.1h0m45-18.5h0m-10.8 16.4h0m-18.8-16.4h0m-2.1 10.2h0m12.7 10.4h0m-18.2-8.9h0m23.8 0.7h0m-23.8-4.9h0m14.9-7.7h0m-0.5 26.1h0m-9.3-1.8h0m24.8-24.4h0m-5.2 1.4h0m-0.3 18.1h0m-22.1-8.5h0m9 7.1h0m10.5-4.9h0m-4.8 22.6h0m7.6-15.2h0m-8.5-8.3h0m-8.5 1.4h0m24 7.8h0m-39.6-7.4h0m11.3 10.6h0m28.7-5.4h0m-16.9 7.4h0m9-16.7h0m-3.2 30.4h0m-21.9-24.8h0m19.7-17.3h0m-16.2 30.8h0m-13.5-19h0m11.5-1.5h0m0.8-2.4h0m13.4 7h0m8.3 2.6h0m-36.4 15.6h0m33.6-23.6h0m8.7 9.3h0m-12.1 10.4h0m17.6-11.5h0m4.5 6.3h0m-14.1 5.5h0m-10.2-0.9h0m7.2 4.3h0m25.1-8.6h0m-24.1-6.1h0m-32.3-9.8h0m-0.7 8.1h0m29.3-12.3h0m-15.3 16.9h0m12.8-9.7h0m-20.5 17.8h0m13.5-12.7h0m-11.8 6.5h0m20.8-19.7h0m-14.2 22.5h0m-14.2-7.6h0m-3.6 12.9h0m20.9-17.2h0m14 6h0m-12.8-20.4h0m11.3 13.2h0m8.2 19.6h0m12.6-26h0m-25.6-1h0m4.6-5.7h0m21.5 11.4h0m-7.3 14h0m-11.3-23.3h0m7.6 10.3h0m-18.4 16.7h0m4.8-6.4h0m8.6 3.9h0m-0.7-2.7h0m-14.5-3.4h0m5.5 5.1h0m15.8 9.1h0m-4-20.9h0m2.3 5.4h0m-23.8-12.2h0m16.4 10.6h0m-9.1 3.8h0m-11.7-8.5h0m-21.3 1.7h0m44.7 18.2h0m-21.7-22.8h0m33.4-5.5h0m-9 14.8h0m-29.9 3.7h0m32.6-11.5h0m-17.6 8.1h0m13.8 2.2h0m-41-1.1h0m26.4 4.5h0m5.1-2.7h0m-0.2-5h0m-25.6 14.8h0m13.3-13.9h0m25.6 2.8h0m-13.7 11.7h0m3.6 0.5h0m4.9-17h0m-27.5 8h0m20.5-12.1h0m-2.5 6.7h0m-0.4 21.9h0m3.4-24.6h0m28.8 5.2h0m-20.9 10.2h0m-29.8-24.7h0m6.1 25.9h0m43.2-19h0m-18.5 8.1h0m-13.3-14.7h0m11.5-0.5h0m-35.3 14.1h0m17.8-1.5h0m6.6 3.4h0m7.5 12h0m3.7-0.1h0m-21.6-23.2h0m-15 12h0m36.6 2.3h0m-2.3-6.9h0m-8.6-5.6h0m-12.3 2.6h0m-6 8.1h0m11.6 9.9h0m17.2-34.3h0m1.3 22.9h0m-27.6-21.1h0m16 8.8h0m3.8 2.7h0m3.1 24.4h0m-13.6-15.8h0m25.6-7h0m-21.6 7.4h0m10.9-2.6h0m23.3-10.1h0m-40.9 5.5h0m-9 19.7h0m22.7-10.1h0m0.3-13.1h0m9.6 9.1h0m-10.6 1.6h0m22.4-0.1h0m-36.2-14.2h0m-21.3 19.6h0m26.1-5.9h0m11.2 17.3h0m1.5-15h0m-4.2-20.3h0m25.6 10.3h0m-29.4 20.7h0m22.3-2.6h0m-15.1-10.5h0m5.3 8.5h0m-29.1 3h0m1.2-4.7h0m45.6-3.4h0m-40.5-4.5h0m9-5.1h0m26-11.7h0m-5.1 9.4h0m-14.3 19.7h0m-11.5-11.8h0m17.8 22h0m-11.7-19.5h0m-15.1-15.3h0m15.3 20.8h0m22.6-4.2h0m-7.5 21.7h0m0.9-24.3h0m-24-6.3h0m5.9-8.8h0m14.9 21.4h0m-36.4-9.7h0m15.1 5h0m14.9-2.9h0m27 1h0m-41.6-9.6h0m23.4 10h0m-22.8 0.6h0m-1.7-11h0m12.2 7.9h0m-7.9 4.7h0m16.9-7.4h0m-24.6-8.7h0m3.3 6.6h0m10.6-8.6h0m14.8 14.1h0m11.4-7.3h0m-26.6-15.6h0m12.6 24.2h0m10.1-6.2h0m-8.2 0.4h0m-11.9-5.6h0m0.4 8h0m-12.8 3.4h0m-2.7-7.7h0m24.1 2.3h0m-25.8 14.2h0m24-6.9h0m-15.3 4.9h0m10-17.8h0m-13.2 14.5h0m6.7 12.6h0m-7.6-20.5h0m9.4 2.2h0m4.6 10.5h0m-1.9-35.5h0m0 20h0m1.5-3.3h0m-23.1 2.5h0m25.1-2.4h0m-33.2 8.3h0m24.4 9.8h0m5.8-23.9h0m29.8 17.2h0m-38.7-9.4h0m13 6.6h0m-14.4-4.5h0m17.1 0.7h0m-19.5 6.4h0m10.7-5.5h0m-16 10.3h0m16.7 3h0m6.1 1.2h0m-1.1-15.5h0m-17.5-7.5h0m2.9 26.8h0m6.9-4.3h0m8.6-5.7h0m-9.7-9.3h0m-3.3 11.4h0m2.8-5.3h0m3.3 1.7h0m-8-13.4h0m0.1 7.3h0m-6.9 9.6h0m5.6 11.5h0m-15.7-17.6h0m24.4-6.9h0m1.5 1.7h0m-16.5 3.6h0m23.2 10.9h0m-1.6-6.5h0m21.3-4h0m-46.7-0.7h0m-4.2 6.9h0m48-12.8h0m6.4 0h0m-60.9-9.1h0m23.5 21.5h0m5.8-16.9h0m-19.5 21.5h0m41.3-9.6h0m-34.9 1.2h0m9.1-4.5h0m-3.8 2.3h0m11-17.2h0m-2 23.6h0m34.5 6.3h0m-11.4-16.6h0m-19.7 5.3h0m-5.2 3.8h0m27.5 0.2h0m-37.8-14.7h0m25.3 9.2h0m-25.6-7.4h0m13.1-7.7h0m1.7 18.6h0m-14.3-4.4h0m-24.4 0.2h0m57.8-2.3h0m-44.2-7.9h0m20.7 6.8h0m-8.4-5.5h0m22.5 18.6h0m-29.2-19.5h0m18.1 24.6h0m-27.7-20.1h0m15.8 5.3h0m30.8 14h0m-12-19.4h0m-16.7 13.6h0m-2.1-20.4h0m18.5 25.2h0m-9.8-16.3h0m2.6-1.4h0m-5.4-4.8h0m18.4 7h0m-20.3 1h0m-15.7 0h0m26.3-7.3h0m-5.8 18.2h0m14.9-2.7h0m-10-5.6h0m-23.5-0.9h0m20.1 4.8h0m4.3-11.8h0m-6-5.3h0m-0.3 14.8h0m3.5-7.9h0m13.9-2.9h0m-15.8 8.1h0m-3 12.2h0m30.4-11.2h0m-53.6-3.8h0m14.2 11.1h0m14.5-5.6h0m7.4-10.5h0m-26.9 15.4h0m29.3-17.3h0m-28.1-1.5h0m3.9 16.5h0m21.4 2h0m-36.7-14.8h0m33 0.2h0m-9.7 7.9h0m-19.1-9.2h0m23.6 7h0m15.5 9.4h0m9-1.4h0m-20.2-11.8h0m25.5-8.8h0m-25.4 22.7h0m15.4-4.1h0m-6.4-5.5h0m8.9 3.2h0m-36.6 3.6h0m10.7-2.5h0m9 1.9h0m-6.8-5.8h0m-2.7 4.8h0m2.5-1.3h0m9.5-16.9h0m-3-15h0m6.1 32.2h0m-11.5-6h0m14.7-14.8h0m-19.3 0.5h0m0.6 22.6h0m-8-1.1h0m27.6-1.2h0m-25.3-14.2h0m17.5 8.6h0m-33.7 8.5h0m21.9-15.6h0m-6.9 11.3h0m32.9-9.6h0m-46.2 5.5h0m12.8 4.2h0m18.7-3.9h0m-16.8-9h0m5.2 1h0m27.7 0.1h0m-8 4.9h0m-17.9 5.7h0m10.6 3.6h0m-41.5 7.1h0m22.5-6.7h0m9.5-2.3h0m15.5-27.2h0m-1.8 25.2h0m10.3-0.7h0m-0.3 9.8h0m-47.4-33h0m33.9 21.6h0m3.2 12.1h0m-13.4-12.3h0m-6 5.2h0m2.5 0.2h0m16.1-15.9h0m-1.2 5.4h0m-9.6 13.3h0m-1.9 5h0m24.5-3.4h0m-31.1-6h0m-15.6-8.4h0m33.2 1.5h0m-21.2 5.5h0m10.8 6.5h0m-11.8 0.2h0m23-8.5h0m-18.4-1.4h0m20.3 7.7h0m2.8-8.7h0m-13.4 0h0m-3.4 7.1h0m2.1 0.8h0m-33.4-0.5h0m23.3-5.2h0m-9.2 6.8h0m44.7-5.9h0m-19.6 12.2h0m5.2-12.1h0m-6.5-0.3h0m-9.1 0.9h0m-8.7 2.6h0m10.6-0.7h0m-8.3-0.6h0m-5.6 13.4h0m25.7 1.9h0m-3.4-4.5h0m2.9-8.5h0m-9.9-15.7h0m24.6 15.8h0m-13.3 15.4h0m-27.4-22.1h0m-3.5 0.5h0m10 10.5h0m-2.1-11.9h0m-6.1-2.3h0m15 0.2h0m2.7 5.3h0m-13.5-2.1h0m18 7.1h0m10.4 0.2h0m-39.5-14.1h0m15.4 13.1h0m23.8-6.1h0m-30.1 3.8h0m12.6-5.9h0m-26.2 5.7h0m31.9 10.1h0m-11.8-15.2h0m-3.8-14.6h0m24 17.7h0m7.3-15.3h0m-11.5 20h0m3.5-13.6h0m-10.7 14.4h0m5.8-6.5h0m3.7 25.1h0m-19.2-11h0m22.3-18h0m-23.6 8.5h0m2.2 2.6h0m12.3-2.5h0m-8.3-3h0m18.3-11h0m-9.8-3.3h0m26.9 13.5h0m-47.9-9.5h0m33.8 13.7h0m-17.5-0.5h0m12.1-7.4h0m-4.2 2.5h0m-32.3-9.1h0m55.9 25.3h0m-30.6-14.7h0m-9.8-4.5h0m12.6 11h0m-6.3-2.2h0m30.7-3.2h0m-36.4-3h0m14 2.7h0m3.1-10.7h0m0.9 0.2h0m2.4 28.3h0m1.7-23.6h0m-4.4-5.6h0m7.5 14.1h0m-11.2-5.3h0m-28.2-3.8h0m23.3-5.1h0m11.5 16.5h0m9.6 9.5h0m-20-17.5h0m-21.1 16.3h0m14.4-10.9h0m9.2-6.7h0m-5.1-1.2h0m27.3 17h0m-30.3-14.5h0m-1.1 3.9h0m-10.4-0.5h0m17 0.1h0m2.1 0.6h0m-16.1-6.1h0m13.8 2.3h0m2.9-5h0m-10.2 9.8h0m4.1-5.4h0m11.4-6.7h0m-3 8.4h0m-20.1 4.5h0m19.2-17.5h0m5.4 27.4h0m-9.7-23.8h0m5.2 8.7h0m-28.3 0.3h0m9.3-21.3h0m10 16.8h0m10.6 20.2h0m4.8-5.5h0m-36.5-7.9h0m29.8 7.1h0m-1.3-16h0m2.2 10.5h0m6.3-19.9h0m-30.4 27.9h0m30.7-12.9h0m-43.1 2.7h0m30 5.2h0m32.2-1h0m-52.5 2h0m51.6-3.1h0m-32.2 4.2h0m-8.9-15.9h0m20.6-0.5h0m-5.6 24h0m-29.5-9.9h0m32.7-4.7h0m7.3 20.5h0m-20.8-32.6h0m-8.1 12.4h0m6.9 4.6h0m3.6-3.8h0m32.2 0h0m-24.1-16.9h0m-13.4 16.3h0m-2.9 9.2h0m17.1-13.8h0m-20.4-3.4h0m1.8 3h0m11.9-4.8h0m-3.6 19.1h0m9.7-17.8h0m-16.9-6.3h0m23.6 32.2h0m-21.7-9.2h0m17.8-1.1h0m-21.1 3.8h0m5.1-21.1h0m7.7 16.8h0m21-19.4h0m1.7 17.8h0m-8.1-12.5h0m-23.4 8.5h0m4.9-0.2h0m0.8 10.1h0m11.1-14.9h0m-8.8-4.8h0m-1.1 2.2h0m17.8 3.7h0m-7.5 0.6h0m5 11.7h0m-17-9.7h0m-11.7 3.1h0m23-13.8h0m-0.5 23.9h0m-17.9-13.4h0m-5.7-12.7h0m11.9 10.6h0m-7.6-2.3h0m11.1-5h0m8.7-0.7h0m7.7 15.2h0m-15.3 8.4h0m20.1-6.9h0m-12.8-17.2h0m-14.7 15.7h0m9.6-17.4h0m4.4 4.2h0m-0.8 15.3h0m13.4 8.8h0m-28.6-11.3h0m4.9-18.8h0m-3.5 17h0m3.8-7.9h0m19.1 11.2h0m-22.8-2.3h0m24.8 17.2h0m-6.8-19.2h0m-8.9-3.1h0m11.8 5.8h0m-39.1-21.2h0m33.4 14.2h0m-27.9-0.6h0m62.8 1.4h0m-26.8-5.2h0m-8.9 23.7h0m-11-21.2h0m1.9 5.5h0m-6.3 1.4h0m4.1-20.5h0m-11.8 2.7h0m2.9 22h0m16.6 0.7h0m-2-4.4h0m8.8-9.5h0m-36.8 17.9h0m32.3-4.8h0m-12.5-10.2h0m4.1-7.1h0m-15.9 12h0m9.2-6.8h0m23 21.2h0m-18.1-20.1h0m-14.8 21.3h0m5.7-18.9h0m41.2 16.7h0m-29.6-19.6h0m30.7 5.9h0m-41.1 9.5h0m26.4-34.3h0m-22.7 32.6h0m3.2-8.6h0m23.8-2.3h0" stroke="#000" stroke-width="1.0" stroke-linecap="round" opacity="0.5" fill="none"/>
<path d="M253.5 731.3h0m3.6 8h0m-6.6-6.7h0m5.4-3.6h0m6.8 4.5h0m-3.8-3.4h0m-2.9-0.1h0m-7.3 8.7h0m5.7-4.8h0m5.7-14.9h0m-8.1 17h0m2-1.1h0m-9.2-11.7h0m23.9 0.7h0m-15.1 11.5h0m4.8 5.6h0m-9.4-7.6h0m8.9 0.7h0m-4.2-2.9h0m-0.3-5.4h0m4.9-2.9h0m-5.6 12.9h0m4-4.5h0m-7.9 0.6h0m0.1-4.3h0m9 1.5h0m3.2 1.9h0m-8.6 0.1h0m6.5-9.5h0m0.4 12.5h0m-5.2-10.3h0m-5.6 7.3h0m8.1-2.1h0m-2.9 3.9h0m-2.1 3h0m-4-12.2h0m13.2 10.1h0m-4-8.5h0m-2.3 8.5h0m-9.2-5h0m15 6.3h0m-2.1-5h0m-7.5 2.6h0m-5.6 4.4h0m2.5-1.7h0m6.2-4.4h0m8.6 2.6h0m-5.9-4.5h0m-5.9 4.6h0m-0.5 0h0m4.2-9.3h0m5.5 5.1h0m2 4.4h0m-4-12h0m-9.1 3.7h0m6.3-1.2h0m-7.1 4.2h0m12.6-2.5h0m-5.4 9.7h0m-7.9-7.8h0m16.6 2.1h0m-6.2-2.4h0m-2.5 0.8h0m9.7-2.9h0m5 7.8h0m-24.7 8.3h0m1.5-13.2h0m6.7-2.8h0m-8 3.8h0m17.9 4.5h0m-13-2.4h0m-1.6-5.7h0m7.3 9.6h0m3.9-5.6h0m-4.8 8h0m0.2-1.7h0m1.2-7.8h0m-9.1-2.3h0m0.1 11.6h0m8.3-7.3h0m-7-4.9h0m12.9-1.3h0m2 8.4h0m-9 5h0m-8.9 4.1h0m-1.9-22.8h0m18.1 24.4h0m-0.4-11h0m-0.6-3.3h0m0.5 1.6h0m-4.3 3.4h0m-6.8-7.6h0m-0.7 7.9h0m9.1-8.1h0m-6.7 11.4h0m-4-6.4h0m5.2 6.2h0m-3.1-1.5h0m-2.4-0.2h0m0.9-0.3h0m1.6-3.8h0m-0.5 0.2h0m6.2 5.5h0m0.6-8.6h0m-8.5 5.5h0m4.3 3.4h0m-3.9-7h0m-3.6-6.6h0m15.2 8.3h0m-8.4 1.8h0m15.9-11h0m-14.3-2.4h0m2.7 13.3h0m2.6-5.1h0m0.1 0.9h0m-8.3 5.6h0m20.7-7.9h0m-17.4 2.1h0m-1.3-1.6h0m-3.4-1.6h0m-0.1-1.8h0m11.1 1.5h0m-12 10.8h0m3.9-10.8h0m7.6 5.2h0m-8.3-10.8h0m3.8 14.6h0m-10.7 4.4h0m14-0.8h0m-9-7.2h0m6 2.8h0m-7.7 5.7h0m3.2-12.8h0m2.5 0.1h0m-7.2 5.1h0m22.2 4.4h0m-20.7 7.2h0m3.4-10.8h0m6.7 2.4h0m-1.2-1h0m-2.9-6.5h0m4.1-5.8h0m-7.3 8.3h0m-3.8 4.9h0m2.2 3.6h0m-0.8-5.6h0m4 4.3h0m-7.9 0.3h0m21.6-11h0m-9 2.7h0m-2.1-11h0m-9.7 10.9h0m9.1-2.3h0m6.9 5.2h0m-10.8-0.4h0m2.1-0.8h0m12.6 4.9h0m-5.3 0.5h0m-4-6.6h0m3.3 6.1h0m-4.7 2.3h0m4.1-11.1h0m-0.7 7.5h0m-3.1-0.9h0m8.8-3.1h0m-11.7-1.6h0m6.8 6.4h0m-6-12.2h0m-5.8 6.9h0m14.4 1.5h0m-17-3h0m14.2 4.1h0m2.4-5.7h0m-7.3 5.6h0m-0.5 2.6h0m-1.6 1.2h0m10.7-9.2h0m-16.7 13.5h0m-1.3-6.3h0m8.5-16.2h0m-3.8 12.2h0m11.7-4.8h0m-7.4 7.6h0m3.9-9.8h0m-1.6 11.4h0m1.3 1.2h0m-7.9 2.3h0m-1.6-7.3h0m3.3 4.7h0m12-3.4h0m2.5 3.6h0m-19.3-4.4h0m23.5-5.9h0m-11.8 1.7h0m-9-0.6h0m8.4 6.9h0m6.2-9.8h0m-7.5 9h0m0-9.7h0m-3.1 1.9h0m-6 11.2h0m3.4-6.7h0m13.2-4.6h0m-14.7 9.1h0m8-3.6h0m4.7-5.4h0m-8-1.6h0m-1.6 6.4h0m5.8 4h0m-12-8h0m17 5.5h0m-8.4-8.2h0m-6.4 8.2h0m10-1.7h0m-5.1 8.5h0m2-9h0m0.2 1.1h0m-2.1-12.4h0m2 15.9h0m-0.3-12.5h0m-2.5 5h0m24.6 6.6h0m-20.2 5.3h0m-2.6-4.3h0m-4.5-6.2h0m1.6 6.9h0m4.5-12.7h0m-7.9 0.7h0m4.4 16.6h0m-2.9-7.4h0m8.2-0.8h0m-0.5-9.4h0m-0.6 11h0m-9 0.6h0m14.1-2.2h0m-6.2-3.6h0m-1.8 2.6h0m-4.5 3.5h0m8.5-1.4h0m-2 3.6h0m-10-12.9h0m7.7 2.1h0m-0.3 0.4h0m9.7 10.9h0m-2.6-0.2h0m10.3 0.3h0m-14.6-15.6h0m3.9 5.7h0m-13.8 5.7h0m5.9 3.8h0m-6.5-2.9h0m10.9-2.7h0m3.1-1.3h0m-11.1 10.9h0m5.3-7.2h0m10.9-2.6h0m-17.4 0.1h0m6.6-4h0m-5.8 5.2h0m15-1.9h0m-5.8 1.9h0m-11.6-2.9h0m8 0.5h0m0 2.6h0m18.4-0.8h0m-19.4-0.8h0m5 6.6h0m5.2-9.4h0m-4.1 7.1h0m-8.9-7h0m3.7 6.2h0m3.4-1.1h0m-4.2-7.8h0m-3.7-3.2h0m9.1-2.1h0m-6.6 9.5h0m3.6-2.5h0m-7.1 0.1h0m9.2 6.3h0m-10.9-3.2h0m6.4-7.9h0m3.2 5.5h0m-1.2-10.2h0m-6.1 10.2h0m1.3 6.4h0m9.6-5h0m-4.9 9.5h0m2.6-5.8h0m-2-4h0m5 3.7h0m-4.7-5h0m-2.9 7.4h0m-0.7-7h0m-5.2 0.6h0m5.8 0.2h0m16.9-3.5h0m-17.1 2.5h0m12.2 2.2h0m-7 1.6h0m0.4-0.5h0m40.7 19.4h0m11.9-3.2h0m-1.3-4.7h0m-4.6 12.5h0m-2.1-4.2h0m-25.8 4.6h0m25.1 2.5h0m-29.1-6.2h0m25.8 2.5h0m5.3-2.4h0m5.1 4.4h0m11-9.7h0m-22.1 2.5h0m-9.7-1.5h0m9.3-0.5h0m-20.5-2.1h0m16.9 2.6h0m31 7.7h0m-19 0.2h0m-6.6-5.5h0m0.7 6.2h0m-16.7 0.1h0m-4.4-0.5h0m25.1 0.4h0m-3.9-15.4h0m17.1 9.5h0m-32.6 3.7h0m30.6-9.4h0m-23.3 0.4h0m5.7 5.5h0m-0.2-2.7h0m10.3 0h0m2.9-1.1h0m-5.1 6.6h0m16.6-14.5h0m-31 10.2h0m26.4 8.4h0m0.4-10h0m-21.5 4.6h0m7.4-1.9h0m-10.6 1.8h0m34.6-3.9h0m-43.7 4h0m-0.4-2h0m18.5-13.5h0m-14 14.1h0m-10.3-1.1h0m7.9 3.5h0m15-1.9h0m-13.7-2.4h0m-0.2 11.3h0m4.5-2.1h0m-0.2-7.3h0m-29.1 2.3h0m19.5-2.5h0m7.5-5.2h0m29.4 7.7h0m-34 0.4h0m23.8-8.5h0m-2.4 12.2h0m-5.4-7.2h0m-8.1-1.4h0m3 0.1h0m2.2 1.6h0m-24 1.5h0m7.9 0.8h0m23.5-5.5h0m4.4 1.7h0m-11.3 3.5h0m-12.9 0.6h0m7.7 1.4h0m-1.9-7.6h0m37.6 1h0m-38.3 5.2h0m7.6-5.6h0m-4.6 8.7h0m-1.6-8.5h0m8.2 1.8h0m-14.2 2.1h0m-14.5-2.1h0m-7.2 7.5h0m51.5-13.2h0m-34.5 0.3h0m15.7 10.8h0m-23.5 0.1h0m26.3-9.5h0m3.7 5.6h0m-5.7 1.4h0m-26.4 1.2h0m33.4 4h0m9.1-1.9h0m-6.4-5.7h0m-36.7 4.7h0m33.1-10.8h0m-5.7 7.3h0m32.1-4h0m-16.8-1.6h0m-22.6 11.3h0m-11.4-7.4h0m38.9 4h0m-7-4.6h0m-11.5 5.6h0m-11.1-2.6h0m0.7 0.3h0m-2.8 3.9h0m-0.6-3.5h0m8.1-6.2h0m-6.6 5.1h0m18.4-4.1h0m1.3 7.6h0m-0.1-5.6h0m-6.1-6.4h0m15.9 9.4h0m-19.6 3.8h0m-9.1 2.7h0m17.4-11.8h0m-37.8 5.7h0m42.5-4.7h0m-31.6 5.4h0m27.6-4h0m-6.8 2.6h0m-16.8-2.3h0m39.1 4.5h0m-25.6-3h0m11.1 4.9h0m-18.3-5.9h0m1.5-9.7h0m21.9 9.6h0m-31.6 1.9h0m3.9-6.6h0m13.8 2.2h0m-17.8 7.3h0m-5-8.7h0m48.8 0.3h0m-35.6 6.5h0m0.5 1.8h0m11.6-1.7h0m12.1-2.5h0m-34.4-0.1h0m1-2.4h0m21.6-0.3h0m0.7-2.6h0m-31.1-1.1h0m18.2-3.7h0m-8.7 14.5h0m1.8 7h0m-3.7-2.4h0m4.6-10.9h0m30.1-0.3h0m16.6-1.5h0m-31.4-1.2h0m-10.3 0.4h0m10.9 5.3h0m-36.4-12.9h0m37.5 25.2h0m25.1-20.2h0m-26.9 13.9h0m-27-5.4h0m40.1 2.6h0m12.3-6.5h0m-48.6-6.4h0m6.8 1.1h0m11.7 3h0m-1.5-2.1h0m39.6 6.6h0m-33-0.8h0m-27.7-1.7h0m73.8 5h0m-67.8-5h0m5.5 5.3h0m-5.8-4.3h0m13.8 2h0m10.4 8.7h0m-4.5-8.2h0m7.1-4.8h0m-5.3 12.4h0m-1.6-11.4h0m-3.6-5h0m-0.3 6.9h0m-31.8-3h0m9 7.8h0m49.8 2.7h0m-16.8 0.5h0m5.8 0h0m-24.2-10.1h0m49.4-1.1h0m-46.9-1.8h0m32 7.3h0m-19.9 2.9h0m-25.7-5.9h0m47.4 5.5h0m-0.7-4.8h0m-24.7-5.6h0m22.9 6.2h0m-8.5 0.5h0m-4.2 3.5h0m-16.2 5h0m5.2-9h0m-29.2 5.7h0m48-0.8h0m-27.2-4.7h0m26.2-6.1h0m-5.3 12.4h0m-17.5-9h0m7.7 7.6h0m-5.1-9h0m22.8 7.1h0m-38.8-2.1h0m27.3-3.8h0m25.7 0.9h0m-50.4-1.3h0m28.4 1.3h0m-15 10.1h0m-7.9-5.3h0m14.2-0.7h0m0-3.4h0m-7.7 1.5h0m2.3 2h0m11.4-1.2h0m6.1-4.4h0m-11 5.5h0m3.8-6.3h0m1.5 6h0m-26.4-5.2h0m15.4 7.5h0m22.9 0.3h0m-21.8-9.9h0m-2.5 9.4h0m16.3-2h0m-6.9-7.9h0m-3.3 11.1h0m-8.7 0.6h0m-4.6 3h0m11.3-14.2h0m-0.9 12.7h0m-11.1-12.1h0m21.1 5.8h0m7.6-3.5h0m-28 8.1h0m22.6-7.3h0m-20.6 8.2h0m7.1 1h0m-17.2-9.5h0m16.2 3h0m-9.4 3.1h0m-3.2-12h0m33.1 14.5h0m-55.6-10.1h0m39.7 0.8h0m6.2 7.6h0m1-1.6h0m-5.9-0.9h0m5.6-0.3h0m-11.1-12.3h0m-10.9 16.5h0m16.5-7.6h0m-17.8-0.8h0m8.3 5.2h0m19.5 1.9h0m-33.8 3.9h0m17.4-10.7h0m3.1 1.8h0m10.1 2.8h0m-37.7 1.3h0m30.9-1.8h0m7.7-6.8h0m12.7 15.3h0m-8.9-10.6h0m-15.1 5.1h0m-6.9-1.5h0m14.4 7.8h0m-24.7-10.8h0m35 3h0m-32.7-8.9h0m9.2 5.9h0m23.7-2.4h0m-18.1 13h0m-5.3-12h0m25.6 3.6h0m-53 0.4h0m38.5-4.2h0m-24.1 4.5h0m28.3-0.6h0m-26.6 1.4h0m15.1-1.8h0m-1.7 0.4h0m18.4-2h0m-0.3-0.8h0m-20.9-0.5h0m18.4 2.9h0m-22.6-9.3h0m29.2 8.9h0m-19.6 2.4h0m0.2 5.3h0m8.5-4.5h0m-7.7-6.2h0m19.1 1.6h0m-7.4-10.9h0m-14.3 7h0m11.5-1.7h0m24.3-0.9h0m-37.3 10.3h0m-7.6-7.5h0m40.5 6.5h0m-29.4-2.4h0m-22.4-0.1h0m29.1 1.4h0m-16.6-1.1h0m-9.7-2.9h0m30.8-4h0m-15.6 1.2h0m17.6 5h0m-4.4-8.5h0m-18.4 4.8h0m4.6 0.6h0m13.2 4.6h0m-10.4 0.3h0m0-6.3h0m2.6 10h0m2.6-2h0m4.7-8.6h0m-27.6 10.8h0m5-11.4h0m33 3.8h0m-12.3 5.4h0m26.2-3.6h0m-29.2 4h0m-11.6 4.2h0m23.9-6.1h0m-30-1.6h0m35.2 2.9h0m-39.6-0.9h0m29.1-14.3h0m4.6 13.4h0m-15.9 3.1h0m23-4.2h0m-9.6-2.9h0m-13.6-0.3h0m-7.2 6.3h0m-2.8-6.6h0m-5.9-9h0m6.3 14h0m36.9-4.2h0m-32.9 6.1h0m19.3-1.7h0m-9.8 1.9h0m-5.2-0.6h0m24.6-8.6h0m-7.1 5h0m-0.4 3.1h0m-30-3.2h0m-5.7 0.6h0m36.5-0.4h0m-10.9 3.3h0m4.5-2.2h0m-3.9-6.6h0m-44.8 12.8h0m29.5-10.5h0m-1.3-0.1h0m18.2-1h0m-16.6 5.2h0m16.5 0.7h0m17.9-1h0m-22.1-7.4h0m16.5 3h0m18.5 1.2h0m-37.2 4.8h0m-13.5-2.8h0m21.8-6.2h0m5.6 4.1h0m3.3 4.8h0m-4.5 7.5h0m-1.4-9.9h0m-2.9 2.3h0m-12.7 3.5h0m-2.6-0.5h0m1.2-8h0m-9.3-5h0m30.8 9.5h0m-49.5 3.2h0m12-5.1h0m26.4 6.6h0m6-6.6h0m-4.6 4.2h0m-13 0.2h0m2.9 7.2h0m-3.7-9.5h0m2-1.4h0m-16.4-2.9h0m12.8 11.1h0m25.4-9.6h0m-19.7-0.3h0m11.9-2.3h0m-49.5 12h0m46.7-7.3h0m10.6-6.7h0m-7.8 2.7h0m-0.3 11.2h0m-17.8-7h0m-9.3-3.7h0m-23.1 0.1h0m64.7 3.6h0m-4-8.6h0m-28.4 11.3h0m-11.5-13.5h0m34.8 6.8h0m1.4 0.5h0m-3.1-2.4h0m-21.9 0.3h0m-21.1 1.6h0m42.5 4.2h0m-26.3-9h0m33.8 7.2h0m12.4 1.2h0m-20.1-6.2h0m-18.9 8.9h0m-3.3-3.2h0m20.4-3.1h0m-18.9 2.5h0m22.8-1.3h0m-29.8-0.1h0m6.7-4.5h0m8.2 4.5h0m8.9 0.8h0m1.9-2.7h0m-16.2 6.5h0m-3.6-4.5h0m-8.4-2.3h0m30 9.5h0m-21.4-11.5h0m21.2 2.4h0m16.7 4.2h0m-10.6-2.3h0m-19.8-2.4h0m-1.6 4.7h0m-8.6-3.3h0m32.5 2.9h0m-26.6 10h0m35.7-5.9h0m-15.3-7.7h0m-41 6.4h0m25.6-3.8h0m-11.2-1.9h0m20.8 2.8h0m-8.3 2.8h0m-2.2-8.3h0m7.2 7.4h0m-23.9-2.4h0m48 10.9h0m-23.1-18.2h0m-16.5 7.9h0m29.6 1.9h0m-28.4 3.8h0m21.5-16.5h0m-19.6 14.3h0m-8.6-5h0m39.4-0.3h0m-26.1 2.5h0m13.6-4.2h0m2.8 7.2h0m-20.2-1.4h0m17.2-3.3h0m-5.9 5h0m1.1-6h0m5.7 7.6h0m-25.1-0.1h0m-2.3-8.6h0m50.3 5.2h0m-40.1-5.5h0m7.6 1.3h0m-1-2h0m-11.1-6.1h0m-9.6 11.3h0m40.8-3.7h0m-19.1-4.8h0m11.9 8.4h0m-23.4-5.3h0m-8.2-0.3h0m23.6 6.8h0m13.7 0.9h0m6.8-15.5h0m-41.2 6.4h0m8.6 10.4h0m25.6 0.2h0m-10.2-4.2h0m11.3 0.5h0m-25 6.9h0m31.7-9.5h0m-8 0.9h0m-9.2 5.5h0m-23.9-1.5h0m3.5 2.8h0m39-18h0m-10.5 16h0m-14-3.9h0m-1 3.8h0m12.6-2.6h0m8.7-4.7h0m-32.8 2.8h0m45.2 7.8h0m-8.9-1.4h0m-10.2-3h0m-16-4.7h0m11.7-8.4h0m-13.1 9.9h0m-13.5-9.5h0m7 6.2h0m42 2.7h0m-37.4-2.5h0m-24.7 10.5h0m12.7-17.3h0m26.7 12.1h0m8.3 6.2h0m-24.3-8.9h0m-7.7 0.2h0m40-4.1h0m-24.6 13.1h0m-21.2-9.7h0m19.7-3.1h0m-19 4h0m11.2-0.3h0m12.5 9.4h0m-17.7-0.4h0m16.3-15.1h0m-26.5 2.2h0m35.5 7.3h0m-10.7-3.2h0m-3.2 4.8h0m-2.9-7.6h0m7.1 2.7h0m-16.1-4.8h0m1.1-2h0m5.4 5h0m4.8-4.5h0m7.1 8.6h0m-30.3 0.9h0m22.5-8.5h0m8.7 10.6h0m-4.7-9.1h0m26.4-2.4h0m-23.5 3h0m-19.7-2.5h0m6.9-1.3h0m-2.2 11.1h0m2.2 1.9h0m4.5-8.4h0m5.1 1.7h0m-18.3-6h0m30.3 3.9h0m-10.1 4.6h0m16.4 2h0m-43.4 5.4h0m28.8-7.9h0m1.3-0.8h0m-29.3-7.6h0m-0.1 9h0m23.6-9.7h0m-1.2 11.8h0m4.8-4h0m22.5 3.3h0m-24.4-3.2h0m2.9-5.8h0m-10.3 7.9h0m-17.5-3.2h0m15.9 8.2h0m-8.6 3.3h0m-0.6-17h0m13.6 9.4h0m21.8-2.2h0m-9.1-8.8h0m-15.7 8.5h0m11-5.1h0m4.6 4.5h0m-7.2-1.9h0m-6.6 11.4h0m11.1-13.5h0m2.5 13h0m-3.7-14.3h0m-2.7 11.2h0m-24.9-7.6h0m29.3 4.1h0m-8.1 1.5h0m-27.2-8.4h0m45.7 9.3h0m-12.4-2.9h0m24.1-9h0m-4.3 10h0m-38.4-8.2h0m58.3 5.1h0m-45.9 2h0m1.9 6.5h0m-5.7-2.6h0m15 7.4h0m6.4-16.2h0m-9-1.7h0m-17.3 1.2h0m26.8 4h0m-21 2.1h0m4.1-5.8h0m-23.1 7.5h0m8.3-7.8h0m29.4 4.1h0m-35.1 4.6h0m11.6-5.1h0m19 6.4h0m-14-4.3h0m23.8 4.2h0m-30.7-18.4h0m9.8 15.3h0m-9.9-1.7h0m8.5 0.4h0m15.9-1.7h0m-2.8 4.9h0m-20.7-1.3h0m15.3-7.7h0m13.4 1.7h0m-32.5-6.2h0m22.4 5.2h0m-3.9 13.5h0m-23.5-14.4h0m5.2-0.1h0m11.9 4.5h0m-1.3 8.2h0m-6.5-7.3h0m0.2 8.2h0m11.4-5.9h0m-5.4-2.8h0m-1 3.1h0m-3.8 4.8h0m-2.1-9.1h0m8.5 2.5h0m3.4-1.6h0m4.7 9.4h0m-6.3-6.8h0m-7.5-13.1h0m18.1 10.6h0m-23.8-1.7h0m-16.9-9.2h0m28.5 5.4h0m-5.8 3.2h0m7.2 5.4h0m5.5-2.3h0m-2.7 3.3h0m7.2-1.5h0m-12.2-7.4h0m-14.7 3.5h0m19-3.2h0m-20 5.3h0m15.8 4.3h0m-27.5 1.2h0m27.7-8.9h0m-4.1-2.3h0m38.7 9.1h0m-38.1-4h0m-4.1-4.2h0m7 10.4h0m-1.4-11h0m5 2.3h0m-3 1.4h0m-1.1 2.4h0m15.4 1.4h0m-35.1 4h0m6.8-6.1h0m14.8 2.6h0m-18-4.5h0m15.6-7.9h0m-2.9 7.1h0m9.3 7.2h0m12.7-2.5h0m-21.3-9.9h0m1.4 6.3h0m6.3 9.1h0m-20.9-1.7h0m27.1-7.5h0m-2 5h0m3-3.4h0m-24.6 0.2h0m-16-0.3h0m40.2 6.2h0m4.6 0.3h0m-19.4-6.6h0m11-1.3h0m-2.1-9.8h0m3.8 10.9h0m-18.1 0.2h0m4.6 1.4h0m-0.8 0.2h0m37.4-3h0m-18.4-0.2h0m-14.3 7.7h0m8.9-13.2h0m0.2 1.1h0m-30.5 6.4h0m32.7-3h0m-39.6-1.9h0m11.2 9.8h0m15.5-5h0m-15.5-1.2h0m-0.4 2h0m37.8-3.5h0m-13.5 0h0m-22.3 4.1h0m25.3 0.4h0m-1.6-7.2h0m6.1 1.4h0m-1.5 2.4h0m6.7 6h0m-2.3 2.1h0m-37.6-3.4h0m45-5.2h0m-12.3 7h0m-7.5 0.7h0m-2.4-1.2h0m0.9-0.9h0m5.2 1.1h0m7.9-5.5h0m-15.6-3.2h0m-9.8 3.6h0m6.8 4h0m-7-3.9h0m14.7-2.9h0m-13 2.3h0m0 0.6h0m17.2 7.2h0m-0.8-17.7h0m-10.7 9.6h0m15.9-2.3h0m23.2-7.7h0m-23.1 16.3h0m-5.7-6.7h0m25.8 5.6h0m-17.7-4.2h0m-23-8.6h0m11.6 10.8h0m5.1-0.4h0m-4.6-8h0m1.6 3.2h0m-5.6 1.7h0m-7.4 9h0m-4.2-3.3h0m17.5-14.7h0m0.8 7.4h0m-16 7.9h0m16.5-8.6h0m2.2 3h0m19.6 3.1h0m-38 5.3h0m17.4-12.2h0m-18.8 12.8h0m14-13.2h0m-12.5 10.1h0m28.1-5.9h0m-17.2-2.4h0m-31.3 4.2h0m51.5-3.9h0m19.6 3.4h0m-23.7 6.1h0m-8.2-11.6h0m-22.7 2.1h0m16.2 2.8h0m9.4 2.6h0m-4-11.4h0m2.5 8.3h0m-0.1 2.1h0m-29 1.9h0m2.1-4.6h0m-5 3.4h0m38.7-5.2h0m-44.1 3.8h0m42.3-6.6h0m-31.8 10.5h0m31.9-1.4h0m-5.7-2.1h0m-14-1.7h0m14.5-0.8h0m-14.2-2.9h0m12.4-1.1h0m-13.3 0.7h0m1.7 1.4h0m-4.8-2.1h0m0.7 4.7h0m-9.6 0.5h0m25-7.4h0m-5.1 12.5h0m2.3-6.3h0m4 2.4h0m-4.5 0.7h0m-20.1 1.1h0m-0.9-8.9h0m42.3 13.5h0m-16.1-11.7h0m-21.5 4.7h0m0.2-1.6h0m32-1.6h0m-3.2-1.8h0m-40.9-4.7h0m17.2 16.7h0m11.7-11h0m-3.2 10h0m-5.1-12.1h0m-17.9 5.5h0m19.1-9h0m18.1 7.3h0m-21.5 0.7h0m5 2.9h0m2-5h0m26.9 6h0m-17.1-4.9h0m-5.6-6.8h0m-13.4 4.2h0m12.2-0.4h0m-27.2-4h0m29.2 5.3h0m-17.7 2.2h0m10.3 3.3h0m-8.5-6.8h0m-9.6-7h0m24.2 7.1h0m-3.6 1.3h0m7.1 5.4h0m-25.4-5h0m-5 5.3h0m5.6-3h0m-11.6 9.7h0m38.3-10.9h0m-4.1 1.3h0m-31.6 5.1h0m32.5-11.9h0m-46.9-0.2h0m38.9 8.4h0m-0.2 1.8h0m27.6-1.1h0m-50.4-8.1h0m14.4 2.8h0m-0.5 5h0m36.2 2h0m-19.3-7.3h0m-16.6 4.8h0m18.8-5.7h0m-23.3 12.6h0m-14.5-8.2h0m29.7-1.2h0m-2.6 6.9h0m-7.7-10.1h0m27.2 2.8h0m-29.4-8.2h0m31.4 16.5h0m-22.3-9.2h0m-14.5 5.2h0m-30 1.4h0m48.3-13.2h0m-5.2 10.2h0m20.5-6.2h0m-19.6 7.7h0m2.4-0.5h0m-15.7-6.5h0m-0.9 3.8h0m12.7 3.3h0m-0.3-0.1h0m10.4-12h0m-8.7 2.6h0m-1.6 8h0m5-1.7h0m-0.8 5.8h0m-8.7-3h0m15.4-9.6h0m-21.7 9.3h0m3.3-4.1h0m2.8-9.8h0m-3.3 8.5h0m19.5 1.9h0m-11.2 13h0m34.2-13.7h0m-69.9 3.5h0m47.8 3.5h0m1-3.5h0m3 0.6h0m2.1 0.8h0m3.5-3.6h0m-33.9 2.8h0m14.1-2.5h0m12-2.5h0m-13.4 0.7h0m-14.7 0.6h0m2.3 5h0m9.7-0.2h0m20.7-2.6h0m-29.5-4.7h0m24.4 7h0m-22-0.8h0m10.8-0.2h0m15.1 3.3h0m-1.3-7h0m-17.8 1h0m33.8 2.3h0m-56.8-2.4h0m34.8 3.8h0m-8.5 6.2h0m1.3-7.1h0m12.1-3h0m-24.3-8.3h0m-4.9 7.8h0m29 4.4h0m-1.3 1.3h0m12.2-8h0m-25.9 11.7h0m8.1-13h0m1.3-4.9h0m-4.1 11.8h0m5.3-5.5h0m-15.7 8.5h0m34.4 1.1h0m-31.7-3.9h0m3.4-6h0m2.1 5.5h0m23.9 6.3h0m-15.6-9.6h0m-12.7-3h0m-27 7h0m28.5-2h0m-0.5-6.9h0m4.2 7.1h0m-18.6-2.6h0m38.6 9.6h0m-36.8-9.9h0m10.9 3.4h0m10.3-2.9h0m-7.5-3.9h0m9.9 11h0m0.8-1.2h0m-27.1-8.3h0m1.7 6.8h0m1.5-6.9h0m24.3-4.5h0m3.7 4.8h0m5.5-1.2h0m-39.7-1.1h0m20 6.2h0m4.5 5.8h0m6-8.1h0m-27.5 7.1h0m15.5-16.9h0m22.3 21.3h0m-29.7-10.9h0m9.8-1.8h0m6.2 1.9h0m-6.4 5.4h0m24.4 5.8h0m-30.4-15.5h0m-6.2 9.1h0m38.3 2.3h0m-14.5-8.9h0m-29.4 8.4h0m15.6-5.1h0m20.2 0.6h0m-26.3-6.4h0m-6.9 6.6h0m8.3-4.1h0m-3.6 3.4h0m12.9 8.5h0m-6-11.4h0m16-1.6h0m-4.2-4.4h0m-13.3 2.7h0m7.9 6.8h0m16.9 0.9h0m-8.8-3.9h0m0.4 12.4h0m7.4-17.1h0m-29.1 11.2h0m-29.5-10.4h0m28.5 7.5h0m24.5 1.1h0m-18.7-3.2h0m11.6 2.5h0m-1-3.2h0m7.7-2.4h0m6.6 0.7h0m-22.6-1h0m17.7 6.4h0m-19.7 2.3h0m14.4-10.5h0m2.3 12.4h0m-9.8-9.4h0m-0.3 1.4h0m-0.5 3.1h0m25.6-3.8h0m-32.6 1.4h0m3.8-8.7h0m-3.6 12h0m24 1.3h0m-14.6-4.5h0m-15.1 8.6h0m6.7-7.4h0m24 9.1h0m-20.4-11.7h0m14 5.2h0m-23.3-4.3h0m24-6.1h0m-24.8-2.7h0" stroke="#000" stroke-width="1.0" stroke-linecap="round" opacity="0.7" fill="none"/>
<path d="M259.3 698.3h0m-4.1 52.1h0m2.4-54h0m-3 18.5h0m0.3-23.9h0m-4.5 26.8h0m1.4-9.6h0m5.3 6.6h0m-3.5-3.1h0m-3.1-4h0m-1.2 40.1h0m-3.5-27.5h0m19.5 1.7h0m-11.6-13.1h0m-6.4-6.7h0m9.5 3.7h0m-10 0.9h0m2.8 2.7h0m11.3-0.1h0m-13.7-9.5h0m7.2 6.1h0m0.3-2h0m-7.4-16.7h0m11.9 10.8h0m-14.7 10.1h0m18.8 18.8h0m-17.5-16.3h0m8.2 2.6h0m-7.4-11.3h0m10 6.8h0m6.3-7.8h0m-10 4.1h0m3.5 10.7h0m0-1.4h0m-9.4 0.2h0m5.2 24.1h0m9.2-33.6h0m-11.5 24.1h0m2-24.6h0m0.3 2.6h0m-2.9 21.3h0m11.4-28.5h0m-10.5 1.2h0m8.5 1.3h0m-0.6 14.6h0m-3.7 19.4h0m1.2-15.5h0m-1.2-1.5h0m2.6-12.2h0m-5.2-14.9h0m4.3 40.2h0m6-12.5h0m-14.9 4.8h0m2.1 23.8h0m0.3-18.2h0m-0.1-19h0m4.6-8.2h0m-2.1-0.8h0m2.3-3.5h0m-3.7 19.3h0m11.8-5h0m-9.4 21.2h0m0.9-41.9h0m-0.7 13.1h0m-1 14.2h0m-0.2 20.5h0m-0.6-6.8h0m2.4 10.4h0m2.4-25.4h0m3.7-11.5h0m0.2 6.8h0m-5-22.4h0m0.4 10h0m10.9 13.7h0m-15-11.5h0m2.7 2.5h0m5.9 8.3h0m-1.8-2.3h0m-2.7 10.7h0m-5.9-3.4h0m8.6-1.5h0m-8.9 10.6h0m15.8-31.5h0m-2.1 16.3h0m-12.5 15h0m18-14.3h0m-24.3-10.7h0m7.7 17.5h0m7.8-2h0m-13.7-1.4h0m17-14.5h0m-10.9 16.6h0m-2.6-6.9h0m5.5-26.3h0m0.7 21.5h0m0.8 17.6h0m7.4-9.9h0m-6 5.3h0m-7.1-11.9h0m1.1-11.4h0m-1.9 23.9h0m5.6-4.8h0m-8.1 2.6h0m-0.3-4.7h0m4.9 2.7h0m-2.4-1.1h0m1.7 7.4h0m4.4-0.7h0m8-24.8h0m-18.7 28h0m21.5-9h0m-16.3 23h0m1.2-20.1h0m2.1 9.3h0m5.9-15.7h0m-5.1-7h0m-7.5-7.8h0m2.9 19.3h0m-2.1-12.5h0m8.4-13h0m-10.3 30.5h0m0.7-4h0m15.1-9.6h0m1.8-13.1h0m-18.3 36h0m15.2-11.1h0m-11.6-0.9h0m-2.9-11h0m-1.3-17.1h0m1.8-3.5h0m2.7 47.2h0m6.9-26.9h0m-2.9 0.2h0m-0.9 6.3h0m-1.2 18.3h0m0.3-31.1h0m10.7 22.2h0m-10.8-8.4h0m8.5-13h0m-4.8 7.6h0m6.9-0.3h0m-13.2-0.7h0m2.5-2.8h0m5.2 10.4h0m-2.5-11.4h0m-6.4 3.6h0m9.9-2.9h0m-8.9 18.1h0m7.3-26h0m5.3 16.5h0m-1.1 1.8h0m-7.5-12.8h0m-1.7 20.9h0m-2-19.8h0m-1 15.5h0m7-5h0m-3.4 5.3h0m5.7 13.6h0m-7.1-23.8h0m-4.1 2.8h0m15.1-15.5h0m-8.2 21.3h0m-2.8 20.6h0m0-20.4h0m3.8-23.7h0m8.5 0h0m-6.5-2.8h0m-3.3 36.5h0m-1.6-3.1h0m-0.4-11.9h0m10.9-14.1h0m-13.8 27.6h0m4.7-23.4h0m4.1-20.2h0m16.1 5h0m-27.9 37.8h0m8.4-19.7h0m-1-9h0m-3.5 8.4h0m4.9 12.3h0m0.8-25h0m0.2 11.7h0m-7.9-7.4h0m15.1 10.1h0m-6.8-2.5h0m-4.6 19.5h0m-2.3-15h0m-2 2h0m5.4 3.1h0m2.8-16.4h0m-0.9 17.1h0m6.3-13.8h0m-5.3 31.8h0m-5.6-31h0m-1.3 7.4h0m6.5 29h0m-4.8-35.6h0m-0.1 7.9h0m7.2 8h0m-4.6-6.6h0m2.3-21.7h0m-6.6 22.3h0m-2-18.2h0m13.2 17.5h0m7.7 6.6h0m-12.8-14.5h0m2.9 3.5h0m-3.8-1.1h0m10.1-6.9h0m-8.3 7.8h0m-2.4 16.1h0m11.4-22.2h0m-3.7-3.8h0m-12.6 11.9h0m8.7 6.5h0m5.9-15.4h0m-1.9 6.8h0m-13.9-2.8h0m4.3 9.6h0m1.5 14.8h0m0.3-17.2h0m-3 2.8h0m1.1 10.1h0m16.6-16.2h0m-16.4-14.8h0m7.5 6.2h0m-2.4 21.1h0m-8.4-23.9h0m12.8-5.6h0m-6.9-4.6h0m4.5 34.1h0m-1.9 0.7h0m-2.7-2.4h0m-7.6 7.2h0m-0.5 1.4h0m14.8-5.1h0m-9.8-6.8h0m4.2 12.5h0m-0.1-18.1h0m1.1 32.9h0m-5.2-37.9h0m5.5 19.8h0m-1.8-15.8h0m2.8-2.7h0m-6.8 1.5h0m-1.7 2h0m8.4 34h0m2.4-43.8h0m-9.4 7.9h0m2 15.1h0m0.4-2.2h0m6.1-16.4h0m-10 22.7h0m10.8-10.7h0m-8.1 5.2h0m-0.3 2.2h0m12.4-22.5h0m-3.8 14.5h0m-4.4 1.4h0m-5.7 7.9h0m3-8.8h0m1.6-18.3h0m1.6 8.5h0m-1.1 6.6h0m4-8.5h0m-5.8 0.2h0m5.9-13.3h0m-3.6 29.3h0m2.5-16.8h0m-7.3 10.2h0m4.8 4.6h0m-3.5 4.7h0m4.4-15.5h0m-5.7 5h0m10.4-15.3h0m0.6 9.4h0m-7.1-10h0m-3 28.5h0m6.7-20.8h0m-4.4 2.8h0m-2.7-7.3h0m5.8 9.5h0m-4.4-4.5h0m-0.4 9.6h0m1.2-2.6h0m3.3 4.5h0m-4.7 1.6h0m7-11h0m-2.4-0.3h0m3.2-7.7h0m-6.3 3h0m0.9-0.3h0m-0.1-5.4h0m5.7 28.4h0m-8.6-3.2h0m7.9-14.6h0m8.8-1.1h0m-4.8 4.7h0m-12.7 25.5h0m-0.2-34.5h0m4.1 18.1h0m-5.6 4.6h0m2.1-7.4h0m-4.4-6.7h0m5.3-1.8h0m-1.7-5h0m7.8 19.9h0m-6.3-1.5h0m4.2-1.3h0m-2.9-11.9h0m-6.4-6.2h0m18.1-4.2h0m-14.1 30.8h0m9.7-16.5h0m-8.9 0.1h0m-3.4-5.4h0m8.4 5.3h0m-3.1-5.9h0m1.3-14.5h0m-1.3 14.2h0m2.1-13.4h0m2 17h0m-9.2 6.5h0m7.5-5.3h0m-0.7 4.9h0m4.5-25.3h0m3.7 23.3h0m-8.3-1.3h0m-4.7 15.2h0m4.7-31.3h0m-6.6 18.2h0m2.8 0.7h0m1.2-0.7h0m6.7-3.4h0m-9 8.1h0m3.6-17.2h0m0.1 3.8h0m-6.3 14.7h0m9.4-20.9h0m-1.1 23.4h0m6-12.5h0m1.5 16.2h0m-14.1 2.3h0m8.5-34.3h0m-6.4 35.6h0m1.7-24.7h0m8.5 22.9h0m-3.2-21.4h0m-2.1 15.7h0m-6.3-22.1h0m-1.8 26.2h0m5.2-11.1h0m15.6-20.6h0m-10.6 3.9h0m-4.5 21.1h0m-6.7 1.3h0m7.6 10.8h0m1-52.3h0m-3.2 22.3h0m2.6 5.6h0m-2.9-1.3h0m4.3-4.3h0m1.5-22.3h0m-2.5 22h0m5.5 6.8h0m-12.5-11.7h0m0 16h0m13.7-15.6h0m-6.4 6.3h0m5 7.4h0m-4-11.9h0m-3.8 30.8h0m2.9-8.2h0m-2.2-18h0m0-23.9h0m2.3 27.5h0m-3.4 19.8h0m2.5 2.5h0m-2.7-18.8h0m0.4-9.8h0m0 2.6h0m-1.9 11.2h0m2.2 10.1h0m10.3-18.5h0m-12.1-6.1h0m-4.8 8.4h0m15.6-9.7h0m-1.3 28.9h0m-12 3.8h0m2.2-12.9h0m-0.2-18.1h0m7 8.2h0m-2.3-9.3h0m7.1 23.4h0m-8.5-30.7h0m-1.2 35.7h0m-1.7-13.2h0m14.2-21h0m-15 13.7h0m3.5-7.1h0m2.6 4.3h0m-6.9 4.4h0m8.9-18.5h0m5.6 35.1h0m-11.1-21.3h0m2.5 32.1h0m2.4-25.7h0m-4.9-18.4h0m-1.2 20.9h0m-2.2 19.7h0m0.4-28.1h0m10.3-13h0m-7.8 4.5h0m-3.8 17.7h0m8.8-25.8h0m-6.8 31.2h0m7.5-5h0m-6.5 1.5h0m-2.9-6.8h0m10.4 7.5h0m-12.6-7.7h0m14-17h0m-4.7 12.9h0m-4.2 5.6h0m-5-4.3h0m1.1 39.8h0m0.2-29.9h0m8.6-2.2h0m-1.6-4.8h0m-0.2-11.1h0m-2.7 14.9h0m2.2-1.2h0m1.3-15.1h0m-9.3 24.6h0m9.4-7.1h0m-1.7 4.9h0m-2.6 11.1h0m13-24.2h0m-15-9.9h0m-3.5 14.8h0m6.4 23.9h0m1.3-7.6h0m3.8-23.3h0m6.9-16.3h0m-5.2 36.1h0m-7-22.3h0m4.3-1.3h0m-0.4 13.9h0m3.1-8.3h0m1.8 8h0m-7.4-4.4h0m-7.1 12h0m8.4-13.5h0m-4.2 3.5h0m4.4 2.8h0m6 7.2h0m-13.8-8.2h0m8.2-22.6h0m7.3 2.3h0m-5.2 30.4h0m-8.4-31h0m18.8-19.5h0m-19.2 37.6h0m4.9-10.2h0m-6.3 33.2h0m3-7.2h0m6.4-1.9h0m-0.4 5.9h0m0.3-31.9h0m-8.3 25.2h0m2.6-7.1h0m6.2-7.4h0m-6 1.1h0m-3 11h0m1.8 6.7h0m10.5-11.6h0m-7.4 7.8h0m-3.2 1.5h0m6.9-14.6h0m-3.4 11.6h0m5.5 1.7h0m2.8 1.9h0m-11.6-15.2h0m4.6-8.3h0m-8.8-10.5h0m14.3-1.6h0m2.4-4h0m-4.6 17.9h0m1.6 7.6h0m-12.8 0.9h0m15.6-12.7h0m-4.6 12.9h0m-0.2-33.6h0m-6.4 18.5h0m10.9 11.7h0m-3 15.8h0m-6.2-19.8h0m11.9-7.8h0m-16.8 38.3h0m10.3-29.8h0m-1.7-11.2h0m-9 33.3h0m8.7-24.9h0m-9.6 1.9h0m10.4-12h0m2.5 6.3h0m1.1 25.2h0m7.8-19.2h0m-17.6-17.7h0m11.1 29.4h0m-7.8-0.7h0m5.2 4.8h0m-3.4-23.6h0m-2.7 1.6h0m-6.7 8.4h0m7.3 27.7h0m0.9-43h0m-1.1 5.1h0m0.7 0.8h0m3.7 7.4h0m5.5-4.3h0m-5.4 7.8h0m-6.6 17h0m4.7 5.8h0m-4.8-20.3h0m1.3 8.1h0m-2.1-32.7h0m5.9 23.8h0m-4.3-1.1h0m1.2-34.1h0m2.5 40.1h0m5.7-21.5h0m-9.2 35.2h0m-1.1-3.8h0m1.3-8.5h0m-6.6 6.9h0m4.3 2h0m8.7-0.3h0m-5.7-18.1h0m3.7-7.2h0m0.5 4.4h0m-5.8 4.3h0m9.3 15.4h0m-10.6-13.2h0m1.3 3.8h0m5.3-6.4h0m0.8 6.2h0m-1.8-3.7h0m-7.9 30h0m11.7-43.7h0m0.4-2.7h0m-4.6 5.4h0m-7.3 5.2h0m6.1 7.6h0m-4-17.5h0m0.7 18.8h0m-2.3 1.8h0m14-22.5h0m-2.8 27.7h0m-6.7-4.4h0m-1.3 1.7h0m-0.1-5.6h0m-2.4 2.7h0m6.8-7.3h0m-6.3 30.9h0m-1.7-32.3h0m4.2 7.3h0m8-23.3h0m-8.1 35.3h0m-4.1-30h0m4.5-0.5h0m-0.3 24.4h0m-2-24h0m5.2-1.9h0m4.2-2.9h0m3.7 14.5h0m-12.4-8h0m-3.1 35.3h0m5 4.1h0m2.3-27.8h0m0.8-15.7h0m-5 21.9h0m1.5 16.3h0m6.7-44.2h0m-5.2 37.7h0m4.8-3.1h0m0.8-19.2h0m-7 7.7h0m4.1-30.6h0m4 11.2h0m-0.4 20.2h0m-3.6 15.1h0m6-10.3h0m-6.6-6.7h0m-0.2-6.4h0m-3.9 7.4h0m1.6 4.7h0m-2.6 13.6h0m-1.1 5.7h0m3.6-26.8h0m-2.8 3.7h0m4.7-26.5h0m-0.6 18.3h0m-3.9 20.5h0m8.7-20h0m-12.4-5.4h0m5.6 8.7h0m-2.4 15.8h0m8.1-7.1h0m-11.7-16.5h0m22.8-9.5h0m-22.7 22.4h0m9-0.1h0m-2.4 5.9h0m0.1 18.7h0m5.2-18.2h0m-5.6-17h0m-2.7 12.1h0m9-3.2h0m-8.3 28.7h0m1.6-17h0m1.6-10.2h0m-8.2-4.7h0m10.9 0.6h0m5.2-1.7h0m-4.2-0.7h0m-1.4-18.5h0m4.8 32.3h0m-14.8-7.1h0m4.2 10.7h0m-0.5-42.4h0m5.2 26.5h0m11-4.8h0m-13.1 13h0m6.3-12h0m-1.9 11.9h0m-3.4-12.3h0m6 26.6h0m-11.1-3.1h0m13.2-22.9h0m-5 5.7h0m-6.8 3.6h0m3.1 18.7h0m4.7-12.5h0m-10.5 5.6h0m0.6-13.5h0m2.2 22.3h0m-2.4-23.3h0m1.4-24.3h0m5.4 35.6h0m5.7-14.2h0m-11.3 3.3h0m7.9 16.4h0m2.2-17.8h0m-7.8-15.1h0m-6.4 43h0m5.6-20.2h0m-0.6 13h0m-2.1-4.7h0m5.4-2h0m1-3.8h0m5.5 6.8h0m3.5-28.2h0m-7.7 21.2h0m-5.5-9.2h0m1 0.1h0m0.9-1.8h0m3.3-24.2h0m-2.4 28h0m1.8-24.8h0m-1.8 22.6h0m2.7 11.9h0m-7-27.6h0m4 3.9h0m-2 15.9h0m8.1-9.6h0m-5.5-7.3h0m-0.9-8.4h0m-1.1 23.7h0m14.1 1.5h0m-11.2-4.5h0m-5.3 9.8h0m3.6-2.9h0m1.3-3.8h0m-1.5 3.8h0m6.9 7.6h0m5.4-33.4h0m-12.4 28.3h0m2.1-17.2h0m-1.3-0.5h0m0.6 17.4h0m7.6 8h0m2.1-14.7h0m-9.2 10.9h0m7-0.2h0m-5.2-8.9h0m-0.5 3.8h0m2.3-14.3h0m1.1 24.9h0m-4.6-2.9h0" stroke="#000" stroke-width="1.0" stroke-linecap="round" opacity="0.75" fill="none"/>
<path d="M260.3 677.9h0m0.5 22.9h0m1.4-19.8h0m-1.8 3.1h0m-3.8 15.1h0m2.9-13.3h0m3.4 4.3h0m-8.8-1.9h0m1.7 12.4h0m2.5-14.5h0m-6.4 17.3h0m-0.2-22.4h0m14.4 5.7h0m-12.8 21.1h0m7.3-23.7h0m-6.3 11.4h0m7.1-3.1h0m-4.4 11h0m2.1-1.7h0m-7.8 16.9h0m4.6-43.2h0m2.8 27h0m3.2-23.9h0m-7.8 7.5h0m-1.4-11.7h0m14.3 9.8h0m-5 10.7h0m-8.2-8.2h0m3.2 2.1h0m-2.6-11.5h0m-1.8 10.9h0m7.5-17.3h0m0 24.8h0m-0.2 0.8h0m-8.3 8.9h0m5.8-4h0m-8.7-10.5h0m10.1 6.1h0m-1.1-3.8h0m2 10.3h0m2.3-28.1h0m-10.3 28h0m12.5-13.7h0m-12.7 9.1h0m4.3-5.2h0m4.8-4.2h0m2.2-2.8h0m-2.3-9.3h0m-4.5 43.5h0m0.8-40h0m-3.4-4.1h0m0.4 23.3h0m1.6-19.8h0m4.3 20.4h0m-3.5 8.3h0m0.6-14.9h0m3.3-7.3h0m-9.9 22.3h0m7.8-24.4h0m1.1 19.1h0m-2.7-4.2h0m-1.8-4.2h0m-2.8 0.2h0m4.8 10.2h0m6-20.8h0m0.2-7.1h0m-4.2 9.1h0m0.3-7.7h0m1.4 15.7h0m-2.8-4.5h0m4.3 16.6h0m1.5-15.1h0m4.7-15h0m-12.7 11.6h0m8.1 8.6h0m-0.4-6h0m3.8 17.3h0m-10.2-36.8h0m0.6 33.3h0m3.1 4h0m-15-15.9h0m6.4-15.5h0m9.6-1.5h0m-1.7 18.2h0m1.3-13.3h0m-4 1.2h0m1.1 9.9h0m6.7-9.6h0m-9 7.6h0m4.9-14.3h0m-10.7 20.9h0m14.3-16.2h0m-12.5 24.3h0m3-18.8h0m3.1 1h0m-1.2 15.3h0m-4.3-4.7h0m14.5-7.6h0m-5.2-4.9h0m-3.9 3.9h0m3.2 6.4h0m-13.2-3.4h0m10.6 8.6h0m7-5h0m-8.3 4h0m-6.7-4.7h0m4.1 8h0m1.8-10.3h0m9.5 4.1h0m-10.6-5.3h0m-0.5-11.5h0m-3 22.5h0m8.5-8.6h0m-4 7.1h0m5.9-2.6h0m-4.1-8.2h0m3.7 19.2h0m-9-15.2h0m3.7 6.3h0m0.3-13.7h0m-5.4 9.1h0m7.4 9.2h0m-2.2-2.8h0m-3.2-4.5h0m1.6 6.2h0m-4-4.3h0m7.1-3.4h0m-0.1 7.4h0m5.2-7.4h0m-5.3 2.8h0m-0.3-5.1h0m3.1 5.8h0m-0.2 4.7h0m-10.1-9h0m3.2-14.7h0m6.1-3.3h0m7.2-6.3h0m-11.9 18.5h0m-3.5 6.2h0m4.2-4.1h0m1.4 0.2h0m-1 15.8h0m1.5-3.5h0m4.3-30.4h0m-8.1 29.7h0m2.4-18.9h0m3.4 6.8h0m-6.5 0.5h0m3.1 6.9h0m2.7-3h0m-5.5 3.2h0m10.4-4.1h0m-11.8 24.7h0m9.7-30.2h0m-4-5.5h0m-4.4 14.4h0m4.1-4h0m0.3-2.6h0m1.5-5.1h0m1 6.7h0m-7.8-15.9h0m10.2 5.2h0m-4.1-0.4h0m-3.9 10h0m1.5 2h0m-6.5-7h0m3.6-13.5h0m2.2 19.7h0m-3.7 7.9h0m10.6-12.6h0m-9.8 9.3h0m6.7-14.2h0m-1.3-1.9h0m10.6-3.3h0m-11.1 25.3h0m-6.3-13.4h0m5.1 11.8h0m0-18.6h0m0.9 6.2h0m-10.4 15.1h0m17.3-16.6h0m-10.2 1.6h0m2.2-5.2h0m9.2 15.2h0m-0.3-8h0m-8.3 2.2h0m2-2.3h0m-5.9 1.2h0m3.3-2.5h0m3.5 7.9h0m4.5-19.9h0m-8.2 14.6h0m4.4 0.4h0m-4.4 5.4h0m-0.7-4.6h0m2.6 1.6h0m-0.4 0.6h0m6-6.4h0m-11.3 16.1h0m9.4-2.8h0m3.4-13.8h0m-10.4 7.2h0m0.7-4.7h0m3.6-16h0m0 17.2h0m-3 16.1h0m2.3-17.8h0m-8.6 6.5h0m10.6-15.7h0m-11 0.6h0m10.8 11.3h0m0.2-5.1h0m-3.4 12.7h0m5.9-9.2h0m-5.1 2.4h0m-3.4-5.8h0m-1.1 9.4h0m4.5 2.2h0m4.8-25.1h0m-4 8h0m-3.1 8.1h0m-2 5.9h0m0.4-4.6h0m8.9 1.9h0m-4.3 2.8h0m-6.7 16.7h0m0.5 9.2h0m5.7-29.7h0m-5.5 4h0m4.6-1.2h0m1.6-12.6h0m7-8.3h0m0.8 7.1h0m-12.4 6.5h0m12 14.1h0m-1.7-24h0m-1.4 19.2h0m-6.8-19.3h0m-2.1 42h0m13-31.4h0m-13.6-1.9h0m6.5 13.4h0m-10.7 12.1h0m-1.9-27.6h0m1.9 9.8h0m11.7 3.6h0m-2.5-25.5h0m0.2-3.6h0m0.2 29.7h0m0.6-13h0m-4.1 18.6h0m-5.7-2h0m7.1-5.2h0m1.4-6.8h0m-0.1 20.6h0m6.5-15.5h0m-10.7-10.2h0m2.1 1.3h0m6.6 19.8h0m-6.2-19.8h0m-5 7.5h0m10.7-0.4h0m3.5 1h0m-12.5-0.8h0m-0.6 17.7h0m7.7-4.2h0m3.8-23.2h0m-1.1 3.6h0m-3.3 2.3h0m-1.8-1.2h0m1.5 13.5h0m3.4-20.3h0m-3.2 7h0m8.5-16.2h0m-8.4 26.5h0m0.5-4.6h0m2.9-13.4h0m-9.2 28h0m-1.1-10.4h0m12.4-12.2h0m-3.8-6.5h0m-10-0.8h0m3.1 7.8h0m7 11.3h0m-5.8-16h0m-10 22.8h0m19.7-27.6h0m-4.9-11.5h0m-2.7 27.4h0m-4.8 13.7h0m7.6-29.1h0m-2.8 24.2h0m-2-3.6h0m4.4-12.5h0m2.7-6.6h0m0 15.4h0m-3.3-2.2h0m-1.7 7h0m2.7-4.3h0m-8.4 7.5h0m8.5-22.6h0m3.1 8.2h0m-10.1 4h0m-0.3 1.9h0m-6.5-4.5h0m2.5 4.7h0m3.9 5.8h0m4.5 10h0m-3.6-26.9h0m15.8 17h0m-6.9-17.4h0m-9.5 14.5h0m-3.2-3.7h0m3.1 3.4h0m10-22.1h0m-4.8 33.4h0m-7.2 4.1h0m9.8-28.9h0m0.9 13.2h0m-4-9.9h0m7.5 0.9h0m-3 1.2h0m-3.6 3.8h0m-3.5-1.5h0m-0.5 9.2h0m6.3-16h0m-4.7 1.9h0m4.9-0.9h0m4.1 6.4h0m2.5-7.9h0m-11.7-3h0m4 15.4h0m1.1 8.5h0m-4.1-26.4h0m4.4-4.8h0m-0.7 10.5h0m-5.3 25.4h0m-2.5-19.2h0m9.2 9.7h0m-4.1 1.5h0m-3.3-6.3h0m3.7-15.4h0m-3.4 5.3h0m0.3 0.5h0m-2.4 4.3h0m0.6-14.4h0m-3 29.7h0m6.8-15h0m-4.8 0.7h0m7.8-19.9h0m-11.1 34.7h0m15.3-13.7h0m-8.5-11.1h0m-0.2 14.7h0m6-6.1h0m2.7 4h0m-2-7h0m-2.2 9.9h0m-9.4-10.9h0m8.2 17.6h0m-2.8-11.2h0m2.9-7.8h0m-1.4 25.4h0m-7.5-28.2h0m7.4 8.6h0m5.1 13.3h0m-3.5-17.3h0m-10.1 12.6h0m7.6 5.4h0m-10.8-17.4h0m5.2 9.4h0m8.1-0.8h0m4-12.9h0m3.5 2.5h0m-10.8 19.7h0m-3.7-5.8h0m5.9-24.1h0m-4.1 13.3h0m1.6-0.8h0m-4.7-3.8h0m18.2 3.4h0m-13.1 5h0m4-7.4h0m-3.9 1.9h0m-4.8-2.5h0m1-2.2h0m5.8 2.9h0m6.5 3.9h0m-1.8 8.2h0m-5.9-2.4h0m1.2-14h0m4.7 4.7h0m-4.9 5.1h0m-2.4-11.6h0m1.8 20.8h0m-8.7 4.4h0m12.4-18.7h0m0.9-22.8h0m-4.2 24.1h0m-1.7 2.5h0m0.3 9.8h0m1.8-19.6h0m-1.9 4.4h0m1.6 16.5h0m-3.2-12.9h0m5.1-6.9h0m-8.2 12.3h0m9.1-2.6h0m-0.6-3.3h0m0 0.9h0m-3.7 19.5h0m2.8-13.9h0m2-15.2h0m-2.8 12h0m-0.6 1.8h0m-1.4 6.8h0m5.2-20.7h0m0.4 11.3h0m-4.8-5.3h0m-5.5 10.4h0m8.4 3.8h0m-3.7-7.7h0m-1.5-13h0m1.8 19.9h0m-0.5 3h0m4.9-12.2h0m-7.5-6.4h0m2.3 9.2h0m-0.5-0.5h0m2.4 6.5h0m0-17.5h0m-0.6 2.3h0m0.1 2.4h0m-6.5 22.3h0m-5.4-3.7h0m14.2-14.4h0m-4 18.9h0m0.2-18.6h0m1.3 3.3h0m-0.9 13.2h0m3-31.7h0m0.8 13.2h0m-5.6-13.4h0m-1.7 10.2h0m-0.2 8.9h0m3.4 1.2h0m-4.2 14.2h0m10.6-33h0m-10.2 22.3h0m9.6-8.4h0m-5.1 3.6h0m4.8-16.9h0m-11.3 34.5h0m6.8-5.5h0m-1.5-8.1h0m2.2 2.8h0m0.3-5.3h0m-3.4 1.3h0m-7.7 5.6h0m14.3-14h0m-8.9 3.9h0m7.9 5.8h0m-3.1 5.4h0m-5 3h0m1.9-4.2h0m8.2-9.1h0m-6.5-13h0m7.9 17.2h0m-4.8 3.4h0m-2.7-2h0m3.9-4.1h0m-6.4-10.5h0m7.6 13.4h0m-5.6-2.2h0m-0.1-3.2h0m3.4 8.9h0m0-4.5h0m0.7 3.9h0m-2.2-12.1h0m-1.3 18.8h0m-1.2-31.7h0m0.8 20.4h0m-1.4-12h0m6.3 11.7h0m-7.6 3.2h0m5.9-9.3h0m-7.3 29.3h0m4-20h0m9-9.8h0m-12.6-4.6h0m6.2 19.9h0m0.6-6.7h0m-1.7-15h0m-3.1 9.9h0m3.2-2.7h0m-2.2-12.2h0m4.9 9.4h0m1.4 10.4h0m-3.4-25.3h0m-6.5 33.7h0m4.8-11.1h0m-0.4 2.1h0m-1.8-0.9h0m6.6 11.8h0m-8.9-2.8h0m8.8-8.7h0m0.3-11h0m-5.7-4.5h0m3.1 6.9h0m2.5 9.1h0m-7.6 1.8h0m3.2-24.5h0m-0.5 17.8h0m7.6 2.7h0m-11.7 10h0m7.6 9.1h0m-5.8-19.3h0m4.9 15.1h0m1.2-25.9h0m-1.7 9.8h0m5.2-22.8h0m-5.6 47.6h0m5.5-21.8h0m2.8-11.4h0m-8 10h0m-8.2 2.3h0m12.6-8.9h0m-3-13.2h0m-2.5 34.1h0m-9.8-0.8h0m2.5-25.7h0m9.8 8.8h0m-4.7 9.6h0m5.1 8.1h0m-6.4-5.4h0m3.1-10.4h0m-1.8-4.1h0m3.5 0h0m-3.4-0.2h0m5.3 1.1h0m-2.4-3h0m-3.1 16.3h0m2.3-8.3h0m0.6 0.1h0m4.7-3.6h0m-1.7-11.9h0m3.4 16.4h0m-10.5-10.5h0m-6.2 3.6h0m9-7.1h0m2.2 22.9h0m3.1-11.9h0m-0.9 4.3h0m-2.6-17.4h0m-6.4-3h0m2.2-1.9h0m8.4 10.8h0m-15.1 2.2h0m6 12.6h0m6.9-18.8h0m-8.1-0.9h0m13.4 23.4h0m-12.2 7.6h0m0-34.3h0m7.1 10.2h0m-3.6 8.9h0m-1.9 0.4h0m1.3-3.2h0m0.4-4.4h0m-4.1 4.9h0m5.2 0.2h0m0.5 17.7h0m-3.3-16.8h0m-3 10.5h0m0.6-12.1h0m2.7-2.1h0m-1.7 6.7h0m5.4-13h0m-0.3-0.4h0m4.3 7.5h0m1.2 7h0m-9.7-5.1h0m5.9 13.1h0m1.5-25.8h0m6.3 1.8h0m-5.9-9.4h0m-8-1.8h0m3.7 28.2h0m0.1-11.6h0m1.5 13.7h0m-0.5-1.4h0m4.1-19.7h0m1 24.3h0m-4-22.8h0m3.1 6.3h0m2.4-7.4h0m-8-3.9h0m-3.6 6.1h0m-1.5 10.6h0m2.6 12.7h0m-3.4-14.6h0m1.9 10h0m9.4-12.6h0m-9.1-5.1h0m7.6 0.5h0m2 4.6h0m-7.5 3.9h0m4.3-15.9h0m4.3 18.6h0m-11.4 11.6h0m13.9-8.5h0m-5.9-15.5h0m-8.6-6.8h0m2.1 24.6h0m2-15.1h0m6-4.2h0m-8.8 3.8h0m8 3.7h0m-7.2 1h0m3.5-14.2h0m6.9 10h0m0.5-2.3h0m-6.8-8.6h0m3.5-3.2h0m-12.7 30.6h0m6.3-26.3h0m9.8 34.2h0m-3.1-30.4h0m0.2 5h0m-1 22.5h0m0.8-29.8h0m-2.9 14.4h0m-4.3 14.1h0m-0.6-21.4h0m-5.5 10.7h0m0.7-8.3h0m9 7.5h0m-9 1.2h0m7.5 1.6h0m1-13.2h0m-2 5.9h0m-7.7 4.9h0m6.5-11.4h0m11-10.6h0m-9.3 27.6h0m-5.4-26.2h0m14.5 25.4h0m-7.2-18h0m-2.1 19.1h0m12.2-14.6h0m-14.5 18.8h0m0.8-4.3h0m-6.6-2.4h0m-0.3-7.6h0m12.2 1.9h0m-11.7 9.4h0m4.9-9.1h0m-0.7 10.9h0m1.9-16h0m8.5-13.3h0m4.5 4.4h0m-4.4 40.8h0m-11.4-16.8h0m6.3-4.1h0m-1.8 0.7h0m7.7-4.5h0m-7.5-2.7h0m2.2-5.2h0m5.3-2.9h0m-1.6 5h0m-3.7-4h0m0 15.6h0m2.6-38.8h0m-0.4 29.3h0m-7.9 4.1h0m3.4-20.5h0m-7.7 36.5h0m2.8-5.5h0m2.9-2h0m-0.7 7.5h0m-2.9-1.3h0m-0.5-22h0m8.8 4.9h0m-6.8-2.4h0m8.1 1.3h0m-2.8-3.3h0m-3.4 0.5h0m6.3 10.4h0m-6.7-21.7h0m2.2 21.2h0m4.4-2.4h0m-9.2-9.6h0m2.5 14.5h0m-1.7-22.7h0m2.3 20.5h0m3 3.4h0m-0.2-14h0m-3.4 1.8h0m6.7-1.6h0m-5.4-12.2h0m9.9-10.7h0m-5.3 32.8h0m-6-1h0m6.9-13.5h0m-8.4 10.8h0m10.6-1.2h0m-4.2-8.1h0m-4.6 7.3h0m6.4-4.2h0m0.2-2.7h0m-4.2 2.5h0m-0.6 22.5h0m-0.2-17.2h0m-0.5 0h0m-3.8 11h0m6-28.9h0m6 26.6h0m-7.6 13.3h0m8.7-12h0m-9.1-5.7h0m-1.2 6.3h0m4-0.6h0m-5.1-1.7h0m8-13.6h0m-5 3.6h0m1.8-7.2h0m-3.9 0h0m1.5 23h0m1.2-23.3h0m7.4-0.5h0m-9.8 9.2h0m3 7h0m-6.3 17.2h0m7.2-33h0m-0.6-0.6h0m-1.6 3h0m-5.8 9.3h0m14.8-14.3h0m-12.1 15.7h0m5.7-11.3h0m-7.9 7.2h0m9.6-18.5h0m-4.3 43.5h0m0.6-34.8h0m1.4 9.4h0m5.6 2.4h0m3-4.4h0m-13.9-13.2h0m2.5-0.3h0m-4.7 15.9h0m14.1-10.4h0m-2.7 5h0m-4.1-1.1h0m8 11.9h0m-14.5-17.1h0m3.9-10.6h0m-4.9 41.1h0m5.4-8.2h0m9.3-22.9h0m-10.6-1.5h0m5.6-1.3h0m-10.7 23.3h0m5.8 2h0m-1.9-2.6h0m7.2-21.7h0m-4 11.3h0m5.2 12.8h0m-7.4-3h0m-1.1-12.8h0m6.7 6.1h0m4 2.7h0m-4.3-7.7h0m-3.9 16.6h0m1.6-4.9h0m-3.5-2.6h0m6.6-9.6h0m3.1 13.9h0m-19 13.4h0m19.4-22.6h0m-0.9-13h0m-9.4 1.3h0m1 14.9h0m5.1-28.2h0m6.3 27.5h0m-15.4 0.3h0m3.7 2.1h0m2.4-18.5h0m-5.3-4.7h0m-0.5 29h0m7.5-27.5h0m-2.4 15.1h0m11.5-17.2h0m-7.8 27.6h0m-4-12.3h0m4.6 18.6h0m-0.1-19.2h0m1.6 7.2h0m3.6-17.1h0m-9.1 7.7h0m-3.3 0.3h0m3.2 8.4h0m-3 4.7h0m7.3 4.8h0m-1.7-15h0m9.5-6.4h0m-10.1-11.8h0m3.7 27.8h0m3.7-4.6h0m-16.6 2.2h0m9.3-10.9h0m-1.2 9.4h0m3.7 2.4h0m-4.9-0.3h0m-1.8-4.3h0m10.1 2.9h0m-9.7-10.6h0m3.1-1.3h0m2 19.3h0m4-20.1h0m-2.1 4h0m-6.7 16h0m-0.5-0.3h0m3.2-15h0m-2.5 22.1h0m7.1-23.4h0m-0.9-5.5h0m-2.9-4.1h0m0 15.5h0m-6.3-7.8h0m3.4 7.1h0m-0.4-4.1h0m4.5-5h0m1.5-5.1h0m-2.2 5.7h0m5.2 12.3h0m-6.6-5.4h0m-5.3 12.1h0m2.3-5.6h0m4.6 13.9h0m-7.6-15.8h0m1.7-15.3h0m7.7 3.8h0m-2.1 12.7h0m2.8-12.6h0m-6.3 27.1h0m0.8-31h0m-0.5 17.5h0m5.4-24.1h0m-6.5 22.1h0m-1.1-8.1h0m6.6 1.5h0m-6.9 1h0m-0.6 6.5h0m2.9-3.6h0m4 1h0m1.3-22.6h0m-4.6 36.5h0m4.9-23.1h0m-5.8 22.2h0m15.2-23.4h0m1.7-0.8h0m-11.1 5.2h0m-4.4 15.3h0m-4-7.7h0m14.9-6.7h0m-5.3 12.5h0m2-10.4h0m-2.8-13.3h0m-12 5.2h0m8.4 17h0m6-11.2h0m-14 5.6h0m12.2-14h0m5.1 14.1h0m-13.7-11.9h0m8.2 8.9h0m-12.1 11.4h0m4.2 8.7h0m3.6-5.1h0m-6.2-12.6h0m10.1-10.1h0m0.8 3.1h0m-2.8-6.1h0m-4.5 9.3h0m4 11.9h0m-1.6-12.7h0m-1.4-4.3h0m-0.9 5.6h0m1-2.2h0m6.8 12.5h0m-6-14.8h0m3.4 1.9h0m-1.8-17.2h0m-6.2 25.7h0m2.3-1.9h0m4-21.3h0m3.4 30.9h0m-0.3-10.6h0m-1.3-4.7h0m3.1-14.3h0m-9.8 22.1h0m2.7-6.4h0m2 31.1h0m-0.3-37.2h0m9.4-7.7h0m-14.2 19.6h0m1.5-16.4h0m-3.3 6.4h0m8.1 14.7h0m1.1-15h0m9.9-5.4h0m-10.3-5.9h0m1.4 2.6h0m0.2 22.2h0m6.5-5.5h0m-12.2 24.4h0m-10.8-19.5h0m17.3-16.5h0m-1.6 2.9h0m-4.9 5.8h0m1.8 1h0m-2.9-5.1h0m6.5-7.4h0m-1.8 13.3h0m-1.8-8.5h0m1 5.2h0m-2 3.4h0m-1.1 6.5h0m9.9-11.8h0m-8.7 4h0m5.4 14.1h0m-4.6-21.3h0m-6.4 3.5h0m10.4-17.1h0m2.4 12.6h0m-7.4-3.1h0m-0.5-1.5h0m0.2 2.2h0m1.2 12.6h0m-6.7 5.9h0m-0.5-1.5h0m12.8-13.2h0m-13.7 4.9h0m3.9-5.7h0m5.4 19.9h0m-2.4-14.9h0m0.9 11h0m0.6 2.8h0m-0.8 7.4h0m0.2-32h0m-1.7 20.2h0m9.3-2.8h0m-11.6 2.2h0m7 1.7h0m-1.6 4.9h0m4.7-23.5h0m-2.3-10.4h0m-5.5 19.3h0m4.2 6.4h0m3-6.5h0m-7.3-6h0m4.9 23.3h0m-2.3-15h0m-7.3-4.4h0m11.5 2.5h0m-8 4.2h0m2.3-8.8h0m0.1-3.6h0m7.4 12.8h0m-12.5 0.1h0m8.3 2.1h0m-5.4-3h0m-4.9 16.9h0m8-22h0m-8.3-7.3h0m6.7 21.8h0m7.2-24.6h0m-1.6 13.9h0m-4.2 10.8h0m4.9-12.9h0m-10.4 11.3h0m5.6-15.5h0m-4.8 13.5h0m8.8-16.8h0m-0.5 10.2h0m-1.4-9.2h0m3.1 10.5h0m-7.5-11.2h0m1.1 1.5h0m2.8-12.6h0m-4.5 33h0m10.3-20.5h0m-11.3 5.6h0m5.1-3.2h0m5.8 0.1h0m-9.7-20.8h0m2.2 27.4h0m9.7 3.1h0m-15.3 0.9h0m8.7 8.3h0m-4.1 43.9h0m5.2 3.3h0m-4.3-1.7h0m6.7 10h0m-11.2-0.9h0m-5.3-3h0m14.9-7.7h0m-14.7 8.3h0m10.5-8.7h0m-6.7-5.6h0m-2.2 10.9h0m9.4 6.3h0m-4.9-4.1h0m9.8-3.2h0m0 0.2h0m-6.6 2.4h0m0.2-1.2h0m-3.5-3.4h0m-1.9 6.6h0m8.6-4.5h0m-15.2-0.5h0m19.7 4.7h0m-12.7 1.2h0m6.6-23h0m-3.2 13.2h0m-7.2-5.1h0m5 6.3h0m2.5 9.3h0m-8.8-7.6h0m-0.1-12h0m12.9 7.4h0m-0.7 14h0m-1.9-0.9h0m-7.6-12.8h0m15.5-1.5h0m-4.2 0.4h0m-12.6-13.2h0m24.2 18.3h0m-14.4-6.2h0m-8.6 13.8h0m15.7-16.7h0m-14.1 14.8h0m-5.5-17.2h0m17.6 9.6h0m-3 6.6h0m-3.1-6h0m-3.7-2.5h0m-6.9-2.1h0m3.8 2.5h0m-4.2 11.9h0m1.3-12.9h0m10.4 6.3h0m2.1-11h0m-14.3 17.7h0m21.5-15.9h0m-9.6 5.4h0m-1-0.6h0m-5.4 11.7h0m11.1-4h0m7.8-6.1h0m-21 2.4h0m5.4-22.3h0m6.9 29.1h0m0.3-3.9h0m9.3-18.2h0m-8.3 3.2h0m-4.8 10.4h0m-3.2 9.4h0m-4.3-7.5h0m20.4 1h0m-24.9-8.8h0m0.3 7.8h0m1.2 4.2h0m20.9-5.1h0m-10.2 7.2h0m-3.7-10.1h0m-8.6-4.3h0m26.2-2.7h0m-17.9 2h0m-0.4 15.6h0m6.1-4.1h0m-12.3-1.6h0m6.7 4.2h0m-4.8-4.4h0m1.6-3.7h0m-3.4-15h0m-2 14.9h0m7.9-2.3h0m1.7 1.1h0m3.5-3.9h0m4.1 1.1h0m-14 7.2h0m11.4-19h0m5.2 24.8h0m-13.5-17h0m1.3 0.4h0m0.4 14.3h0m3.9-20.8h0m5.1 19.4h0m-14 3.2h0m4.4-27.2h0m8.6 17.2h0m5.3 11.5h0m-21.4-16.4h0m20.1 10.7h0m-9.1-10.2h0m-7.7 6.4h0m17.4-12.5h0m-3.8 14.3h0m-2.8-4.7h0m4.4 3.4h0m-11-2.1h0m7.4 9.2h0m-6.6 1h0m-7.1-12.1h0m7.4 6.4h0m9.9 3.1h0m1.7-0.8h0m-1.4-2.9h0m-5.3-2.2h0m8.1-8.1h0m13.3 1.2h0m-23.8 5.3h0m-5.8 6.6h0m5.5-23h0m6.8 24.8h0m-16-14.3h0m5.4 10.4h0m7.4 0.3h0m0.1-7.9h0m0.7 10.7h0m-2.4-7.3h0m-6.7-1.6h0m0.7 10.2h0m-2.6-3.4h0m6.8-3.9h0m-2.3 1.4h0m-0.8 0.1h0m1.6-1.2h0m-2.4 7.3h0m6 0.1h0m-7.8-7.6h0m2.3-1.3h0m-5.1 3.4h0m35.1-5.9h0m-32.5-4h0m12.6 7.1h0m1.8-4.5h0m1.9 6.1h0m-11-0.1h0m-7.9-0.6h0m3.4-4.6h0m-4.8 4.8h0m19.9-0.3h0m-12.1 3.6h0m10.4-1.3h0m-15.1-3.6h0m0.6 8.8h0m12.2-10.5h0m-5 7.7h0m7.9 1.2h0m6.5 3.8h0m-5.7-9.2h0m-10.1-10.8h0m-0.6 20h0m-4.5-23.8h0m-5.8 15.4h0m15.5-15.1h0m-7.1 15.4h0m12.2 3.4h0m6.4 3.8h0m-6.9-8.6h0m-13.4 5.4h0m4.7-9.8h0m-2.3 9.6h0m-7.7 3.6h0m4.2-5.6h0m12.1-1.4h0m-17.3 6.8h0m7.4-10.4h0m1.9 7.9h0m10.8-10.6h0m-3.5 5.1h0m-9.3-9.3h0m9 2.2h0m-7.1 5h0m-7.7-5.3h0m16.6 4.3h0m-12.6-9.9h0m-1.1 0.5h0m18.7 17.4h0m-3.2-10h0m-3.7-4.5h0m-16.2 18.2h0m8.2-7.5h0m9.6-6.6h0m-17.2 8.9h0m5.7-6h0m4.7 3.1h0m-5.1 0.7h0m9.9 1.1h0m2.8-5.1h0m-11.3-9.1h0m-2.6 12.1h0m16.2 9h0m1.8-17.1h0m4.3 2.8h0m-15.9 5.9h0m9.8-8.1h0m-11 4.6h0m-1.8-3.6h0m-2.2 10.3h0m12.7-3h0m-1 0.6h0m-11.3-1.8h0m-4.4 7h0m11.3-12.9h0m-5.4 6.5h0m-1.9 1.1h0m6.3-4.8h0m7.2-3.6h0m-14 13.1h0m0.7-7.6h0m-5.4 7.7h0m1.7-2h0m14.3-3.1h0m-16.9-2.9h0m3.6-1.9h0m31.7 6.6h0m-18.9 4.7h0m-5.1-17.8h0m-10.1 13.6h0m7-9.2h0m13.5 11.1h0m-10.2-16.3h0m7.6 14.2h0m-6.1-3h0m-11.9-0.6h0m7.8 1.5h0m-7-1.3h0m9.3-3h0m2.8-6.5h0m-7 14.7h0m-3.4-22.4h0m2.5 7.9h0m5.7 7.9h0m-10.4-5.7h0m1.5 14.6h0m10.7 0.3h0m3.3-13.3h0m0.2 6.9h0m-6.8 5.8h0m6-10.6h0m-14.1-6.3h0m1.4-4.1h0m12.4 17.1h0m4.3-6.8h0m-17.9 12h0m3.8-14.2h0m9.9-12.7h0m-12.4 25.8h0m1.8-6.8h0m1.8 7.8h0m2.7-11.2h0m1.8-10.1h0m2.2-4.1h0m-13.9 10.7h0m9.7 12.7h0m-2.9-2h0m0.7-1.7h0m0.9-0.4h0m9.8-6.8h0m-12.7 6.7h0m4.7-6.7h0m-6.7 4.9h0m0.1 2.1h0m8.7 0h0m2.1 2.1h0m2.3-11.3h0m-16.9 5.7h0m10.2-6.4h0m16.6 5h0m-7.8-0.7h0m-9.5 2h0m-8 8.8h0m1.1-18.4h0m6.9 16.2h0m-4.3-6.7h0m9.7-3.1h0m-13.7 3.2h0m15.2 4h0m-4.4 0.5h0m1-3h0m-9.7 4h0m9.3 0.2h0m0.7-13.6h0m1.4 4.1h0m0.3 3.9h0m-3.3 7.1h0m-3.4-4.7h0m-5.3 3.9h0m0.8-1.8h0m4.1-3h0m0.1-7.1h0m14.5 7.6h0m-13.1-2.8h0m2.2 0.3h0m-0.6 5.1h0m5.5 0.4h0m-2.6-6.6h0m-0.3-2.4h0m5.7 11.7h0m-6.4 1.8h0m-4.9-6.1h0m-2.4-8h0m2.9 3.5h0m-1.6-1.7h0m6.3 6.8h0m-5.1-0.5h0m-6.4-24.5h0m14.6 13.1h0m-12.9 8.8h0m14.2-2.6h0m-16.2-4.6h0m14.2-2.1h0m-5.4 13h0m11 3.8h0m-5.7 1.2h0m-1.6-8.1h0m-0.1-0.2h0m12-2.7h0m-20.6-1.2h0m16.5 7.8h0m-19.2 0.6h0m-0.4-0.5h0m16.5-20.9h0m-13.9 25.5h0m6.8-5.7h0m2.7 5.7h0m0.5-9h0m15-0.4h0m-22.3 6.7h0m0.5 0.2h0m3.9-6.8h0m-4.5 1h0m12.8 2.9h0m-14.1 2.9h0m-0.5-12.9h0m12.2 2.1h0m-0.4-4.2h0m-2.8 5.3h0m3.4 11.4h0m-7.2-0.1h0m-1.4-3.5h0m-8.9-11.2h0m5.4 5.5h0m7.9-0.3h0m-2-7.3h0m6.9 12.5h0m-14.4-2.9h0m2.9 0.7h0m1.7 1.4h0m1.5-4.7h0m7.4 7.6h0m-14-9.3h0m19.7-11.1h0m-5.2 24h0m12.5-12.5h0m-16.9 8.7h0m-7.7-3.9h0m2.9 2.2h0m-4.5-2.8h0m14.8-3h0m-8 5.6h0m-10.1-0.4h0m14.1-3.6h0m-9-0.6h0m6.2-6.9h0m0.3 11.9h0m-12.8-3.3h0m34.1 3.8h0m-24.8-3.1h0m4.6-9.3h0m4.1 17.1h0m1.3-4.3h0m-13.7-1h0m-0.2-3.2h0m4.1 1.7h0m-6.8-9.8h0m7.2 2.2h0m-4.1 5.3h0m0.9-3.4h0m10.3-4.7h0m-11.8 14.1h0m1.6-9.6h0m5.9 11.4h0m1.8-9.4h0m2.8 5.4h0m-15.8 5.1h0m9.8-15.1h0m-9.7 14.2h0m0.5-3.9h0m19.5-14.9h0m-0.3 4.2h0m-11.1 14.5h0m-2.8-5.4h0m-2.2 4.2h0m0-11.8h0m0.5 2.5h0m-4.1 0h0m2-4.8h0m2.5 10.7h0m14-2.3h0m-8 5.2h0m-5-9.3h0m-4 8.1h0m-2.2-0.6h0m12.3-7.8h0m-2.3 4.6h0m-10.2 3.7h0m7.9-9.1h0m17.9 8.7h0m-12.4-6.1h0m7 9.6h0m-19.6-8.2h0m3.3 3.6h0m7.1-11.6h0m-1.2 4h0m-8.4-3h0m25.1 14.8h0m-13.3-2.7h0m1.6-0.1h0m1-14.1h0m-7.2 14.9h0m-4.9-5.9h0m4.7 8.3h0m-5.1-9.6h0m20.8 1.5h0m-15.1 7.2h0m1.6-0.2h0m-2-2.4h0m-2.6 2.9h0m-4.8-1.7h0m15.1-18.8h0m-11.2 10.7h0m17 6.4h0m-22.6-2.5h0m4-5.2h0m11.8 2.7h0m-13.6-4.8h0m13.8 7.5h0m-6.9-5.2h0m-0.5 8.8h0m4.6-18.8h0m-1.4 20.8h0m2.8-5.9h0m-8.8-0.6h0m1 4.4h0m-6.6 2.5h0m20.2-7h0m-8.8-1.1h0m-9.4 5.8h0m0 0h0m4-10.2h0m-3.9 3.4h0m9.1-1.3h0m-6.2-14.5h0m-2.3 21h0m2.6 0.6h0m1.7-8.5h0m15.9 11.2h0m-21-5.8h0m6.5-7.8h0m4.3-5.1h0m22.3 2.6h0m-21.1 10.6h0m-9.5 1.6h0m-0.8-1.9h0m6.2-1.9h0m-7.2 2h0m5.6 7.1h0m7.5-19.1h0m-10.4 6.1h0m4.1 7.6h0m1.9-5.1h0m2.6-3.7h0m11.4 10.6h0m-17.9-8.2h0m6.4 10h0m0.8 1.8h0m5.5-6.1h0m-5.2 2h0m1.9-7.7h0m-2.3 1.2h0m-3-0.5h0m-9.3-10.3h0m8.9 13.4h0m-2.2-5.5h0m-0.2 0.2h0m6.2 13.2h0m-7.8-14.4h0m8.5 2.6h0m-13.9 6.2h0m8.7-8.7h0m12 1.5h0m-11.7 12.7h0m-10.3-7.2h0m4.2 1.2h0m5.6-2.8h0m-4.7 3.4h0m0-5.1h0m6.5 0h0m0.4 3.2h0m-6.5-4.2h0m0.7-3.7h0m7.4 9.6h0m-9.6-4.9h0m5.7 2h0m0.8 9.1h0m-1.6-15.9h0m-2.2 9.9h0m0.4-8.2h0m10.7 5.7h0m-10-6.3h0m0.9 10.6h0m-1.6-1.8h0m-6.6-6.9h0m13.8-7.9h0m9.6 6.8h0m-16.8 7.3h0m-4.6 4.4h0m11.7-9.5h0m-13 11.4h0m5.9-13.1h0m-4.6 11.8h0m-2.1-0.9h0m3.1-5h0m4.4-1.2h0m-2.5 1.9h0m21.2-2.1h0m-23.3 1.2h0m-4.4-1.5h0m11.2-3.8h0m4.6-7.6h0m-4.1-2.5h0m12.2 9.6h0m-18.2 9.3h0m-2.8-3.7h0m19.5 6.8h0m-20.4-2.6h0m1.8-4.7h0m2.2 1.2h0m10.1-0.2h0m-6.6-12.7h0m-4.9 17h0m20.4-6h0m-15.2-4.9h0m9.7-6.2h0m1.2 1.6h0m-7 12.2h0m-13.4-0.2h0m20.7-7.3h0m-13.9 2.8h0m-5-2.2h0m7.6 11.1h0m-3.1-1.6h0m-0.5-10.5h0m-6.2 13.4h0m5.2-2.5h0m-0.3-5h0m2.1-5.7h0m-5.9 3.5h0m-0.6-2.2h0m6.2 0.7h0m24.7 4.9h0m-11.9-0.3h0m-7.9 7.1h0m2.1-15.8h0m2.3-9.4h0m-7 16.2h0m-0.6-1.9h0m-6 2.5h0m4.7-5h0m0.1 4.2h0m10.6 6.3h0m-7.2 0.2h0m-1.5-10.7h0m1.5 10.7h0m-2.7-6.7h0m-6.4-3.8h0m2.2-2.6h0m-2.3 5.7h0m10.6 2.9h0m-0.5 5.1h0m-8.3-4.3h0m7.6 3.9h0m-3.9-21.2h0m0.2 24.4h0m13.9-1.8h0m-21-2.1h0m16-0.8h0m-12.5-5.4h0m7.3 1.1h0m-4.5-1.6h0m9.2-7.6h0m-9.4 9.5h0m-2.9 5.4h0m9.7 0.2h0m-6.1-9.4h0m-3.9 0.2h0m18.2 8.2h0m-14.2 2.8h0m0.8-9.6h0m23.3 3.9h0m-26.7 1.9h0m6.1-11.3h0m-7.8 8.6h0m-0.3 7.2h0m12.9-8.5h0m-0.9-3.8h0m0.5 8.8h0m1.3-0.7h0m-15.4-10.1h0m6.4 5.3h0m6.4 5.5h0m-13-2.6h0m2.9-5h0m19.3-11.3h0m-11.2 4.9h0m-2.7 15.6h0m3.6-14.2h0m7.9 12.3h0m-5.3-24.1h0m-7.7 14.3h0m-3.5 0.2h0m8.3 10.6h0m-5-14.8h0m11.3 10.5h0m-5.6-2.8h0m12.2 8.1h0m-9.8-1.4h0m-12.4-13.3h0m7 9.9h0m-4.5-6.5h0m-1.9-0.2h0m8.1-6.5h0m-9.3 6.8h0m-0.7-2.2h0m3.1 9.2h0m3.6 1.9h0m-3.3-4.7h0m1-8.3h0m-4.6 8.5h0m15.4-12h0m6.4 18.9h0m-13.5-7.2h0m-4.4 3.1h0m1.8-14.9h0m11.4 9.2h0m-9.1 10.7h0m2.7-4.9h0m1.8 3.4h0m-12.7-2.1h0m15.9-3h0m1.7 0.2h0m3.1-13.9h0m-19.1 5.5h0m9.3-2.2h0m-6.7 7.8h0m9.2 9.8h0m-7.8-4.4h0m11.3-11.6h0m-2.2 11.4h0m-12-0.9h0m13.4 1.8h0m-6.5-6h0m-8.6 5h0m13.4-10.8h0m15.9 11.5h0m-24.6-0.5h0m-3.7-7.5h0m9.1 0.7h0m-8.5-5.1h0m1.7 9.2h0m1.9-5h0m4.1 3h0m6.1 2.7h0m-4.7-0.3h0m0.3-7.8h0m4.5-0.9h0m-9.3 2h0m-0.9 4.4h0m-0.7 4.9h0m3.9-11h0m14.6 12.5h0m-11.2-2.2h0m-2.7-6.5h0m-7-8.8h0m2.1 17.3h0m-1.1 0.9h0m19.1-4h0m-21.2-3.9h0m12.9 5.7h0m-5.3 1.8h0m-6.5 1.7h0m6.6-13h0m-2.5 3.9h0m10 9.6h0m-3.9-14.2h0m12.9-3.4h0m-21.8 4.3h0m9.4-6.1h0m-12.9 12.9h0m9.4-7h0m-8.6 9.5h0m5.9-5.8h0m13.7 4.9h0m-4.8-4.2h0m0.4-9.3h0m-10.1 9.3h0m0.2 1.9h0m-0.3 5.3h0m3.8-22.7h0m-10.5 19.3h0m6.6-7.7h0m8.7-1.1h0m-4.1-2.9h0m-0.8-5.7h0m-5.6 15.5h0m6.4-8.7h0m-3.7 7.9h0m-4-10.2h0m-0.9 3.4h0m10.7 2.4h0m-3.8 2.6h0m-9.3 10.3h0m9.9 0.3h0m-7.2-26.9h0m1.4 15.3h0m6-6.8h0m-10.1 13.1h0m19.9 2.1h0m-2.1 0.7h0m-8.2-17.4h0m-0.5 12.5h0m0.3-1.4h0m-3.1-13h0m0.9-8.7h0m-3.6 22.1h0m14.3 5.7h0m-14.9-1h0m12.6 3.7h0m-16.2-13.2h0m10.4 9h0m-7.6-4.9h0m8.1 3h0m12.3-2h0m-23.4 4.4h0m6.9-8.8h0m13.5 3.5h0m-13.3 4.3h0m4.9-11.2h0m-5 9.5h0m7.9 5.8h0m-13.1-14.3h0m5.1 14.5h0m10.4-14.1h0m-5.5-0.4h0m-4.6 10.2h0m4.6-4.1h0m4.7-12.6h0m-12.7 14.8h0m-3.6-12.4h0m17.1 9.4h0m-11.8-12.3h0m0.7 2.5h0m1.2 6.6h0m-3.4-6.9h0m-0.8 8.2h0m7.4 1.2h0m4.6-12.3h0m-13.2 12.3h0m5.7 1h0m10.1 3.2h0m-12-8.5h0m3.2 14.2h0m-4-8.1h0m-3.3-6.3h0m6.7 1.4h0m2 5.5h0m11.7 0.2h0m0.4-5.5h0m-23.2 13.1h0m12.4-1.8h0m-3.3-3.1h0m15.1-17.5h0m-21 18.9h0m-1.7-12.7h0m1.7-2.2h0m4.7 10.8h0m-2.9-3.8h0m6.1 2.1h0m6.6-7.7h0m-3.4 6.4h0m3.6-0.3h0m-2.7 8.2h0m-6.3-8.6h0m0.4 9.9h0m10.7-6.7h0m-15.6-10.4h0m1.1 11.7h0m5.3-8.6h0m-0.3 11.2h0m-2.8 2.9h0m13.8-15.8h0m-21.1 9.1h0m2.8 6.3h0m8.4-10.9h0m-3.2 4.7h0m0.5 7.9h0m-3.8-13.7h0m2.2 7.1h0m8.1-4.8h0m-4.7 7.7h0m8.3-17.9h0m0.9 7.8h0m-1.6 13.1h0m8.1-13.8h0m-12.6 3h0m5.1 3.1h0m2.7 1.9h0m-9.7 2.7h0m0.3 1h0m14-19.6h0m-6.6 19.3h0m-16.4-5.4h0m0.6 3.8h0m9.3 0.1h0m-1.1 1.4h0m13.1-15h0m-11.5 17.3h0m5.8-19.5h0m-8.4 17.1h0m-2.3-26.2h0m1 9.2h0m1.7 16h0m-0.3 1.8h0m-7.9-0.2h0m0.4-6.8h0m0.8-2.6h0m-0.7-1.3h0m8.7 5.5h0m10.6 3.7h0m-22.9-2.2h0m29.9-1.6h0m-13.3 4.4h0m2.8-3.5h0m-4.8-11.2h0m-10.8 12.5h0m11.5-2.1h0m-10.2 0.2h0m-1.4-6.9h0m11.4 5.9h0m-8.6 4.7h0m-5.2 2.4h0m7.7-12.2h0m1.1-2.5h0m-4.3 11.8h0m6.9-2.5h0m-0.1-0.2h0m9.5-3.8h0m-15.7 6.3h0m-2.8 0.8h0m13.9-2.1h0m2.4-6.6h0m7.5 4.7h0m-16.5 1.2h0m-1.7 4h0m2.5 2.6h0m-0.9-8.1h0m-7.7-1.9h0m3.8 0.5h0m-2.1-9.5h0m16.3 5.9h0m-14.7-2.6h0m0.3 9.3h0m7-3.9h0m0.2-13.1h0m2 5.3h0m0.5 14.1h0m-13.1-7.1h0m14.9-0.3h0m6 8.5h0m-9.3-3h0m-11.4 1.5h0m13.4-2.1h0m-5.9-3.2h0m3.4 1.7h0m-10.2-6.9h0m1.6 6.6h0m3.7 7.1h0m5.6-5.6h0m-6.5-3.7h0m9.9 4.7h0m-17.5-4.6h0m18.4-2.1h0m-11.3 1.9h0m-6.3 9.5h0m14-8.4h0m-15.5-0.5h0m16.5 5.1h0m-8.9 1h0m18.6 3.9h0m-22.8-6.6h0m1.3-1.7h0m15.7 6.4h0m4.5-10.6h0m-14.1 0.2h0m7.4 8.2h0m-12-11.4h0m6.5 10.8h0m-1.4 3.4h0m0.3-1.5h0m-4.4-16.2h0m2.7 15.1h0m13.3-6.4h0m-17.3-1.7h0m12 9.9h0m-5.7-21.1h0m-9.9 7.3h0m2.3-1h0m3.8 14.8h0m-1.5 1h0m0.5-26.5h0m2.8 14.8h0m4.4 6.9h0m-3.3-16.7h0m8.7 15.1h0m-17 1.9h0m2.1 0.2h0m10.5 1.5h0m4.6-19.9h0m6.4 13.1h0m-20.5-8.7h0m2.1-0.4h0m-5.9 9.9h0m10.7 7.6h0m-5.3-8.6h0m17.4-10.8h0m-19.6 17.7h0m9.1-8.1h0m-11.8-4h0m6.8 5.6h0m7.8 2.9h0m1.7 3.6h0m-9.6-0.9h0m-7.4-2.5h0m2-4.3h0m11.2-2.9h0m-12.7 2.6h0m15.1 7.6h0m-6.4-5.6h0m11.2-7.7h0m-10.8 5.8h0m-6.3 6.3h0m6.4 4.1h0m1.8-11.7h0m1-2.1h0m-5.2 11.5h0m1-1.4h0m8 0.2h0m-5.7-9.7h0m-2.3-15.9h0m7.8 18h0m-1-2.6h0m-4.2 5.3h0m-12.1 5.4h0m2.8-5.4h0m2.9-4.1h0m3.8 5.2h0m2.3 8.1h0m10.1-0.2h0m-14.4-0.1h0m5.5-2.8h0m-13.3-0.5h0m16.1 0.5h0m-15.8 4.3h0m11.7-3.8h0m-3.2-2.2h0m-3.2-14.4h0m2.8 18.3h0m18.8-11.4h0m-24.2-3.2h0m0.1 15.6h0m-1.8-20.2h0m21.5 16.8h0m-12.2 3.9h0m0.1-1.1h0m2.7-18.9h0m5.8 19.8h0m0.7-3.5h0m-12.8-5.1h0m-2 6h0m3.5 0h0m2.2 3.3h0m6.6-17h0m-9.3 2h0m2.7 8.1h0m-11 6.3h0m21.1-7.6h0m-9.5 1.5h0m-10.2-0.1h0m2.4 5.1h0m5.3-6.5h0m-9.1 2h0m25.5-8.5h0m-16.1-2.3h0m5.2 16.6h0m-5.8-12.7h0m-1.3-15.4h0m12.6 17.8h0m1.5 10.1h0m-16.6-3.3h0m7.2-17.8h0m-7 18.4h0m-3.8-13.9h0m3.4 13.1h0m19.1-3.1h0m-13.2-6.2h0m-11.2-13h0m7.8 12.3h0m7.5 1.6h0m-8.6 7.1h0m18.5-22.3h0m-17.8 27.7h0m-0.4-11.2h0m1.7 10.2h0m12.1-18.3h0m-14 7.8h0m2.8-0.1h0m1.7-11.2h0m-3.6 12.8h0m7.3 9.6h0m-13.9-13.9h0m2.1 4h0m11.8 5.4h0m7.2-10.7h0m-11.1 4.4h0m-5.1-2.8h0m8.7 12.4h0m-9-11.7h0m1.9 9.5h0m7.1-6.2h0m4.6-10.5h0m-6.4 18.2h0m-0.7-11.7h0m7.8 9.3h0m-9.6 1.3h0m4.6-10.1h0m-6.6-1.6h0m-1.5-0.3h0m1.4 9h0m5-8h0m2.3 10.2h0m-4-10.5h0m-2.1-2.7h0m-0.3 14.3h0m2.9-8.3h0m-10 4.7h0m7.5-13.9h0m-5 13.5h0m-3.7 4.2h0m18.2-2.9h0m7.1 5.6h0m-22.5-2.2h0m12.2-18.6h0m-2.8 6.7h0m-9.5-13.6h0m-1 10.6h0m9.5 11.6h0m-4.6-7h0m2.1 8.9h0m-7.1-13.1h0m8.9 15.6h0m10.1-13.4h0m-0.5 7.9h0m-12.6-0.1h0m2-2.6h0m10.5-10.8h0m-12.9 1.6h0m-0.2 14.4h0m7-5h0m3.4-1.7h0m-3.7-8.4h0m-8.6 8.4h0m11-3.2h0m-4.9 6.1h0m-11.9 2.9h0m0.5-1h0m27-7.8h0m-2.3-0.1h0m-15.7 8.2h0m1.3-0.4h0m0.5-0.9h0m-10.7-1.2h0m3-7.9h0m10.3-0.7h0m11.9 7.4h0m-19.4 6.6h0m0-11.1h0m0.4 9.4h0m-4.7-7.8h0m2.1 6.7h0m16.1-6h0m-11.3 6.3h0m-6.4 0h0m2.4-0.6h0m9.6-9.7h0m13.9 6.6h0m-23.2-13.7h0m1.7 20.3h0m-1.3 0.6h0m6.1-9.9h0m5.4 1.3h0m2.7-1.5h0m-3 6.9h0m5.4-1.4h0m-8.8 1.6h0m3.7-1h0m-3.9-12.3h0m-10.8 15h0m3.5-8.5h0m-2.5 2.4h0m9.4-0.9h0m1.5-4h0m2.8 3.7h0m-13.6-1.1h0m6.7 9.5h0m-5.9-19.3h0m-4 13.7h0m1.8-2h0m17.4 2.3h0m-10-4.4h0m-2.1-8.6h0m-7.3 8.9h0m19-6.8h0m-1.8 8.9h0m-7.6 2.1h0m8.7 0h0m6.4 2.9h0m-22.7-0.6h0m14.8 2.5h0m0-6h0m-1.9 4h0m-6.2 1.5h0m5.9 2.3h0m-8.6-13.8h0m-1.5 9.4h0m4.8-2.6h0m-0.5 5.5h0m0.5-10.8h0m-0.8-1.9h0m1.3 6.4h0m-6.9-0.3h0m6.5 0.8h0m6.8 6.2h0m-4.3-9h0m-5.7-6.8h0m12.2 0.9h0m-18.2 16.1h0m10.9-6.2h0m1.5-12.8h0m5.3 11.3h0m-4.8-3.2h0m-3.5 5.3h0m-3.8-1.6h0m0.7-1.5h0m17.2-5.2h0m-2.2-2.6h0m-12.1 7.8h0m-2.1-5h0m-0.8 6h0m4.3 2.3h0m1.3 0.3h0m-11.8-6.1h0m6.8-1.7h0m6.6-2.3h0m-6.9 10.6h0m6.8-18.5h0m10.1 13.5h0m-14.7-4.6h0m-2.4 10.9h0m15.2-2.8h0m-7.8 4.3h0m3.1 0.6h0m-14.3-0.4h0m5-17.3h0m-1 19.5h0m-0.8-26h0m17.5 14.7h0" stroke="#000" stroke-width="1.0" stroke-linecap="round" opacity="1" fill="none"/>
</g>
<clipPath id="c5"><rect x="400.5" y="660" width="103.0" height="103.5"/></clipPath><g clip-path="url(#c5)">
<ellipse cx="412" cy="757" rx="20" ry="15" fill="#000" opacity="1" filter="url(#b2_5)"/>
<ellipse cx="425" cy="747" rx="7" ry="7" fill="#000" opacity="0.85" filter="url(#b2_5)"/>
<ellipse cx="445" cy="751" rx="15" ry="4.5" fill="#000" opacity="0.6" filter="url(#b3)"/>
<path d="M466.5 694.0h0m-25.1 22.2h0m5.1 19.4h0m-20.7-38h0m12.5 1.4h0m-12.3 31.7h0m31.6-4.1h0m-19.5-23.2h0m4.8-19.6h0m10.6 2.2h0m-15.3 34.7h0m-10.8-28.6h0m-1.6 15.1h0m14.8 9.2h0m18.9 15.9h0m-8.3-0.5h0m3.2-14.3h0m-20.4-17.2h0m15.3 21.1h0m16.9-12h0m-8.3 4.9h0m-7.1-0.5h0m-25.3-7.7h0m30.5-6.9h0m-23.3-5.3h0m13.8 18.3h0m-14.3-33.9h0m28.5 15.1h0m4.4 27.9h0m-8.2-11.7h0m3.7-13.6h0m-7.2-14h0m6.7 18.3h0m-28.2 4.2h0m16.2-5.9h0m9.1-0.7h0m-8.4-1.3h0m13.2 43h0m-14.9-38.5h0m-18.9-0.6h0m16.5 6.1h0m2 25.6h0m-14.6-31.5h0m6 28.6h0m-5-11.2h0m13.4 13.6h0m14.2-45.7h0m-7.3 19.2h0m-17.8 12.8h0m17.6 15.8h0m6.9-28.5h0m0.7-2.7h0m-8.4 12.2h0m3.1-31.7h0m-25.2 7.5h0m10-9.2h0m24.4 38.2h0m-15 5.7h0m-4.5-14.3h0m1.5 20h0m-8.6-28.3h0m12.9-12h0m-16.4 11.2h0m14.3 25.2h0m-0.8 5.5h0m-4.5-45.8h0m-2.5 1.1h0m-8.6 3.9h0m9 8h0m24.3 21.6h0m-26.7 3.9h0m24.2-23.3h0m-37.7-21h0m41.7 47h0m-30.3-27.9h0m25.9-16.9h0m4.1-4.3h0m-30.9 59.8h0m3-57.1h0m-4.6-0.5h0m-8.8 54.2h0m41.2-23.6h0m-6.3 25.6h0m-19.4-56.1h0m24.7 3.7h0m-7.4 54.6h0m4-42.3h0m-23.2 6.3h0m-10 20.1h0m22.6-9.5h0m-16-14.5h0m4.3 37.9h0m-5-54h0m14.7 13h0m10.2-8.1h0m1.2 8.9h0m-31.4 39.5h0m4.2-16.3h0m-3.4 18.3h0m0.1-41.5h0m7 41h0m15.7-34.9h0m-28.2 33h0m23.1-44.3h0m-12.9-8h0m6.1-2.4h0m19.9 32.1h0m-19.2 6.1h0m-10.3 12.5h0m-6.5-19.6h0m36.3-9.4h0m-1.1-7.6h0m-29.1 1.9h0m36.2-4.8h0m-15.8 5.6h0m4.5 5.3h0m6.4 16.4h0m-31.3-22.5h0m-5.6 42h0m38.3-42h0m-14.7 8.6h0m-24.1 21.1h0m10.1-15.8h0m2.4 3.1h0m-6 15.4h0m14.8-38.6h0m0.6 46.3h0m5.7-13.2h0m12.6-40.3h0m-23.6 34.8h0m12.5-34.1h0m-19.9-4h0m20.6 13.2h0m-25 7.3h0m-0.4-15.6h0m37.5 11.3h0m-36.4 33.4h0m28.8-26.8h0m-27.2-5.7h0m27.3 17.3h0m-0.2 8.1h0m-31-37.7h0m16.7 15.7h0m5.2 38.2h0m11.2-42.8h0m-21 32.5h0m15.7-24.4h0m0.3-7.9h0m1.4 10.5h0m-32.1 20.3h0m12.3-27.9h0m5.2-20.5h0m10.7 30.7h0m-26.9-21.1h0m11.3-9.5h0m-0.4 49.1h0m-9.7 6.2h0m22.3-19.8h0m5.8 5.9h0m-25.4-1.7h0m17.7-9.8h0m11.2-11.6h0m-6.4-6.8h0m2.5 38.8h0m5.1 8.8h0m-10.3-12.9h0m-9.6-8.7h0m23.7-2.8h0m-33.4 21.9h0m21.2-24.4h0m-2.8 27h0m9.5-28.9h0m5.9 5.3h0m-24.4-18h0m-3 40.9h0m-0.1-45.1h0m11.4 10.9h0m-5.1-23.6h0m-12.5 14h0m16.5 29.9h0m6.4 11.4h0m-23.7-57h0m28.3 53.8h0m-15.3-3.4h0m-8.6-2.8h0m7.4 12.4h0m11.8-56.8h0m-4.2 34.3h0m-10.3-29.9h0m-1.6 22.8h0m2.4 27.5h0m14.2-23.5h0m-13.7 0.2h0m-2.1-10h0m22-0.6h0m-22.9 3.2h0m-10.5 34.1h0m7-59.2h0m17.7 45.1h0m-17.4 2.7h0m10.3-3.3h0m-16.4-27.1h0m23.2-17.3h0m6.3 48.5h0m-29.8-23.7h0m23.4 4.3h0m11.2-25.3h0m-1 2.5h0m-19.4 2.4h0m-5.8 14.5h0m23.3 26.6h0m-15.7 9.3h0m4.3-36.5h0m0 28h0m0.7-52.3h0m-5.9 13.8h0m2 31.3h0m10.9-16.9h0m-21.7 12.6h0m6.7-39h0m8.7 26.4h0m-19.3-11.6h0m14.1 25.7h0m-5.3 10.9h0m-14 1.3h0m28.3-32.9h0m-20.6 30.4h0m15.9-27.3h0m-22.7-14.7h0m16.7 7.7h0m-6.1 29.2h0m1.9 5.9h0m12.7-4.4h0m3.3-23.7h0m-25 25.9h0m37.3-24.2h0m-8.3 7h0m-6.3-34.1h0m-1 13h0m-8 22.3h0m9.3 9.8h0m5.7-26.7h0m-31.2-15.4h0m10.2 40.8h0m14.9-41h0m-23.7 52.3h0m11.7-31h0m-13.9 9.8h0m22.2 11h0m-2.9 8.8h0" stroke="#000" stroke-width="1.0" stroke-linecap="round" opacity="0.35" fill="none"/>
<path d="M439.7 696.5h0m-1.8-1.5h0m10.7 10h0m-43.3-16.4h0m27.4 5.2h0m17.1 2.6h0m-0.5 28.5h0m3.2-14.5h0m-41.5 8.9h0m0.1 8.5h0m52.8-48.2h0m7.6 5.9h0m-41.9 11.9h0m22.8 6.8h0m-43 29.2h0m21.8-20h0m34.8-12h0m17.4 21.7h0m-60.6-19h0m31.7 8.8h0m0.8 2.5h0m-13.9 12.8h0m2.1-18.1h0m-4.9 15.9h0m-29.1 17.5h0m18.1-45h0m18.6 30.4h0m-21.2-37h0m11.3 14.1h0m7 18.4h0m12.8-4h0m-23.3-17.3h0m-13.1 16.2h0m12.4-24.7h0m-1.6 43h0m14.8-50.4h0m4.6 56.3h0m-33.6-26.6h0m34 8.2h0m26.3-20.8h0m-39.8-12.7h0m6.2 46.2h0m15.7-15.9h0m-18 17.1h0m4.4-11.2h0m-8.9-36.9h0m-5.3-10.7h0m-15.8 11h0m6.1 43.7h0m21.9-23.6h0m18.5 4.2h0m-34.7-3.5h0m25.3 8.6h0m-12.9-17.5h0m13.9 13.4h0m-32.7-18.9h0m1.6 28.5h0m9.2-42.5h0m19.8 66.6h0m-0.2-34.5h0m-13.4-4.7h0m-15.3 14.9h0m49.1-34.3h0m-12.4 2.5h0m-31.3 31.1h0m14.6-46.5h0m-6.2 27.8h0m24.1-21.8h0m-44.9 45.3h0m42.2-2.3h0m-18.9-9.6h0m-28.6-22.4h0m29.9-1.6h0m12.8 27.4h0m-43.1-6.2h0m36-19.3h0m-11.3-2h0m-3.9 1.7h0m21.9 26.4h0m3-46.2h0m-5.1 30.4h0m-8.6 4.1h0m4.6 5.9h0m-0.4-12.5h0m-9.5-9.9h0m4 13.6h0m-12 5.5h0m23.6-7.5h0m16.8 30.9h0m-26.7-20.4h0m8.4-9h0m-8.9-3h0m25.6 16h0m-39.2-19.5h0m35.4 23.1h0m-47.8-0.7h0m42.4 8.1h0m-31.7-15.6h0m13.9 2.3h0m-10.4 4h0m33-16.2h0m10.9-15.8h0m-18.6-22.1h0m-15.1 63.9h0m37.3-27.8h0m-24.6-3.2h0m-0.2-0.4h0m-2.7-4.6h0m-4.9 26.9h0m5.2 25.7h0m-29.9-19.1h0m16-7.6h0m8-33.7h0m15.4 19.1h0m-18.9 7.1h0m3.3 28.9h0m13.2-23.8h0m9.5-21.4h0m-24.3-1h0m13.6 8.1h0m7.5-6.4h0m6.9 50h0m-19.5-24.6h0m-16.9-18.5h0m-0.2 11.2h0m19.5-26.8h0m-22 16h0m6.1 10.4h0m11.3-5.3h0m2.6-31h0m-6.4 32.5h0m6.8-7.3h0m-42.3 39.9h0m7.5-38.7h0m38.8-20.7h0m-4.5 45.3h0m-44.2-25.4h0m44.5 18.9h0m-20.7 6.5h0m34-13.6h0m-9.6 14.2h0m-4.7-24.6h0m-29 42.6h0m4.2-28.2h0m45.3-30.7h0m-24.7 31.6h0m-15-6h0m16.7-16.4h0m-16.6 34.4h0m20.4-13.6h0m-19.4-25.5h0m21.5 43.8h0m3.5-9.6h0m-30.3-0.7h0m31.4-24.6h0m-2.5-7.3h0m-6 18.1h0m-6.8-1.7h0m-23.2-12.4h0m46.3 29.2h0m6-40.5h0m-29.1 6.4h0m1.2 24h0m-27.6 1.8h0m12.6-15.4h0m34.4 20.3h0m-8-22.9h0m33.8-4.9h0m-46.7 12.9h0m33.1 2h0m-41.2 1.2h0m-3.2-3.7h0m0.9 7.2h0m-18.8-6.8h0m24.9 20.8h0m2.3-10.4h0m-3.4-39.2h0m-19.2 11.6h0m33.7 37.1h0m-6.9-27.4h0m26.7 2.2h0m-20.4 5.8h0m-15.9 4.2h0m6.2 4.8h0m2.8-4.1h0m-6.8 23.6h0m7.5-22.4h0m-2.4 22.6h0m0.5-21.1h0m-2.5-16.6h0m-9.2-6h0m28.2 30.1h0m-29.3 20.1h0m6.8-47.9h0m-23.3 30.7h0m29.9-10h0m14.2-25.5h0m-21.4-0.6h0m8.5 29.3h0m-20.2-33.6h0m29.7 20.7h0m-1.9 1.8h0m-12.5-11.3h0m1.2 5.2h0m6.4 9.7h0m17.2 23.9h0m1.6-23.4h0m-19.2-17.2h0m2.5-1.2h0m-7.6 19.9h0m35.8-19.4h0m-35.7 45.1h0m3.2-36.6h0m19.2 36.7h0m-52-36.4h0m47 11h0m-27.4-10.2h0m14.4 8.5h0m0.6-5.9h0m14.1 10.3h0m-3-15.8h0m-22.3-1.6h0m33.4-2.1h0m-43 3.5h0m-8.7 18.6h0m50.7-15.1h0m-20.9-8.2h0m3.6 16.9h0m-5.9 4.3h0m16.8 3.8h0m-23.6 5.1h0m23.9 1.6h0m-42.4-3.2h0m0.5-6.2h0m9.3-34.6h0m12.5 28.8h0m-27.4-1.9h0m43.5 16.8h0m-18.3-34.1h0m13.4 53.2h0m-24.4-33.2h0m26.4-10.9h0m-40.8 4.7h0m34.9 15.1h0m22.9-8.4h0m-23.3-17.4h0m1 41.1h0m-29.3-41.1h0m-3.7 16.5h0m36.1-30.2h0m-31 21.5h0m30.4 21.5h0m7.1-3h0m-37.4-12.4h0m4.8-4.9h0m13.5 17.7h0m5.8-33.4h0m-15.9 18.5h0m9.1-4.6h0m-12.5 0.4h0m28.1 7h0m0.3 11.9h0m-18.1-33.8h0m-24.2 14.5h0m4.4 28.6h0m45.5-8.9h0m-7.5-1.6h0m-42.4-13.7h0m46.9 19.5h0m-1.3 18.4h0m-51-65.8h0m38.5 27h0m-3.6-8.8h0m11.8-1.9h0m-11.3 21h0m-7.2 22.4h0m12.2-17.9h0m-14.3-23.3h0m22.4 22.2h0m-6.2 10.2h0m-21.2-11.8h0m8.4-38.3h0m8.4 31h0m-1.2-15.3h0m20.1 1.6h0m-23.3 9.1h0m-1.3 6.6h0m8.9 18.5h0m-12.5-11.7h0m25.9-16.3h0m-13.1 17.9h0m13.1-29.3h0m-50.6-11.9h0m4.8 38.5h0m12.6 4.3h0m15.3-3.6h0m32.5-44.5h0m-18.1 43.8h0m-39.7-0.7h0m44.5-17.6h0m-27 11.2h0m-5.8 0.2h0m3.5-9.4h0m31.6-1.8h0m-4.7-25.2h0m-4 47h0m7.6-4h0m-39.7 22.4h0m17.9-51.3h0m17.1 27.3h0m-35.7-35.7h0m23.2 20.3h0m-30.4-4h0m27.8-2.8h0m-9.5-2.9h0m-5.7 23.2h0m13.3-19.6h0m5.9 4.5h0m22.3-17h0m-69.8 33.6h0m29.1-3.9h0m40.1-9.8h0m-18.2 13.3h0m-15.9 0.5h0m5.9-10h0m13.1 11h0m17.3-29.4h0m-49 25.6h0m7-0.1h0m1.9 6.7h0m5 18.2h0m15.3-36h0m-1.5-11.6h0m-6.3 21.2h0m28.7-28.4h0m-51 29.3h0m3.1 10.8h0m17.9-24.4h0m-24 13.6h0m-5.2 12.5h0m19.1-16h0m3.1-16.5h0m0.8 12.9h0m7.5-4.9h0m-23.4 14.4h0m23.7-29.8h0m-9.6 11.8h0m17 21.6h0m29.7-4.3h0m-58.3-53.3h0m-4.3 58.4h0m32.2-25.7h0m12.3-23.4h0m-14.9 17.5h0m-11.4-4.2h0m35.4 18.7h0m-19.8 6.3h0m6.6 10.7h0m-7.9 19.6h0m9.1-44.2h0m-21.9 47.9h0m28.8-68.8h0m-6.9 26.4h0m3.6 25.8h0m-15.2-31.7h0m5.1 23.9h0m16.9 0.4h0m-10.4-15.8h0m2.1-25.7h0m-5.8-3.7h0m-32 57.5h0m26.9-44.5h0m-1.8 9.3h0m-4.9 25.5h0m2.8 9h0m-19.8-27.1h0m64.7 7.6h0m-72.6-32.3h0m11.9 30.8h0m14.1 11h0m26.2-1.6h0m-47.2-29.4h0m-5.8 31h0m2.1-9.1h0m8.3-9.4h0m11.2-1.8h0m9.5-7.2h0m22.3 14.8h0m-54.6-31.7h0m-9 24.8h0m28.5 13.7h0m27.6-9.1h0m-46.9-14.4h0m65.7 25.8h0m-44.8-19.6h0m7.6-19h0m7.2 15.7h0m-43.2-13.4h0m36.6 17.5h0m-36.2 25.4h0m9.5-16.2h0m18.3 7.3h0m-26.2-8.4h0m36.7 25.7h0m18.3-36.9h0m-29.9 34.9h0m-0.1-26.6h0m-24-18h0m41.4 33.3h0m-32.1-7.1h0m32.8-23.3h0m-22 16.1h0m16.9-9.1h0m16.1 25.2h0m-54.5 20.4h0m33.5-0.2h0m23-20.4h0m-15.1-27.8h0m17.6 10.3h0m-18.9 3.4h0m-18.4-4.6h0m-10.7 13.8h0m11.7 15.3h0m-3-26.1h0m32.3-6.5h0m-16.3 28.1h0m-11.1-14.5h0m-5.1-2.1h0m32.9 17h0m6.7-38.1h0m-21.9-20.7h0m-20.1 34.3h0m0.8 12.1h0m13.5 7.2h0m19.8-21h0m-8.7 22.5h0m-48.9-3.6h0m54.5-4.9h0m-51.8-8.5h0m25 28.9h0m26.6-20.7h0m0.1 4.8h0m0.1-25.1h0m-30.9 4.8h0m-10.5 19.1h0m23.8-8.4h0m5.3-7.6h0m-12.6 22.2h0m-2 23.6h0m-6.6-53h0m2.2 39.5h0m10-2.2h0m11.3 13.4h0m-46.2-21.8h0m10.9-21.4h0m19-4.7h0m3.7 5.5h0m6.3-44h0m-6.3 42.2h0m-3.5 7h0m6.9-3.9h0m-1.5-8.5h0m13.5 20.8h0m-3-4.9h0m8.5-15.8h0m-48 17.9h0m5-27.6h0m38 32h0m-3.9 2.1h0m-5.1-10.9h0m1.8 11.3h0m-5.9-34.2h0m20.7 18.3h0m-7.8-15.1h0m-26-16.6h0m-2.7 11h0m57.5 39.8h0m-56.5-13.9h0m37.1 8h0m-14.3 12.4h0m4-19.5h0m-34.7-9.6h0m8.5-11h0m42.3 17.7h0m-24.1-2h0m6.1-7.7h0m-1.7-0.5h0m-8.1 42.4h0m-17.2-38.6h0m56.5-15.7h0m-15.1 49.8h0m-37.3-26.5h0m36-7.4h0m-47.8-24.6h0m42.8 27.6h0m-41.8 16.2h0m41.5-2.4h0m-24.8 5.3h0m-21.1 5.4h0m35.1-8.6h0" stroke="#000" stroke-width="1.0" stroke-linecap="round" opacity="0.4" fill="none"/>
<path d="M415.3 721.0h0m-6.9-3.7h0m-4-8h0m-1.2 10.6h0m10.7-14.5h0m1.9-7.7h0m6.5 31.9h0m-8.7-21.2h0m-7.8 34.4h0m10.2-32h0m-10-7h0m-3.7 17.3h0m16.2-6.2h0m-8-8.1h0m-6.9 7.8h0m8.3 3.6h0m0.7-14.3h0m-3.6-8.9h0m2.3 1.5h0m-0.2 9.6h0m-1.5 4.9h0m-2.3 12.7h0m5.8 3.8h0m-11.6-5.9h0m21.4-16.4h0m-16.6 19.6h0m10.6-17.1h0m-6.3-14h0m9.9 38.5h0m-8.7-43.6h0m-0.6 35.4h0m3.3-16.1h0m-6.4 7.5h0m7.6-9h0m3.6 4.5h0m-12.8 2.9h0m5.1-23.4h0m3.3 28.3h0m-2.5-10.9h0m9.9 10.7h0m-20-11.8h0m4.6-4.5h0m5.5 19h0m-5.8-13.3h0m-0.1-34.5h0m7 38.4h0m-0.5 6h0m-7.2-8.3h0m4.2-6.2h0m5.1 15.6h0m-13.3-34.1h0m13.4 27.5h0m4.6 0.4h0m-8.5-11.4h0m1.7-3.3h0m-5.2 26.3h0m4-2.5h0m-3.2-33h0m5.5 30.1h0m1.8-37.5h0m-2.5 36.2h0m-9.3-14.9h0m8.4-1.8h0m7.1-5h0m-13.7 13.2h0m5.6-25.7h0m5.5 15.7h0m-3.2-2.9h0m-9.6 20.6h0m2.8-9h0m-1.6-4.8h0m2.2 31.8h0m12.4-36.2h0m-10.4 9.2h0m1.8-2.9h0m-3.3 7.5h0m8.5 13h0m-0.4 6.2h0m-4.7-16.4h0m1.1-20.2h0m2.5 16.4h0m-11.4 2.5h0m12.9 1h0m-5.4-3h0m8.2 2.7h0m-13.4-16.1h0m5.9 0.7h0m1.9 20.6h0m-5.5 14.2h0m-4.4-15.1h0m11.9-5.2h0m-3 1.8h0m3.4-6.3h0m-10.5-6.6h0m3.3-29.2h0m-1.6 40.8h0m-0.8-24.5h0m4.4 25.4h0m-1-28.2h0m-1.3 41.8h0m1.7-1.7h0m-1.3-9.5h0m-0.9-9.2h0m3.7-6.5h0m-0.7-2.5h0m-0.5-1.5h0m-8.5 36.8h0m7-8.9h0m4.1-35h0m-3 2h0m-5.7 28.8h0m4.9 10.5h0m7.4-36.4h0m-12.4 15.3h0m10.5 13.5h0m2.2 5.4h0m-1.4-18.8h0m-4.1 2.4h0m-1.2-5.9h0m7.4 17.4h0m-9.2-8.9h0m1.5-9.6h0m-2.9-13.1h0m18.4-2.9h0m-6.3 25.9h0m-4.9-21.4h0m-8.8 38.3h0m-3.4-37.1h0m9.3 4.7h0m2.6 45.7h0m-0.1-67.1h0m-10.3 23.3h0m15 3.8h0m-9.6 7.2h0m0.5-2.1h0m5.8-18.5h0m-2.5 25.4h0m-6.5-7h0m5.2-9.3h0m3 4.6h0m5.6 9h0m-4.5-5.8h0m-7.8-4.1h0m0.7-8.4h0m-0.8 9h0m4.3-6.2h0m-2.6 22.6h0m5-15.7h0m-0.8 16.5h0m-10.4-12h0m10.7 13h0m-12.9-15.1h0m22.4 2.2h0m-5.6-7.8h0m-1.5 15h0m-9.1 19h0m3.4-43.9h0m-1.4-2.7h0m-1 2.5h0m1.5 8.2h0m3.3 6.1h0m-2.3-8.9h0m-8.5 3.7h0m-0.5 13.9h0m16.1 15.9h0m-12.2-8.6h0m6.3-1.6h0m0.6-21.5h0m8.3 12.9h0m-9.5-16.3h0m0.9 3.3h0m-8 7.2h0m2.7 18.9h0m-2.7-31.4h0m5 16.8h0m3.5-4.5h0m2.4-19.8h0m-1.6 31.2h0m-2.6-11.5h0m3.5-7.2h0m1.6-6h0m-7.2 18.1h0m3.5 14.9h0m-5.1-10.7h0m2.1 14.9h0m-4.1-12.9h0m14.4-23.8h0m5.4 5h0m-9.9 33.3h0m-7-16h0m-0.6-44.5h0m2.6 19.3h0m5 15.8h0m-5.8-11h0m10.6 22.9h0m-3.8-6h0m-11.6-6.4h0m5.8-5.7h0m3 1.7h0m-2.3 48.7h0m11.4-42h0m-13.5 9.1h0m-2.5-4.7h0m-0.7-16.4h0m0.8 20.5h0m-1.6 16.1h0m2.6-11.4h0m2.5-0.1h0m0.8-7.2h0m-1.5-6.6h0m-3.7-5.1h0m-0.5 17.5h0m2.1-37.2h0m-1 47.8h0m0.4-27.2h0m3.7 5.6h0m-8.2 12.1h0m10.1-26.9h0m7.7 25h0m-2.6-17.8h0m-5.1 6.5h0m-4.2-5.6h0m2.8 17.2h0m-3.5-12.3h0m5.9 20.1h0m4.8-25h0m-7.4 21.3h0m0.3-14.9h0m-3.4-19.2h0m7.6 34.2h0m-5.2-23.7h0m7.8-6.6h0m-0.6 37.4h0m-3.1-3h0m-7.6-22.3h0m7.9 8.3h0m-9.1-16.3h0m9.7 19.9h0m1.4-3.4h0m3.4-11.6h0m-14.9-0.9h0m7.3 21.2h0m0.2-12.2h0m4.7-3.3h0m-4 37.4h0m11.5-40.2h0m-20.4 16.4h0m6.5-15.9h0m-0.7 2.8h0m10.9-13.9h0m-11.8 20.9h0m-3.5-2.5h0m10.5 1.4h0m-13.6-4.5h0m-0.4 9.8h0m14.1-6.9h0m1.1-28h0m-13.4 2h0m8.2 31.5h0m1-26.6h0m-7.9 17.7h0m9.7-5.1h0m-2.8 1.7h0m-11.1 12.4h0m16.5-8.9h0m-1.9 0.4h0m-7.2 5h0m7.9-15.3h0m-9.3 0.3h0m-4.6 13.7h0m3.9-0.9h0m8.1-13.5h0m-2.3 3.8h0m-0.3 12.1h0m1.7-9.4h0m7.8-13.8h0m-12.5 4.9h0m-2.3 8.8h0m3.5 16.1h0m10.2-26.7h0m-6.8 19.1h0m4.8-34.5h0m-8 31h0m-7.5-23.7h0m11.2 29.7h0m-9.3-12.8h0m15.7 13h0m-7.3-14.4h0m6.9 4.7h0m-17.7 10.1h0m7.5-25.5h0m8.1 14.4h0m-4.6-19.2h0m0.1 41.9h0m6.3-15.6h0m-0.5 1.1h0m-13.9-13.3h0m11.4 2.9h0m-1.1-9.3h0m-11.8 18.9h0m-2.1 1.7h0m5.4-9h0m3.4 4.6h0m2.9 21.1h0m-2.1 0.8h0m-5.2-0.7h0m-3.9-6h0m9-30.6h0m-2.2 36h0m-0.5-32.8h0m10.5 7.5h0m-6.2-1.7h0m0.7-5.3h0m-4.7 16.7h0m10.4-24.8h0m-5.4 18.2h0m1.5 3.5h0m-6.3-3h0m-5.6 0.6h0m9.6-15.7h0m-3.5 3.9h0m1.8 10.5h0m7 13.5h0m-3.1-0.7h0m-0.9-19.3h0m-7.5 9.3h0m-3.7-12.6h0m13.2-13.6h0m10 19.3h0m-10.5 28.2h0m-12.2-17.3h0m4.3 4h0m1.2-29.8h0m4.5 33.8h0m5.9-23.5h0m-11.2 23.8h0m3.4-4.2h0m3-28h0m-1 15.3h0m4.2-13.8h0m-2.8 24.2h0m8.4 2.1h0m-18.9 12.7h0m5.7-17.9h0m15.2-18.6h0m-18.6 11.7h0m13.3 23.5h0m-8.8-24.8h0m-5.3 7.3h0m10.2-0.5h0m-12.8 14.8h0m0.7-47.7h0m4.8 12.1h0m4.4 14.2h0m-5.8 8.1h0m-2.1-12.8h0m-3.1 15.9h0m8.6-23.3h0m-1.2 19.4h0m-2.5-1.8h0m10.2-17.8h0m-5.8 24.4h0m-4.1-3.8h0m6.8-6.6h0m-4.6-1.4h0m2.6 0.5h0m-1 8.4h0m1.7 11.3h0m-0.1-13.5h0m0.5 10.8h0m1.1-25.6h0m-1.6 26.1h0m-9.2 4.1h0m-2.6-16.3h0m15.6 9.7h0m-13.4-15.5h0m5.7-14.6h0m7.8 18.7h0m-7-4.4h0m3.1 7.9h0m4.2-13.9h0m-9.5 9.6h0m1.6 1.5h0m2-5.1h0m-4.6 9.1h0m8.6 4.3h0m-6.1 8.9h0m-1-13.1h0m8.4-9.3h0m-5.4 19.7h0m-6.3-27.6h0m0.1 6h0m1 27h0m4-26h0m-1.4-1.6h0m0.5 24.7h0m2.9-42h0m-3.3 18.3h0m0.7 35.2h0m-0.6-33h0m5.7 25.2h0m-4.8-12.4h0m1.7-22.7h0m-4.3 1.1h0m10.9-3h0m-5.5 18h0m-5 21.6h0m3.6-17.4h0m5.7-31.8h0m2.4 35.2h0m-3.1-18.7h0m-5.6 17.2h0m0.1-0.9h0m4.9-27.2h0m-5.5-5.4h0m9.8 32.4h0m-11.8-17.9h0m8.5-18.1h0m-3.8 25.9h0m-9.4-2.2h0m9.1 9.5h0m8.6-12.3h0m-12.3-14.3h0m14.5-10.2h0m-14 17.2h0m9 52.4h0m-7.4-46.4h0m8.6 2.9h0m-3.9 6.6h0m-9.9-2.9h0m1.8 6.8h0m6.3 16.9h0m-3.4-26.1h0m-0.5 22.8h0m-2.2-12.8h0m-4.5-3.5h0m6.7-1.6h0m11.8 12.6h0m-6.9-30.5h0m-7.6 22.8h0m-1 2.7h0m1-10.4h0m-0.4 4.2h0m-3.9-5.8h0m6.6-6h0m15.5-24.4h0m-11.5 26.3h0m-8.3-7.5h0m3.5 18.7h0m10.2-1.5h0m0.8 15.9h0m-8.9 1.5h0m11.3-33.6h0m-8.9-1.6h0m-6.9 9.6h0m3.8 11.3h0m8.3-20.7h0m1.7 1.7h0m-7.3-6.4h0m-2.5 11.4h0m-5.1 25.4h0m14.8-17.8h0m-6.2-7.6h0m-1.6 18.1h0m-1.3-20.5h0m5.8 12.9h0m-2.3 5.3h0m-5.3-1.7h0m10.7-36.5h0m-9.5 53.9h0m2.9-15.8h0m-7.4-1.8h0m5.4-8.8h0m-6-2.5h0m-1.7 1.2h0m10.1 3.6h0m-0.4-7.7h0m2.7 19.1h0m-2.4-27.9h0m5.2-13.1h0m-1.8 33.6h0m-11.5-8.7h0m-0.3-15.7h0m4.8 19.1h0m4.4 12.4h0m-6.6-18.6h0m2.8-6.8h0m-4 23.1h0m7.2-35.7h0m1.9 38.2h0m-8.6-3.7h0m12-15.2h0m-0.3 15.3h0m-7.5-13.8h0m7.1 14.2h0m0.1-16.5h0m-2.2 11.1h0m-3.4-28.4h0m0.4 14.8h0m-9.4 12.7h0m11.3 1.7h0m-8.2-22.3h0m1.3 22.1h0m-1.8-2.1h0m3-8.8h0m-0.5 30.7h0m1-25.6h0m9 29.2h0m-1.8-27.9h0m-3.5-13.8h0m-1.1 7.7h0m-2.7 2.7h0m8.6 21.4h0m-11.1-19.7h0m11.2 10.1h0m-7.1-6.9h0m-3-0.5h0m5.3 17.6h0m4.9-26.4h0m-2.7 7.2h0m-5.8 6.5h0m3.9 3.1h0m-6.6-5.1h0m3.9-11.5h0m15.4 3h0m-22.7-7.9h0m6 18.1h0m0.8 11.7h0m-4.4-25h0m-2.1 21.6h0m0.6 1.7h0m-0.4-21.9h0m3.8 24h0m5.9-27.5h0m-3.2 25.1h0m5.4-16.1h0m-10.6-0.1h0m8.9 3.9h0m-10.6-5.8h0m7.7 3.4h0m-5.1 10.4h0m14.3-12.9h0m-8.1-5.2h0m-0.8-9.2h0m3.3 29.2h0m-2.2-6.7h0m-7.1-0.1h0m7.8-3h0m-6.4 4.3h0m0.4-34.9h0m0.4 40h0m11.5 8.4h0m-0.3-11.8h0m-16.6-7.6h0m0.8-5.2h0m0.4 11.2h0m6.2-8.2h0m-2.1-5.8h0m10.2 6.7h0m-6.2 2.4h0m-10.2-18.6h0m8 19.4h0m-5.6-20.8h0m9.8 20.9h0m-0.5-8.1h0m-6.6-0.3h0m1.1 19.3h0m4.9-17.8h0m-0.3-1.1h0m-5.7-14h0m2.6 33.1h0m4.6 1h0m1.4 3.9h0m-4.7-2.6h0m7.2-9h0m-2.2-17.2h0m-9.1-5.2h0m-0.3 2.8h0m7 11.1h0m-1.5 21.9h0m6.1 4.2h0m-4.2-28h0m10.2 3.9h0m3.2 9.8h0m-18-15.1h0m6.1 10.8h0m6.8-6.7h0m-17.9-5.3h0m10.8 24.7h0m-7.8-10.6h0m1.9-20.4h0m-0.5 2.7h0m7.8 9.3h0m-5.3-2.2h0m-10-5.8h0m7.6 9.4h0m7 1.1h0m-2.5 2.3h0m-3.3 10.4h0m-2.2-13.4h0m0.5-5.9h0m3.2 18.4h0m0.4-13.4h0m11.6 6.8h0m-16.1-16.7h0m4.3-3.3h0m5.9 4.4h0m-2.3 20.1h0m-9.6-10.5h0m0.8 3.2h0m-1.8-38.7h0m7.5 24.6h0m-4.8 7.4h0m6.5 4.3h0m-8.8-2.2h0m-0.9-8.3h0m5.8-9h0m6.4 23.1h0m3.6-2.5h0m-6.9-8.2h0m-7.5 1h0m7.2-23.6h0m-10 25.4h0m8.3 8.4h0m8.4-6.1h0m-3.6 12.4h0m-5.9-5.6h0m-3.1-3.7h0m2-9.8h0m2.4 13.4h0m0.1-15.7h0m-4.7 7.8h0m-1.9-18.2h0m5 44.8h0m-3.4-23h0m6.3 2.8h0m-7.2 2.9h0m7.3 0.4h0m-9.1-33h0m4.6 10.4h0m4.9 7.5h0m-8.6 21.8h0m1.3-15.6h0m2.3 19.8h0m4.9-8.5h0m2.4-2.1h0m-3.7-21.8h0m-2.2 40.4h0m3.3 4.5h0m-6.5-43.8h0m3.7 3.5h0m-3.2 24.1h0m1.6-6.1h0m7.2 5.7h0m1.6-7.4h0m-12.6-19.8h0m8.2-2.6h0m0 39.4h0m0.6-3.9h0m-1.5-17.2h0m3.4-11.7h0m-3 15.1h0m-0.9 3.7h0m-3.9-11.4h0m10.4 9.8h0m-5.5-15.4h0m-3.6 8.5h0m5.3-11.7h0m-11 13.5h0m4.6-6.2h0m11.3-11.4h0m-8.2 25.8h0m-4.8-21.5h0m11.4 12.4h0m-4.9-5.4h0m8.8-7.9h0m-9.2-6.5h0m9 25.2h0m-13.7 3.5h0m17.4-33.3h0m-8.3 26.5h0m-2.4 10.4h0m1.5-22.1h0m-8-4h0m1.1 4.9h0m-5.6 18.6h0m10.3-15.4h0m1.5-15.8h0m-2 14.8h0m-6.2-5.9h0m10.3 17.1h0m-6.1-15.7h0m-4.7 14.3h0m6.1-10.8h0m-1.3 16.5h0m4.9-33.2h0m-7.5 19.2h0m0.1 20.6h0m0.6-22.3h0m4.3-31.2h0m-4.2 61.9h0m9.3-15.7h0m-1.3-11.7h0m-12.5 26.9h0m3.8 0h0m-0.6-16h0m-4-13.8h0m14.1-6h0m-10.8 14.9h0m1.4 7.5h0m5.9-29.2h0m0.9 11.9h0m-4.1-7.1h0m3.7 23.3h0m-7.3-11.6h0m-2.5 13.8h0m6.7-25.7h0m0.3-18.3h0m-7.3 33.7h0m2.4-28.1h0m-2.4 29.1h0m5-3.1h0m-0.9-8.4h0m-1.7 2.1h0m8.2 17.3h0m0.1-13.6h0m-12.7-4.7h0m3.3-2.3h0m4.9 17.3h0m8.3-6.1h0m-9.5-12.5h0m1.2 1.2h0m-9.7 22.2h0m17.4-12.9h0m-12.3-7.5h0m4.1 1.6h0m-0.8-18.6h0m9.6 16h0m-1.9-9.6h0m-10.6 15.9h0m-0.5 25.2h0m0.9-25.7h0m6.1-10.3h0m-7.8 19.6h0m1.2-14.7h0m6 8.6h0m0.2-13.3h0m8.6 14.6h0m-0.1-11h0m-6.6 16.7h0m-0.1 0.8h0m5.3 3.5h0m-8.8-9.5h0m-5.4-12.5h0m7.2 16.8h0m1.4-1.1h0m-9.8-0.3h0m13.1-25.5h0m-10.1 29.7h0m7.2-23.7h0m5.1 1.5h0m-13.3-2.3h0m1.2 12.9h0m3.2-13.3h0m-6.5 15.3h0m12.2 1.1h0m-13.7-0.2h0m8.4-18.2h0m4.8 23.1h0m-10.6-32.6h0m-1.5 19.1h0m8.1 36.5h0m2.9-38.8h0m1.1 23.6h0m-2.5-13h0m10-17.3h0m-20.6 0.7h0m-1.2 26.8h0m15.9-3.3h0m1.4 3.9h0m-4.4-36.7h0m-2.1 61.8h0m1.5-48h0m-11.2 18h0m7.8-11.2h0m-5.1 8.9h0m1.5 11.8h0m4.8-25.9h0m-3.3 15.6h0m-0.2-18.1h0m-0.4 28h0m9.5-44.1h0m-11.4 22.5h0m4.6 25.7h0m-9.8-31.5h0m11.2 7.7h0m5.6 3h0m-1.5 3.9h0m-11.4-3h0m3.3-10.7h0m-0.2 7.2h0m6.6 6.3h0m-1.8-6.3h0m-5.8-13.4h0m0.4 56.4h0m4.3-52.9h0m8.5 21.5h0m-5-9.4h0m-7.3-8.6h0m0.1 12.2h0m11.3-2.1h0m-7.2-14.4h0m9.4 18.6h0m-9.9-13.7h0m9.1-4.6h0m-9-13.5h0m6.4-4.3h0m-6.6 31.7h0m6.4-10.6h0m-3.8-4.2h0m-0.3 33.4h0m2.4-19.5h0m-9.8 19.8h0m0.2-6.3h0m11.3-49.3h0m-10.9 47.3h0m-0.2-14.5h0m0.3-9.8h0m-1.7 10.5h0m4.3-6.4h0m6.6 2.4h0m-2.6-1.8h0m10.7 3.1h0m-16.4-5.6h0m2.8 10h0m-1.4 6.1h0m1.1-4.8h0m6.7 4.3h0m-3.1 25.1h0m5.2-51.7h0m-17.3 18.4h0m-0.9-14.2h0m5.1 1.1h0m3.4 9.7h0m6.4-5.3h0m-10.2-10.9h0m9.4 16.8h0m1.7-3.2h0m-13.6-10.3h0m5-10.3h0m4.1 32h0m5.1-18h0m-5.7 46.3h0m5.1-26.5h0m-5.7-17.1h0m5.9 23.6h0m-15.6-15.7h0m21.4-31.3h0m-18.5 36.9h0m5.7 11h0m5.6 5.2h0m-6.2-8.7h0m-2.6-1.6h0m-0.1 6.6h0m2.3-33.2h0m4.3 19.7h0m-4.4 30h0m-0.9-24.5h0m5.8-10.6h0m5.6-1.3h0m-3.8 14.5h0m-3.6 3h0m-6.3-14.9h0m-2-5.5h0m7.1 19.9h0m1.8-25.5h0m-2 14.2h0m1.4 10.5h0m-1.4 6.5h0m-7.9-47.9h0m10.1 27h0m1.6-11.2h0m-5.1 39.1h0m3.2-43.5h0m-0.9 9.6h0m-7.4 6.8h0m3-13.8h0m1.1 18.1h0m14.4-7h0m-10.2 3.6h0m3.8-10.7h0m-9.8-2.9h0m-1.9-2.2h0m4.2 12h0m0.3 35.1h0m-5.7-10h0m6.7-36.5h0m-6.3 6.2h0m-2.9 11h0m6-22.2h0" stroke="#000" stroke-width="1.0" stroke-linecap="round" opacity="0.58" fill="none"/>
<path d="M465.7 756.0h0m-8.5-10.8h0m6.7 6.6h0m-23.8-8.9h0m9.1 10.5h0m-34.6 3.2h0m49.1-14.7h0m-14.9 14.3h0m-20.9-16.3h0m26.9 2.1h0m-8.5 9.4h0m-19.4 11.3h0m9.5-6.8h0m10.1-2.4h0m31.8-0.5h0m-29.5 2.5h0m-9.3 3.3h0m12.6-9h0m-16.7 5.2h0m43.2 8h0m-58.5-6.6h0m35.8 0.2h0m0.7-9.1h0m-14.1 9.2h0m-9.4-11h0m15.9 2.6h0m0.1-4h0m-15.6 11.4h0m34.3-1.5h0m-8.5-0.6h0m-25 0.6h0m-0.9-7.4h0m28.5 8.1h0m-13.7-7.7h0m9 5.6h0m-12.1-3.6h0m6.4-2h0m-4 6h0m12.5-7.2h0m-5.8 7.6h0m-28.1-0.4h0m27.5-10h0m-22.3 10.2h0m35.9-4.9h0m19.3-0.3h0m-24.1-1.1h0m-17.2 4.3h0m-11.6 0.5h0m37.3-2.5h0m-29.3-4.3h0m-1-0.2h0m-7.7 12.8h0m25.8-8.7h0m15.5-0.9h0m-24 9h0m-1.6-12.2h0m-29.6 4.7h0m22 0.4h0m21.2-6.1h0m-2.3 12.3h0m-3-0.3h0m-16.1-6.5h0m13 2.5h0m22.1 2.8h0m-60.6-3.6h0m39 1.8h0m-12.4 7.5h0m0-14.2h0m-27.5 8.1h0m36.7-5.7h0m18.5 10.5h0m-28.7-1.8h0m-18.3-4.5h0m23.2 6.5h0m-16.7-3.3h0m20-1.1h0m1.7-4.9h0m12.9 2.9h0m-11.3 1.3h0m7.7-7.4h0m-31 2.3h0m7.8 7.3h0m17.5-7.4h0m-6.2-4h0m4.2 4.6h0m7.3-2.3h0m0 1.9h0m-16.7 6.8h0m-6.6-6h0m1.9-1.2h0m24.9 2.5h0m-10.5-1.9h0m4.3-5.6h0m-8.3 5.9h0m24.6 6.7h0m-28.6-6.8h0m-22.2 2.3h0m40.4 0.4h0m-36.7 0.1h0m2.6 3.7h0m28.4 0.4h0m-17.6-4.5h0m21.4-4.6h0m-11.2 1.6h0m2.9 6.8h0m-7.3-4.2h0m14.5-5.6h0m-28.3-0.1h0m3.1 4.8h0m16 2h0m4.6-2.2h0m-31.2 2h0m20.1-1.2h0m2.7-5.9h0m17.7 12.8h0m-20.2-6.2h0m-11.4-7.6h0m33.3 6.5h0m3.5 5.9h0m-39.8-6h0m33.2-0.3h0m19.2 2.4h0m9.3-9.6h0m-32.8 6.4h0m-36.6-1.7h0m3.5 9.1h0m-13.7-9.6h0m36.7 4.6h0m1-8.3h0m-17.7 17.1h0m-9.7-14.6h0m26.7 8.1h0m6.6 1.5h0m-8.9-6.4h0m27.6 1.7h0m-39.4-8.3h0m-14.6 9.3h0m49.6-17.5h0m-17.4 15h0m25.5 5.1h0m-34 0h0m4.1-7.4h0m-6.3 7.3h0m2.3-4h0m7.9-2.4h0m4.9 2.7h0m-16.9 4.4h0m8.4-3.7h0m-18.6-3.2h0m13.5 2.5h0m53.5 6.6h0m-32.7-5.7h0m-16.7 3.2h0m31-3.6h0m-37.7-6.9h0m-4.4 1.9h0m26.9 6h0m-16.6 5.3h0m11.4-7.9h0m-14.6 7.5h0m1.7-2.8h0m-3-8.8h0m14.5 6.8h0m-5.6-10.8h0m-1.2 13.5h0m26.3-6.4h0m-32.9 6.9h0m14.7-14.4h0m-7.3 14.9h0m-18.4-13.4h0m11.7 7.3h0m-1.7-1.4h0m-4.2 3.6h0m-5.9 3.6h0m22 0.9h0m-12.6-8.3h0m25.1-2.1h0m-30 8.5h0m-4.4-7.4h0m5.9 10.3h0m8.2-7.6h0m24.4-3.5h0m-25.1 10h0m-0.1 1.5h0m20.6-4.4h0m-17.7-11.3h0m-36.2 3.2h0m44.2 8.8h0m-3.2-2.9h0m-10.7-4.5h0m-2.5-6.7h0m-24.2 17h0m34.3-11.6h0m3.3 7h0m8.6 5.3h0m3.5-11.5h0m-19 4.3h0m-3.5-2.4h0m12.1 4.5h0m-4.4-1h0m-20 2.3h0m14.4-4.5h0m2.6 10.5h0m-6.7-12.4h0m-7.2 12.3h0m15.1-11.6h0m-0.9 1.1h0m-23.4 4.6h0m34.9-6.4h0m-21.5 3h0m-10.5 2.8h0m38.9-8.3h0m-25.1 11.8h0m18-11.7h0m-24.4 3.7h0m39.4-2h0m-10.2 8.1h0m-8.9-6h0m-9.1 5.7h0m19.7-10.4h0m1.4-2.4h0m-18.3 14.4h0m7-1.6h0m18.8-7.4h0m-26.8 3.9h0m8.9-1h0m12.8 2.8h0m-24.9 0.4h0m8.8-4.7h0m7.4 0.7h0m-12.9 3.7h0m14.6 0h0m-15.5-7.2h0m12.5 11.4h0m-29.7-3.9h0m27-6.2h0m-41.2 9.2h0m49.8-12.8h0m-0.5 10.7h0m-1.1 1.7h0m-12.1 0.7h0m-11.1-5.6h0m17.9-1.6h0m-23.3-3.1h0m7.7 1.5h0m3.8 1h0m-9.5 4.2h0m-4.7 2.9h0m10 2.5h0m32.4-1.7h0m-53.9-5.1h0m18.1-3.6h0m10 3.2h0m9.5 5.8h0m-12.5-7.7h0m20.3 1.3h0m-15.8 5.3h0m-12.8 2.8h0m5.3-11.6h0m-2.5 4.6h0m8.9-5h0m-13.8 3.8h0m29.5-4.9h0m-18.6 11.4h0m18.8-7.7h0m-14.4 4.4h0m-18.3-4.1h0m37.4 8.1h0m-20.8-9.8h0m-2 4.4h0m4.5 1h0m24.2-9.5h0m-28.9 8.4h0m-13.9-2.9h0m8.8 0.5h0m5.4 1.2h0m8.7 2.6h0m-24.2 2.3h0m12-5.8h0m18-2.1h0m-29 1h0m9.8 6.3h0m6.8-7.9h0m10.4 2.2h0m-4.7 3.6h0m-32.1-5.2h0m41.2 0.4h0m-29.5-3.1h0m15 8.5h0m2.1 3h0m-0.5-5.5h0m-29.6 5.1h0m78.9-10.4h0m-62.8 6h0m0.6 0.3h0m13 2.7h0m4.2-3.9h0m-7.4-3.1h0m-31.3-3.3h0m57.4 0.5h0m-11.1 7.4h0m-4.6 6.1h0m-11.9-17.6h0m7.3 13h0m4.5-0.9h0m-28.9 0.7h0m24.2-4.4h0m2.8-2.2h0m-5.9-7.6h0m-23.3 11.9h0m14.7-1.6h0m8.6 7.9h0m18.6-9.8h0m-22.5 1.3h0m8.5-5.2h0m-16.5 11.1h0m35.8 4.3h0m-17.8-5.2h0m-14 0.2h0m17.3 7.4h0m-18.7-17.6h0m16.7 3.1h0m1-1.1h0m-25.5-8.2h0m39.1 5.8h0m-53 15.4h0m22.6-3.1h0m3.8 3.8h0m1.4-9.6h0m-3.7 2.1h0m14.9-4.8h0m-26.7 6.3h0m-1.2-12.2h0m6.7 3.1h0m8.5-0.7h0m41.1 3.9h0m-67.1 7.3h0m40.5-4.4h0m0.3-1.6h0m-4.6 3.1h0m1.4-10h0m-4 8h0m-22.5 0h0m54.1-0.8h0m-7.9 11.3h0m-22.9-9.1h0m1.7 2.6h0m-26.8-8.8h0m-0.1 1.1h0m26.4-0.4h0m-6.1-2.5h0m-13.6 2.8h0m-5.3-3.3h0m13 5.2h0m10.2-1.6h0m-16.6 10.6h0m7.9-4.7h0m-1.5-3.6h0m22.4 2.5h0m-15.7 3.2h0m2.6-9.8h0m2.6 2.8h0m-12.2-3.6h0m32.4 6.7h0m-45.4-4.9h0m7.9 0.7h0m7.6 6.1h0m-9.2-4.1h0m39.3 5.3h0m-3.3 2.7h0m-24.9-11.9h0m-0.5 9.1h0m14-7h0m-24.7 5.4h0m3.2-3.6h0m-12.6 4.2h0m15.4 0h0m26.3 1.3h0m-27.2-2.2h0m11.6-1.7h0m13.7 0.8h0m-8.2-2.9h0m-15.3-1.3h0m4.3 8.4h0m-34.2-9.6h0m38.3 1.7h0m-20 9.2h0m8.1-5.8h0m-4.2-7.2h0m23.7 2h0m-2.4 6.8h0m-39.2-4.6h0m14.5 0.9h0m16.2-6.8h0m-18.2 0.9h0m35.5 9.1h0m-2.7-3.7h0m-23-6.1h0m30.2 6.6h0m-44-2.8h0m33.1-1.1h0m-15.2 2.2h0m-2.8 4.7h0m5.9-0.6h0m-4.8 7.4h0m22.2-8.3h0m-7.3 4.4h0m-0.2-14.6h0m-17.6 8.4h0m-3.7 2.4h0m18.9-2.4h0m0.9 4.1h0m-0.8 3.4h0m-0.6-5.5h0m-21.9-5.4h0m21.4 4.5h0m15.8-2h0m-22.9 0.9h0m7.6 3.5h0m19.2 4.1h0m-29.3-4.5h0m-1.1-0.9h0m1.6 0.9h0m11-4.5h0m7.3 1h0m27.5 0.7h0m-7.1 0.3h0m-34.9-5.8h0m-3.4 12h0m10.5 2.7h0m-4.1-3h0m-5.7 0.7h0m-9.1 0.1h0m20.8-3h0m-18.9-0.2h0m10.8 9.1h0m-24.3-14.8h0m14.6-0.4h0m9-1.6h0m13.5 10.5h0m-12.1 2.9h0m13.9-7.9h0m-27.7-4.1h0m11.2 7.3h0m8.5-3h0m-1.3-0.8h0m9.1-0.7h0m-14.8 1.2h0m3.8 3.6h0m-21-7.7h0m-6 11.6h0m37.7-10.6h0m-12.6-2h0m-6.8-3.9h0m-16 2.6h0m14.9 11.4h0m4.4-6.6h0m-2.9 8.3h0m-1.5-2.3h0m1.6-15h0m2.1 7.2h0m7.1 6.5h0m14.8-7.7h0m-11.2 8.6h0m-47.3 0.5h0m20.2-2.2h0m-9.2-6.9h0m19.5 7.7h0m4.6-0.7h0m16.4-10.6h0m-12.3 1.8h0m-21.8 6.7h0m23.2-2.3h0m-5.7 0.8h0m15.6-0.3h0m-3.2-8.3h0m-8 8.5h0m1.8 4.7h0m6.1 0h0m-33.3-4.7h0m31.4-5.3h0m-26.6 6.1h0m32.9 4.3h0m22.7-7.4h0m-61 6.8h0m26.7-6.2h0m-7.5-0.6h0m-9.5 7.9h0m33.3-17.6h0m-34.8 9.7h0m-5.6 0.1h0m14.3 10.1h0m3-9.3h0m-21.3 0.4h0m27.3 0.4h0m-12.7-6.5h0m9.7 5.4h0m23.1 5.5h0m-23.1-3.3h0m11.9-7.8h0m6.1 13.9h0m18.9-11.6h0m-52 5.8h0m2.7-1.8h0m-2.6-0.3h0m16.2 5.4h0m-15.6-6.2h0m0.4 6.5h0m16.1 2.4h0m-5.1-5.7h0m-1.8-0.7h0m10 2.4h0m-14.7-1.7h0m12.6 4.9h0m-26.3-4.7h0m44.5-1.2h0m-10.7 6.6h0m-2.6-7.4h0m0.8-1.5h0m-21.6 10.3h0m12.3-6.7h0m20.9-3.5h0m-17.9 1.2h0m-19.8 7.9h0m27.2-9.8h0m-14.8 11.3h0m-2.9-6.5h0m13.6-6h0m3.3 5.2h0m-17.7 4.7h0m0.6-2.8h0m19.8-4.6h0m-15.7-1.2h0m16.6 0h0m-4.3-2.2h0m19.9 4.2h0m-24.8-3.4h0m-30.4 4.5h0m32.1-4.7h0m-4.4 8.9h0m-27.5-5.6h0m32.4-3.7h0m-15.1-2h0m2.2 4.4h0m25.8 10.2h0m0.5 1h0m-27-3.2h0m-10.7-6.1h0m13.1 4.3h0m7.1-9h0m11 3.9h0m-3.3 5.1h0m-0.3 6.7h0m-18.6-5h0m-30.2-7.5h0m44.8 7h0m-7.6-7.9h0m-27.3 2h0m27.4 4h0m-11.3 0.4h0m5 2.8h0m16.9-5.6h0m7.1-9.3h0m-24.2 11.5h0m-5.4-1.1h0m31.1 3.9h0m-46.3-2.3h0m41.5-1.4h0m-22.4 8.5h0m26.1-3.4h0m-13.2-8.4h0m-13.3 13h0m21.1-17.2h0m-10.9 8h0m-5.8 8.2h0m19.9 1.4h0m-14.4-15.1h0m-11.4 5.3h0m21.4-1.8h0m-4.1-5h0m2.7-0.4h0m-12 15.2h0m12.1-4.1h0m7.5-10.7h0m-19.6 4.3h0m16 9.8h0m-27.8-11.8h0m3.4 9.6h0m23.3-8.4h0m0.6 1.4h0m-12.8 7.1h0m-16.9-9.6h0m-4.3 5.4h0m21.8-6.9h0m-34.4 5h0m31.2-11h0m0.7 9.6h0m21.5-2.4h0m-11.4 5.3h0m-0.5-6.9h0m-2.4 12.8h0m2.7-9.5h0m-2.8 3.3h0m44.3 3.4h0m-63.8-17h0m20.2 10.4h0m-7.9-6h0m-12.1 12.7h0m23.8-13h0m5.1 6.3h0m-21-5.5h0m10.6 5.7h0m8.9 5.6h0m4.2-5h0m-38.4 1.3h0m32.4-2.9h0m23.6 12.1h0m-55.8-12.5h0m19.8 3.1h0m-2.6-7.4h0m9.5 8.1h0m-14-9.9h0m34.2 14.2h0m-37.2-3.9h0m-6-2.7h0m21.6 7h0m21.5-4.9h0m-26.9 5.2h0m-2.5-0.8h0m28.1-1.1h0m-44.6-8.8h0m41.5 3.5h0m-3.3-2.4h0m-7.3-2.2h0m-11.8 4.5h0m22.3 8.8h0m-24.5-4h0m5.7 2.9h0m-6.7 3.5h0m0.5-4.8h0m3.3-7.8h0m-36.3 2h0m15.3 3.6h0m39-5.9h0m-16.9 2h0m10.1-9.2h0m-24.3 5.2h0m29.6 6.7h0m-59.2 4.7h0m18.2 1.1h0m45.9-11.3h0m-32.8 1.3h0m12.8-3.2h0m-21.5 1h0m9.2 4.7h0m-0.3-0.9h0m20.2-3.7h0m0.4 6h0m-33.8 3.3h0m-5-11.1h0m41.6-0.3h0m-18.8 9.3h0m7.6-10.5h0m-17 6.8h0m53.6 2.2h0m-13.7-4h0m-29-1.5h0m0.1 14.8h0m5.2-12h0m-10.3-6.4h0m3.2 5.2h0m6.7 2.6h0m-5.2 10h0m36.1-12.4h0m-45.3-3.2h0m31.2 1.5h0m-9.3 0.4h0m9.2 0.3h0m-3.8 1.9h0m-17 12.1h0m17-12.8h0m-15.6 5.3h0m-3.9-7.9h0m7.2 9.6h0m-16.8-3.3h0m34.9 0.6h0m-10.7-11.2h0m22.5 9.5h0m-20.8-3h0m16.6 6.4h0m-30-11.2h0m10.6 5.2h0m-25.4-3.5h0m55 13.9h0m-28.8-4.1h0m-7.3-3.7h0m20.2 1.5h0m-0.4-0.4h0m-19.9 3.6h0m10.7-6.1h0m-12.4-6.9h0m4.7-2.2h0m-12.8 1.5h0m17.2 3.5h0m0.4 6.2h0m-9.8-10h0m-5.6 5.6h0m5.5-8.3h0m18.1 17h0m-21-2.5h0m12.4 1.6h0m-6.4-15.1h0m-2.4 11.9h0m17.7-7.6h0m16.6 4.2h0m-20.2 5.5h0m-5.8 0.8h0m-15.6-11.2h0m24.3 10.9h0m-3.4-8.8h0m-21.8 7.6h0m19.3 1.8h0m14.2-9.1h0m-21.5 5.3h0m13.2-3.8h0m2.7 11.3h0m-23.3-8.4h0m-5.2 10.6h0m31.7-10.3h0m-27.2 3h0m31.4 0.9h0m-20-8.6h0m3.1 9.1h0m-1.2-7.2h0m-17.1-0.1h0m21.5 7.1h0m-13.1-8.1h0m2.4 3.5h0m21.6-8.6h0m-33.3 6.1h0m-6.9-4.2h0m21.8 9.5h0m3.1-0.8h0m-25.7 0.3h0m28.7-8.3h0m-19.7 13.3h0m10.4-10.1h0m1.2-3.5h0m-2.4 3.9h0m19.8 9.7h0m17.7-17h0m-43.5 10.6h0m12.6-14.4h0m-31.3 14h0m22.3 0.4h0m5.6 4.4h0m11.3-3.7h0m-23.7 2.9h0m-0.5-1.9h0m-16.2-6.3h0m25-3.2h0m-7.4 5.4h0m18.3-4.7h0m-25.1-2.8h0m-7.5 11.4h0m43.5 4.1h0m-5.5-9.7h0m-12.7 4.3h0m-29.7-1.9h0m36.4 3.5h0m-38.7 5.7h0m34.5-4.8h0m18.8 5.3h0m-33.4-8.2h0m29.1 2.1h0m-19.4-4.6h0m20.4 8.1h0m-2.7-13.4h0m1.5 11.5h0m4.9-12.1h0m2.4 11.5h0m-11.8-1.8h0m-15.8 4.4h0m11.3-9.9h0m-41.8 13h0m35.2-9.3h0m3.3 1.4h0m-11.7-3.3h0m26.3 9.5h0m-16.8-12.6h0m-8-2.6h0m2 5.6h0m-6.5-3.9h0m18.8 12.6h0m-9.6-16.1h0m12.2 9.4h0m-6.9 0h0m-1.5-1.5h0m-14.8 3.5h0m10.2-6.9h0m7.8 5.3h0m-0.1 1.3h0m10.4 10.5h0m-19.5-11.9h0m3.5 5.9h0m1.7-9.4h0m14 4.1h0m-5.4 2h0m-11.4 6.3h0m-27.2-7.3h0m20.2-2.4h0m12.5 2.4h0m-19.3 5.1h0m21.2-2.1h0m-12.1 4.3h0m19.3-16.4h0m21 17.8h0m-35.1-2.2h0m31.4-13h0m-39.1 5.8h0m3.6-5.6h0m20.4 0.9h0m-23.7 1.1h0m14.7 4.2h0m13-1.8h0m-34.1 0.1h0m-1 8.3h0m11.2-4.4h0m12.4-1.7h0m-33.7 4.7h0m3.8-2.5h0m3.5-9.3h0m35.8 9h0m-32.4 0.7h0m7.4-3.1h0m0.8-4h0m41.1 5.9h0m-28.6 2.1h0m-9.5-3.6h0m13.2-6.3h0m-10.9-0.6h0m-16.7 2h0m30.5-6.3h0m-32.5 7.5h0m1.2 3.1h0m17.1-1.9h0m-9.4-6h0m19.5 1.4h0m-5.2-2.8h0m-1.3 9.1h0m-24 9.3h0m33.2-8h0m-11.1 5.5h0m6.5-5.4h0m1.5 1.8h0m-21.1 4.6h0m18.8 0.7h0m-29.5-10.9h0m13.6 0.9h0m12.3 3.4h0m-2.5-4.7h0m-3.9 2h0m-11.8 3.7h0m9-3.6h0m5.1-4.7h0m-9.1 6.8h0m6.2 1.1h0m-12.2-3.6h0m38.3 4.3h0m-10.2 6.6h0m-11.7-13h0m3.7 6.2h0m-10.2-2.3h0m4.1 3.6h0m-26.4-10.6h0m39.5 9.5h0m-16.6-5.5h0m13.4-2.7h0m-24.6 2.4h0m11.9 2.9h0m-0.5-4.1h0m28.1-0.6h0m-19.9-3.1h0m-9.8-1.1h0m-16 3.8h0m-3.3 2.2h0m24.6 4.5h0m-6.4-3h0m-15.7 3h0m7.6 3.8h0m30.7-7.5h0m-6.4 6.4h0m-11.2-7.3h0m-9 5.9h0m-0.7-4.1h0m13-10.1h0m7.9 11.9h0m-0.9-1.4h0m5.2-3.8h0m-2.3-4.5h0m-18.4-1h0m15 13h0m-9.9 1.2h0m26.1-9.5h0m-0.9 9.6h0m-2.2-2h0m-22.7-1.5h0m25.1 8.5h0m-26.5-1.1h0m15-6.1h0m-15-9.9h0m10.3 5.3h0m-12.1-4.1h0m-2.8 8.4h0m25.1-1.2h0m-11-3.8h0m4.4 13.1h0m2.1-7.1h0m-9.9-10.1h0m20.3 1.2h0m-8.2 5.7h0m-9.3 0.6h0m-2.6-6.3h0m-27-4.6h0m23.8-2.7h0m5.9 17.1h0m-3.9-10.8h0m3.9 7.6h0m-23.1 8.5h0m28.9-8.2h0m-15.6-5.9h0m-9.7 4.1h0m12.2 7.8h0m-5-6.6h0m-0.1-1.8h0m4.3 2.5h0m1.9 4.2h0m-8.7-9.8h0m2.5 0.5h0m-12.9-1.3h0m16.9 2.1h0m-6.6 8.4h0m18-3h0m-0.2-3.2h0m8.7-1.6h0m-4.7 12.8h0m-16.8-5.8h0m14.9-4.6h0m-20.2-2.9h0m-4.9 10.2h0m13.7 1.5h0m-8.5-13.2h0m1.5-3h0m21.3-0.5h0m-2.6 1.6h0m-12.8 7h0m4.7 3.3h0m6.9-5.5h0m12.7 2.7h0m-12.7-0.5h0m-26.7 0.2h0m37.5-0.6h0m-24.7-0.8h0m14.7 1.8h0m2.8-0.3h0m-11 0.6h0m-6.3-2.4h0m-7.9-8.4h0m-16.2 7h0m23.6-5.2h0m1-2.3h0m17.2 4.2h0m-3.7 2.4h0m-1.7-2h0m-3.9-7.4h0m15.1 16.6h0m-26.2-5.7h0m34.8-3.3h0m-3.2 9.9h0m-36.6-12.3h0m-7.6 8.3h0m33.9-2.3h0m-17 1.8h0m6.4 3.7h0m1.4-6.8h0m2.3 1.9h0m-4.2 5.7h0m-13 2.3h0m-20.7-7.2h0m23.7 4.6h0m-6.8-14.4h0m22.6 5.4h0m8.5 4.7h0m-3.5-2.6h0m-26.3-0.6h0m24.2 2.4h0m-8.9 0.8h0m9.7 3.9h0m-36.3 0h0m19.1-5.8h0" stroke="#000" stroke-width="1.0" stroke-linecap="round" opacity="0.65" fill="none"/>
<path d="M423.1 712.6h0m-4.6 21.4h0m-13.2-4.5h0m9.6-0.6h0m-1.5-5.5h0m-8.1 7.9h0m10-9.5h0m-7.5 17.9h0m1.5-3h0m-6.8 1.1h0m8.8 3h0m-0.9-3.9h0m4.2 3.7h0m-2.9-11.6h0m5.1 5.7h0m-6.2-10.3h0m-9.5 6.8h0m5.4-0.5h0m-3.2-0.5h0m15.4-4.5h0m-15.6 7.8h0m14.3 2.6h0m-5.4-12.7h0m-6.6 3.1h0m16.8 21.3h0m-14.4-17.3h0m5.8-5.7h0m0 10.9h0m-9.2-2.2h0m13.5-3.4h0m3.4-7.3h0m-9.4 18h0m0.3-4.6h0m6.1-3.5h0m-8.4-7h0m-0.1 3.1h0m11.2-2.4h0m-7.2 13h0m-7.8-10.4h0m5.2-2.2h0m0.8-5.3h0m-9.8 20.3h0m7-4.8h0m5.2-8.7h0m6.6-0.5h0m-10.6 8.6h0m-6-15.3h0m7.8-5.5h0m-4.5 5.9h0m10.8 13h0m-2.4-14.1h0m-8 2.7h0m8.9 13.5h0m-6.3-3.2h0m0.3-3.8h0m11.8-2.1h0m-8.5 3.9h0m5.3-6.2h0m-8.8 3.2h0m4.2 15.1h0m-5.9-15.4h0m-4.6-21.7h0m6.3 13.1h0m8.4 13h0m-10.4-7.6h0m6.9-6.8h0m-5.9 19.6h0m7-5.5h0m-1.4 2.7h0m3-12.7h0m-4.6 5.9h0m-3.2 8.5h0m-3.1-11h0m-0.3 8h0m1.9 3.3h0m10.2-9.2h0m-15.2 14.6h0m8.8-13.1h0m-6.4-7h0m2-6.2h0m-1.2 12.6h0m6.2 14h0m7-11.5h0m-18.5-7.6h0m10.5 0.7h0m3.8 0.6h0m-0.5-7.8h0m-5 10.2h0m3.2 12.8h0m-7.1 1.8h0m7.2-15.9h0m-11.1-0.9h0m13.9 20.2h0m-6.7-21h0m2.3-3.7h0m0 2.6h0m-2 6.8h0m-3.6-4.3h0m-0.3 7.5h0m2.6-11.1h0m3.4 17.4h0m1-7.9h0m12.1-2.5h0m-8.7-3.1h0m-12.5 9.7h0m11.1-14.1h0m-7.3 16.2h0m5.8-7h0m8.9-0.8h0m-11.7-1.3h0m0.3 0.7h0m-3.3 0.9h0m0.5-1.9h0m2.1 17.5h0m-4.2-19h0m4.1 9.1h0m1.3-16.3h0m0.6-0.5h0m-7.5 1.4h0m14.1 15.7h0m-13.3-6.2h0m0.5 8h0m5.5-16.9h0m1.6 29.7h0m-5-19.8h0m12.6 18.5h0m-14.5-14.9h0m2.5-15.8h0m-2.1 25.6h0m6.9-2.2h0m6.5-5.8h0m4-18.9h0m-8.9 17.1h0m-10.7-1h0m13.3-8.3h0m-9.5-11h0m8.4 14.8h0m-1.6-10.4h0m-0.1 13.9h0m-14.3-2.9h0m10.8-8.8h0m-6 3.1h0m6.2-3.6h0m-6.1 15.1h0m13.1-5.8h0m-6 4.5h0m0.5 5.8h0m-5.6 4h0m-0.2-27.2h0m13.3 21.2h0m-18.8-3.3h0m6.5-10.1h0m-3.8 0.3h0m1.2 4.8h0m5.2 10.7h0m3.3-4.4h0m-13.5 1.4h0m11-3.1h0m1.6 9.8h0m7.3-32.7h0m-4.1 13h0m-10.6 3.8h0m3.3 2.7h0m-3.2-16.7h0m11.9 3.6h0m-7.1 9.1h0m-0.4 6.1h0m0.9-1.1h0m4.5 1.3h0m-6.5 0.4h0m-7.2-5.3h0m7.4-1.3h0m0.5 9h0m-8.7-5.7h0m8.9 2.5h0m-1.2 5.4h0m-1.1-5.6h0m2.1 5.6h0m-7.4-14.3h0m1.1-10.2h0m0.6 16.3h0m2.6 1.4h0m12.5 1.6h0m-13.3 10.9h0m7.2-22.9h0m-5.3 15.2h0m4.7 1.3h0m-7.6-10.2h0m4.6 3.6h0m-3 2.1h0m-5.8-7.7h0m10.7-0.1h0m-7.5-1.9h0m-1.9-7.1h0m14.2 15.8h0m-3 6.3h0m0.8 4.2h0m-0.6-8.3h0m-5.5-14.7h0m8.6 24.5h0m-0.5-22.6h0m3.2 7.9h0m-3.3 2.1h0m-0.5-5h0m4.3 7.7h0m-9.5 11.1h0m3.5-15.9h0m-10.2-7.5h0m8.6 16.4h0m-6.8-3h0m5.3-1.8h0m-4.5-17h0m10.4 13.2h0m-8.1 11.7h0m-4.5-20.3h0m11.1 9.6h0m-1.2-0.2h0m-3.2-5.6h0m-5.3-1.4h0m7.2 4.2h0m-8.8 11.5h0m3.4 0.5h0m6.1 2.7h0m8.6-15.9h0m-7.1 15.3h0m-2.1-8.2h0m-1.9-7.1h0m-4.4-6.7h0m-0.2 12.6h0m2.8 5h0m9.4-3.9h0m-16.3 8.7h0m18.7-12.8h0m-8.3-8.7h0m5.4 12.6h0m-4.3 12.3h0m-3.8-20.5h0m6 15.9h0m-11.1-16.8h0m3.8 0.2h0m3.7-14.2h0m0 16.7h0m5.6 3.6h0m-8.6-0.1h0m11.8 7h0m-12.8 7.3h0m4-19.1h0m5.1 6.4h0m-8.2-3.4h0m-4.6 9.4h0m2.1-26.8h0m-0.3 20.4h0m-1.1 2.8h0m-2.4 4.3h0m9.8-13.3h0m2.8-19.1h0m-10.1 34.8h0m2.2-7.9h0m6.7-20h0m-9.3 22.4h0m18.2-29.1h0m-18.9 9.8h0m7.2 26.9h0m-5.8-21.5h0m6.1 25.9h0m4.7-22.7h0m-2.2 7.1h0m3.2-19.2h0m-5.4 15.2h0m4 16h0m0.3-24.5h0m-5.3 18.9h0m1.7-16.5h0m-12-2.9h0m1.3 10.4h0m18.8 5.7h0m-13.9 13.8h0m-3.2-20.3h0m5-0.9h0m2.6 4.8h0m9.9-7.8h0m-10.2-2.2h0m-0.6 8.6h0m-2.8-8.4h0m1.1 8.6h0m-6.6-4.3h0m3.5-1.1h0m2-2.2h0m1.6 16.7h0m-7.9-5.3h0m17.3-6h0m-9.1-7.3h0m-0.8 13.1h0m-0.8-2.6h0m-0.2-12.2h0m0.3 15.1h0m13.6 2.2h0m-20.7-23.1h0m13.1 16.1h0m-10.5-15.8h0m5.7 24.1h0m-1-3.6h0m-4.4-18.2h0m3.8 8.3h0m0.8 9.2h0m3.8 3.4h0m-5.6-7.8h0m0.6 2.5h0m1.8 2.6h0m15-7.1h0m-12-1.3h0m-7.9-6.1h0m6.2 18.2h0m0.1-2.2h0m2.1-21.8h0m6.9 10.7h0m-6.5 12.7h0m6-5.4h0m-14.5-3h0m11.3-0.8h0m-10.8-2.2h0m10.2 1.1h0m-0.6 0.4h0m-13.8-5.5h0m4.1-6.6h0m4.9 7h0m4 2.5h0m-1.3 7.6h0m-8.1-6.3h0m6.8 0.6h0m-3-15.1h0m-1.1 0.3h0m8.3 17.4h0m-1.8-1.2h0m-4.1-8.8h0m-4 14.5h0m15.2-9.2h0m-11.3 6.6h0m7.4 10.5h0m-3.8-27.6h0m-12.1 11.5h0m4.8 2.3h0m5.4 5.5h0m-0.9-0.8h0m-5.7-2.4h0m-1.5-1.1h0m1.9-9.2h0m16.1 23.4h0m-8.5-16.4h0m-3.6 0.4h0" stroke="#000" stroke-width="1.0" stroke-linecap="round" opacity="0.7" fill="none"/>
<path d="M434.6 751.2h0m-16.6-3.8h0m0.5 6.6h0m4.8-5.6h0m-16.8 3.6h0m19.8 9.8h0m-0.1-17.8h0m-22 9.3h0m0.9 2.8h0m4.8 4.1h0m10.3-4.7h0m-17.8 0.9h0m15-6.3h0m-3.9 10.7h0m-10.2-2.4h0m2.7-3.9h0m1.3 5.2h0m23.6-6.8h0m-29.6-4.1h0m17.2-4.2h0m0.4 12.5h0m-3.4-13.2h0m-4.2-0.1h0m8.4 8.9h0m3.3-6.3h0m-8 12.1h0m8.1 0.7h0m-19-10.2h0m14 9h0m-3.9-5.1h0m-6 6.9h0m-6.9-3.4h0m15.6-10.4h0m-8.4 5.9h0m15.7 9h0m-9.2-2.2h0m-0.3 0.6h0m-0.3-6.5h0m-9.4 2.2h0m1-12.8h0m6.8 1.3h0m2.6 7h0m-3.5-2.2h0m-9 14.6h0m18.4-5.9h0m-11.9-1h0m-1.4 4.8h0m12.3-3.2h0m-3.5-6.5h0m-7.8 2.5h0m0.9-14.5h0m5.9 19.5h0m-11.8-3.1h0m23.8-0.4h0m-21.6-0.6h0m-1.2-1.9h0m25.6-2.8h0m-28.9 6.7h0m13.1-1.4h0m-4.6-9.6h0m-6.2 6.8h0m-2.2-5h0m4.4 12.3h0m9.8-3.3h0m7.9-10.2h0m-16.2 16.8h0m2.9-7.5h0m-2.8 1.3h0m2.3 1.5h0m19.7 2.5h0m-17-6.5h0m-1.8-4.7h0m26.3-3h0m1.4 8.2h0m-31.4 1.4h0m12.6 1h0m6.6-1.2h0m-14.6-1.3h0m5-4.8h0m-9.8 0.7h0m-2.2 1.8h0m19.7 5.8h0m-8.8-18.6h0m-1.9 15.5h0m-5.9-11.6h0m12 14.7h0m-17.2 1.5h0m7.2-9h0m19.3-1.7h0m-12.1 5.8h0m-10.4-0.6h0m-2.1-32.6h0m12 39.7h0m7.2-18.5h0m-20.2 9h0m9.1 5.4h0m7.1 2.4h0m-0.9-9.8h0m-5.7 5.8h0m-9.6-4.6h0m20.2-2.8h0m-14.7 4h0m8.4 3.6h0m0.4-5.2h0m1.1 6.5h0m-3.1 4.3h0m10.2-17.5h0m-19.3 8.2h0m-1.1 7.6h0m-3.6-13.6h0m20.6 3.6h0m3.5 13.1h0m-24.8-19.9h0m34.2 10.1h0m-27.8-0.6h0m4.3 0.8h0m17.9-7h0m-17.5-0.2h0m-7.2 2.3h0m28.8 4.4h0m-3.6 6.5h0m3.4-7.1h0m-23.1-9.2h0m10.6 7.3h0m-19.5 3.1h0m-0.6-3.3h0m32.6 0.3h0m-10.3 8.8h0m-20.2-22h0m10.4 13.3h0m-9.6-8.7h0m29 7.6h0m0.2 0.3h0m-31.7 2.2h0m17.6 10.5h0m-15.2-16.1h0m-1.1-2h0m-1.2 16.4h0m10.9-5.3h0m2.3-16.8h0m2.7 12.3h0m-5.4 1.6h0m-5.2 2.8h0m5.5-9.3h0m1.4-5h0m14.9 17.2h0m-19.6-18h0m-4.1 21.2h0m41.6-8.7h0m-33.7 2.7h0m-1.2-7.9h0m25-1.7h0m-34.3 4.9h0m13.9 2.4h0m-6.5-7.7h0m3.2 11h0m-3.2-1.9h0m24.3-5.5h0m-28.5 4.7h0m23.3 7.7h0m-13.1-7.2h0m9.1-5.4h0m-21.1 0h0m9.8 6.9h0m-10.2-12.4h0m6.5 8.5h0m19.9-5.9h0m-8.5 1.6h0m-11.5 10.5h0m12.7-27.9h0m-19.4 18.3h0m17.5-6.5h0m-14.8 1.8h0m10 8.3h0m-2.4-6.7h0m-5 17.6h0m9.3-10.3h0m4.1 1.2h0m-20.2 0.3h0m19.6 4.1h0m-17.8-10.4h0m10.1 1.4h0m-0.5 4.4h0m-1.5 5.9h0m-4.7-11.5h0m7.6-11.1h0m-4.8 17.1h0m14-1.9h0m-3.3-9.6h0m2.8 4.3h0m-7.6 10.1h0m-0.2 0.9h0m-7.2-20.9h0m4.2 14.6h0m2.8 0.9h0m-4.7-7.4h0m16.2 8.6h0m-21.8-1.4h0m1.7 3.3h0m-3.5-6.7h0m-0.6 1.3h0m7.7 8.1h0m7.1-8.2h0m1.9 3.7h0m-8.6 0.1h0m3.3-2.9h0m8.7 9.2h0m-15.4-7h0m-3.8 7h0m0.9-10.3h0m8.6 8.4h0m7-9.3h0m-2 2.5h0m13.4 0.6h0m-19.2-5.2h0m-6.1 1.5h0m-4.1 12.4h0m13-1.8h0m-6.5-0.9h0m-3.5-10.5h0m12 0.6h0m0.1 5.8h0m-7.7-0.4h0m13.7-4.4h0m-21.2 9.2h0m2.6 2.8h0m21-4.4h0m-16.4-3h0m4.5 4.4h0m5.2-13.3h0m6.4 13.3h0m-14.4-13.4h0m-0.2 17.7h0m0.7-3.4h0m7.2-14.1h0m0.3 4h0m0.4 1.8h0m-2.5 7.9h0m8.9-10.3h0m1 7.7h0m-13.4-8.7h0m9.4 5.5h0m-17.7 0.1h0m6 1.2h0m-9.2-0.4h0m10.9-5.2h0m-4.7 9.4h0m2.9-16.3h0m-9.7 10.4h0m7.5-12.7h0m16.5 14h0m-2.1 6.9h0m-15.2 0.4h0m12.1-4.1h0m1.5-9.1h0m-12.1 6.6h0m-0.9-2.3h0m4.8-7.4h0m-9.3 15.1h0m11.1-6.7h0m-9.3-3h0m9.4-1.4h0m-6.7 12.8h0m-3.4-7.9h0m4.9-3.5h0m-3.9 9.6h0m7.2-24h0m6.8 27h0m1.1-17.9h0m9 3h0m-16.4 12.1h0m25.4-15.4h0m-34.4 9.1h0m0.7-8.3h0m-2.3 9.5h0m-1.8 2.7h0m23.6-8.6h0m-11.1-3.6h0m11.5 2.4h0m-10.6 1.5h0m5.7 0.2h0m-6.1-0.6h0m-7.1-3.9h0m2.6 8.9h0m-3.8 7.2h0m4.3-11.1h0m12.5 5.4h0m-3.8 3.7h0m4.1-13.3h0m-15.8 4.8h0m3.4 12.3h0m16-8.3h0m-13.8-7.4h0m21.5-6.8h0m-32.9 20.1h0m50.1-15.3h0m-44.6-6.9h0m10.9 12.4h0m-9.7 10.8h0m0.9-8.9h0m22.6-2.7h0m-5.6 0.7h0m-15.7 11h0m9-7.9h0m-16.9-9.3h0m12.4 5.7h0m2.5-2h0m6.6 11h0m5.2 1.3h0m-22.6-5.3h0m0.8-8.8h0m10.9-3.5h0m0.2 16.7h0m-12.4 1.8h0m8.9-10.9h0m-8.2 9.6h0m-2.4-13.1h0m7.3 13.8h0m-0.1-14.8h0m-10.6 8.6h0m19.1-18h0m-4.2 7h0m-10.3 8.7h0m10.7-5.9h0m-8.3 12.9h0m-2.2-12.4h0m-2.5 7.4h0m11.3-9.6h0m-1.5 8.2h0m0.8 6.8h0m4.1-12.5h0m-12.2 9.6h0m5.9-10.7h0m5.2 9.9h0m-6.2 6.2h0m4.7-12.4h0m11.1 4.1h0m-22.9 5.9h0m23.6-4.2h0m-21.5-12.7h0m13.7 9.4h0m-17 4.7h0m2.1-1.6h0m0.6-6.3h0m6.2 8.8h0m3.4-17.7h0m-7.8 11.6h0m16.8 5.5h0m-3-11.6h0m-5.9-2.5h0m-11.1 17.6h0m2.2-12.9h0m19.8 6h0m-17.6-3h0m6.3-4.8h0m-7.9 11.7h0m21.3-2.8h0m-4.8 1.7h0m-6-23.1h0m-0.9 21.2h0m2.9 0.9h0m-13.8 0.9h0m10.7 1.8h0m0.3 4.3h0m-1.5-4.2h0m-13.8-11.5h0m10.7 9.2h0m1.4 3.1h0m8.9-1h0m-6.6-5.6h0m1.7-10.4h0m-7.7 13.4h0m11.1 0.7h0m11.3-6.5h0m-10.9 6.4h0m-8.8-3.4h0m5.4 0.7h0m-9-17.4h0m14.4 6.3h0m-16.9 11.4h0m8.4-4.8h0m-5.1 5.5h0m-4.1 3.5h0m17.9-1.5h0m-11.1-1.6h0m14.8-7.8h0m-19-1.4h0m7.9 14.5h0m-7-10.3h0m1.5 11.2h0m23.6-6.8h0m-23.5-9.7h0m1.1 12.7h0m1.6-17h0m-4.2-1.3h0m17.8 19.9h0m-6.3 2.9h0m-7.7-11.5h0m2 2h0m-8.2 6.6h0m-2.5-10.8h0m9.2 5.5h0m-10.4-9.1h0m22.2 2.7h0m-11.2 5.9h0m7.4 6.6h0m-10.4-14h0m-4.8 0.1h0m4.1-0.8h0m-7.1-1.3h0m14.3 17.5h0m-3.2 2h0m-3.7-9.9h0m13.6 0.7h0m-11.4 8.7h0m-1-4.8h0m3.8-1.5h0m-7-8.2h0m4.9 3.7h0m8.4-2.9h0m-20.3 8.5h0m20.7-6.7h0m-15.9 3.8h0m16.1-12h0m-1.9 4.2h0m3.1 5.4h0m-7.2 9.3h0m-4.5-5.9h0m-10.5-6.4h0m9.4 10.2h0m-4.7-4.1h0m27-13.1h0m-22.6-3.7h0m-8.7 2.9h0m34.9 10.7h0m-23 3.3h0m-1.3 0.1h0m8-8h0m-9.3 4.5h0m0.7-0.9h0m14.7-13.2h0m4.7 12.6h0m-27.1 10.5h0m17.8-15.4h0m-1.7 7.9h0m2.6-2.8h0m-13-4.6h0m11.2 10.2h0m2 4.8h0m-17.8-5.9h0m22 4.8h0m-16.4-7.1h0m27.8 3.9h0m-36.1-8.3h0m17.2 6.7h0m-17.8 4.5h0m9.7-7.5h0m-2.2 8.3h0m-6.4-6.3h0m24 2.4h0m-20-14.2h0m0.8 11.5h0m-4.9 1h0m37.3-5.8h0m-29.8 8.4h0m3.7-4.4h0m6 8.9h0m-2.5 1.2h0m-9.6-7.2h0m17.2-10.4h0m-8.9 5.9h0m-9.3-7.4h0m-4.3 19.4h0m7.6-11.4h0m2 6.5h0m-9.5-4.4h0m11.6 2.8h0m-4.9 3.2h0m-5.3-9.5h0m-2.3 2.8h0m29.2 7.4h0m-6.7-12.9h0m-7.5 8.5h0m-6-13.4h0m2.5 13.9h0m-8.1 6.1h0m3.3-8.5h0m2.8 3.6h0m6.2 1.8h0m5-12.5h0m-14.2 2.8h0m3.4-7.2h0m1.7-2.4h0m12.1 7.7h0m-18.3 7.8h0m-4.6-17h0m-1.2 20.6h0m17.7-7.4h0m-5.8 0.6h0m28.2-8.4h0m-38.1 11.4h0m23.4-2.3h0m-21.8 6.2h0m2.9-0.8h0m-4.4 0.8h0m13.5-5.5h0m12.5-13.4h0m-16.4 10.9h0m-6-5.4h0m4.3 2.8h0m9 0.6h0m4 9h0m-11.7 2.6h0m0.8-10.1h0m1.1-7.9h0m-13 8.3h0m15.8-1h0m6.3 12.1h0m-9.5-16h0m9.2-9.7h0m-18.6 12.6h0m7.6-1.2h0m-5.5 4.7h0m17.7 4.1h0m-20.4 0.3h0m27.1-16.4h0m-23.7 10.2h0m9.1 5.5h0m-12.5-10.5h0m14.5 4.1h0m-8 11.1h0m15.7-3.9h0m-8.8-14.6h0m-9.7 0.1h0m9.3 17.1h0m18.7-18.7h0m-26.3 16h0m-5-16.2h0m13.1 15.2h0m-12.9-5.6h0m10.5-5.6h0m-2.3-2.4h0m14.9 10.2h0m-25.5 7.3h0m12.2-10.7h0m-10.4-9.6h0m2.1 14.9h0m-2-4.9h0m11.1 4.2h0m-2.7 6.9h0m-4.7 1.8h0m9.9-12.2h0m-4.9 6.3h0m-5.4-3h0m6.5-9.6h0m-1.3-0.9h0m3.5 17.4h0m-8.7-11.6h0m9.3 9.4h0m0.9-17h0m-7.1-9.1h0m-3.5 14.1h0m5.1-1.4h0m-1.6-1.1h0m-9-1.2h0m21.9 5.3h0m-8.2 10.8h0m-0.5-8.3h0m-5.6-2.2h0m-7.9-9.1h0m11.4 1h0m-2.8 13.9h0m13.1 1.3h0m-12.5-8.1h0m16 6.3h0m-8.7 8.3h0m13.4-15.9h0m-8.3 10.6h0m-16.1-2.1h0m10-8.1h0m-10.4 0.9h0m5.9 12.1h0m-7.6 0.5h0m13.8-13.7h0m-17.2 12.6h0m14-11.7h0m6-0.2h0m-14.8 9.5h0m1.1-17.6h0m7.5 10.4h0m-4.6-2.7h0m-3.6 8.9h0m7.4-4.9h0m1.7-1.7h0m-0.7 5h0m-0.4-10.6h0m8.4 8.5h0m-15.5 4.3h0m-3.6-0.4h0m15.1-9.6h0m-6.9 10h0m29.2-12.5h0m-31.8 7h0m7.8 10.3h0m-9.7-7.4h0m18.4-3.7h0m2.1 2.2h0m-16.4 8.1h0m-1.5 2.6h0m2.8-19.4h0m-4.7 17h0m10-12.2h0m-17.3-2.8h0m12.8-4.2h0m11.2 20.7h0m-14.4-6.8h0m-5.9-6.8h0m21 14.4h0m-4.9-9.2h0m-14.7 6.2h0m-2.6-10.3h0m18.3 7.7h0m-15.7 2.2h0m1.7 1.4h0m6.7-1.9h0m-2.4-0.8h0m14.4-8.1h0m-16.4-3.4h0m19.9 6.1h0m-2.1 9.7h0m-19.4-27.3h0m-3.6 22.2h0m10-24.9h0m8.7 24.8h0m-21.5-3.8h0m8.3 2.6h0m2.7-17.2h0m8.9 19.4h0m-10.8-15.9h0m7.5 13.2h0m18.9-3.2h0m-17-1h0m-0.4 8.6h0m-7.8-7.9h0m0.6 3.7h0m-8.4-21.7h0m32.9 2.3h0m-21.7 6.6h0m9 17.4h0m7.7-7.5h0m-8.7-2.6h0m-9.5 4.8h0m-1.6-2.5h0m14.9 1.7h0m-6.7 0.7h0m-3.1-9.6h0m7.3 4.9h0m-8.9 7.4h0m-10.8-13.4h0m0.7-11.3h0m3.6 16.8h0m12.1-2.9h0m-5.8 7.2h0m-7.1-3.5h0m4.1 11.4h0m17.3-2.1h0m-23-17.6h0m4.9 19h0m11.7-9.6h0m-9.3 0.5h0m5.4 3.6h0m-0.1 2.6h0m-4.6-4.9h0m-4.9 8.3h0m-6.1-5.9h0m20.8-2h0m-1 2.1h0m-8.5-22.4h0m-2.2 14.1h0m-0.5 0.3h0m19.6 3.5h0m-26.2 1.9h0m25.6-0.2h0m-25.2-5.3h0m14.1 2.7h0m9.6-10.4h0m7.4 14.7h0m-24.8-16.8h0m-10.8 12.1h0m7.3-1.7h0m3.2 2.5h0m17.8 8h0m-21.2-9.8h0m17 2.5h0m-6.1 5.4h0m-9.3-6h0m20.4 12.2h0m-13.8-6.8h0m4.3 0.4h0m-11-2.3h0m4.7-1.8h0m9.4-0.4h0m-20.3 7h0m12-6.2h0m-4.1-0.7h0m4.4 6.1h0m3.2-2.3h0m8.8-1h0m-14.9-7.3h0m20 12.3h0m-31.3-13h0m23.9 6.4h0m-6.3-14.4h0m-4.5 7.4h0m-2.4-5.8h0m15.7 20h0m-28.2-6.6h0m2.9 3.3h0m18.3-0.9h0m-5 2h0m-13.9-12.4h0m7.7 8.7h0m13.3 5.7h0m-2.5-11h0m-16.2 10.3h0m6.8-11.4h0m1.7-6h0m-6 8.2h0m7.6-9.8h0m-7.6 10.3h0m0.8 8.6h0m11.7 2.3h0m0.9-14.4h0m-20.3 12.4h0m16.2 0.4h0m-12.8-10.1h0m6.5 2.3h0m2.6-5.5h0m-8.7 15.7h0m3.1-6h0m-6.4-8.2h0m26.9 11.8h0m-14.1-0.9h0m7.3-7.1h0m-18.3-4.4h0m9 7.3h0m11.5 7.4h0m-21.8-9.5h0m0.9-17.3h0m16.9 18.2h0m-8 2.6h0m12.3-15.7h0m-16 6.7h0m13.4 11.6h0m-2.4-15.1h0m-4.8 0.1h0m12.6 3.1h0m-15.9 14.2h0m-0.2 0.7h0m-9.8-7.4h0m10.2-4.5h0m9.1-1.4h0m-11.2 9.1h0m0.6 1.6h0m-6.3-13.5h0m14 8.6h0m-8.8-6.9h0m-3.5 10.5h0m7.1 1h0m-5.1-14h0m8.8 14.3h0m-8.6 3.2h0m23-5.4h0m-18.1-9h0m24.3 6.6h0m-31 5.4h0m7.7-1.2h0m-8-13.7h0m14.4-2.6h0m-10.8 13.8h0m12-4.3h0m-17.5-6.7h0m10.3 17.5h0m-6.1-9.5h0m5-1.2h0m-2.7 8.9h0m4.5-5h0m-11 5.6h0m15.4-12.6h0m2.3 6.2h0m-19.8-1.2h0m2.7-4.2h0m9.9 10.4h0m17.5-17.9h0m-19.3 15.5h0m18.9-14.4h0m-15.9 4.7h0m3.6 6h0m13-1.2h0m-26.1-14.6h0m15.1 13.5h0m-3.9 1.4h0m-1-2.5h0m-0.9 11.8h0m-5-12.4h0m3.7-6.5h0m-4.5 14.4h0m16-1.9h0m-19-3.8h0m6.7 2.9h0m7.5-1.5h0m7.6 6h0m-22.8-10.9h0m10.1 11.7h0m9-9.8h0m-18.2 10.1h0m5.4-15.7h0m14.1 16.4h0m-9.1-12.5h0m5.8 6.2h0m-12.4-6.3h0m-0.1-4.8h0m0.5 18.5h0m8.9-13.2h0m-7.7 13.1h0m0.4-6.2h0m-4.3-16h0m0.7 21.8h0m4.3-8.8h0m-2-6h0m-3.1 2.9h0m-2.9 0.7h0m4.5-8.1h0m10.4 17.5h0m-5.1-8.3h0m-4.4-12.8h0m6.9 11.2h0m3.4 6.1h0m-5.6 3.9h0m8.7 0.9h0m-4.8-18.7h0m-3.2 11.6h0m2.9-12.4h0m-12.4 17.9h0m3.7-6.7h0m4.3 3.7h0m8.5-3h0m-8.4-2.8h0m13.8-0.9h0m-9.5-9.6h0m28.7 13.7h0m-37.5 1.8h0m12.5-12h0m-20.9 4.9h0m10.5-4.3h0m14.4 5.7h0m-10.6 7.2h0m13.7-12.2h0m-0.9 10.2h0m-9.5-10.3h0m-9.4 1.4h0m0.7 7.3h0m-1.3 0.1h0m16.6-3.1h0m-7.9-7.9h0m-10.7 19.7h0m9.2-17.5h0m-2.7 2.8h0m6.5-6.9h0m-17.5 14.8h0m20-19.1h0m17 24.9h0m-34.3-1.9h0m21.6-8.9h0m-15.6 6.9h0m18.2 0.9h0m-0.4-4.8h0m-10.1 2.2h0m-8.1-5.6h0m13.1 9.3h0m-8.7-2.2h0m7.1 1.4h0m-3-8.6h0m-0.2 3.5h0m3.7 4.4h0m-13.6 1.2h0m13.8-9.8h0m-4.4 1h0m-14.8-1.9h0m-1.5-9.3h0m18.2 13.3h0m0.1 7.6h0m-18.4-4h0m6.5-10.9h0m0 8.8h0m2.2-14.1h0m-5.6 15.4h0m5.6-6.4h0m12.1 9.6h0m-15.6-7.7h0m17.4-9.9h0m-13.3 18.2h0m13.9-7.5h0m1.5 10.9h0m-13.3-11.2h0m-4.5 0.2h0m12.6-4.8h0m-17.5 7.9h0m12.1-1.2h0m-12.6-3.5h0m9.8-8.5h0m0 17.9h0m-7.9-8.1h0m-4.2-15h0m4.6 17.1h0m11.2 5h0m-7.3 2.5h0m27.3-15.2h0m-28.8 5.7h0m3 7.4h0m4.2-11.7h0m19.2 6h0m-28.2-2.8h0m19.8-11.7h0m-6.2 15.7h0m16.1-3.9h0m-32.1 9.6h0m6.1-16.3h0m11.3 7.5h0m-5.6-12.4h0m8.5 17.4h0m-16.8 3h0m1.1-15.6h0m1.6 6.5h0m7.9 10.7h0m-14.2-8.8h0m17.3-0.9h0m-6-1.3h0m-3.3 0.6h0m-3.9-4.5h0m10.3 12h0m-10.8-10.5h0m13.8-4.1h0m-6.3 3.2h0m-13.4-1.7h0m20.6 14.8h0m-5.1-4.1h0m-13.9-5.4h0m27.9-6.7h0m-28.2 17.7h0m17.4-4.2h0m7.7 0.6h0m-17.6-23h0m4.5 6.4h0m-13.8 16.6h0m15.6-2.4h0m-12.2-4.7h0m18-9.4h0m-8.6 3.2h0m9.1 13.5h0m-2.8-15.4h0m-6.9 17.2h0m-7.9-6.8h0m29.4-8.8h0m-14.1 7.2h0m11.9-3.1h0m-18 2.8h0m3.7 3.9h0m-14.5-9.6h0m12.4-3.9h0m-14.3 10.7h0m28 1.3h0m3.1 5.5h0m-31.4-14.7h0m25.3 2.7h0m-11.2 10.5h0m-9.4 0.8h0m27.6-7h0m-29.1 5.3h0m11.2 1.3h0m-6.2-1.2h0m10.6-7.1h0m-9 7.4h0m-9.9-17.3h0m12.5 3.9h0m1.3 2.2h0m-14.4-2.6h0m19.9 15.7h0m-15-4.7h0m8.2-9.6h0m-4.6 1.2h0m4.7 1.4h0m9.9 6.7h0m-10.5-3h0m12-2.6h0m-10.9 0.4h0m3.5-5.4h0m-3.2 12.9h0m-12.6-5.3h0m10.8 7.7h0m2.5-9.7h0m-5 2.9h0m1-0.9h0m6.4 4.1h0m-16 2.1h0m10.7-15.6h0m29.7 1.8h0m-21.3 9.2h0m1.5 2.6h0m-2.7 5.7h0m-16.5-9.7h0m3.8 7.5h0m10.1-13.1h0m-13.5 8.5h0m-1.8-6.7h0m30.2-9.8h0m-12.1 10h0m-6.1 1.3h0m0.8 11.1h0m-13.1-6.7h0m7.7-4h0m-2.1 7.8h0m1.3-11.4h0m-3 9.7h0m-2-7.7h0m26.3 10.5h0m-9.3-17.8h0m-12.8 9.4h0m-6.6-1.3h0m14.7 10h0m-7.1-5.6h0m16.8 5h0m-3.1-7.7h0m-9.5 7.5h0m0-13.6h0m6.9 5.2h0m17.4 1.4h0m-26.8 2.3h0m12.6-8h0m-17.7 2.9h0m10.9 6h0m-4.2-11.3h0m13.1 5.7h0m-21.4 5.3h0m30.3 5.8h0m-1.8-8.8h0m8.4 6.9h0m-30.9-5.6h0m22.3-12.9h0m-16.6 19.6h0m-13-5h0m0.9-7.3h0m12.4 1.7h0m-2.6 4h0m4.2 1.7h0m-1.1 7.1h0m-13.8-4.2h0m2.4 0.2h0m11.9 3.6h0m-13.6-17.3h0m7.4 15.1h0m-3.2-1.2h0m22.5 3.9h0m-10.1-10.5h0m-9.2 1h0m11.7-7h0m-5.4 17.5h0m-15.5-6.9h0m9.2-10h0m11.3-4.9h0m-20.6 20.7h0m8.1-14.3h0m6.3-3.4h0m-10.3 18.9h0m23-21.8h0m-15.3 8.4h0m-0.5 2.2h0m7.4 8.8h0m-4.6-15.3h0m-5.9 15.7h0m-4.2 2.5h0m24.9-7.1h0m-14.5 1.4h0m-1-3.1h0m2.1 4.8h0m-10.2 4.1h0m14.7-15.2h0m-16.9 0.7h0m22.3 10.6h0m-19.6-3.8h0m21 4.2h0m-19.5-11.5h0m8.1-4.8h0m-1.5-5.5h0m14.2 4.3h0m-2.9 3.1h0m-13.1 7.3h0m-11.1-3.6h0m15.8 0h0m-13.8 3.5h0m5.6 7.4h0m7-12h0m-1.7 1.9h0m2 0.4h0m12.8 10.1h0m-20.9-3.7h0m-4.6-11.3h0m0.3 8.7h0m16.3-17.2h0m9.7 12.7h0m-23.6 12.5h0m8.6-4.4h0m22-15.4h0m-30.4 7.8h0m7.2-15.9h0m-1 20.2h0m0.7-19.5h0m-3.7 14.4h0m23.8 12.3h0m-26.4-10.5h0m1.4 2.9h0m16.4-1h0m-22.2-5.4h0m17.8-3h0m-18.5 19.2h0m24-5h0m-19.3-8.3h0m12.6-8.8h0m-7.2 5.1h0m7.7 13.3h0m-15.7-0.4h0m4.1-8.1h0m11.9-11.5h0m-8.1 4.8h0m5.4 5.8h0m5.8 7.8h0m-4.7 2.4h0m-14.6-9.7h0m10.8 7.7h0m7.7 4.4h0m-9.2-6h0m-0.3-1.6h0m2.8-1.2h0m-14.5 5.4h0m19.2-4.4h0m2.3 4.4h0m-20.9-6.6h0m13.3-9.7h0m-3.4 12.2h0m4.9-3h0m8.2-0.7h0m-2.8-8.2h0m0.6 3.3h0m-22.1 5.3h0m13.2-11.2h0m-2.6 10.5h0m10.8-0.2h0m-5.9 3.5h0m-9.3-1.4h0m14.4 6.7h0m2.8-10.9h0m2.2 14.2h0m-19.5-23.5h0m19.6 22.6h0m0.2-2.1h0m-20.6-9.4h0m6 1.8h0m4.9 1.9h0m-7-2.2h0m1.5-5.1h0m-7.4 10.5h0m6.7-1.4h0m-1.9-11.8h0m-1.9 6.3h0m5.2-4.5h0m12.8 7.3h0m-5.1 3.7h0m-15.4-24.5h0m26.7 25.6h0m-22.9-8.7h0m12.3 0.6h0m-20.2 5.5h0m15.8-6h0m-14 9.3h0m15.9-12.1h0m12.4 1.4h0m-5.2 3.4h0m-15.6 5.9h0m5.8-3.7h0m6.4-3.7h0m-20.9-1.5h0m7.7 2.7h0m-3.5-4h0m2.8-5.5h0m18.8-1.5h0m-18 5.4h0m-7.2 12.2h0m21.4-14.3h0m-13.3 7.8h0m3.6 0.4h0m-2.1-0.2h0m-1.2 2.8h0m-1.2 5.2h0m0.2-5.3h0m1.2-9.4h0m7.9 12.5h0m10.2 0.4h0m1.5 1.8h0m-16.2-10h0m-2.4-1.5h0m-4.8 7.7h0m7-11.6h0m9.8 5.1h0m-3.4 2.1h0m-19 1.1h0m21.5 5.8h0m3.4-0.8h0m-10.4-18.8h0m-13.3 20.7h0m8-1.2h0m-3-15.5h0m5.6-2.1h0m3 6.8h0m8.4 3.3h0m-17.7-0.5h0m8.1 10.3h0m-6.2-16.7h0m0.8 13.6h0m0.6-10.1h0m15.7 7.6h0m-7.8 7.4h0m-10.7-18.8h0m7.6 9.9h0m-4.3-4.2h0m0.7 3.2h0m-3.6 0.1h0m-3.1 4.7h0m4 2.6h0m3.5-13.3h0m12.7 7.7h0m-21.8 0.4h0m3.8-7h0m2.9 2.8h0m4.5 0.4h0m-6.6 2.7h0m24.9 6.3h0m-17.3-8.3h0m16.2 7.8h0m-17.8-11.5h0m2.6 0.6h0m-12 6.4h0m21.5-13.2h0m-12.8 2.9h0m-4.7 2.9h0m16.9 1.7h0m1.3-1.6h0m-22.7 11.7h0m-0.4-9.3h0m11.5 6.4h0m6.4-6h0m-19.8 3.6h0m10 5.4h0m8.7-13.1h0m0.7 13.4h0m-10.9-8.4h0m-4.5 6.4h0m9.5 2.5h0m-1.3-18.8h0m-8.4 9.1h0m9.6 0.8h0m10.5 3.6h0m1.3-7.7h0m-21.2-3.4h0m-3.2 9.8h0m-1.1-15h0m29.1 22.9h0m-14.5-16.6h0m-11.6-1h0m24.5 11.3h0m-22.4 1.4h0m21.9-10.2h0m-14.8 7.2h0m8.8 8.9h0m-0.1-7.5h0m-6.9-13.7h0m6.2 17.3h0m-1.5-10.4h0m-2.1 5.2h0m-7.3-3.7h0m-9 5.4h0m12 1.8h0m-7.2-14.8h0m3.5 16.9h0m40.2-13.4h0m-35.1 6.5h0m-11.1 7.4h0m29.4 3.5h0m-10.4-12.8h0m-7.6-6.8h0m6.8 14.7h0" stroke="#000" stroke-width="1.0" stroke-linecap="round" opacity="1" fill="none"/>
</g>
<rect x="243.3" y="659.8" width="103.0" height="103.70000000000005" fill="none" stroke="#707070" stroke-width="1"/>
<line x1="267.6" y1="659.8" x2="267.6" y2="763.5" stroke="#707070" stroke-width="1"/>
<line x1="243.3" y1="739" x2="346.3" y2="739" stroke="#707070" stroke-width="1"/>
<rect x="400.5" y="660" width="103.0" height="103.5" fill="none" stroke="#707070" stroke-width="1"/>
<line x1="424.6" y1="660" x2="424.6" y2="763.5" stroke="#707070" stroke-width="1"/>
<line x1="400.5" y1="741.5" x2="503.5" y2="741.5" stroke="#707070" stroke-width="1"/>
<path d="M243.3 763.5v2.5M243.3 763.5h-2.5M251.1 763.5v1.5M243.3 755.7h-1.5M255.6 763.5v1.5M243.3 751.1h-1.5M258.8 763.5v1.5M243.3 747.9h-1.5M261.3 763.5v1.5M243.3 745.4h-1.5M263.3 763.5v1.5M243.3 743.3h-1.5M265.1 763.5v1.5M243.3 741.6h-1.5M266.6 763.5v1.5M243.3 740.1h-1.5M267.9 763.5v1.5M243.3 738.8h-1.5M269.1 763.5v2.5M243.3 737.6h-2.5M276.8 763.5v1.5M243.3 729.8h-1.5M281.3 763.5v1.5M243.3 725.2h-1.5M284.6 763.5v1.5M243.3 722.0h-1.5M287.0 763.5v1.5M243.3 719.5h-1.5M289.1 763.5v1.5M243.3 717.4h-1.5M290.8 763.5v1.5M243.3 715.7h-1.5M292.3 763.5v1.5M243.3 714.2h-1.5M293.6 763.5v1.5M243.3 712.8h-1.5M294.8 763.5v2.5M243.3 711.6h-2.5M302.6 763.5v1.5M243.3 703.8h-1.5M307.1 763.5v1.5M243.3 699.3h-1.5M310.3 763.5v1.5M243.3 696.0h-1.5M312.8 763.5v1.5M243.3 693.5h-1.5M314.8 763.5v1.5M243.3 691.5h-1.5M316.6 763.5v1.5M243.3 689.7h-1.5M318.1 763.5v1.5M243.3 688.2h-1.5M319.4 763.5v1.5M243.3 686.9h-1.5M320.6 763.5v2.5M243.3 685.7h-2.5M328.3 763.5v1.5M243.3 677.9h-1.5M332.8 763.5v1.5M243.3 673.4h-1.5M336.1 763.5v1.5M243.3 670.1h-1.5M338.5 763.5v1.5M243.3 667.6h-1.5M340.6 763.5v1.5M243.3 665.6h-1.5M342.3 763.5v1.5M243.3 663.8h-1.5M343.8 763.5v1.5M243.3 662.3h-1.5M345.1 763.5v1.5M243.3 661.0h-1.5" stroke="#707070" stroke-width="0.8" fill="none"/>
<path d="M400.5 763.5v2.5M400.5 763.5h-2.5M408.3 763.5v1.5M400.5 755.7h-1.5M412.8 763.5v1.5M400.5 751.2h-1.5M416.0 763.5v1.5M400.5 747.9h-1.5M418.5 763.5v1.5M400.5 745.4h-1.5M420.5 763.5v1.5M400.5 743.4h-1.5M422.3 763.5v1.5M400.5 741.6h-1.5M423.8 763.5v1.5M400.5 740.1h-1.5M425.1 763.5v1.5M400.5 738.8h-1.5M426.2 763.5v2.5M400.5 737.6h-2.5M434.0 763.5v1.5M400.5 729.8h-1.5M438.5 763.5v1.5M400.5 725.3h-1.5M441.8 763.5v1.5M400.5 722.0h-1.5M444.2 763.5v1.5M400.5 719.5h-1.5M446.3 763.5v1.5M400.5 717.5h-1.5M448.0 763.5v1.5M400.5 715.8h-1.5M449.5 763.5v1.5M400.5 714.3h-1.5M450.8 763.5v1.5M400.5 712.9h-1.5M452.0 763.5v2.5M400.5 711.8h-2.5M459.8 763.5v1.5M400.5 704.0h-1.5M464.3 763.5v1.5M400.5 699.4h-1.5M467.5 763.5v1.5M400.5 696.2h-1.5M470.0 763.5v1.5M400.5 693.7h-1.5M472.0 763.5v1.5M400.5 691.6h-1.5M473.8 763.5v1.5M400.5 689.9h-1.5M475.3 763.5v1.5M400.5 688.4h-1.5M476.6 763.5v1.5M400.5 687.1h-1.5M477.8 763.5v2.5M400.5 685.9h-2.5M485.5 763.5v1.5M400.5 678.1h-1.5M490.0 763.5v1.5M400.5 673.5h-1.5M493.3 763.5v1.5M400.5 670.3h-1.5M495.7 763.5v1.5M400.5 667.8h-1.5M497.8 763.5v1.5M400.5 665.7h-1.5M499.5 763.5v1.5M400.5 664.0h-1.5M501.0 763.5v1.5M400.5 662.5h-1.5M502.3 763.5v1.5M400.5 661.2h-1.5" stroke="#707070" stroke-width="0.8" fill="none"/>
<text x="239.3" y="768.6" font-size="11.8" font-weight="bold" text-anchor="end">10<tspan font-size="7.8" dx="-0.6" dy="-5.0">0</tspan></text>
<text x="243.60000000000002" y="781.2" font-size="12" font-weight="bold" text-anchor="middle">10<tspan font-size="8.5" dx="-0.6" dy="-5.0">0</tspan></text>
<text x="239.3" y="742.6750000000001" font-size="11.8" font-weight="bold" text-anchor="end">10<tspan font-size="7.8" dx="-0.6" dy="-5.0">1</tspan></text>
<text x="269.35" y="781.2" font-size="12" font-weight="bold" text-anchor="middle">10<tspan font-size="8.5" dx="-0.6" dy="-5.0">1</tspan></text>
<text x="239.3" y="716.75" font-size="11.8" font-weight="bold" text-anchor="end">10<tspan font-size="7.8" dx="-0.6" dy="-5.0">2</tspan></text>
<text x="295.1" y="781.2" font-size="12" font-weight="bold" text-anchor="middle">10<tspan font-size="8.5" dx="-0.6" dy="-5.0">2</tspan></text>
<text x="239.3" y="690.8249999999999" font-size="11.8" font-weight="bold" text-anchor="end">10<tspan font-size="7.8" dx="-0.6" dy="-5.0">3</tspan></text>
<text x="320.85" y="781.2" font-size="12" font-weight="bold" text-anchor="middle">10<tspan font-size="8.5" dx="-0.6" dy="-5.0">3</tspan></text>
<text x="239.3" y="664.9" font-size="11.8" font-weight="bold" text-anchor="end">10<tspan font-size="7.8" dx="-0.6" dy="-5.0">4</tspan></text>
<text x="346.6" y="781.2" font-size="12" font-weight="bold" text-anchor="middle">10<tspan font-size="8.5" dx="-0.6" dy="-5.0">4</tspan></text>
<text x="396.5" y="768.6" font-size="11.8" font-weight="bold" text-anchor="end">10<tspan font-size="7.8" dx="-0.6" dy="-5.0">0</tspan></text>
<text x="400.8" y="781.2" font-size="12" font-weight="bold" text-anchor="middle">10<tspan font-size="8.5" dx="-0.6" dy="-5.0">0</tspan></text>
<text x="396.5" y="742.725" font-size="11.8" font-weight="bold" text-anchor="end">10<tspan font-size="7.8" dx="-0.6" dy="-5.0">1</tspan></text>
<text x="426.55" y="781.2" font-size="12" font-weight="bold" text-anchor="middle">10<tspan font-size="8.5" dx="-0.6" dy="-5.0">1</tspan></text>
<text x="396.5" y="716.85" font-size="11.8" font-weight="bold" text-anchor="end">10<tspan font-size="7.8" dx="-0.6" dy="-5.0">2</tspan></text>
<text x="452.3" y="781.2" font-size="12" font-weight="bold" text-anchor="middle">10<tspan font-size="8.5" dx="-0.6" dy="-5.0">2</tspan></text>
<text x="396.5" y="690.975" font-size="11.8" font-weight="bold" text-anchor="end">10<tspan font-size="7.8" dx="-0.6" dy="-5.0">3</tspan></text>
<text x="478.05" y="781.2" font-size="12" font-weight="bold" text-anchor="middle">10<tspan font-size="8.5" dx="-0.6" dy="-5.0">3</tspan></text>
<text x="396.5" y="665.1" font-size="11.8" font-weight="bold" text-anchor="end">10<tspan font-size="7.8" dx="-0.6" dy="-5.0">4</tspan></text>
<text x="503.8" y="781.2" font-size="12" font-weight="bold" text-anchor="middle">10<tspan font-size="8.5" dx="-0.6" dy="-5.0">4</tspan></text>
<text x="322.6" y="676.2" font-size="13" font-weight="normal" text-anchor="end" >21.3</text>
<text x="327.6" y="676.2" font-size="13" font-weight="normal" text-anchor="start" >3.6</text>
<text x="327.6" y="691.4" font-size="13" font-weight="normal" text-anchor="start" >9.3</text>
<line x1="309.8" y1="679.4" x2="339.9" y2="679.4" stroke="#000" stroke-width="1.4"/>
<line x1="324.8" y1="664.8" x2="324.8" y2="695.5" stroke="#000" stroke-width="1.4"/>
<text x="472.8" y="675.3" font-size="13" font-weight="normal" text-anchor="end" >6.5</text>
<text x="503.2" y="675.3" font-size="13" font-weight="normal" text-anchor="end" >2.4</text>
<text x="503.2" y="690.3" font-size="13" font-weight="normal" text-anchor="end" >11.7</text>
<line x1="461.3" y1="676.7" x2="491.3" y2="676.7" stroke="#000" stroke-width="1.4"/>
<line x1="475.8" y1="664.3" x2="475.8" y2="693.9" stroke="#000" stroke-width="1.4"/>
<text x="0" y="0" font-size="18.5" font-weight="bold" text-anchor="middle" transform="translate(216.5,688.5) rotate(-90)">IL-17</text>
<line x1="212" y1="799.7" x2="212" y2="727.4" stroke="#000" stroke-width="2"/>
<line x1="211" y1="799.7" x2="271" y2="799.7" stroke="#000" stroke-width="2"/>
<path d="M212 719.4L207.2 728.4L216.8 728.4Z" fill="#000"/>
<path d="M279 799.7L270 794.9000000000001L270 804.5Z" fill="#000"/>
<text x="296" y="807.7" font-size="18" font-weight="bold" text-anchor="start" >IFN-γ</text>
</svg>
</body></html>
